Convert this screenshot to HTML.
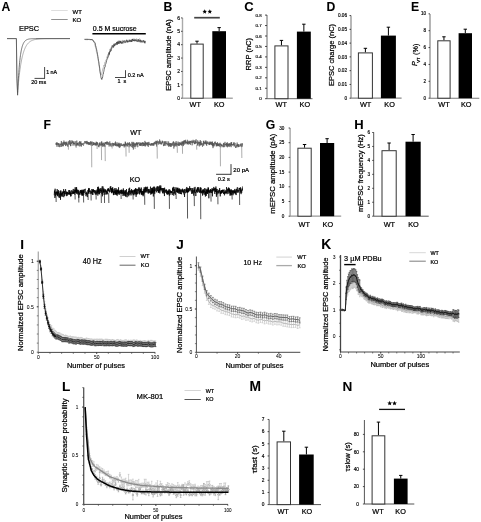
<!DOCTYPE html>
<html><head><meta charset="utf-8"><style>
html,body{margin:0;padding:0;background:#fff;}
svg{display:block;filter:blur(0.35px);}
text{font-family:"Liberation Sans", sans-serif;stroke:#000;stroke-width:0.22px;}
text[font-weight=bold]{stroke-width:0.05px;}
</style></head><body>
<svg width="481" height="522" viewBox="0 0 481 522" font-family='"Liberation Sans", sans-serif'>
<rect width="481" height="522" fill="#fff"/>
<text x="1.5" y="11.3" font-size="12.2" font-weight="bold">A</text>
<line x1="51.2" y1="10.5" x2="67.7" y2="10.5" stroke="#dedede" stroke-width="1"/>
<line x1="51.2" y1="19.5" x2="67.7" y2="19.5" stroke="#909090" stroke-width="1"/>
<text x="72.5" y="13.5" font-size="6">WT</text>
<text x="72.5" y="21.5" font-size="6">KO</text>
<text x="19" y="31.1" font-size="7.4">EPSC</text>
<polyline points="7,38.6 16.4,38.6 16.9,76.4 17.6,92.6 17.8,90.15 18,87.8 18.2,85.57 18.4,83.43 18.6,81.4 18.8,79.45 19,77.59 19.2,75.82 19.4,74.13 19.6,72.52 19.8,70.97 20,69.5 20.2,68.1 20.4,66.76 20.6,65.48 20.8,64.26 21,63.09 21.2,61.98 21.4,60.92 21.6,59.9 21.8,58.93 22,58.01 22.2,57.13 22.4,56.28 22.6,55.48 22.8,54.71 23,53.98 23.2,53.28 23.4,52.62 23.6,51.98 23.8,51.37 24,50.79 24.2,50.24 24.4,49.71 24.6,49.2 24.8,48.72 25,48.26 25.2,47.82 25.4,47.4 25.6,47 25.8,46.62 26,46.26 26.2,45.91 26.4,45.58 26.6,45.26 26.8,44.96 27,44.67 27.2,44.39 27.4,44.13 27.6,43.88 27.8,43.64 28,43.41 28.2,43.19 28.4,42.98 28.6,42.78 28.8,42.59 29,42.41 29.2,42.24 29.4,42.07 29.6,41.91 29.8,41.76 30,41.62 30.2,41.48 30.4,41.35 30.6,41.23 30.8,41.11 31,40.99 31.2,40.88 31.4,40.78 31.6,40.68 31.8,40.59 32,40.5 32.2,40.41 32.4,40.33 32.6,40.25 32.8,40.17 33,40.1 33.2,40.03 33.4,39.97 33.6,39.91 33.8,39.85 34,39.79 34.2,39.74 34.4,39.69 34.6,39.64 34.8,39.59 35,39.54 35.2,39.5 35.4,39.46 35.6,39.42 35.8,39.38 36,39.35 38,39.07 40,38.9 42,38.79 44,38.72 46,38.67 48,38.65 50,38.63 52,38.62 54,38.61 56,38.61 58,38.6 60,38.6 62,38.6 64,38.6 66,38.6 68,38.6 70,38.6" fill="none" stroke="#8a8a8a" stroke-width="0.7" stroke-linejoin="round"/>
<polyline points="7,38.6 16.4,38.6 16.9,78.22 17.6,95.2 17.8,90.58 18,86.34 18.2,82.45 18.4,78.87 18.6,75.58 18.8,72.57 19,69.8 19.2,67.25 19.4,64.91 19.6,62.77 19.8,60.79 20,58.98 20.2,57.32 20.4,55.79 20.6,54.39 20.8,53.1 21,51.92 21.2,50.83 21.4,49.83 21.6,48.92 21.8,48.08 22,47.3 22.2,46.59 22.4,45.94 22.6,45.34 22.8,44.79 23,44.29 23.2,43.82 23.4,43.4 23.6,43.01 23.8,42.65 24,42.32 24.2,42.01 24.4,41.73 24.6,41.48 24.8,41.24 25,41.03 25.2,40.83 25.4,40.65 25.6,40.48 25.8,40.33 26,40.19 26.2,40.06 26.4,39.94 26.6,39.83 26.8,39.73 27,39.64 27.2,39.55 27.4,39.47 27.6,39.4 27.8,39.34 28,39.28 28.2,39.22 28.4,39.17 28.6,39.12 28.8,39.08 29,39.04 29.2,39.01 29.4,38.97 29.6,38.94 29.8,38.91 30,38.89 30.2,38.87 30.4,38.84 30.6,38.82 30.8,38.81 31,38.79 31.2,38.77 31.4,38.76 31.6,38.75 31.8,38.73 32,38.72 32.2,38.71 32.4,38.7 32.6,38.7 32.8,38.69 33,38.68 33.2,38.67 33.4,38.67 33.6,38.66 33.8,38.66 34,38.65 34.2,38.65 34.4,38.64 34.6,38.64 34.8,38.64 35,38.63 35.2,38.63 35.4,38.63 35.6,38.63 35.8,38.62 36,38.62 38,38.61 40,38.6 42,38.6 44,38.6 46,38.6 48,38.6 50,38.6 52,38.6 54,38.6 56,38.6 58,38.6 60,38.6 62,38.6 64,38.6 66,38.6 68,38.6 70,38.6" fill="none" stroke="#4a4a4a" stroke-width="0.75" stroke-linejoin="round"/>
<line x1="44.6" y1="67" x2="44.6" y2="78.5" stroke="#333" stroke-width="0.9"/>
<line x1="34.5" y1="78.4" x2="45" y2="78.4" stroke="#333" stroke-width="0.9"/>
<text x="46.2" y="74.1" font-size="5.3">1 nA</text>
<text x="31.2" y="84.3" font-size="5.5">20 ms</text>
<text x="92.8" y="30.5" font-size="7">0.5 M sucrose</text>
<line x1="92.4" y1="33.8" x2="145.8" y2="33.8" stroke="#000" stroke-width="1.4"/>
<polyline points="84.4,38.94 84.7,39.26 85,39.1 85.3,39.35 85.6,39.39 85.9,38.85 86.2,38.81 86.5,39.65 86.8,39.09 87.1,39.08 87.4,39.86 87.7,39.35 88,39.74 88.3,39.41 88.6,39.6 88.9,39.15 89.2,39.67 89.5,39.93 89.8,39.62 90.1,39.87 90.4,39.83 90.7,39.26 91,39.98 91.3,39.85 91.6,39.59 91.9,39.35 92.2,40.22 92.5,39.86 92.8,40.42 93.1,41.03 93.4,41.31 93.7,41.97 94,41.89 94.3,42.75 94.6,43.29 94.9,44.89 95.2,46.32 95.5,45.87 95.8,47.06 96.1,48.7 96.4,51.67 96.7,52.09 97,53.95 97.3,54.78 97.6,56.78 97.9,58.12 98.2,59.64 98.5,61.69 98.8,63.39 99.1,65.96 99.4,67.45 99.7,69.88 100,71.67 100.3,73.35 100.6,73.85 100.9,73.52 101.2,74.69 101.5,74.67 101.8,73.72 102.1,71.9 102.4,71.05 102.7,68.9 103,69 103.3,67.66 103.6,66.26 103.9,64.99 104.2,65.74 104.5,65.19 104.8,62.56 105.1,63.16 105.4,61.55 105.7,60.21 106,59.67 106.3,59.85 106.6,59.3 106.9,56.88 107.2,57.25 107.5,55.35 107.8,55.93 108.1,54.05 108.4,55.48 108.7,55.12 109,52.52 109.3,53.94 109.6,50.64 109.9,49.16 110.2,50.69 110.5,47.87 110.8,47.98 111.1,48.27 111.4,48.53 111.7,46.16 112,45.31 112.3,48.3 112.6,45.77 112.9,48.04 113.2,47.48 113.5,45.09 113.8,45.11 114.1,45.03 114.4,45.21 114.7,44.76 115,44.47 115.3,44.57 115.6,45.71 115.9,43.83 116.2,43.38 116.5,44.4 116.8,42.32 117.1,42.43 117.4,44.99 117.7,43.02 118,42.99 118.3,40.69 118.6,42.23 118.9,42.84 119.2,40.55 119.5,42.89 119.8,42.9 120.1,40.57 120.4,42.79 120.7,42.1 121,42.9 121.3,41.54 121.6,42.91 121.9,42.99 122.2,40.08 122.5,40.18 122.8,42.6 123.1,43.7 123.4,40.8 123.7,41.57 124,42.07 124.3,40.94 124.6,41.07 124.9,40.82 125.2,41 125.5,41.86 125.8,40.63 126.1,40.89 126.4,42.43 126.7,39.4 127,41.53 127.3,42.15 127.6,40.4 127.9,40.01 128.2,42.29 128.5,39.98 128.8,39.73 129.1,40.68 129.4,41.68 129.7,39.25 130,40.09 130.3,40.08 130.6,42.03 130.9,40.4 131.2,42.02 131.5,39.22 131.8,39.84 132.1,41.04 132.4,41.93 132.7,40.15 133,39.19 133.3,38.72 133.6,40.31 133.9,38.9 134.2,41.31 134.5,41.39 134.8,38.72 135.1,39.05 135.4,41.14 135.7,40.53 136,41.23 136.3,39.43 136.6,38.61 136.9,39.31 137.2,41.36 137.5,39.31 137.8,39.66 138.1,39.98 138.4,40.04 138.7,40.04 139,42.13 139.3,39.12 139.6,38.56 139.9,42.36 140.2,42.18 140.5,42.7 140.8,40.58 141.1,42.73 141.4,42.73 141.7,40 142,42.18 142.3,42.64 142.6,42.03 142.9,41.55 143.2,40.74 143.5,41.08 143.8,40.76 144.1,40.26 144.4,42.47 144.7,41.4 145,43.62 145.3,40.69" fill="none" stroke="#a8a8a8" stroke-width="0.7" stroke-linejoin="round"/>
<polyline points="84.4,39.29 84.7,39.4 85,39.45 85.3,39.58 85.6,39.45 85.9,39.6 86.2,38.95 86.5,39.29 86.8,39.67 87.1,39.46 87.4,39.67 87.7,39.09 88,39.38 88.3,39.24 88.6,39.5 88.9,39.55 89.2,39.17 89.5,39.35 89.8,39.43 90.1,39.94 90.4,39.86 90.7,39.44 91,39.95 91.3,39.49 91.6,39.88 91.9,39.54 92.2,39.48 92.5,40.17 92.8,39.91 93.1,40.25 93.4,41.16 93.7,41.42 94,41.32 94.3,42.16 94.6,42.18 94.9,42.62 95.2,42.99 95.5,45.33 95.8,46.2 96.1,47.86 96.4,48.99 96.7,49.82 97,51.63 97.3,53.06 97.6,54.75 97.9,56.35 98.2,58.54 98.5,60.84 98.8,61.78 99.1,64.64 99.4,66.11 99.7,68.31 100,71.33 100.3,73.07 100.6,75.07 100.9,76.96 101.2,78.62 101.5,78.45 101.8,79.56 102.1,77.87 102.4,77.99 102.7,76.8 103,74.23 103.3,74.06 103.6,72.1 103.9,71.22 104.2,69.16 104.5,68.02 104.8,67.02 105.1,66.98 105.4,64.64 105.7,64.28 106,63.34 106.3,62.47 106.6,60.69 106.9,59.81 107.2,59.18 107.5,58.67 107.8,56.77 108.1,57.22 108.4,56.47 108.7,55.77 109,52.5 109.3,54.58 109.6,51.38 109.9,51.48 110.2,51.65 110.5,51.93 110.8,49.56 111.1,50.67 111.4,48.89 111.7,47.55 112,47.11 112.3,46.33 112.6,45.66 112.9,45.51 113.2,46.77 113.5,47.33 113.8,44.46 114.1,43.75 114.4,46.2 114.7,44.55 115,44.02 115.3,43.36 115.6,44.28 115.9,44.83 116.2,43.57 116.5,43.32 116.8,42.07 117.1,44.5 117.4,41.7 117.7,42.93 118,43.82 118.3,41.54 118.6,43.26 118.9,43.87 119.2,42.86 119.5,43.29 119.8,41.19 120.1,42.13 120.4,41.23 120.7,43.26 121,41.57 121.3,41.99 121.6,43.58 121.9,43.09 122.2,43.42 122.5,41.8 122.8,41.86 123.1,42.53 123.4,41.73 123.7,41.12 124,41.41 124.3,40.59 124.6,41.24 124.9,43.03 125.2,42.9 125.5,41.86 125.8,41.43 126.1,40.9 126.4,40.11 126.7,40.61 127,42.1 127.3,42.31 127.6,40.74 127.9,41.97 128.2,41.89 128.5,41.61 128.8,41.47 129.1,41.71 129.4,40.48 129.7,41.46 130,40.14 130.3,40.71 130.6,41.51 130.9,41.22 131.2,39.98 131.5,41.88 131.8,40.94 132.1,40.69 132.4,38.93 132.7,40.48 133,39.54 133.3,40.75 133.6,40.08 133.9,41.09 134.2,40.53 134.5,40.93 134.8,39.53 135.1,40.37 135.4,40.63 135.7,40.94 136,39.55 136.3,41.08 136.6,41.2 136.9,40.7 137.2,41.61 137.5,41.6 137.8,40.33 138.1,40.41 138.4,39.36 138.7,41.42 139,41.76 139.3,40.43 139.6,41.11 139.9,41.24 140.2,41.35 140.5,39.77 140.8,41.68 141.1,41.17 141.4,41.52 141.7,40.87 142,41.57 142.3,42.11 142.6,41.79 142.9,42.13 143.2,40.17 143.5,40.7 143.8,41.68 144.1,42.43 144.4,41.27 144.7,42.81 145,42.77 145.3,41.14" fill="none" stroke="#3a3a3a" stroke-width="0.7" stroke-linejoin="round"/>
<line x1="125.5" y1="70.2" x2="125.5" y2="77.9" stroke="#333" stroke-width="0.9"/>
<line x1="115" y1="77.5" x2="125.9" y2="77.5" stroke="#333" stroke-width="0.9"/>
<text x="127.7" y="76.8" font-size="5.5">0.2 nA</text>
<text x="117.5" y="83" font-size="5.5">1&#160;&#160;s</text>
<text x="163.5" y="11.4" font-size="12.2" font-weight="bold">B</text>
<line x1="182.5" y1="17.9" x2="182.5" y2="98.2" stroke="#aaa" stroke-width="1.4"/>
<line x1="182.5" y1="98.2" x2="232.8" y2="98.2" stroke="#aaa" stroke-width="1.4"/>
<line x1="181" y1="98.2" x2="182.5" y2="98.2" stroke="#222" stroke-width="0.8"/>
<text x="180" y="100" font-size="5" text-anchor="end" style="stroke:#000;stroke-width:0.16px">0</text>
<line x1="181" y1="84.82" x2="182.5" y2="84.82" stroke="#222" stroke-width="0.8"/>
<text x="180" y="86.62" font-size="5" text-anchor="end" style="stroke:#000;stroke-width:0.16px">1</text>
<line x1="181" y1="71.44" x2="182.5" y2="71.44" stroke="#222" stroke-width="0.8"/>
<text x="180" y="73.24" font-size="5" text-anchor="end" style="stroke:#000;stroke-width:0.16px">2</text>
<line x1="181" y1="58.06" x2="182.5" y2="58.06" stroke="#222" stroke-width="0.8"/>
<text x="180" y="59.86" font-size="5" text-anchor="end" style="stroke:#000;stroke-width:0.16px">3</text>
<line x1="181" y1="44.68" x2="182.5" y2="44.68" stroke="#222" stroke-width="0.8"/>
<text x="180" y="46.48" font-size="5" text-anchor="end" style="stroke:#000;stroke-width:0.16px">4</text>
<line x1="181" y1="31.3" x2="182.5" y2="31.3" stroke="#222" stroke-width="0.8"/>
<text x="180" y="33.1" font-size="5" text-anchor="end" style="stroke:#000;stroke-width:0.16px">5</text>
<line x1="181" y1="17.92" x2="182.5" y2="17.92" stroke="#222" stroke-width="0.8"/>
<text x="180" y="19.72" font-size="5" text-anchor="end" style="stroke:#000;stroke-width:0.16px">6</text>
<line x1="197" y1="43.6" x2="197" y2="41.2" stroke="#000" stroke-width="1"/>
<line x1="195.3" y1="41.2" x2="198.7" y2="41.2" stroke="#000" stroke-width="1"/>
<rect x="190.8" y="44.1" width="12.4" height="54.1" fill="#fff" stroke="#333" stroke-width="1"/>
<line x1="219.15" y1="31.2" x2="219.15" y2="27.6" stroke="#000" stroke-width="1"/>
<line x1="217.45" y1="27.6" x2="220.85" y2="27.6" stroke="#000" stroke-width="1"/>
<rect x="212.3" y="31.2" width="13.7" height="67" fill="#000"/>
<text x="195.3" y="106.9" font-size="7.3" text-anchor="middle">WT</text>
<text x="219.2" y="106.9" font-size="7.3" text-anchor="middle">KO</text>
<text x="170.8" y="55" font-size="7.5" text-anchor="middle" transform="rotate(-90 170.8 55)">EPSC amplitude (nA)</text>
<line x1="194.2" y1="17.7" x2="219.8" y2="17.7" stroke="#444" stroke-width="1.7"/>
<polygon points="204.7,9.34 205.33,10.87 206.98,11 205.73,12.07 206.11,13.68 204.7,12.82 203.29,13.68 203.67,12.07 202.42,11 204.07,10.87" fill="#000"/>
<polygon points="209.8,9.34 210.43,10.87 212.08,11 210.83,12.07 211.21,13.68 209.8,12.82 208.39,13.68 208.77,12.07 207.52,11 209.17,10.87" fill="#000"/>
<text x="244.2" y="11.4" font-size="13" font-weight="bold">C</text>
<line x1="267" y1="15" x2="267" y2="98.7" stroke="#666" stroke-width="1"/>
<line x1="267" y1="98.7" x2="312.5" y2="98.7" stroke="#666" stroke-width="1"/>
<line x1="265" y1="98.7" x2="267" y2="98.7" stroke="#222" stroke-width="0.8"/>
<text x="261.7" y="100.28" font-size="4.4" text-anchor="end" style="stroke:#000;stroke-width:0.16px">0</text>
<line x1="265" y1="88.25" x2="267" y2="88.25" stroke="#222" stroke-width="0.8"/>
<text x="261.7" y="89.83" font-size="4.4" text-anchor="end" style="stroke:#000;stroke-width:0.16px">0.1</text>
<line x1="265" y1="77.8" x2="267" y2="77.8" stroke="#222" stroke-width="0.8"/>
<text x="261.7" y="79.38" font-size="4.4" text-anchor="end" style="stroke:#000;stroke-width:0.16px">0.2</text>
<line x1="265" y1="67.35" x2="267" y2="67.35" stroke="#222" stroke-width="0.8"/>
<text x="261.7" y="68.93" font-size="4.4" text-anchor="end" style="stroke:#000;stroke-width:0.16px">0.3</text>
<line x1="265" y1="56.9" x2="267" y2="56.9" stroke="#222" stroke-width="0.8"/>
<text x="261.7" y="58.48" font-size="4.4" text-anchor="end" style="stroke:#000;stroke-width:0.16px">0.4</text>
<line x1="265" y1="46.45" x2="267" y2="46.45" stroke="#222" stroke-width="0.8"/>
<text x="261.7" y="48.03" font-size="4.4" text-anchor="end" style="stroke:#000;stroke-width:0.16px">0.5</text>
<line x1="265" y1="36" x2="267" y2="36" stroke="#222" stroke-width="0.8"/>
<text x="261.7" y="37.58" font-size="4.4" text-anchor="end" style="stroke:#000;stroke-width:0.16px">0.6</text>
<line x1="265" y1="25.55" x2="267" y2="25.55" stroke="#222" stroke-width="0.8"/>
<text x="261.7" y="27.13" font-size="4.4" text-anchor="end" style="stroke:#000;stroke-width:0.16px">0.7</text>
<line x1="265" y1="15.1" x2="267" y2="15.1" stroke="#222" stroke-width="0.8"/>
<text x="261.7" y="16.68" font-size="4.4" text-anchor="end" style="stroke:#000;stroke-width:0.16px">0.8</text>
<line x1="281.45" y1="45.4" x2="281.45" y2="40.4" stroke="#000" stroke-width="1"/>
<line x1="279.75" y1="40.4" x2="283.15" y2="40.4" stroke="#000" stroke-width="1"/>
<rect x="274.9" y="45.9" width="13.1" height="52.8" fill="#fff" stroke="#333" stroke-width="1"/>
<line x1="303.85" y1="31.6" x2="303.85" y2="24.2" stroke="#000" stroke-width="1"/>
<line x1="302.15" y1="24.2" x2="305.55" y2="24.2" stroke="#000" stroke-width="1"/>
<rect x="296.9" y="31.6" width="13.9" height="67.1" fill="#000"/>
<text x="281.3" y="106.7" font-size="7.3" text-anchor="middle">WT</text>
<text x="304.8" y="106.7" font-size="7.3" text-anchor="middle">KO</text>
<text x="251.3" y="54.2" font-size="7.5" text-anchor="middle" transform="rotate(-90 251.3 54.2)">RRP (nC)</text>
<text x="326.5" y="11.4" font-size="12.2" font-weight="bold">D</text>
<line x1="351" y1="15.6" x2="351" y2="98.2" stroke="#888" stroke-width="1.2"/>
<line x1="351" y1="98.2" x2="401.6" y2="98.2" stroke="#888" stroke-width="1.2"/>
<line x1="349.5" y1="98.2" x2="351" y2="98.2" stroke="#222" stroke-width="0.8"/>
<text x="347" y="99.89" font-size="4.7" text-anchor="end" style="stroke:#000;stroke-width:0.16px">0</text>
<line x1="349.5" y1="84.43" x2="351" y2="84.43" stroke="#222" stroke-width="0.8"/>
<text x="347" y="86.12" font-size="4.7" text-anchor="end" style="stroke:#000;stroke-width:0.16px">0.01</text>
<line x1="349.5" y1="70.66" x2="351" y2="70.66" stroke="#222" stroke-width="0.8"/>
<text x="347" y="72.35" font-size="4.7" text-anchor="end" style="stroke:#000;stroke-width:0.16px">0.02</text>
<line x1="349.5" y1="56.89" x2="351" y2="56.89" stroke="#222" stroke-width="0.8"/>
<text x="347" y="58.58" font-size="4.7" text-anchor="end" style="stroke:#000;stroke-width:0.16px">0.03</text>
<line x1="349.5" y1="43.12" x2="351" y2="43.12" stroke="#222" stroke-width="0.8"/>
<text x="347" y="44.81" font-size="4.7" text-anchor="end" style="stroke:#000;stroke-width:0.16px">0.04</text>
<line x1="349.5" y1="29.35" x2="351" y2="29.35" stroke="#222" stroke-width="0.8"/>
<text x="347" y="31.04" font-size="4.7" text-anchor="end" style="stroke:#000;stroke-width:0.16px">0.05</text>
<line x1="349.5" y1="15.58" x2="351" y2="15.58" stroke="#222" stroke-width="0.8"/>
<text x="347" y="17.27" font-size="4.7" text-anchor="end" style="stroke:#000;stroke-width:0.16px">0.06</text>
<line x1="365.4" y1="52.4" x2="365.4" y2="48.3" stroke="#000" stroke-width="1"/>
<line x1="363.7" y1="48.3" x2="367.1" y2="48.3" stroke="#000" stroke-width="1"/>
<rect x="358.4" y="52.9" width="14" height="45.3" fill="#fff" stroke="#333" stroke-width="1"/>
<line x1="388.4" y1="35.6" x2="388.4" y2="27.2" stroke="#000" stroke-width="1"/>
<line x1="386.7" y1="27.2" x2="390.1" y2="27.2" stroke="#000" stroke-width="1"/>
<rect x="380.9" y="35.6" width="15" height="62.6" fill="#000"/>
<text x="365.6" y="106.9" font-size="7.3" text-anchor="middle">WT</text>
<text x="389.6" y="106.9" font-size="7.3" text-anchor="middle">KO</text>
<text x="334.2" y="55" font-size="7.5" text-anchor="middle" transform="rotate(-90 334.2 55)">EPSC charge (nC)</text>
<text x="411" y="11.4" font-size="12.2" font-weight="bold">E</text>
<line x1="430" y1="14" x2="430" y2="98.2" stroke="#777" stroke-width="1.1"/>
<line x1="430" y1="98.2" x2="479.3" y2="98.2" stroke="#777" stroke-width="1.1"/>
<line x1="428.5" y1="98.2" x2="430" y2="98.2" stroke="#222" stroke-width="0.8"/>
<text x="426" y="99.86" font-size="4.6" text-anchor="end" style="stroke:#000;stroke-width:0.16px">0</text>
<line x1="428.5" y1="81.32" x2="430" y2="81.32" stroke="#222" stroke-width="0.8"/>
<text x="426" y="82.98" font-size="4.6" text-anchor="end" style="stroke:#000;stroke-width:0.16px">2</text>
<line x1="428.5" y1="64.44" x2="430" y2="64.44" stroke="#222" stroke-width="0.8"/>
<text x="426" y="66.1" font-size="4.6" text-anchor="end" style="stroke:#000;stroke-width:0.16px">4</text>
<line x1="428.5" y1="47.56" x2="430" y2="47.56" stroke="#222" stroke-width="0.8"/>
<text x="426" y="49.22" font-size="4.6" text-anchor="end" style="stroke:#000;stroke-width:0.16px">6</text>
<line x1="428.5" y1="30.68" x2="430" y2="30.68" stroke="#222" stroke-width="0.8"/>
<text x="426" y="32.34" font-size="4.6" text-anchor="end" style="stroke:#000;stroke-width:0.16px">8</text>
<line x1="428.5" y1="13.8" x2="430" y2="13.8" stroke="#222" stroke-width="0.8"/>
<text x="426" y="15.46" font-size="4.6" text-anchor="end" style="stroke:#000;stroke-width:0.16px">10</text>
<line x1="443.95" y1="40.3" x2="443.95" y2="36.8" stroke="#000" stroke-width="1"/>
<line x1="442.25" y1="36.8" x2="445.65" y2="36.8" stroke="#000" stroke-width="1"/>
<rect x="437.8" y="40.8" width="12.3" height="57.4" fill="#fff" stroke="#333" stroke-width="1"/>
<line x1="465.3" y1="33.2" x2="465.3" y2="29.2" stroke="#000" stroke-width="1"/>
<line x1="463.6" y1="29.2" x2="467" y2="29.2" stroke="#000" stroke-width="1"/>
<rect x="458.6" y="33.2" width="13.4" height="65" fill="#000"/>
<text x="444" y="106.9" font-size="7.3" text-anchor="middle">WT</text>
<text x="466.2" y="106.9" font-size="7.3" text-anchor="middle">KO</text>
<text x="417.5" y="65.9" font-size="7.3" transform="rotate(-90 417.5 65.9)" style="font-style:italic">P</text>
<text x="419.9" y="62.7" font-size="4.1" transform="rotate(-90 419.9 62.7)">VT</text>
<text x="417.8" y="54.9" font-size="7.2" transform="rotate(-90 417.8 54.9)">(%)</text>
<text x="43.6" y="129.2" font-size="12.2" font-weight="bold">F</text>
<text x="130.3" y="134.6" font-size="7.2">WT</text>
<text x="129.7" y="181.5" font-size="7.2">KO</text>
<polyline points="55.8,143.89 55.95,143.54 56.1,144.73 56.25,142.78 56.4,144.91 56.55,145.09 56.7,142.5 56.85,144.34 57,146.82 57.15,144.81 57.3,142.57 57.45,143.89 57.6,143.9 57.75,144.77 57.9,145.13 58.05,143.22 58.2,144.23 58.35,143.64 58.5,144.65 58.65,143.35 58.8,146.97 58.95,144.87 59.1,145.35 59.25,143.78 59.4,143.58 59.55,145.3 59.7,147.18 59.85,146.73 60,145.47 60.15,146.64 60.3,146.54 60.45,144.76 60.6,143.66 60.75,145.03 60.9,143.93 61.05,144.49 61.2,142.97 61.35,140.98 61.5,143.37 61.65,146.85 61.8,146.15 61.95,142.66 62.1,146.2 62.25,146.02 62.4,143.55 62.55,144.47 62.7,144.33 62.85,145.26 63,145.85 63.15,141.96 63.3,146.29 63.45,142.62 63.6,143.49 63.75,143.34 63.9,140.55 64.05,141.05 64.2,144.7 64.35,142.29 64.5,142.16 64.65,144.45 64.8,144.43 64.95,142.32 65.1,142.04 65.25,143.33 65.4,144.37 65.55,146.07 65.7,141.84 65.85,144 66,144.72 66.15,142.67 66.3,145.44 66.45,144.44 66.6,142.72 66.75,144.22 66.9,141.61 67.05,143.59 67.2,144.1 67.35,144.51 67.5,145.73 67.65,145.86 67.8,144.22 67.95,146.94 68.1,143.65 68.25,144.3 68.4,142.44 68.55,141.35 68.7,142.49 68.85,143.49 69,142.52 69.15,144.84 69.3,141.54 69.45,140.38 69.6,142.55 69.75,143.71 69.9,144.23 70.05,140.35 70.2,142.45 70.35,141.6 70.5,146.13 70.65,143.43 70.8,146.08 70.95,143.91 71.1,142.51 71.25,143.97 71.4,142.84 71.55,142.95 71.7,143.16 71.85,140.37 72,143.16 72.15,143.03 72.3,141.89 72.45,142.57 72.6,140.93 72.75,140.79 72.9,143.07 73.05,145.65 73.2,142.95 73.35,142.34 73.5,143.82 73.65,142.8 73.8,143.63 73.95,141.13 74.1,144.43 74.25,143.45 74.4,144.01 74.55,142.78 74.7,143.37 74.85,145.04 75,145.54 75.15,144.85 75.3,144.72 75.45,142.62 75.6,141.93 75.75,141.22 75.9,144.58 76.05,146.55 76.2,144.51 76.35,144.39 76.5,144.62 76.65,145.77 76.8,140.59 76.95,144.41 77.1,143.11 77.25,145.34 77.4,142.89 77.55,143.94 77.7,143.4 77.85,145.22 78,142.88 78.15,143.71 78.3,144.31 78.45,145.52 78.6,144.61 78.75,144.08 78.9,142.27 79.05,143.11 79.2,143.47 79.35,146.42 79.5,141.3 79.65,142.34 79.8,141.8 79.95,143.51 80.1,144.02 80.25,142.44 80.4,143.44 80.55,142.55 80.7,146.25 80.85,141.23 81,143.86 81.15,144.93 81.3,144.89 81.45,146.54 81.6,143.09 81.75,143.49 81.9,144.6 82.05,145.04 82.2,144.24 82.35,143.77 82.5,144.63 82.65,144.58 82.8,143.27 82.95,143.89 83.1,144 83.25,145.29 83.4,145.26 83.55,145.67 83.7,144.42 83.85,143.08 84,143.77 84.15,142.64 84.3,143.19 84.45,142.78 84.6,141.6 84.75,142.06 84.9,141.29 85.05,141.26 85.2,141.1 85.35,143.29 85.5,141.63 85.65,141.54 85.8,142.47 85.95,143.06 86.1,143.59 86.25,142.61 86.4,141.22 86.55,143.66 86.7,144.27 86.85,142.92 87,140.89 87.15,142.85 87.3,143.66 87.45,143.69 87.6,141.8 87.75,144.34 87.9,143.9 88.05,142.04 88.2,143.61 88.35,143.91 88.5,142.35 88.65,144.82 88.8,144.81 88.95,142.33 89.1,144.44 89.25,144.7 89.4,143.03 89.55,144.47 89.7,144.03 89.85,142.02 90,143.18 90.15,144.68 90.3,142.96 90.45,141.35 90.6,142.33 90.75,144.33 90.9,144.48 91.05,141.68 91.2,145.82 91.35,142.38 91.5,143.58 91.65,143.21 91.8,143.2 91.95,141.51 92.1,141.57 92.25,142.58 92.4,142.59 92.55,145.77 92.7,144.56 92.85,144.37 93,144.45 93.15,142.06 93.3,144.61 93.45,143.92 93.6,145.01 93.75,142.42 93.9,145.16 94.05,143.09 94.2,142.94 94.35,142.73 94.5,143.21 94.65,144.59 94.8,143.03 94.95,144 95.1,144.95 95.25,145.5 95.4,143.29 95.55,144.62 95.7,143.3 95.85,145.09 96,143.45 96.15,141.74 96.3,145.76 96.45,143.72 96.6,141.93 96.75,142.02 96.9,144.96 97.05,143.03 97.2,142.58 97.35,144.23 97.5,142.51 97.65,144.67 97.8,143.71 97.95,144.49 98.1,146.08 98.25,145.23 98.4,146.75 98.55,145.97 98.7,145.83 98.85,145.58 99,147.24 99.15,143.31 99.3,144.93 99.45,142.58 99.6,145.56 99.75,144.75 99.9,145.32 100.05,143.89 100.2,142.58 100.35,145 100.5,144.55 100.65,144.47 100.8,144.54 100.95,146.12 101.1,145.46 101.25,142.9 101.4,141.74 101.55,145.62 101.7,141.41 101.85,141.79 102,143.82 102.15,145.04 102.3,143.4 102.45,145.48 102.6,144.34 102.75,143.79 102.9,147.04 103.05,142.7 103.2,143.42 103.35,146.08 103.5,145.98 103.65,144.74 103.8,144.11 103.95,142.79 104.1,144.4 104.25,144.43 104.4,143.84 104.55,145.84 104.7,143.86 104.85,147.02 105,144.49 105.15,142.1 105.3,143.93 105.45,142.64 105.6,142.22 105.75,142.97 105.9,143.59 106.05,142.23 106.2,142.39 106.35,143.89 106.5,143.42 106.65,141.9 106.8,144.58 106.95,144.94 107.1,141.33 107.25,142.78 107.4,142.16 107.55,142.72 107.7,143.38 107.85,144.47 108,142.2 108.15,144.89 108.3,144.47 108.45,143.56 108.6,143.58 108.75,142.5 108.9,142.86 109.05,146.44 109.2,145.92 109.35,143.92 109.5,143.07 109.65,142.88 109.8,141.38 109.95,144.79 110.1,143.48 110.25,146.25 110.4,145.53 110.55,143.54 110.7,143.43 110.85,143.8 111,144.62 111.15,144.77 111.3,146.62 111.45,146.33 111.6,145.77 111.75,143.96 111.9,143.3 112.05,144.46 112.2,143.38 112.35,142.85 112.5,142.91 112.65,144.39 112.8,146.28 112.95,145.26 113.1,143.55 113.25,146.19 113.4,145.12 113.55,143.22 113.7,144.6 113.85,144.78 114,143.76 114.15,143.35 114.3,144.77 114.45,144.5 114.6,143.9 114.75,145.62 114.9,145.1 115.05,142.49 115.2,144.99 115.35,144.31 115.5,141.55 115.65,146.07 115.8,143.74 115.95,145.44 116.1,145.65 116.25,143.76 116.4,144.24 116.55,144.19 116.7,146.32 116.85,144.5 117,142.28 117.15,143.91 117.3,143.87 117.45,146.12 117.6,144.58 117.75,146.26 117.9,145.62 118.05,143.69 118.2,145.48 118.35,144.82 118.5,145.84 118.65,143.5 118.8,147.24 118.95,142.67 119.1,145.03 119.25,146.52 119.4,143.62 119.55,145.63 119.7,148.04 119.85,145.67 120,143.89 120.15,144.15 120.3,146.73 120.45,146.12 120.6,145.52 120.75,144.47 120.9,143.13 121.05,145.85 121.2,146.01 121.35,143.68 121.5,143.93 121.65,144.58 121.8,145.53 121.95,145.39 122.1,146.07 122.25,145.19 122.4,146.05 122.55,145.3 122.7,144.67 122.85,145.02 123,144.56 123.15,144.67 123.3,143.95 123.45,145.77 123.6,144.23 123.75,144.05 123.9,143.77 124.05,147.02 124.2,147.43 124.35,144.09 124.5,144.13 124.65,146.21 124.8,144.49 124.95,146 125.1,143.68 125.25,141.59 125.4,146.45 125.55,142.2 125.7,143.93 125.85,143.27 126,144.98 126.15,143.86 126.3,144.74 126.45,144.39 126.6,145.49 126.75,144.64 126.9,146.38 127.05,144.61 127.2,143.08 127.35,146.37 127.5,146.04 127.65,142.77 127.8,142.42 127.95,143.56 128.1,143.3 128.25,144.51 128.4,144.31 128.55,145.09 128.7,143.1 128.85,144.01 129,146.61 129.15,147.26 129.3,144.59 129.45,142.19 129.6,145.47 129.75,144.34 129.9,143.51 130.05,144.75 130.2,145.69 130.35,144.39 130.5,145.74 130.65,145.8 130.8,144.73 130.95,143.72 131.1,145.85 131.25,147.07 131.4,145.48 131.55,145.06 131.7,143.62 131.85,141.86 132,143.03 132.15,145.05 132.3,145.59 132.45,147.69 132.6,144.86 132.75,142.85 132.9,146.09 133.05,141.87 133.2,144.47 133.35,149.56 133.5,146.12 133.65,142.65 133.8,143.57 133.95,143.96 134.1,146.27 134.25,142.77 134.4,144.97 134.55,147.16 134.7,144.8 134.85,143.99 135,146.07 135.15,144.18 135.3,145.62 135.45,145.29 135.6,144.12 135.75,146.99 135.9,143.05 136.05,145.8 136.2,142.76 136.35,143.84 136.5,142.7 136.65,144.48 136.8,142.67 136.95,144.29 137.1,142.74 137.25,145.02 137.4,142.69 137.55,143.91 137.7,147.19 137.85,146.86 138,143.75 138.15,143.78 138.3,142.77 138.45,142.98 138.6,143.73 138.75,143.91 138.9,142.87 139.05,142 139.2,143.18 139.35,145.14 139.5,144.55 139.65,143.74 139.8,145.65 139.95,143.78 140.1,145.89 140.25,143.24 140.4,144.15 140.55,145.62 140.7,142.5 140.85,145.34 141,144.43 141.15,143.04 141.3,144.02 141.45,144.84 141.6,145.58 141.75,142.98 141.9,143.62 142.05,142.79 142.2,146.2 142.35,142.24 142.5,143.43 142.65,142.94 142.8,144.16 142.95,143.49 143.1,142.86 143.25,146.02 143.4,144.39 143.55,142.56 143.7,145.88 143.85,145.08 144,142.99 144.15,143.97 144.3,144.11 144.45,145.53 144.6,143.58 144.75,145.45 144.9,140.89 145.05,143.88 145.2,146.54 145.35,144.14 145.5,143.07 145.65,142 145.8,145.83 145.95,142.83 146.1,144.09 146.25,143.68 146.4,143.27 146.55,142.6 146.7,145.02 146.85,144.83 147,143.05 147.15,144.43 147.3,143.41 147.45,145.73 147.6,144.09 147.75,142.4 147.9,144.15 148.05,142.23 148.2,146.76 148.35,146.95 148.5,143.78 148.65,144.69 148.8,143.77 148.95,141.87 149.1,143.26 149.25,144.44 149.4,144.99 149.55,143.75 149.7,143.64 149.85,144.32 150,144.16 150.15,144.32 150.3,145.69 150.45,143.8 150.6,144.04 150.75,145.1 150.9,145.39 151.05,145.01 151.2,143.18 151.35,144.64 151.5,144.45 151.65,145.14 151.8,143.33 151.95,145.63 152.1,143.06 152.25,144.19 152.4,145.46 152.55,144.26 152.7,144.58 152.85,143.42 153,144.18 153.15,143.66 153.3,145.01 153.45,145 153.6,143.09 153.75,145.99 153.9,142.83 154.05,142.36 154.2,143.68 154.35,144.25 154.5,142.72 154.65,142.08 154.8,144.32 154.95,143.42 155.1,141.77 155.25,141.21 155.4,141.45 155.55,143.88 155.7,144.22 155.85,142.63 156,143.43 156.15,140.75 156.3,141.31 156.45,144.32 156.6,146.49 156.75,141.23 156.9,144.82 157.05,141.73 157.2,143.19 157.35,141.89 157.5,140.63 157.65,140.84 157.8,140.94 157.95,141.02 158.1,142.5 158.25,143.24 158.4,142.28 158.55,143.71 158.7,144.59 158.85,141.24 159,141.64 159.15,141.12 159.3,141.83 159.45,143.78 159.6,139.48 159.75,141.74 159.9,142.15 160.05,141.92 160.2,143.56 160.35,142.66 160.5,143.73 160.65,143.56 160.8,140.77 160.95,142.99 161.1,144.61 161.25,143.05 161.4,143.62 161.55,142.8 161.7,142.34 161.85,144.22 162,142.47 162.15,142.6 162.3,141.94 162.45,140.73 162.6,143.04 162.75,141.27 162.9,141.03 163.05,141.47 163.2,142.62 163.35,142.6 163.5,146.1 163.65,144.63 163.8,144.46 163.95,145.52 164.1,143.75 164.25,141.85 164.4,142.09 164.55,145.59 164.7,144.06 164.85,141.01 165,142.75 165.15,143.82 165.3,143.01 165.45,141.47 165.6,145.5 165.75,145.55 165.9,145.24 166.05,145.32 166.2,143.49 166.35,143.94 166.5,142.92 166.65,143.44 166.8,143.56 166.95,141.25 167.1,143.41 167.25,144.66 167.4,144.4 167.55,144.51 167.7,145.41 167.85,143.09 168,143.88 168.15,144.69 168.3,143.64 168.45,145.68 168.6,141.45 168.75,142.49 168.9,147.01 169.05,144.76 169.2,144.75 169.35,144.89 169.5,143.04 169.65,145.99 169.8,144.72 169.95,145.37 170.1,145.31 170.25,143.35 170.4,144.13 170.55,146.73 170.7,143.42 170.85,143.97 171,143.09 171.15,146.89 171.3,145.59 171.45,143.68 171.6,145.67 171.75,145.68 171.9,144.03 172.05,143.84 172.2,144.97 172.35,142.72 172.5,142.71 172.65,143.43 172.8,143.16 172.95,145.99 173.1,144.22 173.25,141.64 173.4,142.92 173.55,141.51 173.7,146.08 173.85,148.58 174,145.68 174.15,142.51 174.3,145.1 174.45,144.38 174.6,146.59 174.75,144.79 174.9,144.46 175.05,142.64 175.2,143.16 175.35,144.33 175.5,144.46 175.65,146.23 175.8,142.79 175.95,145.05 176.1,141.17 176.25,143.1 176.4,144.05 176.55,143.42 176.7,146.42 176.85,143.79 177,144.97 177.15,145.25 177.3,144.63 177.45,143.87 177.6,144.85 177.75,144.22 177.9,142.21 178.05,141.57 178.2,145.56 178.35,143.67 178.5,144.16 178.65,145.9 178.8,145.72 178.95,142.27 179.1,144.73 179.25,143.56 179.4,145.79 179.55,144.92 179.7,142.59 179.85,142.17 180,143.11 180.15,143.77 180.3,144.49 180.45,143.18 180.6,143.17 180.75,144.63 180.9,142.85 181.05,145.3 181.2,141.79 181.35,144.67 181.5,145.19 181.65,145.54 181.8,143.51 181.95,144.76 182.1,141.59 182.25,141.8 182.4,142.57 182.55,143.68 182.7,141.38 182.85,146.19 183,141.88 183.15,144.23 183.3,145.8 183.45,141.61 183.6,143.75 183.75,140.56 183.9,144.76 184.05,141.19 184.2,141.19 184.35,142.18 184.5,142.06 184.65,140.15 184.8,144.35 184.95,143.67 185.1,141.02 185.25,141.63 185.4,142.67 185.55,139.82 185.7,143.32 185.85,142.52 186,143.36 186.15,142.22 186.3,143.08 186.45,141.71 186.6,142.45 186.75,142.16 186.9,141.71 187.05,144.34 187.2,143.46 187.35,139.8 187.5,144.1 187.65,142.26 187.8,143.27 187.95,141.53 188.1,141.38 188.25,141.72 188.4,144.52 188.55,142.05 188.7,141.83 188.85,142.83 189,140.72 189.15,142.48 189.3,143.36 189.45,141.34 189.6,144.02 189.75,143.11 189.9,142.63 190.05,141.75 190.2,141.27 190.35,144.88 190.5,140.9 190.65,142.08 190.8,141.9 190.95,141.21 191.1,142.02 191.25,142.59 191.4,142.98 191.55,140.65 191.7,140.95 191.85,141.2 192,141.19 192.15,145.33 192.3,142.25 192.45,141.44 192.6,141.93 192.75,142.99 192.9,140.29 193.05,139.82 193.2,143.01 193.35,140.92 193.5,141.32 193.65,141.5 193.8,140.92 193.95,140.58 194.1,141.52 194.25,144.16 194.4,143.59 194.55,143.9 194.7,142.13 194.85,144.07 195,140.19 195.15,142.29 195.3,141.07 195.45,143.5 195.6,143.21 195.75,141.76 195.9,143.32 196.05,139.29 196.2,141.16 196.35,142.09 196.5,143.02 196.65,143.17 196.8,143.16 196.95,142.24 197.1,142.39 197.25,143.29 197.4,145.32 197.55,143.01 197.7,140.34 197.85,143.67 198,145.58 198.15,143.31 198.3,141.65 198.45,143.36 198.6,143.86 198.75,142.61 198.9,142.8 199.05,142.26 199.2,142.95 199.35,146.41 199.5,142.18 199.65,142.73 199.8,141.76 199.95,142.84 200.1,145.08 200.25,140.09 200.4,144.23 200.55,145.44 200.7,142.3 200.85,142.9 201,141.28 201.15,141.14 201.3,144.65 201.45,143.27 201.6,144.83 201.75,145.11 201.9,143.85 202.05,143.11 202.2,145.55 202.35,145.48 202.5,146.76 202.65,144.99 202.8,144.12 202.95,143.53 203.1,144.62 203.25,144.13 203.4,140.93 203.55,144.82 203.7,145.77 203.85,140.78 204,143.9 204.15,142.07 204.3,142.96 204.45,143.7 204.6,144.19 204.75,143.82 204.9,142.97 205.05,142.05 205.2,143.11 205.35,140.62 205.5,141.72 205.65,143.87 205.8,142.68 205.95,143.96 206.1,140.64 206.25,144.86 206.4,142.32 206.55,143.52 206.7,145.83 206.85,143.26 207,143.64 207.15,141.51 207.3,144.02 207.45,143.07 207.6,142.9 207.75,141.72 207.9,142.27 208.05,142.81 208.2,143.67 208.35,143.35 208.5,143.3 208.65,143.22 208.8,142.93 208.95,144.65 209.1,141.81 209.25,145.07 209.4,142.87 209.55,144.67 209.7,142.78 209.85,144.22 210,142.36 210.15,141.48 210.3,143.94 210.45,142.32 210.6,144.51 210.75,143.56 210.9,142.1 211.05,142.06 211.2,143.77 211.35,144.85 211.5,142.85 211.65,142.1 211.8,143.06 211.95,145.26 212.1,141.46 212.25,144.65 212.4,141.87 212.55,146.16 212.7,143.25 212.85,145.18 213,148.13 213.15,143.07 213.3,144.58 213.45,144.07 213.6,145.05 213.75,146.57 213.9,142.92 214.05,146.06 214.2,144.1 214.35,144.62 214.5,142.58 214.65,142.04 214.8,142.07 214.95,143.56 215.1,141.83 215.25,141.51 215.4,144.24 215.55,143.8 215.7,144.23 215.85,142.77 216,143.88 216.15,145.75 216.3,146.45 216.45,142.99 216.6,145.61 216.75,143.64 216.9,145.79 217.05,144.88 217.2,145.25 217.35,144.71 217.5,142.21 217.65,145.59 217.8,143.69 217.95,146.32 218.1,143.59 218.25,145.6 218.4,145.94 218.55,143.73 218.7,145.18 218.85,145.09 219,145.84 219.15,144.81 219.3,145.22 219.45,143.57 219.6,144.82 219.75,146.78 219.9,145.23 220.05,142.72 220.2,145.03 220.35,143.73 220.5,144.06 220.65,144.7 220.8,147.33 220.95,146.34 221.1,144.15 221.25,143.92 221.4,146.09 221.55,144.63 221.7,145.77 221.85,146.05 222,145.84 222.15,146.19 222.3,145.66 222.45,145.32 222.6,145.73 222.75,145.6 222.9,146.06 223.05,147.2 223.2,143.91 223.35,147.13 223.5,143.02 223.65,143.41 223.8,144.73 223.95,142.89 224.1,143.41 224.25,145.02 224.4,147.15 224.55,144.54 224.7,144.66 224.85,144.44 225,141.85 225.15,145.03 225.3,144.04 225.45,144.4 225.6,144.94 225.75,144.25 225.9,146.4 226.05,145.55 226.2,144.88 226.35,143.37 226.5,145.55 226.65,143.04 226.8,145.68 226.95,146.71 227.1,145.05 227.25,142.19 227.4,147.3 227.55,143.77 227.7,143.67 227.85,144.64 228,144.31 228.15,145.8 228.3,144.37 228.45,143.5 228.6,146.65 228.75,145.37 228.9,144.16 229.05,145.74 229.2,143.92 229.35,145.2 229.5,143.19 229.65,146.9 229.8,146.84 229.95,146.35 230.1,146.17 230.25,144.89 230.4,143.56 230.55,145.73 230.7,144.39 230.85,143.97 231,142.29 231.15,147.17 231.3,143.11 231.45,145.17 231.6,142.03 231.75,143.1 231.9,145.16 232.05,144.76 232.2,144.8 232.35,144.29 232.5,145.17 232.65,145.57 232.8,144.48 232.95,144.84 233.1,144.08 233.25,144.45 233.4,145.25 233.55,142.85 233.7,143.13 233.85,144.93 234,142.13 234.15,146.52 234.3,144.6 234.45,144.81 234.6,145.16 234.75,145.73 234.9,143.99 235.05,142.93 235.2,144.81 235.35,146.38 235.5,147.65 235.65,146.37 235.8,147.07 235.95,147.91 236.1,146.4 236.25,145.36 236.4,144.75 236.55,145.03 236.7,146.68 236.85,147.23 237,145.47 237.15,142.54 237.3,145.78 237.45,144.1 237.6,146.14 237.75,145.49 237.9,145.68 238.05,147.19 238.2,145.17 238.35,144.72 238.5,147.02 238.65,144.06 238.8,144.82 238.95,145.24 239.1,145.13 239.25,146.44 239.4,146.46 239.55,146.33 239.7,146.68 239.85,146.28 240,144.61 240.15,145.36 240.3,144.71 240.45,144.26 240.6,145.1 240.75,146.28 240.9,145.49 241.05,143.32 241.2,145.51 241.35,146.56 241.5,147.12 241.65,145.92 241.8,146.39 241.95,143.8 242.1,146.56 242.25,145.67 242.4,143.34 242.55,144.47" fill="none" stroke="#505050" stroke-width="0.6" stroke-linejoin="round"/>
<line x1="68.3" y1="144.96" x2="68.45" y2="149.7" stroke="#8a8a8a" stroke-width="0.7"/>
<line x1="76" y1="145.13" x2="76.15" y2="148" stroke="#8a8a8a" stroke-width="0.7"/>
<line x1="91.6" y1="145.34" x2="91.75" y2="167.3" stroke="#8a8a8a" stroke-width="0.7"/>
<line x1="97" y1="145.36" x2="97.15" y2="149" stroke="#8a8a8a" stroke-width="0.7"/>
<line x1="101.4" y1="145.36" x2="101.55" y2="160.1" stroke="#8a8a8a" stroke-width="0.7"/>
<line x1="105.1" y1="145.34" x2="105.25" y2="161.1" stroke="#8a8a8a" stroke-width="0.7"/>
<line x1="112" y1="145.28" x2="112.15" y2="148.5" stroke="#8a8a8a" stroke-width="0.7"/>
<line x1="125.9" y1="145.06" x2="126.05" y2="156.5" stroke="#8a8a8a" stroke-width="0.7"/>
<line x1="129" y1="145" x2="129.15" y2="152.8" stroke="#8a8a8a" stroke-width="0.7"/>
<line x1="135" y1="144.88" x2="135.15" y2="149" stroke="#8a8a8a" stroke-width="0.7"/>
<line x1="157.1" y1="144.52" x2="157.25" y2="158.6" stroke="#8a8a8a" stroke-width="0.7"/>
<line x1="177.2" y1="144.5" x2="177.35" y2="152.8" stroke="#8a8a8a" stroke-width="0.7"/>
<line x1="182.4" y1="144.55" x2="182.55" y2="153.8" stroke="#8a8a8a" stroke-width="0.7"/>
<line x1="196.6" y1="144.82" x2="196.75" y2="149.7" stroke="#8a8a8a" stroke-width="0.7"/>
<line x1="220.3" y1="145.45" x2="220.45" y2="166.3" stroke="#8a8a8a" stroke-width="0.7"/>
<line x1="241.7" y1="145.9" x2="241.85" y2="158" stroke="#8a8a8a" stroke-width="0.7"/>
<polyline points="54.2,195.24 54.35,192.78 54.5,190.55 54.65,192.83 54.8,192.24 54.95,197.99 55.1,188.73 55.25,193.11 55.4,196.18 55.55,196.14 55.7,192.48 55.85,195.08 56,194.46 56.15,192.29 56.3,191.81 56.45,191.99 56.6,193.64 56.75,191.59 56.9,194.83 57.05,194.64 57.2,189.1 57.35,193.16 57.5,195.62 57.65,192.12 57.8,196.25 57.95,191.64 58.1,194.26 58.25,194.7 58.4,190.17 58.55,193.13 58.7,192.11 58.85,197.44 59,195.27 59.15,195.59 59.3,195.28 59.45,194.21 59.6,193.42 59.75,197.88 59.9,193.2 60.05,190.91 60.2,192.4 60.35,192.32 60.5,199.82 60.65,193.44 60.8,190.39 60.95,195.21 61.1,192.75 61.25,193.57 61.4,196.48 61.55,195.34 61.7,193.54 61.85,195.22 62,193.26 62.15,191.29 62.3,193.89 62.45,192.58 62.6,196.64 62.75,194.33 62.9,192.99 63.05,192.04 63.2,191.9 63.35,193.03 63.5,192.72 63.65,189.1 63.8,197.2 63.95,193.4 64.1,190.98 64.25,193.63 64.4,192.87 64.55,193.66 64.7,196.01 64.85,190.93 65,194.27 65.15,192.69 65.3,192.73 65.45,189.99 65.6,189.16 65.75,191.07 65.9,193.9 66.05,193.36 66.2,194.38 66.35,192.3 66.5,191.73 66.65,196.14 66.8,194.83 66.95,191.75 67.1,194.31 67.25,195.5 67.4,192.11 67.55,192.38 67.7,191.99 67.85,193.9 68,192.8 68.15,194.48 68.3,194.01 68.45,193.57 68.6,194.35 68.75,192.41 68.9,190.17 69.05,194.03 69.2,193.06 69.35,190.08 69.5,194.15 69.65,192.21 69.8,194.65 69.95,192.14 70.1,192.15 70.25,194.92 70.4,193.19 70.55,193.13 70.7,196.45 70.85,190.65 71,196.13 71.15,194.78 71.3,192.97 71.45,193.61 71.6,192.26 71.75,190.59 71.9,190.13 72.05,191.63 72.2,191.65 72.35,192.8 72.5,194.16 72.65,191.49 72.8,192.2 72.95,191.82 73.1,192.89 73.25,188.95 73.4,193.98 73.55,191.8 73.7,193.01 73.85,192.42 74,193.51 74.15,191.66 74.3,193.32 74.45,189.61 74.6,190.88 74.75,193.43 74.9,194.69 75.05,189.69 75.2,187.23 75.35,191.52 75.5,190.01 75.65,192.59 75.8,191.5 75.95,189.54 76.1,193.06 76.25,187.68 76.4,192.19 76.55,187.13 76.7,188.29 76.85,194 77,190.27 77.15,192.83 77.3,191.33 77.45,189.66 77.6,192.11 77.75,192.52 77.9,194.5 78.05,192.46 78.2,192.63 78.35,193.61 78.5,192.89 78.65,189.89 78.8,197.78 78.95,191.81 79.1,190.98 79.25,194.5 79.4,194.25 79.55,193.86 79.7,192.63 79.85,193.15 80,194.77 80.15,192.79 80.3,192.9 80.45,190.16 80.6,192.49 80.75,191.61 80.9,193.21 81.05,190.26 81.2,192.44 81.35,189.82 81.5,194.36 81.65,191.18 81.8,193.38 81.95,195.7 82.1,194.08 82.25,190.89 82.4,195.07 82.55,189.78 82.7,191.47 82.85,192 83,195.97 83.15,192.57 83.3,190.95 83.45,194.98 83.6,189.89 83.75,194.67 83.9,190.06 84.05,190.03 84.2,189.26 84.35,191.69 84.5,192.67 84.65,192.62 84.8,191.59 84.95,190.2 85.1,189.05 85.25,188.8 85.4,190.71 85.55,191.08 85.7,193.66 85.85,192.82 86,196.19 86.15,193.99 86.3,193.24 86.45,193.93 86.6,194.24 86.75,191.79 86.9,194.6 87.05,193.3 87.2,193.98 87.35,197.07 87.5,193.38 87.65,192.73 87.8,190.9 87.95,189.94 88.1,191.26 88.25,193.41 88.4,193.85 88.55,188.73 88.7,193.2 88.85,187.98 89,191.61 89.15,189.3 89.3,188.45 89.45,191.66 89.6,192.04 89.75,191.31 89.9,191.13 90.05,193.87 90.2,193.98 90.35,192.86 90.5,190.63 90.65,190.6 90.8,190.48 90.95,191.33 91.1,193.23 91.25,191.56 91.4,192.09 91.55,193.59 91.7,189.62 91.85,189.17 92,189.71 92.15,189.12 92.3,194.61 92.45,190.68 92.6,189.92 92.75,192.3 92.9,195.02 93.05,190.49 93.2,191.06 93.35,189.11 93.5,190.96 93.65,192.26 93.8,190.05 93.95,191.49 94.1,192.16 94.25,191.5 94.4,190.12 94.55,191.48 94.7,193.01 94.85,193.04 95,193.25 95.15,190.77 95.3,194.43 95.45,191.42 95.6,190.46 95.75,191.45 95.9,191.8 96.05,194.62 96.2,192.73 96.35,194.32 96.5,191.73 96.65,192.59 96.8,189.69 96.95,191.7 97.1,193.18 97.25,191 97.4,191.1 97.55,192.55 97.7,187.01 97.85,195.58 98,189.3 98.15,194.08 98.3,186.66 98.45,191.94 98.6,190.18 98.75,187.87 98.9,192.17 99.05,193.33 99.2,190.09 99.35,190.68 99.5,194.29 99.65,189.34 99.8,188.8 99.95,190.13 100.1,189.3 100.25,192.98 100.4,189.97 100.55,191.19 100.7,189.35 100.85,187.99 101,189.29 101.15,189.15 101.3,188.83 101.45,192.44 101.6,191.71 101.75,189.86 101.9,194.19 102.05,189.61 102.2,186.39 102.35,196.32 102.5,193.21 102.65,191.45 102.8,188.93 102.95,186.45 103.1,187.44 103.25,192.24 103.4,192.7 103.55,189.48 103.7,191.76 103.85,188.38 104,192.71 104.15,194.89 104.3,191.28 104.45,189.56 104.6,189.69 104.75,189.45 104.9,192.19 105.05,190.63 105.2,194.57 105.35,189.87 105.5,190.36 105.65,189.38 105.8,189.86 105.95,191.58 106.1,190.42 106.25,191.94 106.4,190.84 106.55,194.41 106.7,192.11 106.85,191.46 107,192.99 107.15,192.11 107.3,194.08 107.45,194.25 107.6,189.45 107.75,190.63 107.9,188.83 108.05,191.5 108.2,188.06 108.35,188.64 108.5,190.57 108.65,188.88 108.8,188.7 108.95,191.09 109.1,190.77 109.25,189.65 109.4,191.5 109.55,190.68 109.7,192.43 109.85,191.01 110,190.86 110.15,186.82 110.3,187.05 110.45,189.37 110.6,188.92 110.75,186.09 110.9,190.99 111.05,191.96 111.2,189.23 111.35,188.33 111.5,193.18 111.65,190.39 111.8,188.63 111.95,190.09 112.1,192.23 112.25,187.89 112.4,189.71 112.55,191.87 112.7,187.25 112.85,190.43 113,193.19 113.15,189.2 113.3,192.09 113.45,195.11 113.6,191.52 113.75,194.53 113.9,192.64 114.05,192.6 114.2,192.51 114.35,191.3 114.5,192.83 114.65,188.74 114.8,188.19 114.95,194.85 115.1,192.12 115.25,189.93 115.4,191.88 115.55,194.32 115.7,191.47 115.85,193.29 116,188.15 116.15,194.32 116.3,191.59 116.45,189.77 116.6,194.8 116.75,193.76 116.9,191.31 117.05,195.69 117.2,195.8 117.35,189.57 117.5,191.96 117.65,190.46 117.8,192.44 117.95,194.09 118.1,189.85 118.25,193.27 118.4,192.01 118.55,187.34 118.7,193.19 118.85,191.46 119,190.78 119.15,194.92 119.3,190.5 119.45,193.48 119.6,192.51 119.75,192.21 119.9,192.11 120.05,191.9 120.2,192.4 120.35,191.62 120.5,193.42 120.65,189.94 120.8,191.05 120.95,193.34 121.1,193.35 121.25,189.9 121.4,194.06 121.55,190.83 121.7,192.31 121.85,189.58 122,190.64 122.15,192.79 122.3,192.02 122.45,193.88 122.6,193.67 122.75,190.22 122.9,192.07 123.05,196.06 123.2,192.27 123.35,188.43 123.5,190.68 123.65,194.55 123.8,190.2 123.95,190.62 124.1,193.24 124.25,193.94 124.4,195.75 124.55,191.44 124.7,193.24 124.85,192.69 125,193.5 125.15,192.77 125.3,190.04 125.45,193.66 125.6,196.28 125.75,191.16 125.9,196.67 126.05,193.4 126.2,193.78 126.35,191.35 126.5,189.06 126.65,193.74 126.8,193.41 126.95,193.58 127.1,197.26 127.25,194.42 127.4,194.93 127.55,192.47 127.7,193.14 127.85,193.36 128,194.05 128.15,192.05 128.3,192.1 128.45,191 128.6,191.78 128.75,196.25 128.9,188.57 129.05,195 129.2,191.07 129.35,191.52 129.5,190.2 129.65,187.76 129.8,192.51 129.95,191.84 130.1,191.22 130.25,194.27 130.4,191.28 130.55,190.42 130.7,191.27 130.85,192.75 131,195.45 131.15,195.04 131.3,192.14 131.45,190.19 131.6,189.01 131.75,192.61 131.9,190.5 132.05,193.54 132.2,190.21 132.35,192.32 132.5,190.93 132.65,193.05 132.8,192.27 132.95,194.42 133.1,193.76 133.25,192.95 133.4,195.13 133.55,194.98 133.7,190.28 133.85,193.81 134,195.26 134.15,189.77 134.3,192.03 134.45,190.03 134.6,193.85 134.75,189.36 134.9,191.49 135.05,190.65 135.2,189.86 135.35,189.74 135.5,188.33 135.65,194.31 135.8,188.55 135.95,191.31 136.1,196.8 136.25,188.83 136.4,194.62 136.55,192.72 136.7,192.08 136.85,193.43 137,193.02 137.15,188.95 137.3,192.55 137.45,194.26 137.6,193.14 137.75,192.19 137.9,188.93 138.05,189.05 138.2,190.71 138.35,191.17 138.5,189.94 138.65,187.44 138.8,193.58 138.95,193.53 139.1,191.82 139.25,191.36 139.4,192.87 139.55,194.39 139.7,187.55 139.85,191.36 140,192.3 140.15,188.88 140.3,192.47 140.45,191.49 140.6,189.37 140.75,190.69 140.9,192.1 141.05,191.04 141.2,194.32 141.35,187.59 141.5,193.73 141.65,192.76 141.8,195.06 141.95,191.23 142.1,193.79 142.25,191.62 142.4,191.86 142.55,191.03 142.7,193.44 142.85,195.15 143,191.96 143.15,196.22 143.3,189.28 143.45,193.06 143.6,194.56 143.75,191.28 143.9,192.5 144.05,188.91 144.2,187.25 144.35,193.43 144.5,191.45 144.65,191.6 144.8,189.08 144.95,192.28 145.1,188.23 145.25,190.11 145.4,187.24 145.55,190.35 145.7,192.28 145.85,186.68 146,189.67 146.15,192.5 146.3,190.8 146.45,187.28 146.6,191.14 146.75,190.62 146.9,191.06 147.05,191 147.2,190.73 147.35,188.87 147.5,186.76 147.65,187.67 147.8,192.55 147.95,190.64 148.1,189.04 148.25,193.66 148.4,191.19 148.55,189.88 148.7,189.1 148.85,189.26 149,192.8 149.15,192.68 149.3,189.36 149.45,190.09 149.6,190.69 149.75,192.33 149.9,191.33 150.05,190.99 150.2,193.36 150.35,188.46 150.5,186.67 150.65,191.65 150.8,194.66 150.95,193.71 151.1,190.48 151.25,190.7 151.4,191.6 151.55,193.41 151.7,188.14 151.85,194.02 152,187.91 152.15,191.64 152.3,193.04 152.45,192.12 152.6,187.65 152.75,192.22 152.9,190.48 153.05,193.41 153.2,189.39 153.35,196.44 153.5,186.74 153.65,189.22 153.8,190.15 153.95,190.23 154.1,190.9 154.25,190.37 154.4,192.84 154.55,186.68 154.7,194.11 154.85,189.13 155,188.58 155.15,191.07 155.3,190.58 155.45,190.19 155.6,189.77 155.75,189.38 155.9,187.82 156.05,187.66 156.2,188.53 156.35,192.33 156.5,188.3 156.65,188.39 156.8,188.14 156.95,186.56 157.1,188.37 157.25,189.49 157.4,190.36 157.55,186.35 157.7,191.06 157.85,190.07 158,190.89 158.15,191.8 158.3,192.7 158.45,190.58 158.6,192.08 158.75,187.07 158.9,192.68 159.05,186.04 159.2,190.8 159.35,191.01 159.5,190.49 159.65,189.17 159.8,193.42 159.95,185.32 160.1,189.51 160.25,187.81 160.4,187.2 160.55,190.07 160.7,187.3 160.85,185.62 161,191.42 161.15,188.53 161.3,187.94 161.45,188.32 161.6,188.23 161.75,190.12 161.9,189.05 162.05,188.09 162.2,188.92 162.35,190.71 162.5,192.84 162.65,191.13 162.8,188 162.95,192.74 163.1,193.61 163.25,190.51 163.4,188.31 163.55,192.46 163.7,191.44 163.85,188.51 164,189.28 164.15,191.13 164.3,192.03 164.45,196.06 164.6,187.73 164.75,191.28 164.9,192.12 165.05,192.62 165.2,190.52 165.35,190.62 165.5,191.16 165.65,191.49 165.8,189.75 165.95,190.94 166.1,192.86 166.25,189.39 166.4,190.81 166.55,190.1 166.7,193.61 166.85,191.85 167,193.86 167.15,194.57 167.3,190.79 167.45,193.9 167.6,194.42 167.75,193.14 167.9,191.14 168.05,192.71 168.2,190.46 168.35,193.62 168.5,191.39 168.65,194.35 168.8,190.05 168.95,189.39 169.1,193.04 169.25,193.43 169.4,195.68 169.55,190.44 169.7,189.51 169.85,191.9 170,194.6 170.15,194.61 170.3,190.56 170.45,192.78 170.6,190.82 170.75,191.49 170.9,192.07 171.05,191.99 171.2,192.12 171.35,192.07 171.5,193.15 171.65,191.02 171.8,193.15 171.95,191.27 172.1,191.45 172.25,195.05 172.4,193.82 172.55,187.71 172.7,190.93 172.85,188.93 173,188.76 173.15,189.41 173.3,190.81 173.45,186.85 173.6,194.23 173.75,195.63 173.9,191.92 174.05,192.22 174.2,193.72 174.35,192.92 174.5,189.97 174.65,189.09 174.8,192.68 174.95,187.2 175.1,191.1 175.25,194 175.4,194.83 175.55,192.91 175.7,191.22 175.85,191.29 176,190.27 176.15,190.51 176.3,187.52 176.45,191.98 176.6,192.04 176.75,191.13 176.9,189.44 177.05,192.11 177.2,191.55 177.35,192.37 177.5,187.86 177.65,192.08 177.8,192.49 177.95,187.73 178.1,192.91 178.25,191.94 178.4,192.17 178.55,188.74 178.7,189.08 178.85,189.71 179,193.83 179.15,191.9 179.3,189.63 179.45,191.5 179.6,188.42 179.75,191.8 179.9,192.73 180.05,191.02 180.2,193.98 180.35,192.72 180.5,189.43 180.65,191.11 180.8,190.62 180.95,194.06 181.1,193.46 181.25,192.97 181.4,194.11 181.55,194.26 181.7,189.51 181.85,192.36 182,191 182.15,189.6 182.3,189.43 182.45,188.69 182.6,191.63 182.75,189.41 182.9,189.54 183.05,192.4 183.2,192.01 183.35,190.61 183.5,193.39 183.65,192.5 183.8,192.46 183.95,189.52 184.1,191.25 184.25,194.9 184.4,193.89 184.55,197 184.7,188.99 184.85,190.34 185,192.47 185.15,192.33 185.3,193.21 185.45,193.14 185.6,192.22 185.75,190.44 185.9,190.85 186.05,188.65 186.2,191.37 186.35,191.31 186.5,189.46 186.65,192.38 186.8,186.98 186.95,191.91 187.1,192.53 187.25,188.29 187.4,190.71 187.55,192.71 187.7,190.53 187.85,192.66 188,191.79 188.15,188.04 188.3,188.93 188.45,191.9 188.6,188.66 188.75,188.89 188.9,190.49 189.05,191.38 189.2,190.39 189.35,190.93 189.5,189.4 189.65,186.28 189.8,189.91 189.95,188.4 190.1,187.96 190.25,189.25 190.4,189.58 190.55,188.64 190.7,189.71 190.85,189.77 191,191.38 191.15,188 191.3,189.43 191.45,191.08 191.6,191.62 191.75,193.86 191.9,191.22 192.05,190.93 192.2,190.39 192.35,193.56 192.5,188.2 192.65,189.09 192.8,192.53 192.95,191.6 193.1,191.41 193.25,190.28 193.4,190.53 193.55,191.64 193.7,195.58 193.85,188.54 194,188.65 194.15,187.58 194.3,193.21 194.45,189.43 194.6,191.83 194.75,191.37 194.9,189.88 195.05,186.88 195.2,190.73 195.35,191.31 195.5,193.03 195.65,192.4 195.8,196.06 195.95,194.19 196.1,190.61 196.25,189.8 196.4,191.88 196.55,191.33 196.7,190.04 196.85,191.33 197,188.65 197.15,192.77 197.3,190.51 197.45,187.55 197.6,189.97 197.75,188.14 197.9,187.2 198.05,192.28 198.2,190.42 198.35,190.32 198.5,187.63 198.65,187.29 198.8,190.86 198.95,191.33 199.1,189.43 199.25,191.77 199.4,191.46 199.55,191.17 199.7,192.83 199.85,190.43 200,189.39 200.15,187.47 200.3,191.8 200.45,192.97 200.6,187.55 200.75,192.19 200.9,190.07 201.05,187.83 201.2,193.21 201.35,193.27 201.5,192.28 201.65,192.37 201.8,190.75 201.95,192.57 202.1,193.06 202.25,191.5 202.4,190.6 202.55,195.55 202.7,192.93 202.85,189.75 203,191.93 203.15,189.1 203.3,189.07 203.45,192.14 203.6,193.17 203.75,190.85 203.9,190.04 204.05,194.58 204.2,191.88 204.35,191.41 204.5,192.32 204.65,188.16 204.8,190.28 204.95,191.16 205.1,194.76 205.25,192.85 205.4,196.53 205.55,191.68 205.7,193.9 205.85,188.65 206,193.91 206.15,191.96 206.3,195.83 206.45,193.47 206.6,191.73 206.75,189.5 206.9,192.76 207.05,190.03 207.2,192.41 207.35,189.36 207.5,194.01 207.65,189.92 207.8,192.45 207.95,191.19 208.1,187.4 208.25,192.14 208.4,187.75 208.55,191.37 208.7,188.94 208.85,198.29 209,190.09 209.15,192.94 209.3,193.06 209.45,192.61 209.6,190.86 209.75,191.11 209.9,191.61 210.05,190.09 210.2,193.01 210.35,190.61 210.5,189.2 210.65,192.11 210.8,190.92 210.95,189.46 211.1,189.98 211.25,190.67 211.4,190.08 211.55,192.69 211.7,191.86 211.85,193.15 212,188.24 212.15,189.7 212.3,193.43 212.45,196.31 212.6,188.77 212.75,190.89 212.9,191.56 213.05,189.83 213.2,190.11 213.35,190.26 213.5,188.77 213.65,190.3 213.8,186.93 213.95,190.25 214.1,189.84 214.25,189.06 214.4,190.37 214.55,188.26 214.7,193.52 214.85,194 215,190.54 215.15,190.21 215.3,191.92 215.45,188.04 215.6,191.81 215.75,190.6 215.9,186.53 216.05,189.48 216.2,189.59 216.35,196.53 216.5,196.75 216.65,188.84 216.8,194.77 216.95,193.98 217.1,189.11 217.25,192.54 217.4,192.31 217.55,191.47 217.7,192.14 217.85,193.61 218,191.9 218.15,191.09 218.3,191.74 218.45,192.66 218.6,192.77 218.75,192.28 218.9,189.84 219.05,193.44 219.2,190.29 219.35,191.39 219.5,190.11 219.65,188.09 219.8,191.16 219.95,190.27 220.1,191.56 220.25,196.35 220.4,191.08 220.55,193.89 220.7,192.32 220.85,193.54 221,193.29 221.15,191.92 221.3,193.24 221.45,190.15 221.6,193.28 221.75,193.18 221.9,190.45 222.05,192.79 222.2,190.27 222.35,192.43 222.5,189.71 222.65,191.33 222.8,191.17 222.95,191.03 223.1,190.65 223.25,190.05 223.4,193.26 223.55,193.93 223.7,191.64 223.85,190.02 224,189.43 224.15,194.07 224.3,192.04 224.45,195.32 224.6,194.76 224.75,191.18 224.9,190.7 225.05,191.07 225.2,192.73 225.35,193.53 225.5,191.99 225.65,192.73 225.8,190.6 225.95,190.25 226.1,193.47 226.25,189.68 226.4,189.71 226.55,187.09 226.7,191.16 226.85,192.92 227,191.58 227.15,194.17 227.3,190.82 227.45,191.19 227.6,188.69 227.75,189.34 227.9,191.75 228.05,189.33 228.2,189.99 228.35,189.78 228.5,190.16 228.65,187.48 228.8,193.65 228.95,188.19 229.1,190.43 229.25,191.38 229.4,188.58 229.55,192.61 229.7,191.77 229.85,189.89 230,195.61 230.15,194.06 230.3,191.61 230.45,194.4 230.6,189.52 230.75,192.2 230.9,190.72 231.05,195.53 231.2,193.2 231.35,194.48 231.5,189.5 231.65,190.06 231.8,194.94 231.95,192.8 232.1,190.41 232.25,193.3 232.4,191.33 232.55,192.84 232.7,191.51 232.85,190.31 233,195.25 233.15,191.21 233.3,192.31 233.45,192.39 233.6,190.57 233.75,192.5 233.9,193.79 234.05,190.18 234.2,190.06 234.35,192.89 234.5,191.24 234.65,192.63 234.8,188.95 234.95,192.26 235.1,191.48 235.25,191.86 235.4,194.24 235.55,193.49 235.7,190.25 235.85,192.83 236,191.74 236.15,195.07 236.3,188.87 236.45,191.69 236.6,190.6 236.75,189.58 236.9,189.82 237.05,189.65 237.2,188.91 237.35,187.24 237.5,192.62 237.65,192.15 237.8,190.15 237.95,191.23 238.1,190.57 238.25,189.63 238.4,192.47 238.55,191.45 238.7,191.15 238.85,189.77 239,189.28 239.15,187.81 239.3,189.04 239.45,188.38 239.6,189.02 239.75,188.19 239.9,191.69 240.05,188.9 240.2,192.71 240.35,191.57 240.5,187.38 240.65,190.68 240.8,191 240.95,193.38 241.1,194.13 241.25,189.95 241.4,191.09 241.55,191.23 241.7,192.76 241.85,189.7 242,190.1 242.15,188.39 242.3,190.53 242.45,186.43" fill="none" stroke="#000" stroke-width="0.7" stroke-linejoin="round"/>
<line x1="56" y1="193.56" x2="56.15" y2="202" stroke="#222" stroke-width="0.75"/>
<line x1="75" y1="193.23" x2="75.15" y2="199.5" stroke="#222" stroke-width="0.75"/>
<line x1="78.7" y1="193.16" x2="78.85" y2="202.5" stroke="#222" stroke-width="0.75"/>
<line x1="83.5" y1="193.08" x2="83.65" y2="202.5" stroke="#222" stroke-width="0.75"/>
<line x1="88" y1="193.01" x2="88.15" y2="200" stroke="#222" stroke-width="0.75"/>
<line x1="91" y1="192.96" x2="91.15" y2="200.5" stroke="#222" stroke-width="0.75"/>
<line x1="96" y1="192.88" x2="96.15" y2="199.5" stroke="#222" stroke-width="0.75"/>
<line x1="101.2" y1="192.8" x2="101.35" y2="203" stroke="#222" stroke-width="0.75"/>
<line x1="104.4" y1="192.75" x2="104.55" y2="203" stroke="#222" stroke-width="0.75"/>
<line x1="108.7" y1="192.69" x2="108.85" y2="203" stroke="#222" stroke-width="0.75"/>
<line x1="121" y1="192.52" x2="121.15" y2="199" stroke="#222" stroke-width="0.75"/>
<line x1="133" y1="192.39" x2="133.15" y2="199.5" stroke="#222" stroke-width="0.75"/>
<line x1="144.6" y1="192.28" x2="144.75" y2="204.8" stroke="#222" stroke-width="0.75"/>
<line x1="154.2" y1="192.2" x2="154.35" y2="208.9" stroke="#222" stroke-width="0.75"/>
<line x1="169.3" y1="192.11" x2="169.45" y2="208.9" stroke="#222" stroke-width="0.75"/>
<line x1="176" y1="192.09" x2="176.15" y2="199" stroke="#222" stroke-width="0.75"/>
<line x1="187.4" y1="192.06" x2="187.55" y2="218.5" stroke="#222" stroke-width="0.75"/>
<line x1="194.2" y1="192.05" x2="194.35" y2="206.1" stroke="#222" stroke-width="0.75"/>
<line x1="200.6" y1="192.04" x2="200.75" y2="219.2" stroke="#222" stroke-width="0.75"/>
<line x1="210.9" y1="192.04" x2="211.05" y2="201.6" stroke="#222" stroke-width="0.75"/>
<line x1="217.8" y1="192.05" x2="217.95" y2="204.3" stroke="#222" stroke-width="0.75"/>
<line x1="232" y1="192.07" x2="232.15" y2="199.5" stroke="#222" stroke-width="0.75"/>
<line x1="239.5" y1="192.09" x2="239.65" y2="205" stroke="#222" stroke-width="0.75"/>
<line x1="231" y1="164.1" x2="231" y2="174.4" stroke="#222" stroke-width="0.9"/>
<line x1="216.1" y1="174.3" x2="231.4" y2="174.3" stroke="#222" stroke-width="0.9"/>
<text x="233.3" y="172.3" font-size="6">20 pA</text>
<text x="217.7" y="180.8" font-size="5.6">0.2 s</text>
<text x="265.8" y="129.2" font-size="12.2" font-weight="bold">G</text>
<line x1="290.1" y1="128.1" x2="290.1" y2="216.2" stroke="#999" stroke-width="1.2"/>
<line x1="290.1" y1="216.2" x2="341.2" y2="216.2" stroke="#999" stroke-width="1.2"/>
<line x1="288.6" y1="216.2" x2="290.1" y2="216.2" stroke="#222" stroke-width="0.8"/>
<text x="284.4" y="217.86" font-size="4.6" text-anchor="end" style="stroke:#000;stroke-width:0.16px">0</text>
<line x1="288.6" y1="201.5" x2="290.1" y2="201.5" stroke="#222" stroke-width="0.8"/>
<text x="284.4" y="203.16" font-size="4.6" text-anchor="end" style="stroke:#000;stroke-width:0.16px">5</text>
<line x1="288.6" y1="186.8" x2="290.1" y2="186.8" stroke="#222" stroke-width="0.8"/>
<text x="284.4" y="188.46" font-size="4.6" text-anchor="end" style="stroke:#000;stroke-width:0.16px">10</text>
<line x1="288.6" y1="172.1" x2="290.1" y2="172.1" stroke="#222" stroke-width="0.8"/>
<text x="284.4" y="173.76" font-size="4.6" text-anchor="end" style="stroke:#000;stroke-width:0.16px">15</text>
<line x1="288.6" y1="157.4" x2="290.1" y2="157.4" stroke="#222" stroke-width="0.8"/>
<text x="284.4" y="159.06" font-size="4.6" text-anchor="end" style="stroke:#000;stroke-width:0.16px">20</text>
<line x1="288.6" y1="142.7" x2="290.1" y2="142.7" stroke="#222" stroke-width="0.8"/>
<text x="284.4" y="144.36" font-size="4.6" text-anchor="end" style="stroke:#000;stroke-width:0.16px">25</text>
<line x1="288.6" y1="128" x2="290.1" y2="128" stroke="#222" stroke-width="0.8"/>
<text x="284.4" y="129.66" font-size="4.6" text-anchor="end" style="stroke:#000;stroke-width:0.16px">30</text>
<line x1="304.55" y1="147.7" x2="304.55" y2="144.5" stroke="#000" stroke-width="1"/>
<line x1="302.85" y1="144.5" x2="306.25" y2="144.5" stroke="#000" stroke-width="1"/>
<rect x="297.9" y="148.2" width="13.3" height="68" fill="#fff" stroke="#333" stroke-width="1"/>
<line x1="327.1" y1="143" x2="327.1" y2="138.7" stroke="#000" stroke-width="1"/>
<line x1="325.4" y1="138.7" x2="328.8" y2="138.7" stroke="#000" stroke-width="1"/>
<rect x="320" y="143" width="14.2" height="73.2" fill="#000"/>
<text x="304.2" y="226.9" font-size="7.3" text-anchor="middle">WT</text>
<text x="327.8" y="226.9" font-size="7.3" text-anchor="middle">KO</text>
<text x="275.3" y="173.7" font-size="7.75" text-anchor="middle" transform="rotate(-90 275.3 173.7)">mEPSC amplitude (pA)</text>
<text x="354.3" y="129.2" font-size="13" font-weight="bold">H</text>
<line x1="373.7" y1="132.3" x2="373.7" y2="216.2" stroke="#555" stroke-width="1"/>
<line x1="373.7" y1="216.2" x2="428.7" y2="216.2" stroke="#555" stroke-width="1"/>
<line x1="372.2" y1="216.2" x2="373.7" y2="216.2" stroke="#222" stroke-width="0.8"/>
<text x="370.1" y="217.86" font-size="4.6" text-anchor="end" style="stroke:#000;stroke-width:0.16px">0</text>
<line x1="372.2" y1="202.25" x2="373.7" y2="202.25" stroke="#222" stroke-width="0.8"/>
<text x="370.1" y="203.91" font-size="4.6" text-anchor="end" style="stroke:#000;stroke-width:0.16px">1</text>
<line x1="372.2" y1="188.3" x2="373.7" y2="188.3" stroke="#222" stroke-width="0.8"/>
<text x="370.1" y="189.96" font-size="4.6" text-anchor="end" style="stroke:#000;stroke-width:0.16px">2</text>
<line x1="372.2" y1="174.35" x2="373.7" y2="174.35" stroke="#222" stroke-width="0.8"/>
<text x="370.1" y="176.01" font-size="4.6" text-anchor="end" style="stroke:#000;stroke-width:0.16px">3</text>
<line x1="372.2" y1="160.4" x2="373.7" y2="160.4" stroke="#222" stroke-width="0.8"/>
<text x="370.1" y="162.06" font-size="4.6" text-anchor="end" style="stroke:#000;stroke-width:0.16px">4</text>
<line x1="372.2" y1="146.45" x2="373.7" y2="146.45" stroke="#222" stroke-width="0.8"/>
<text x="370.1" y="148.11" font-size="4.6" text-anchor="end" style="stroke:#000;stroke-width:0.16px">5</text>
<line x1="372.2" y1="132.5" x2="373.7" y2="132.5" stroke="#222" stroke-width="0.8"/>
<text x="370.1" y="134.16" font-size="4.6" text-anchor="end" style="stroke:#000;stroke-width:0.16px">6</text>
<line x1="389.1" y1="150.2" x2="389.1" y2="143" stroke="#000" stroke-width="1"/>
<line x1="387.4" y1="143" x2="390.8" y2="143" stroke="#000" stroke-width="1"/>
<rect x="382" y="150.7" width="14.2" height="65.5" fill="#fff" stroke="#333" stroke-width="1"/>
<line x1="413.1" y1="141.7" x2="413.1" y2="134.5" stroke="#000" stroke-width="1"/>
<line x1="411.4" y1="134.5" x2="414.8" y2="134.5" stroke="#000" stroke-width="1"/>
<rect x="405.5" y="141.7" width="15.2" height="74.5" fill="#000"/>
<text x="389.4" y="226.9" font-size="7.3" text-anchor="middle">WT</text>
<text x="413.4" y="226.9" font-size="7.3" text-anchor="middle">KO</text>
<text x="362.9" y="173.1" font-size="7.5" text-anchor="middle" transform="rotate(-90 362.9 173.1)">mEPSC frequency (Hz)</text>
<text x="20.3" y="249.2" font-size="13.6" font-weight="bold">I</text>
<line x1="38.3" y1="251.6" x2="38.3" y2="352.4" stroke="#aaa" stroke-width="1.3"/>
<line x1="38.3" y1="352.4" x2="155.2" y2="352.4" stroke="#333" stroke-width="0.9"/>
<line x1="36.8" y1="343.11" x2="38.3" y2="343.11" stroke="#333" stroke-width="0.6"/>
<line x1="36.8" y1="334.02" x2="38.3" y2="334.02" stroke="#333" stroke-width="0.6"/>
<line x1="36.8" y1="324.93" x2="38.3" y2="324.93" stroke="#333" stroke-width="0.6"/>
<line x1="36.8" y1="315.84" x2="38.3" y2="315.84" stroke="#333" stroke-width="0.6"/>
<line x1="36.8" y1="306.75" x2="38.3" y2="306.75" stroke="#333" stroke-width="0.6"/>
<line x1="36.8" y1="297.66" x2="38.3" y2="297.66" stroke="#333" stroke-width="0.6"/>
<line x1="36.8" y1="288.57" x2="38.3" y2="288.57" stroke="#333" stroke-width="0.6"/>
<line x1="36.8" y1="279.48" x2="38.3" y2="279.48" stroke="#333" stroke-width="0.6"/>
<line x1="36.8" y1="270.39" x2="38.3" y2="270.39" stroke="#333" stroke-width="0.6"/>
<line x1="36.8" y1="261.3" x2="38.3" y2="261.3" stroke="#333" stroke-width="0.6"/>
<line x1="36.8" y1="352.2" x2="38.3" y2="352.2" stroke="#333" stroke-width="0.7"/>
<text x="33.7" y="354" font-size="5" text-anchor="end" style="stroke-width:0.05px">0</text>
<line x1="36.8" y1="306.8" x2="38.3" y2="306.8" stroke="#333" stroke-width="0.7"/>
<text x="33.7" y="308.6" font-size="5" text-anchor="end" style="stroke-width:0.05px">0.5</text>
<line x1="36.8" y1="261.2" x2="38.3" y2="261.2" stroke="#333" stroke-width="0.7"/>
<text x="33.7" y="263" font-size="5" text-anchor="end" style="stroke-width:0.05px">1</text>
<line x1="49.97" y1="352.4" x2="49.97" y2="353.9" stroke="#333" stroke-width="0.6"/>
<line x1="61.64" y1="352.4" x2="61.64" y2="353.9" stroke="#333" stroke-width="0.6"/>
<line x1="73.31" y1="352.4" x2="73.31" y2="353.9" stroke="#333" stroke-width="0.6"/>
<line x1="84.98" y1="352.4" x2="84.98" y2="353.9" stroke="#333" stroke-width="0.6"/>
<line x1="96.65" y1="352.4" x2="96.65" y2="353.9" stroke="#333" stroke-width="0.6"/>
<line x1="108.32" y1="352.4" x2="108.32" y2="353.9" stroke="#333" stroke-width="0.6"/>
<line x1="119.99" y1="352.4" x2="119.99" y2="353.9" stroke="#333" stroke-width="0.6"/>
<line x1="131.66" y1="352.4" x2="131.66" y2="353.9" stroke="#333" stroke-width="0.6"/>
<line x1="143.33" y1="352.4" x2="143.33" y2="353.9" stroke="#333" stroke-width="0.6"/>
<line x1="38.3" y1="352.4" x2="38.3" y2="353.9" stroke="#333" stroke-width="0.7"/>
<text x="38.3" y="358.6" font-size="5" text-anchor="middle" style="stroke-width:0.05px">0</text>
<line x1="96.7" y1="352.4" x2="96.7" y2="353.9" stroke="#333" stroke-width="0.7"/>
<text x="96.7" y="358.6" font-size="5" text-anchor="middle" style="stroke-width:0.05px">50</text>
<line x1="155" y1="352.4" x2="155" y2="353.9" stroke="#333" stroke-width="0.7"/>
<text x="155" y="358.6" font-size="5" text-anchor="middle" style="stroke-width:0.05px">100</text>
<text x="23.4" y="302.6" font-size="7.65" text-anchor="middle" transform="rotate(-90 23.4 302.6)">Normalized EPSC amplitude</text>
<text x="96" y="368.3" font-size="7.4" text-anchor="middle">Number of pulses</text>
<text x="82.7" y="264" font-size="8.3" textLength="19" lengthAdjust="spacingAndGlyphs">40 Hz</text>
<line x1="119.6" y1="256.5" x2="135.5" y2="256.5" stroke="#d0d0d0" stroke-width="1"/>
<line x1="119.6" y1="265.2" x2="135.5" y2="265.2" stroke="#666" stroke-width="1"/>
<text x="140.6" y="258.4" font-size="5.8">WT</text>
<text x="140.8" y="266.7" font-size="5.8">KO</text>
<line x1="39.87" y1="259.77" x2="39.87" y2="263.4" stroke="#b8b8b8" stroke-width="0.6"/>
<line x1="39.07" y1="259.77" x2="40.67" y2="259.77" stroke="#b8b8b8" stroke-width="0.6"/>
<line x1="39.07" y1="263.4" x2="40.67" y2="263.4" stroke="#b8b8b8" stroke-width="0.6"/>
<line x1="41.03" y1="265.8" x2="41.03" y2="269.43" stroke="#b8b8b8" stroke-width="0.6"/>
<line x1="40.23" y1="265.8" x2="41.83" y2="265.8" stroke="#b8b8b8" stroke-width="0.6"/>
<line x1="40.23" y1="269.43" x2="41.83" y2="269.43" stroke="#b8b8b8" stroke-width="0.6"/>
<line x1="42.2" y1="279.62" x2="42.2" y2="283.26" stroke="#b8b8b8" stroke-width="0.6"/>
<line x1="41.4" y1="279.62" x2="43" y2="279.62" stroke="#b8b8b8" stroke-width="0.6"/>
<line x1="41.4" y1="283.26" x2="43" y2="283.26" stroke="#b8b8b8" stroke-width="0.6"/>
<line x1="43.37" y1="291.64" x2="43.37" y2="297.09" stroke="#b8b8b8" stroke-width="0.6"/>
<line x1="42.57" y1="291.64" x2="44.17" y2="291.64" stroke="#b8b8b8" stroke-width="0.6"/>
<line x1="42.57" y1="297.09" x2="44.17" y2="297.09" stroke="#b8b8b8" stroke-width="0.6"/>
<line x1="44.53" y1="301.61" x2="44.53" y2="307.07" stroke="#b8b8b8" stroke-width="0.6"/>
<line x1="43.73" y1="301.61" x2="45.33" y2="301.61" stroke="#b8b8b8" stroke-width="0.6"/>
<line x1="43.73" y1="307.07" x2="45.33" y2="307.07" stroke="#b8b8b8" stroke-width="0.6"/>
<line x1="45.7" y1="309.04" x2="45.7" y2="314.5" stroke="#b8b8b8" stroke-width="0.6"/>
<line x1="44.9" y1="309.04" x2="46.5" y2="309.04" stroke="#b8b8b8" stroke-width="0.6"/>
<line x1="44.9" y1="314.5" x2="46.5" y2="314.5" stroke="#b8b8b8" stroke-width="0.6"/>
<line x1="46.87" y1="314.55" x2="46.87" y2="320.01" stroke="#b8b8b8" stroke-width="0.6"/>
<line x1="46.07" y1="314.55" x2="47.67" y2="314.55" stroke="#b8b8b8" stroke-width="0.6"/>
<line x1="46.07" y1="320.01" x2="47.67" y2="320.01" stroke="#b8b8b8" stroke-width="0.6"/>
<line x1="48.04" y1="317.74" x2="48.04" y2="323.2" stroke="#b8b8b8" stroke-width="0.6"/>
<line x1="47.24" y1="317.74" x2="48.84" y2="317.74" stroke="#b8b8b8" stroke-width="0.6"/>
<line x1="47.24" y1="323.2" x2="48.84" y2="323.2" stroke="#b8b8b8" stroke-width="0.6"/>
<line x1="49.2" y1="322.01" x2="49.2" y2="327.46" stroke="#b8b8b8" stroke-width="0.6"/>
<line x1="48.4" y1="322.01" x2="50" y2="322.01" stroke="#b8b8b8" stroke-width="0.6"/>
<line x1="48.4" y1="327.46" x2="50" y2="327.46" stroke="#b8b8b8" stroke-width="0.6"/>
<line x1="50.37" y1="324.77" x2="50.37" y2="330.22" stroke="#b8b8b8" stroke-width="0.6"/>
<line x1="49.57" y1="324.77" x2="51.17" y2="324.77" stroke="#b8b8b8" stroke-width="0.6"/>
<line x1="49.57" y1="330.22" x2="51.17" y2="330.22" stroke="#b8b8b8" stroke-width="0.6"/>
<line x1="51.54" y1="325.75" x2="51.54" y2="331.21" stroke="#b8b8b8" stroke-width="0.6"/>
<line x1="50.74" y1="325.75" x2="52.34" y2="325.75" stroke="#b8b8b8" stroke-width="0.6"/>
<line x1="50.74" y1="331.21" x2="52.34" y2="331.21" stroke="#b8b8b8" stroke-width="0.6"/>
<line x1="52.7" y1="328.14" x2="52.7" y2="333.6" stroke="#b8b8b8" stroke-width="0.6"/>
<line x1="51.9" y1="328.14" x2="53.5" y2="328.14" stroke="#b8b8b8" stroke-width="0.6"/>
<line x1="51.9" y1="333.6" x2="53.5" y2="333.6" stroke="#b8b8b8" stroke-width="0.6"/>
<line x1="53.87" y1="328.87" x2="53.87" y2="334.32" stroke="#b8b8b8" stroke-width="0.6"/>
<line x1="53.07" y1="328.87" x2="54.67" y2="328.87" stroke="#b8b8b8" stroke-width="0.6"/>
<line x1="53.07" y1="334.32" x2="54.67" y2="334.32" stroke="#b8b8b8" stroke-width="0.6"/>
<line x1="55.04" y1="330.38" x2="55.04" y2="335.83" stroke="#b8b8b8" stroke-width="0.6"/>
<line x1="54.24" y1="330.38" x2="55.84" y2="330.38" stroke="#b8b8b8" stroke-width="0.6"/>
<line x1="54.24" y1="335.83" x2="55.84" y2="335.83" stroke="#b8b8b8" stroke-width="0.6"/>
<line x1="56.2" y1="331.32" x2="56.2" y2="336.78" stroke="#b8b8b8" stroke-width="0.6"/>
<line x1="55.41" y1="331.32" x2="57" y2="331.32" stroke="#b8b8b8" stroke-width="0.6"/>
<line x1="55.41" y1="336.78" x2="57" y2="336.78" stroke="#b8b8b8" stroke-width="0.6"/>
<line x1="57.37" y1="332.46" x2="57.37" y2="337.91" stroke="#b8b8b8" stroke-width="0.6"/>
<line x1="56.57" y1="332.46" x2="58.17" y2="332.46" stroke="#b8b8b8" stroke-width="0.6"/>
<line x1="56.57" y1="337.91" x2="58.17" y2="337.91" stroke="#b8b8b8" stroke-width="0.6"/>
<line x1="58.54" y1="332.53" x2="58.54" y2="337.98" stroke="#b8b8b8" stroke-width="0.6"/>
<line x1="57.74" y1="332.53" x2="59.34" y2="332.53" stroke="#b8b8b8" stroke-width="0.6"/>
<line x1="57.74" y1="337.98" x2="59.34" y2="337.98" stroke="#b8b8b8" stroke-width="0.6"/>
<line x1="59.71" y1="332.87" x2="59.71" y2="338.33" stroke="#b8b8b8" stroke-width="0.6"/>
<line x1="58.91" y1="332.87" x2="60.51" y2="332.87" stroke="#b8b8b8" stroke-width="0.6"/>
<line x1="58.91" y1="338.33" x2="60.51" y2="338.33" stroke="#b8b8b8" stroke-width="0.6"/>
<line x1="60.87" y1="333.85" x2="60.87" y2="339.3" stroke="#b8b8b8" stroke-width="0.6"/>
<line x1="60.07" y1="333.85" x2="61.67" y2="333.85" stroke="#b8b8b8" stroke-width="0.6"/>
<line x1="60.07" y1="339.3" x2="61.67" y2="339.3" stroke="#b8b8b8" stroke-width="0.6"/>
<line x1="62.04" y1="334.21" x2="62.04" y2="339.67" stroke="#b8b8b8" stroke-width="0.6"/>
<line x1="61.24" y1="334.21" x2="62.84" y2="334.21" stroke="#b8b8b8" stroke-width="0.6"/>
<line x1="61.24" y1="339.67" x2="62.84" y2="339.67" stroke="#b8b8b8" stroke-width="0.6"/>
<line x1="63.21" y1="334.56" x2="63.21" y2="340.01" stroke="#b8b8b8" stroke-width="0.6"/>
<line x1="62.41" y1="334.56" x2="64.01" y2="334.56" stroke="#b8b8b8" stroke-width="0.6"/>
<line x1="62.41" y1="340.01" x2="64.01" y2="340.01" stroke="#b8b8b8" stroke-width="0.6"/>
<line x1="64.37" y1="335.5" x2="64.37" y2="340.95" stroke="#b8b8b8" stroke-width="0.6"/>
<line x1="63.57" y1="335.5" x2="65.17" y2="335.5" stroke="#b8b8b8" stroke-width="0.6"/>
<line x1="63.57" y1="340.95" x2="65.17" y2="340.95" stroke="#b8b8b8" stroke-width="0.6"/>
<line x1="65.54" y1="335.01" x2="65.54" y2="340.46" stroke="#b8b8b8" stroke-width="0.6"/>
<line x1="64.74" y1="335.01" x2="66.34" y2="335.01" stroke="#b8b8b8" stroke-width="0.6"/>
<line x1="64.74" y1="340.46" x2="66.34" y2="340.46" stroke="#b8b8b8" stroke-width="0.6"/>
<line x1="66.71" y1="335.47" x2="66.71" y2="340.92" stroke="#b8b8b8" stroke-width="0.6"/>
<line x1="65.91" y1="335.47" x2="67.51" y2="335.47" stroke="#b8b8b8" stroke-width="0.6"/>
<line x1="65.91" y1="340.92" x2="67.51" y2="340.92" stroke="#b8b8b8" stroke-width="0.6"/>
<line x1="67.88" y1="336.05" x2="67.88" y2="341.51" stroke="#b8b8b8" stroke-width="0.6"/>
<line x1="67.08" y1="336.05" x2="68.67" y2="336.05" stroke="#b8b8b8" stroke-width="0.6"/>
<line x1="67.08" y1="341.51" x2="68.67" y2="341.51" stroke="#b8b8b8" stroke-width="0.6"/>
<line x1="69.04" y1="336.62" x2="69.04" y2="342.08" stroke="#b8b8b8" stroke-width="0.6"/>
<line x1="68.24" y1="336.62" x2="69.84" y2="336.62" stroke="#b8b8b8" stroke-width="0.6"/>
<line x1="68.24" y1="342.08" x2="69.84" y2="342.08" stroke="#b8b8b8" stroke-width="0.6"/>
<line x1="70.21" y1="335.98" x2="70.21" y2="341.44" stroke="#b8b8b8" stroke-width="0.6"/>
<line x1="69.41" y1="335.98" x2="71.01" y2="335.98" stroke="#b8b8b8" stroke-width="0.6"/>
<line x1="69.41" y1="341.44" x2="71.01" y2="341.44" stroke="#b8b8b8" stroke-width="0.6"/>
<line x1="71.38" y1="336.69" x2="71.38" y2="342.14" stroke="#b8b8b8" stroke-width="0.6"/>
<line x1="70.58" y1="336.69" x2="72.18" y2="336.69" stroke="#b8b8b8" stroke-width="0.6"/>
<line x1="70.58" y1="342.14" x2="72.18" y2="342.14" stroke="#b8b8b8" stroke-width="0.6"/>
<line x1="72.54" y1="336.69" x2="72.54" y2="342.14" stroke="#b8b8b8" stroke-width="0.6"/>
<line x1="71.74" y1="336.69" x2="73.34" y2="336.69" stroke="#b8b8b8" stroke-width="0.6"/>
<line x1="71.74" y1="342.14" x2="73.34" y2="342.14" stroke="#b8b8b8" stroke-width="0.6"/>
<line x1="73.71" y1="336.79" x2="73.71" y2="342.24" stroke="#b8b8b8" stroke-width="0.6"/>
<line x1="72.91" y1="336.79" x2="74.51" y2="336.79" stroke="#b8b8b8" stroke-width="0.6"/>
<line x1="72.91" y1="342.24" x2="74.51" y2="342.24" stroke="#b8b8b8" stroke-width="0.6"/>
<line x1="74.88" y1="337.08" x2="74.88" y2="342.54" stroke="#b8b8b8" stroke-width="0.6"/>
<line x1="74.08" y1="337.08" x2="75.68" y2="337.08" stroke="#b8b8b8" stroke-width="0.6"/>
<line x1="74.08" y1="342.54" x2="75.68" y2="342.54" stroke="#b8b8b8" stroke-width="0.6"/>
<line x1="76.04" y1="336.97" x2="76.04" y2="342.42" stroke="#b8b8b8" stroke-width="0.6"/>
<line x1="75.24" y1="336.97" x2="76.84" y2="336.97" stroke="#b8b8b8" stroke-width="0.6"/>
<line x1="75.24" y1="342.42" x2="76.84" y2="342.42" stroke="#b8b8b8" stroke-width="0.6"/>
<line x1="77.21" y1="337.66" x2="77.21" y2="343.11" stroke="#b8b8b8" stroke-width="0.6"/>
<line x1="76.41" y1="337.66" x2="78.01" y2="337.66" stroke="#b8b8b8" stroke-width="0.6"/>
<line x1="76.41" y1="343.11" x2="78.01" y2="343.11" stroke="#b8b8b8" stroke-width="0.6"/>
<line x1="78.38" y1="337.33" x2="78.38" y2="342.78" stroke="#b8b8b8" stroke-width="0.6"/>
<line x1="77.58" y1="337.33" x2="79.18" y2="337.33" stroke="#b8b8b8" stroke-width="0.6"/>
<line x1="77.58" y1="342.78" x2="79.18" y2="342.78" stroke="#b8b8b8" stroke-width="0.6"/>
<line x1="79.54" y1="337.83" x2="79.54" y2="343.28" stroke="#b8b8b8" stroke-width="0.6"/>
<line x1="78.74" y1="337.83" x2="80.34" y2="337.83" stroke="#b8b8b8" stroke-width="0.6"/>
<line x1="78.74" y1="343.28" x2="80.34" y2="343.28" stroke="#b8b8b8" stroke-width="0.6"/>
<line x1="80.71" y1="337.41" x2="80.71" y2="342.86" stroke="#b8b8b8" stroke-width="0.6"/>
<line x1="79.91" y1="337.41" x2="81.51" y2="337.41" stroke="#b8b8b8" stroke-width="0.6"/>
<line x1="79.91" y1="342.86" x2="81.51" y2="342.86" stroke="#b8b8b8" stroke-width="0.6"/>
<line x1="81.88" y1="337.58" x2="81.88" y2="343.04" stroke="#b8b8b8" stroke-width="0.6"/>
<line x1="81.08" y1="337.58" x2="82.68" y2="337.58" stroke="#b8b8b8" stroke-width="0.6"/>
<line x1="81.08" y1="343.04" x2="82.68" y2="343.04" stroke="#b8b8b8" stroke-width="0.6"/>
<line x1="83.05" y1="338.55" x2="83.05" y2="344" stroke="#b8b8b8" stroke-width="0.6"/>
<line x1="82.25" y1="338.55" x2="83.85" y2="338.55" stroke="#b8b8b8" stroke-width="0.6"/>
<line x1="82.25" y1="344" x2="83.85" y2="344" stroke="#b8b8b8" stroke-width="0.6"/>
<line x1="84.21" y1="338.62" x2="84.21" y2="344.08" stroke="#b8b8b8" stroke-width="0.6"/>
<line x1="83.41" y1="338.62" x2="85.01" y2="338.62" stroke="#b8b8b8" stroke-width="0.6"/>
<line x1="83.41" y1="344.08" x2="85.01" y2="344.08" stroke="#b8b8b8" stroke-width="0.6"/>
<line x1="85.38" y1="338.65" x2="85.38" y2="344.1" stroke="#b8b8b8" stroke-width="0.6"/>
<line x1="84.58" y1="338.65" x2="86.18" y2="338.65" stroke="#b8b8b8" stroke-width="0.6"/>
<line x1="84.58" y1="344.1" x2="86.18" y2="344.1" stroke="#b8b8b8" stroke-width="0.6"/>
<line x1="86.55" y1="337.94" x2="86.55" y2="343.4" stroke="#b8b8b8" stroke-width="0.6"/>
<line x1="85.75" y1="337.94" x2="87.35" y2="337.94" stroke="#b8b8b8" stroke-width="0.6"/>
<line x1="85.75" y1="343.4" x2="87.35" y2="343.4" stroke="#b8b8b8" stroke-width="0.6"/>
<line x1="87.71" y1="338.63" x2="87.71" y2="344.09" stroke="#b8b8b8" stroke-width="0.6"/>
<line x1="86.91" y1="338.63" x2="88.51" y2="338.63" stroke="#b8b8b8" stroke-width="0.6"/>
<line x1="86.91" y1="344.09" x2="88.51" y2="344.09" stroke="#b8b8b8" stroke-width="0.6"/>
<line x1="88.88" y1="338.54" x2="88.88" y2="343.99" stroke="#b8b8b8" stroke-width="0.6"/>
<line x1="88.08" y1="338.54" x2="89.68" y2="338.54" stroke="#b8b8b8" stroke-width="0.6"/>
<line x1="88.08" y1="343.99" x2="89.68" y2="343.99" stroke="#b8b8b8" stroke-width="0.6"/>
<line x1="90.05" y1="339.01" x2="90.05" y2="344.46" stroke="#b8b8b8" stroke-width="0.6"/>
<line x1="89.25" y1="339.01" x2="90.85" y2="339.01" stroke="#b8b8b8" stroke-width="0.6"/>
<line x1="89.25" y1="344.46" x2="90.85" y2="344.46" stroke="#b8b8b8" stroke-width="0.6"/>
<line x1="91.22" y1="338.9" x2="91.22" y2="344.35" stroke="#b8b8b8" stroke-width="0.6"/>
<line x1="90.42" y1="338.9" x2="92.02" y2="338.9" stroke="#b8b8b8" stroke-width="0.6"/>
<line x1="90.42" y1="344.35" x2="92.02" y2="344.35" stroke="#b8b8b8" stroke-width="0.6"/>
<line x1="92.38" y1="339.14" x2="92.38" y2="344.6" stroke="#b8b8b8" stroke-width="0.6"/>
<line x1="91.58" y1="339.14" x2="93.18" y2="339.14" stroke="#b8b8b8" stroke-width="0.6"/>
<line x1="91.58" y1="344.6" x2="93.18" y2="344.6" stroke="#b8b8b8" stroke-width="0.6"/>
<line x1="93.55" y1="339.3" x2="93.55" y2="344.75" stroke="#b8b8b8" stroke-width="0.6"/>
<line x1="92.75" y1="339.3" x2="94.35" y2="339.3" stroke="#b8b8b8" stroke-width="0.6"/>
<line x1="92.75" y1="344.75" x2="94.35" y2="344.75" stroke="#b8b8b8" stroke-width="0.6"/>
<line x1="94.72" y1="339.15" x2="94.72" y2="344.61" stroke="#b8b8b8" stroke-width="0.6"/>
<line x1="93.92" y1="339.15" x2="95.52" y2="339.15" stroke="#b8b8b8" stroke-width="0.6"/>
<line x1="93.92" y1="344.61" x2="95.52" y2="344.61" stroke="#b8b8b8" stroke-width="0.6"/>
<line x1="95.88" y1="339.27" x2="95.88" y2="344.72" stroke="#b8b8b8" stroke-width="0.6"/>
<line x1="95.08" y1="339.27" x2="96.68" y2="339.27" stroke="#b8b8b8" stroke-width="0.6"/>
<line x1="95.08" y1="344.72" x2="96.68" y2="344.72" stroke="#b8b8b8" stroke-width="0.6"/>
<line x1="97.05" y1="339.03" x2="97.05" y2="344.49" stroke="#b8b8b8" stroke-width="0.6"/>
<line x1="96.25" y1="339.03" x2="97.85" y2="339.03" stroke="#b8b8b8" stroke-width="0.6"/>
<line x1="96.25" y1="344.49" x2="97.85" y2="344.49" stroke="#b8b8b8" stroke-width="0.6"/>
<line x1="98.22" y1="339.3" x2="98.22" y2="344.76" stroke="#b8b8b8" stroke-width="0.6"/>
<line x1="97.42" y1="339.3" x2="99.02" y2="339.3" stroke="#b8b8b8" stroke-width="0.6"/>
<line x1="97.42" y1="344.76" x2="99.02" y2="344.76" stroke="#b8b8b8" stroke-width="0.6"/>
<line x1="99.38" y1="339.06" x2="99.38" y2="344.52" stroke="#b8b8b8" stroke-width="0.6"/>
<line x1="98.58" y1="339.06" x2="100.18" y2="339.06" stroke="#b8b8b8" stroke-width="0.6"/>
<line x1="98.58" y1="344.52" x2="100.18" y2="344.52" stroke="#b8b8b8" stroke-width="0.6"/>
<line x1="100.55" y1="339.17" x2="100.55" y2="344.63" stroke="#b8b8b8" stroke-width="0.6"/>
<line x1="99.75" y1="339.17" x2="101.35" y2="339.17" stroke="#b8b8b8" stroke-width="0.6"/>
<line x1="99.75" y1="344.63" x2="101.35" y2="344.63" stroke="#b8b8b8" stroke-width="0.6"/>
<line x1="101.72" y1="339.05" x2="101.72" y2="344.51" stroke="#b8b8b8" stroke-width="0.6"/>
<line x1="100.92" y1="339.05" x2="102.52" y2="339.05" stroke="#b8b8b8" stroke-width="0.6"/>
<line x1="100.92" y1="344.51" x2="102.52" y2="344.51" stroke="#b8b8b8" stroke-width="0.6"/>
<line x1="102.88" y1="339.43" x2="102.88" y2="344.89" stroke="#b8b8b8" stroke-width="0.6"/>
<line x1="102.08" y1="339.43" x2="103.68" y2="339.43" stroke="#b8b8b8" stroke-width="0.6"/>
<line x1="102.08" y1="344.89" x2="103.68" y2="344.89" stroke="#b8b8b8" stroke-width="0.6"/>
<line x1="104.05" y1="340.02" x2="104.05" y2="345.47" stroke="#b8b8b8" stroke-width="0.6"/>
<line x1="103.25" y1="340.02" x2="104.85" y2="340.02" stroke="#b8b8b8" stroke-width="0.6"/>
<line x1="103.25" y1="345.47" x2="104.85" y2="345.47" stroke="#b8b8b8" stroke-width="0.6"/>
<line x1="105.22" y1="339.28" x2="105.22" y2="344.74" stroke="#b8b8b8" stroke-width="0.6"/>
<line x1="104.42" y1="339.28" x2="106.02" y2="339.28" stroke="#b8b8b8" stroke-width="0.6"/>
<line x1="104.42" y1="344.74" x2="106.02" y2="344.74" stroke="#b8b8b8" stroke-width="0.6"/>
<line x1="106.39" y1="339.2" x2="106.39" y2="344.65" stroke="#b8b8b8" stroke-width="0.6"/>
<line x1="105.59" y1="339.2" x2="107.19" y2="339.2" stroke="#b8b8b8" stroke-width="0.6"/>
<line x1="105.59" y1="344.65" x2="107.19" y2="344.65" stroke="#b8b8b8" stroke-width="0.6"/>
<line x1="107.55" y1="339.29" x2="107.55" y2="344.75" stroke="#b8b8b8" stroke-width="0.6"/>
<line x1="106.75" y1="339.29" x2="108.35" y2="339.29" stroke="#b8b8b8" stroke-width="0.6"/>
<line x1="106.75" y1="344.75" x2="108.35" y2="344.75" stroke="#b8b8b8" stroke-width="0.6"/>
<line x1="108.72" y1="339.69" x2="108.72" y2="345.14" stroke="#b8b8b8" stroke-width="0.6"/>
<line x1="107.92" y1="339.69" x2="109.52" y2="339.69" stroke="#b8b8b8" stroke-width="0.6"/>
<line x1="107.92" y1="345.14" x2="109.52" y2="345.14" stroke="#b8b8b8" stroke-width="0.6"/>
<line x1="109.89" y1="339.56" x2="109.89" y2="345.01" stroke="#b8b8b8" stroke-width="0.6"/>
<line x1="109.09" y1="339.56" x2="110.69" y2="339.56" stroke="#b8b8b8" stroke-width="0.6"/>
<line x1="109.09" y1="345.01" x2="110.69" y2="345.01" stroke="#b8b8b8" stroke-width="0.6"/>
<line x1="111.05" y1="340.14" x2="111.05" y2="345.59" stroke="#b8b8b8" stroke-width="0.6"/>
<line x1="110.25" y1="340.14" x2="111.85" y2="340.14" stroke="#b8b8b8" stroke-width="0.6"/>
<line x1="110.25" y1="345.59" x2="111.85" y2="345.59" stroke="#b8b8b8" stroke-width="0.6"/>
<line x1="112.22" y1="339.49" x2="112.22" y2="344.94" stroke="#b8b8b8" stroke-width="0.6"/>
<line x1="111.42" y1="339.49" x2="113.02" y2="339.49" stroke="#b8b8b8" stroke-width="0.6"/>
<line x1="111.42" y1="344.94" x2="113.02" y2="344.94" stroke="#b8b8b8" stroke-width="0.6"/>
<line x1="113.39" y1="339.8" x2="113.39" y2="345.26" stroke="#b8b8b8" stroke-width="0.6"/>
<line x1="112.59" y1="339.8" x2="114.19" y2="339.8" stroke="#b8b8b8" stroke-width="0.6"/>
<line x1="112.59" y1="345.26" x2="114.19" y2="345.26" stroke="#b8b8b8" stroke-width="0.6"/>
<line x1="114.56" y1="340.14" x2="114.56" y2="345.6" stroke="#b8b8b8" stroke-width="0.6"/>
<line x1="113.76" y1="340.14" x2="115.36" y2="340.14" stroke="#b8b8b8" stroke-width="0.6"/>
<line x1="113.76" y1="345.6" x2="115.36" y2="345.6" stroke="#b8b8b8" stroke-width="0.6"/>
<line x1="115.72" y1="340.42" x2="115.72" y2="345.87" stroke="#b8b8b8" stroke-width="0.6"/>
<line x1="114.92" y1="340.42" x2="116.52" y2="340.42" stroke="#b8b8b8" stroke-width="0.6"/>
<line x1="114.92" y1="345.87" x2="116.52" y2="345.87" stroke="#b8b8b8" stroke-width="0.6"/>
<line x1="116.89" y1="339.58" x2="116.89" y2="345.04" stroke="#b8b8b8" stroke-width="0.6"/>
<line x1="116.09" y1="339.58" x2="117.69" y2="339.58" stroke="#b8b8b8" stroke-width="0.6"/>
<line x1="116.09" y1="345.04" x2="117.69" y2="345.04" stroke="#b8b8b8" stroke-width="0.6"/>
<line x1="118.06" y1="339.46" x2="118.06" y2="344.92" stroke="#b8b8b8" stroke-width="0.6"/>
<line x1="117.26" y1="339.46" x2="118.86" y2="339.46" stroke="#b8b8b8" stroke-width="0.6"/>
<line x1="117.26" y1="344.92" x2="118.86" y2="344.92" stroke="#b8b8b8" stroke-width="0.6"/>
<line x1="119.22" y1="340.48" x2="119.22" y2="345.93" stroke="#b8b8b8" stroke-width="0.6"/>
<line x1="118.42" y1="340.48" x2="120.02" y2="340.48" stroke="#b8b8b8" stroke-width="0.6"/>
<line x1="118.42" y1="345.93" x2="120.02" y2="345.93" stroke="#b8b8b8" stroke-width="0.6"/>
<line x1="120.39" y1="339.73" x2="120.39" y2="345.18" stroke="#b8b8b8" stroke-width="0.6"/>
<line x1="119.59" y1="339.73" x2="121.19" y2="339.73" stroke="#b8b8b8" stroke-width="0.6"/>
<line x1="119.59" y1="345.18" x2="121.19" y2="345.18" stroke="#b8b8b8" stroke-width="0.6"/>
<line x1="121.56" y1="340.18" x2="121.56" y2="345.64" stroke="#b8b8b8" stroke-width="0.6"/>
<line x1="120.76" y1="340.18" x2="122.36" y2="340.18" stroke="#b8b8b8" stroke-width="0.6"/>
<line x1="120.76" y1="345.64" x2="122.36" y2="345.64" stroke="#b8b8b8" stroke-width="0.6"/>
<line x1="122.72" y1="340.49" x2="122.72" y2="345.95" stroke="#b8b8b8" stroke-width="0.6"/>
<line x1="121.92" y1="340.49" x2="123.52" y2="340.49" stroke="#b8b8b8" stroke-width="0.6"/>
<line x1="121.92" y1="345.95" x2="123.52" y2="345.95" stroke="#b8b8b8" stroke-width="0.6"/>
<line x1="123.89" y1="340.37" x2="123.89" y2="345.82" stroke="#b8b8b8" stroke-width="0.6"/>
<line x1="123.09" y1="340.37" x2="124.69" y2="340.37" stroke="#b8b8b8" stroke-width="0.6"/>
<line x1="123.09" y1="345.82" x2="124.69" y2="345.82" stroke="#b8b8b8" stroke-width="0.6"/>
<line x1="125.06" y1="339.88" x2="125.06" y2="345.33" stroke="#b8b8b8" stroke-width="0.6"/>
<line x1="124.26" y1="339.88" x2="125.86" y2="339.88" stroke="#b8b8b8" stroke-width="0.6"/>
<line x1="124.26" y1="345.33" x2="125.86" y2="345.33" stroke="#b8b8b8" stroke-width="0.6"/>
<line x1="126.22" y1="339.79" x2="126.22" y2="345.25" stroke="#b8b8b8" stroke-width="0.6"/>
<line x1="125.42" y1="339.79" x2="127.02" y2="339.79" stroke="#b8b8b8" stroke-width="0.6"/>
<line x1="125.42" y1="345.25" x2="127.02" y2="345.25" stroke="#b8b8b8" stroke-width="0.6"/>
<line x1="127.39" y1="340.73" x2="127.39" y2="346.18" stroke="#b8b8b8" stroke-width="0.6"/>
<line x1="126.59" y1="340.73" x2="128.19" y2="340.73" stroke="#b8b8b8" stroke-width="0.6"/>
<line x1="126.59" y1="346.18" x2="128.19" y2="346.18" stroke="#b8b8b8" stroke-width="0.6"/>
<line x1="128.56" y1="340.13" x2="128.56" y2="345.59" stroke="#b8b8b8" stroke-width="0.6"/>
<line x1="127.76" y1="340.13" x2="129.36" y2="340.13" stroke="#b8b8b8" stroke-width="0.6"/>
<line x1="127.76" y1="345.59" x2="129.36" y2="345.59" stroke="#b8b8b8" stroke-width="0.6"/>
<line x1="129.73" y1="340.78" x2="129.73" y2="346.24" stroke="#b8b8b8" stroke-width="0.6"/>
<line x1="128.93" y1="340.78" x2="130.53" y2="340.78" stroke="#b8b8b8" stroke-width="0.6"/>
<line x1="128.93" y1="346.24" x2="130.53" y2="346.24" stroke="#b8b8b8" stroke-width="0.6"/>
<line x1="130.89" y1="340.08" x2="130.89" y2="345.53" stroke="#b8b8b8" stroke-width="0.6"/>
<line x1="130.09" y1="340.08" x2="131.69" y2="340.08" stroke="#b8b8b8" stroke-width="0.6"/>
<line x1="130.09" y1="345.53" x2="131.69" y2="345.53" stroke="#b8b8b8" stroke-width="0.6"/>
<line x1="132.06" y1="340.53" x2="132.06" y2="345.99" stroke="#b8b8b8" stroke-width="0.6"/>
<line x1="131.26" y1="340.53" x2="132.86" y2="340.53" stroke="#b8b8b8" stroke-width="0.6"/>
<line x1="131.26" y1="345.99" x2="132.86" y2="345.99" stroke="#b8b8b8" stroke-width="0.6"/>
<line x1="133.23" y1="339.96" x2="133.23" y2="345.41" stroke="#b8b8b8" stroke-width="0.6"/>
<line x1="132.43" y1="339.96" x2="134.03" y2="339.96" stroke="#b8b8b8" stroke-width="0.6"/>
<line x1="132.43" y1="345.41" x2="134.03" y2="345.41" stroke="#b8b8b8" stroke-width="0.6"/>
<line x1="134.39" y1="339.88" x2="134.39" y2="345.33" stroke="#b8b8b8" stroke-width="0.6"/>
<line x1="133.59" y1="339.88" x2="135.19" y2="339.88" stroke="#b8b8b8" stroke-width="0.6"/>
<line x1="133.59" y1="345.33" x2="135.19" y2="345.33" stroke="#b8b8b8" stroke-width="0.6"/>
<line x1="135.56" y1="340.43" x2="135.56" y2="345.88" stroke="#b8b8b8" stroke-width="0.6"/>
<line x1="134.76" y1="340.43" x2="136.36" y2="340.43" stroke="#b8b8b8" stroke-width="0.6"/>
<line x1="134.76" y1="345.88" x2="136.36" y2="345.88" stroke="#b8b8b8" stroke-width="0.6"/>
<line x1="136.73" y1="339.92" x2="136.73" y2="345.37" stroke="#b8b8b8" stroke-width="0.6"/>
<line x1="135.93" y1="339.92" x2="137.53" y2="339.92" stroke="#b8b8b8" stroke-width="0.6"/>
<line x1="135.93" y1="345.37" x2="137.53" y2="345.37" stroke="#b8b8b8" stroke-width="0.6"/>
<line x1="137.9" y1="340.7" x2="137.9" y2="346.15" stroke="#b8b8b8" stroke-width="0.6"/>
<line x1="137.09" y1="340.7" x2="138.7" y2="340.7" stroke="#b8b8b8" stroke-width="0.6"/>
<line x1="137.09" y1="346.15" x2="138.7" y2="346.15" stroke="#b8b8b8" stroke-width="0.6"/>
<line x1="139.06" y1="340.98" x2="139.06" y2="346.44" stroke="#b8b8b8" stroke-width="0.6"/>
<line x1="138.26" y1="340.98" x2="139.86" y2="340.98" stroke="#b8b8b8" stroke-width="0.6"/>
<line x1="138.26" y1="346.44" x2="139.86" y2="346.44" stroke="#b8b8b8" stroke-width="0.6"/>
<line x1="140.23" y1="340.44" x2="140.23" y2="345.9" stroke="#b8b8b8" stroke-width="0.6"/>
<line x1="139.43" y1="340.44" x2="141.03" y2="340.44" stroke="#b8b8b8" stroke-width="0.6"/>
<line x1="139.43" y1="345.9" x2="141.03" y2="345.9" stroke="#b8b8b8" stroke-width="0.6"/>
<line x1="141.4" y1="341.09" x2="141.4" y2="346.54" stroke="#b8b8b8" stroke-width="0.6"/>
<line x1="140.6" y1="341.09" x2="142.2" y2="341.09" stroke="#b8b8b8" stroke-width="0.6"/>
<line x1="140.6" y1="346.54" x2="142.2" y2="346.54" stroke="#b8b8b8" stroke-width="0.6"/>
<line x1="142.56" y1="340.94" x2="142.56" y2="346.39" stroke="#b8b8b8" stroke-width="0.6"/>
<line x1="141.76" y1="340.94" x2="143.36" y2="340.94" stroke="#b8b8b8" stroke-width="0.6"/>
<line x1="141.76" y1="346.39" x2="143.36" y2="346.39" stroke="#b8b8b8" stroke-width="0.6"/>
<line x1="143.73" y1="340.74" x2="143.73" y2="346.19" stroke="#b8b8b8" stroke-width="0.6"/>
<line x1="142.93" y1="340.74" x2="144.53" y2="340.74" stroke="#b8b8b8" stroke-width="0.6"/>
<line x1="142.93" y1="346.19" x2="144.53" y2="346.19" stroke="#b8b8b8" stroke-width="0.6"/>
<line x1="144.9" y1="340.55" x2="144.9" y2="346" stroke="#b8b8b8" stroke-width="0.6"/>
<line x1="144.1" y1="340.55" x2="145.7" y2="340.55" stroke="#b8b8b8" stroke-width="0.6"/>
<line x1="144.1" y1="346" x2="145.7" y2="346" stroke="#b8b8b8" stroke-width="0.6"/>
<line x1="146.06" y1="341.07" x2="146.06" y2="346.52" stroke="#b8b8b8" stroke-width="0.6"/>
<line x1="145.26" y1="341.07" x2="146.86" y2="341.07" stroke="#b8b8b8" stroke-width="0.6"/>
<line x1="145.26" y1="346.52" x2="146.86" y2="346.52" stroke="#b8b8b8" stroke-width="0.6"/>
<line x1="147.23" y1="341.22" x2="147.23" y2="346.68" stroke="#b8b8b8" stroke-width="0.6"/>
<line x1="146.43" y1="341.22" x2="148.03" y2="341.22" stroke="#b8b8b8" stroke-width="0.6"/>
<line x1="146.43" y1="346.68" x2="148.03" y2="346.68" stroke="#b8b8b8" stroke-width="0.6"/>
<line x1="148.4" y1="340.35" x2="148.4" y2="345.81" stroke="#b8b8b8" stroke-width="0.6"/>
<line x1="147.6" y1="340.35" x2="149.2" y2="340.35" stroke="#b8b8b8" stroke-width="0.6"/>
<line x1="147.6" y1="345.81" x2="149.2" y2="345.81" stroke="#b8b8b8" stroke-width="0.6"/>
<line x1="149.56" y1="340.99" x2="149.56" y2="346.44" stroke="#b8b8b8" stroke-width="0.6"/>
<line x1="148.76" y1="340.99" x2="150.37" y2="340.99" stroke="#b8b8b8" stroke-width="0.6"/>
<line x1="148.76" y1="346.44" x2="150.37" y2="346.44" stroke="#b8b8b8" stroke-width="0.6"/>
<line x1="150.73" y1="340.31" x2="150.73" y2="345.77" stroke="#b8b8b8" stroke-width="0.6"/>
<line x1="149.93" y1="340.31" x2="151.53" y2="340.31" stroke="#b8b8b8" stroke-width="0.6"/>
<line x1="149.93" y1="345.77" x2="151.53" y2="345.77" stroke="#b8b8b8" stroke-width="0.6"/>
<line x1="151.9" y1="340.41" x2="151.9" y2="345.86" stroke="#b8b8b8" stroke-width="0.6"/>
<line x1="151.1" y1="340.41" x2="152.7" y2="340.41" stroke="#b8b8b8" stroke-width="0.6"/>
<line x1="151.1" y1="345.86" x2="152.7" y2="345.86" stroke="#b8b8b8" stroke-width="0.6"/>
<line x1="153.07" y1="341" x2="153.07" y2="346.46" stroke="#b8b8b8" stroke-width="0.6"/>
<line x1="152.27" y1="341" x2="153.87" y2="341" stroke="#b8b8b8" stroke-width="0.6"/>
<line x1="152.27" y1="346.46" x2="153.87" y2="346.46" stroke="#b8b8b8" stroke-width="0.6"/>
<line x1="154.23" y1="340.94" x2="154.23" y2="346.4" stroke="#b8b8b8" stroke-width="0.6"/>
<line x1="153.43" y1="340.94" x2="155.03" y2="340.94" stroke="#b8b8b8" stroke-width="0.6"/>
<line x1="153.43" y1="346.4" x2="155.03" y2="346.4" stroke="#b8b8b8" stroke-width="0.6"/>
<line x1="155.4" y1="340.91" x2="155.4" y2="346.36" stroke="#b8b8b8" stroke-width="0.6"/>
<line x1="154.6" y1="340.91" x2="156.2" y2="340.91" stroke="#b8b8b8" stroke-width="0.6"/>
<line x1="154.6" y1="346.36" x2="156.2" y2="346.36" stroke="#b8b8b8" stroke-width="0.6"/>
<polyline points="39.87,261.59 41.03,267.61 42.2,281.44 43.37,294.37 44.53,304.34 45.7,311.77 46.87,317.28 48.04,320.47 49.2,324.74 50.37,327.49 51.54,328.48 52.7,330.87 53.87,331.59 55.04,333.11 56.2,334.05 57.37,335.18 58.54,335.25 59.71,335.6 60.87,336.58 62.04,336.94 63.21,337.29 64.37,338.22 65.54,337.74 66.71,338.19 67.88,338.78 69.04,339.35 70.21,338.71 71.38,339.41 72.54,339.42 73.71,339.52 74.88,339.81 76.04,339.7 77.21,340.38 78.38,340.05 79.54,340.56 80.71,340.14 81.88,340.31 83.05,341.28 84.21,341.35 85.38,341.37 86.55,340.67 87.71,341.36 88.88,341.27 90.05,341.74 91.22,341.62 92.38,341.87 93.55,342.02 94.72,341.88 95.88,342 97.05,341.76 98.22,342.03 99.38,341.79 100.55,341.9 101.72,341.78 102.88,342.16 104.05,342.74 105.22,342.01 106.39,341.93 107.55,342.02 108.72,342.42 109.89,342.29 111.05,342.87 112.22,342.22 113.39,342.53 114.56,342.87 115.72,343.14 116.89,342.31 118.06,342.19 119.22,343.2 120.39,342.45 121.56,342.91 122.72,343.22 123.89,343.09 125.06,342.61 126.22,342.52 127.39,343.45 128.56,342.86 129.73,343.51 130.89,342.81 132.06,343.26 133.23,342.69 134.39,342.61 135.56,343.15 136.73,342.65 137.9,343.43 139.06,343.71 140.23,343.17 141.4,343.82 142.56,343.67 143.73,343.46 144.9,343.27 146.06,343.8 147.23,343.95 148.4,343.08 149.56,343.71 150.73,343.04 151.9,343.14 153.07,343.73 154.23,343.67 155.4,343.63" fill="none" stroke="#a8a8a8" stroke-width="0.8" stroke-linejoin="round"/>
<line x1="39.87" y1="260.5" x2="39.87" y2="262.68" stroke="#222" stroke-width="0.6"/>
<line x1="38.87" y1="260.5" x2="40.87" y2="260.5" stroke="#222" stroke-width="0.6"/>
<line x1="38.87" y1="262.68" x2="40.87" y2="262.68" stroke="#222" stroke-width="0.6"/>
<line x1="38.77" y1="261.59" x2="40.97" y2="261.59" stroke="#000" stroke-width="0.8"/>
<line x1="39.87" y1="260.49" x2="39.87" y2="262.69" stroke="#000" stroke-width="0.8"/>
<line x1="41.03" y1="267.91" x2="41.03" y2="270.1" stroke="#222" stroke-width="0.6"/>
<line x1="40.03" y1="267.91" x2="42.03" y2="267.91" stroke="#222" stroke-width="0.6"/>
<line x1="40.03" y1="270.1" x2="42.03" y2="270.1" stroke="#222" stroke-width="0.6"/>
<line x1="39.93" y1="269" x2="42.13" y2="269" stroke="#000" stroke-width="0.8"/>
<line x1="41.03" y1="267.9" x2="41.03" y2="270.1" stroke="#000" stroke-width="0.8"/>
<line x1="42.2" y1="281.23" x2="42.2" y2="283.41" stroke="#222" stroke-width="0.6"/>
<line x1="41.2" y1="281.23" x2="43.2" y2="281.23" stroke="#222" stroke-width="0.6"/>
<line x1="41.2" y1="283.41" x2="43.2" y2="283.41" stroke="#222" stroke-width="0.6"/>
<line x1="41.1" y1="282.32" x2="43.3" y2="282.32" stroke="#000" stroke-width="0.8"/>
<line x1="42.2" y1="281.22" x2="42.2" y2="283.42" stroke="#000" stroke-width="0.8"/>
<line x1="43.37" y1="294.22" x2="43.37" y2="298.22" stroke="#222" stroke-width="0.6"/>
<line x1="42.37" y1="294.22" x2="44.37" y2="294.22" stroke="#222" stroke-width="0.6"/>
<line x1="42.37" y1="298.22" x2="44.37" y2="298.22" stroke="#222" stroke-width="0.6"/>
<line x1="42.27" y1="296.22" x2="44.47" y2="296.22" stroke="#000" stroke-width="0.8"/>
<line x1="43.37" y1="295.12" x2="43.37" y2="297.32" stroke="#000" stroke-width="0.8"/>
<line x1="44.53" y1="304.31" x2="44.53" y2="308.31" stroke="#222" stroke-width="0.6"/>
<line x1="43.53" y1="304.31" x2="45.53" y2="304.31" stroke="#222" stroke-width="0.6"/>
<line x1="43.53" y1="308.31" x2="45.53" y2="308.31" stroke="#222" stroke-width="0.6"/>
<line x1="43.43" y1="306.31" x2="45.63" y2="306.31" stroke="#000" stroke-width="0.8"/>
<line x1="44.53" y1="305.21" x2="44.53" y2="307.41" stroke="#000" stroke-width="0.8"/>
<line x1="45.7" y1="311.22" x2="45.7" y2="315.22" stroke="#222" stroke-width="0.6"/>
<line x1="44.7" y1="311.22" x2="46.7" y2="311.22" stroke="#222" stroke-width="0.6"/>
<line x1="44.7" y1="315.22" x2="46.7" y2="315.22" stroke="#222" stroke-width="0.6"/>
<line x1="44.6" y1="313.22" x2="46.8" y2="313.22" stroke="#000" stroke-width="0.8"/>
<line x1="45.7" y1="312.12" x2="45.7" y2="314.32" stroke="#000" stroke-width="0.8"/>
<line x1="46.87" y1="316.11" x2="46.87" y2="320.11" stroke="#222" stroke-width="0.6"/>
<line x1="45.87" y1="316.11" x2="47.87" y2="316.11" stroke="#222" stroke-width="0.6"/>
<line x1="45.87" y1="320.11" x2="47.87" y2="320.11" stroke="#222" stroke-width="0.6"/>
<line x1="45.77" y1="318.11" x2="47.97" y2="318.11" stroke="#000" stroke-width="0.8"/>
<line x1="46.87" y1="317.01" x2="46.87" y2="319.21" stroke="#000" stroke-width="0.8"/>
<line x1="48.04" y1="320.78" x2="48.04" y2="324.78" stroke="#222" stroke-width="0.6"/>
<line x1="47.04" y1="320.78" x2="49.04" y2="320.78" stroke="#222" stroke-width="0.6"/>
<line x1="47.04" y1="324.78" x2="49.04" y2="324.78" stroke="#222" stroke-width="0.6"/>
<line x1="46.94" y1="322.78" x2="49.14" y2="322.78" stroke="#000" stroke-width="0.8"/>
<line x1="48.04" y1="321.68" x2="48.04" y2="323.88" stroke="#000" stroke-width="0.8"/>
<line x1="49.2" y1="324.46" x2="49.2" y2="328.46" stroke="#222" stroke-width="0.6"/>
<line x1="48.2" y1="324.46" x2="50.2" y2="324.46" stroke="#222" stroke-width="0.6"/>
<line x1="48.2" y1="328.46" x2="50.2" y2="328.46" stroke="#222" stroke-width="0.6"/>
<line x1="48.1" y1="326.46" x2="50.3" y2="326.46" stroke="#000" stroke-width="0.8"/>
<line x1="49.2" y1="325.36" x2="49.2" y2="327.56" stroke="#000" stroke-width="0.8"/>
<line x1="50.37" y1="327.78" x2="50.37" y2="331.78" stroke="#222" stroke-width="0.6"/>
<line x1="49.37" y1="327.78" x2="51.37" y2="327.78" stroke="#222" stroke-width="0.6"/>
<line x1="49.37" y1="331.78" x2="51.37" y2="331.78" stroke="#222" stroke-width="0.6"/>
<line x1="49.27" y1="329.78" x2="51.47" y2="329.78" stroke="#000" stroke-width="0.8"/>
<line x1="50.37" y1="328.68" x2="50.37" y2="330.88" stroke="#000" stroke-width="0.8"/>
<line x1="51.54" y1="329.48" x2="51.54" y2="333.48" stroke="#222" stroke-width="0.6"/>
<line x1="50.54" y1="329.48" x2="52.54" y2="329.48" stroke="#222" stroke-width="0.6"/>
<line x1="50.54" y1="333.48" x2="52.54" y2="333.48" stroke="#222" stroke-width="0.6"/>
<line x1="50.44" y1="331.48" x2="52.64" y2="331.48" stroke="#000" stroke-width="0.8"/>
<line x1="51.54" y1="330.38" x2="51.54" y2="332.58" stroke="#000" stroke-width="0.8"/>
<line x1="52.7" y1="331.81" x2="52.7" y2="335.81" stroke="#222" stroke-width="0.6"/>
<line x1="51.7" y1="331.81" x2="53.7" y2="331.81" stroke="#222" stroke-width="0.6"/>
<line x1="51.7" y1="335.81" x2="53.7" y2="335.81" stroke="#222" stroke-width="0.6"/>
<line x1="51.6" y1="333.81" x2="53.8" y2="333.81" stroke="#000" stroke-width="0.8"/>
<line x1="52.7" y1="332.71" x2="52.7" y2="334.91" stroke="#000" stroke-width="0.8"/>
<line x1="53.87" y1="332.98" x2="53.87" y2="336.98" stroke="#222" stroke-width="0.6"/>
<line x1="52.87" y1="332.98" x2="54.87" y2="332.98" stroke="#222" stroke-width="0.6"/>
<line x1="52.87" y1="336.98" x2="54.87" y2="336.98" stroke="#222" stroke-width="0.6"/>
<line x1="52.77" y1="334.98" x2="54.97" y2="334.98" stroke="#000" stroke-width="0.8"/>
<line x1="53.87" y1="333.88" x2="53.87" y2="336.08" stroke="#000" stroke-width="0.8"/>
<line x1="55.04" y1="334.12" x2="55.04" y2="338.12" stroke="#222" stroke-width="0.6"/>
<line x1="54.04" y1="334.12" x2="56.04" y2="334.12" stroke="#222" stroke-width="0.6"/>
<line x1="54.04" y1="338.12" x2="56.04" y2="338.12" stroke="#222" stroke-width="0.6"/>
<line x1="53.94" y1="336.12" x2="56.14" y2="336.12" stroke="#000" stroke-width="0.8"/>
<line x1="55.04" y1="335.02" x2="55.04" y2="337.22" stroke="#000" stroke-width="0.8"/>
<line x1="56.2" y1="335.06" x2="56.2" y2="339.06" stroke="#222" stroke-width="0.6"/>
<line x1="55.2" y1="335.06" x2="57.2" y2="335.06" stroke="#222" stroke-width="0.6"/>
<line x1="55.2" y1="339.06" x2="57.2" y2="339.06" stroke="#222" stroke-width="0.6"/>
<line x1="57.37" y1="334.79" x2="57.37" y2="338.79" stroke="#222" stroke-width="0.6"/>
<line x1="56.37" y1="334.79" x2="58.37" y2="334.79" stroke="#222" stroke-width="0.6"/>
<line x1="56.37" y1="338.79" x2="58.37" y2="338.79" stroke="#222" stroke-width="0.6"/>
<line x1="58.54" y1="335.41" x2="58.54" y2="339.41" stroke="#222" stroke-width="0.6"/>
<line x1="57.54" y1="335.41" x2="59.54" y2="335.41" stroke="#222" stroke-width="0.6"/>
<line x1="57.54" y1="339.41" x2="59.54" y2="339.41" stroke="#222" stroke-width="0.6"/>
<line x1="59.71" y1="335.94" x2="59.71" y2="339.94" stroke="#222" stroke-width="0.6"/>
<line x1="58.71" y1="335.94" x2="60.71" y2="335.94" stroke="#222" stroke-width="0.6"/>
<line x1="58.71" y1="339.94" x2="60.71" y2="339.94" stroke="#222" stroke-width="0.6"/>
<line x1="60.87" y1="336.46" x2="60.87" y2="340.46" stroke="#222" stroke-width="0.6"/>
<line x1="59.87" y1="336.46" x2="61.87" y2="336.46" stroke="#222" stroke-width="0.6"/>
<line x1="59.87" y1="340.46" x2="61.87" y2="340.46" stroke="#222" stroke-width="0.6"/>
<line x1="62.04" y1="337.63" x2="62.04" y2="341.63" stroke="#222" stroke-width="0.6"/>
<line x1="61.04" y1="337.63" x2="63.04" y2="337.63" stroke="#222" stroke-width="0.6"/>
<line x1="61.04" y1="341.63" x2="63.04" y2="341.63" stroke="#222" stroke-width="0.6"/>
<line x1="63.21" y1="337.73" x2="63.21" y2="341.73" stroke="#222" stroke-width="0.6"/>
<line x1="62.21" y1="337.73" x2="64.21" y2="337.73" stroke="#222" stroke-width="0.6"/>
<line x1="62.21" y1="341.73" x2="64.21" y2="341.73" stroke="#222" stroke-width="0.6"/>
<line x1="64.37" y1="337.61" x2="64.37" y2="341.61" stroke="#222" stroke-width="0.6"/>
<line x1="63.37" y1="337.61" x2="65.37" y2="337.61" stroke="#222" stroke-width="0.6"/>
<line x1="63.37" y1="341.61" x2="65.37" y2="341.61" stroke="#222" stroke-width="0.6"/>
<line x1="65.54" y1="337.72" x2="65.54" y2="341.72" stroke="#222" stroke-width="0.6"/>
<line x1="64.54" y1="337.72" x2="66.54" y2="337.72" stroke="#222" stroke-width="0.6"/>
<line x1="64.54" y1="341.72" x2="66.54" y2="341.72" stroke="#222" stroke-width="0.6"/>
<line x1="66.71" y1="337.81" x2="66.71" y2="341.81" stroke="#222" stroke-width="0.6"/>
<line x1="65.71" y1="337.81" x2="67.71" y2="337.81" stroke="#222" stroke-width="0.6"/>
<line x1="65.71" y1="341.81" x2="67.71" y2="341.81" stroke="#222" stroke-width="0.6"/>
<line x1="67.88" y1="338.01" x2="67.88" y2="342.01" stroke="#222" stroke-width="0.6"/>
<line x1="66.88" y1="338.01" x2="68.88" y2="338.01" stroke="#222" stroke-width="0.6"/>
<line x1="66.88" y1="342.01" x2="68.88" y2="342.01" stroke="#222" stroke-width="0.6"/>
<line x1="69.04" y1="339.11" x2="69.04" y2="343.11" stroke="#222" stroke-width="0.6"/>
<line x1="68.04" y1="339.11" x2="70.04" y2="339.11" stroke="#222" stroke-width="0.6"/>
<line x1="68.04" y1="343.11" x2="70.04" y2="343.11" stroke="#222" stroke-width="0.6"/>
<line x1="70.21" y1="338.77" x2="70.21" y2="342.77" stroke="#222" stroke-width="0.6"/>
<line x1="69.21" y1="338.77" x2="71.21" y2="338.77" stroke="#222" stroke-width="0.6"/>
<line x1="69.21" y1="342.77" x2="71.21" y2="342.77" stroke="#222" stroke-width="0.6"/>
<line x1="71.38" y1="338.92" x2="71.38" y2="342.92" stroke="#222" stroke-width="0.6"/>
<line x1="70.38" y1="338.92" x2="72.38" y2="338.92" stroke="#222" stroke-width="0.6"/>
<line x1="70.38" y1="342.92" x2="72.38" y2="342.92" stroke="#222" stroke-width="0.6"/>
<line x1="72.54" y1="339.33" x2="72.54" y2="343.33" stroke="#222" stroke-width="0.6"/>
<line x1="71.54" y1="339.33" x2="73.54" y2="339.33" stroke="#222" stroke-width="0.6"/>
<line x1="71.54" y1="343.33" x2="73.54" y2="343.33" stroke="#222" stroke-width="0.6"/>
<line x1="73.71" y1="339.92" x2="73.71" y2="343.92" stroke="#222" stroke-width="0.6"/>
<line x1="72.71" y1="339.92" x2="74.71" y2="339.92" stroke="#222" stroke-width="0.6"/>
<line x1="72.71" y1="343.92" x2="74.71" y2="343.92" stroke="#222" stroke-width="0.6"/>
<line x1="74.88" y1="339.68" x2="74.88" y2="343.68" stroke="#222" stroke-width="0.6"/>
<line x1="73.88" y1="339.68" x2="75.88" y2="339.68" stroke="#222" stroke-width="0.6"/>
<line x1="73.88" y1="343.68" x2="75.88" y2="343.68" stroke="#222" stroke-width="0.6"/>
<line x1="76.04" y1="340.19" x2="76.04" y2="344.19" stroke="#222" stroke-width="0.6"/>
<line x1="75.04" y1="340.19" x2="77.04" y2="340.19" stroke="#222" stroke-width="0.6"/>
<line x1="75.04" y1="344.19" x2="77.04" y2="344.19" stroke="#222" stroke-width="0.6"/>
<line x1="77.21" y1="339.36" x2="77.21" y2="343.36" stroke="#222" stroke-width="0.6"/>
<line x1="76.21" y1="339.36" x2="78.21" y2="339.36" stroke="#222" stroke-width="0.6"/>
<line x1="76.21" y1="343.36" x2="78.21" y2="343.36" stroke="#222" stroke-width="0.6"/>
<line x1="78.38" y1="339.53" x2="78.38" y2="343.53" stroke="#222" stroke-width="0.6"/>
<line x1="77.38" y1="339.53" x2="79.38" y2="339.53" stroke="#222" stroke-width="0.6"/>
<line x1="77.38" y1="343.53" x2="79.38" y2="343.53" stroke="#222" stroke-width="0.6"/>
<line x1="79.54" y1="339.97" x2="79.54" y2="343.97" stroke="#222" stroke-width="0.6"/>
<line x1="78.54" y1="339.97" x2="80.54" y2="339.97" stroke="#222" stroke-width="0.6"/>
<line x1="78.54" y1="343.97" x2="80.54" y2="343.97" stroke="#222" stroke-width="0.6"/>
<line x1="80.71" y1="340.33" x2="80.71" y2="344.33" stroke="#222" stroke-width="0.6"/>
<line x1="79.71" y1="340.33" x2="81.71" y2="340.33" stroke="#222" stroke-width="0.6"/>
<line x1="79.71" y1="344.33" x2="81.71" y2="344.33" stroke="#222" stroke-width="0.6"/>
<line x1="81.88" y1="339.76" x2="81.88" y2="343.75" stroke="#222" stroke-width="0.6"/>
<line x1="80.88" y1="339.76" x2="82.88" y2="339.76" stroke="#222" stroke-width="0.6"/>
<line x1="80.88" y1="343.75" x2="82.88" y2="343.75" stroke="#222" stroke-width="0.6"/>
<line x1="83.05" y1="340.21" x2="83.05" y2="344.21" stroke="#222" stroke-width="0.6"/>
<line x1="82.05" y1="340.21" x2="84.05" y2="340.21" stroke="#222" stroke-width="0.6"/>
<line x1="82.05" y1="344.21" x2="84.05" y2="344.21" stroke="#222" stroke-width="0.6"/>
<line x1="84.21" y1="339.97" x2="84.21" y2="343.97" stroke="#222" stroke-width="0.6"/>
<line x1="83.21" y1="339.97" x2="85.21" y2="339.97" stroke="#222" stroke-width="0.6"/>
<line x1="83.21" y1="343.97" x2="85.21" y2="343.97" stroke="#222" stroke-width="0.6"/>
<line x1="85.38" y1="340.09" x2="85.38" y2="344.09" stroke="#222" stroke-width="0.6"/>
<line x1="84.38" y1="340.09" x2="86.38" y2="340.09" stroke="#222" stroke-width="0.6"/>
<line x1="84.38" y1="344.09" x2="86.38" y2="344.09" stroke="#222" stroke-width="0.6"/>
<line x1="86.55" y1="340.56" x2="86.55" y2="344.56" stroke="#222" stroke-width="0.6"/>
<line x1="85.55" y1="340.56" x2="87.55" y2="340.56" stroke="#222" stroke-width="0.6"/>
<line x1="85.55" y1="344.56" x2="87.55" y2="344.56" stroke="#222" stroke-width="0.6"/>
<line x1="87.71" y1="340.75" x2="87.71" y2="344.75" stroke="#222" stroke-width="0.6"/>
<line x1="86.71" y1="340.75" x2="88.71" y2="340.75" stroke="#222" stroke-width="0.6"/>
<line x1="86.71" y1="344.75" x2="88.71" y2="344.75" stroke="#222" stroke-width="0.6"/>
<line x1="88.88" y1="340.64" x2="88.88" y2="344.64" stroke="#222" stroke-width="0.6"/>
<line x1="87.88" y1="340.64" x2="89.88" y2="340.64" stroke="#222" stroke-width="0.6"/>
<line x1="87.88" y1="344.64" x2="89.88" y2="344.64" stroke="#222" stroke-width="0.6"/>
<line x1="90.05" y1="340.91" x2="90.05" y2="344.91" stroke="#222" stroke-width="0.6"/>
<line x1="89.05" y1="340.91" x2="91.05" y2="340.91" stroke="#222" stroke-width="0.6"/>
<line x1="89.05" y1="344.91" x2="91.05" y2="344.91" stroke="#222" stroke-width="0.6"/>
<line x1="91.22" y1="341.3" x2="91.22" y2="345.3" stroke="#222" stroke-width="0.6"/>
<line x1="90.22" y1="341.3" x2="92.22" y2="341.3" stroke="#222" stroke-width="0.6"/>
<line x1="90.22" y1="345.3" x2="92.22" y2="345.3" stroke="#222" stroke-width="0.6"/>
<line x1="92.38" y1="341.23" x2="92.38" y2="345.23" stroke="#222" stroke-width="0.6"/>
<line x1="91.38" y1="341.23" x2="93.38" y2="341.23" stroke="#222" stroke-width="0.6"/>
<line x1="91.38" y1="345.23" x2="93.38" y2="345.23" stroke="#222" stroke-width="0.6"/>
<line x1="93.55" y1="340.77" x2="93.55" y2="344.77" stroke="#222" stroke-width="0.6"/>
<line x1="92.55" y1="340.77" x2="94.55" y2="340.77" stroke="#222" stroke-width="0.6"/>
<line x1="92.55" y1="344.77" x2="94.55" y2="344.77" stroke="#222" stroke-width="0.6"/>
<line x1="94.72" y1="341.7" x2="94.72" y2="345.7" stroke="#222" stroke-width="0.6"/>
<line x1="93.72" y1="341.7" x2="95.72" y2="341.7" stroke="#222" stroke-width="0.6"/>
<line x1="93.72" y1="345.7" x2="95.72" y2="345.7" stroke="#222" stroke-width="0.6"/>
<line x1="95.88" y1="341.79" x2="95.88" y2="345.79" stroke="#222" stroke-width="0.6"/>
<line x1="94.88" y1="341.79" x2="96.88" y2="341.79" stroke="#222" stroke-width="0.6"/>
<line x1="94.88" y1="345.79" x2="96.88" y2="345.79" stroke="#222" stroke-width="0.6"/>
<line x1="97.05" y1="341.25" x2="97.05" y2="345.24" stroke="#222" stroke-width="0.6"/>
<line x1="96.05" y1="341.25" x2="98.05" y2="341.25" stroke="#222" stroke-width="0.6"/>
<line x1="96.05" y1="345.24" x2="98.05" y2="345.24" stroke="#222" stroke-width="0.6"/>
<line x1="98.22" y1="341.64" x2="98.22" y2="345.64" stroke="#222" stroke-width="0.6"/>
<line x1="97.22" y1="341.64" x2="99.22" y2="341.64" stroke="#222" stroke-width="0.6"/>
<line x1="97.22" y1="345.64" x2="99.22" y2="345.64" stroke="#222" stroke-width="0.6"/>
<line x1="99.38" y1="341.39" x2="99.38" y2="345.39" stroke="#222" stroke-width="0.6"/>
<line x1="98.38" y1="341.39" x2="100.38" y2="341.39" stroke="#222" stroke-width="0.6"/>
<line x1="98.38" y1="345.39" x2="100.38" y2="345.39" stroke="#222" stroke-width="0.6"/>
<line x1="100.55" y1="341.48" x2="100.55" y2="345.48" stroke="#222" stroke-width="0.6"/>
<line x1="99.55" y1="341.48" x2="101.55" y2="341.48" stroke="#222" stroke-width="0.6"/>
<line x1="99.55" y1="345.48" x2="101.55" y2="345.48" stroke="#222" stroke-width="0.6"/>
<line x1="101.72" y1="341.64" x2="101.72" y2="345.64" stroke="#222" stroke-width="0.6"/>
<line x1="100.72" y1="341.64" x2="102.72" y2="341.64" stroke="#222" stroke-width="0.6"/>
<line x1="100.72" y1="345.64" x2="102.72" y2="345.64" stroke="#222" stroke-width="0.6"/>
<line x1="102.88" y1="340.95" x2="102.88" y2="344.95" stroke="#222" stroke-width="0.6"/>
<line x1="101.88" y1="340.95" x2="103.88" y2="340.95" stroke="#222" stroke-width="0.6"/>
<line x1="101.88" y1="344.95" x2="103.88" y2="344.95" stroke="#222" stroke-width="0.6"/>
<line x1="104.05" y1="341.85" x2="104.05" y2="345.85" stroke="#222" stroke-width="0.6"/>
<line x1="103.05" y1="341.85" x2="105.05" y2="341.85" stroke="#222" stroke-width="0.6"/>
<line x1="103.05" y1="345.85" x2="105.05" y2="345.85" stroke="#222" stroke-width="0.6"/>
<line x1="105.22" y1="341.63" x2="105.22" y2="345.63" stroke="#222" stroke-width="0.6"/>
<line x1="104.22" y1="341.63" x2="106.22" y2="341.63" stroke="#222" stroke-width="0.6"/>
<line x1="104.22" y1="345.63" x2="106.22" y2="345.63" stroke="#222" stroke-width="0.6"/>
<line x1="106.39" y1="341.88" x2="106.39" y2="345.88" stroke="#222" stroke-width="0.6"/>
<line x1="105.39" y1="341.88" x2="107.39" y2="341.88" stroke="#222" stroke-width="0.6"/>
<line x1="105.39" y1="345.88" x2="107.39" y2="345.88" stroke="#222" stroke-width="0.6"/>
<line x1="107.55" y1="341.43" x2="107.55" y2="345.43" stroke="#222" stroke-width="0.6"/>
<line x1="106.55" y1="341.43" x2="108.55" y2="341.43" stroke="#222" stroke-width="0.6"/>
<line x1="106.55" y1="345.43" x2="108.55" y2="345.43" stroke="#222" stroke-width="0.6"/>
<line x1="108.72" y1="341.85" x2="108.72" y2="345.84" stroke="#222" stroke-width="0.6"/>
<line x1="107.72" y1="341.85" x2="109.72" y2="341.85" stroke="#222" stroke-width="0.6"/>
<line x1="107.72" y1="345.84" x2="109.72" y2="345.84" stroke="#222" stroke-width="0.6"/>
<line x1="109.89" y1="341.78" x2="109.89" y2="345.78" stroke="#222" stroke-width="0.6"/>
<line x1="108.89" y1="341.78" x2="110.89" y2="341.78" stroke="#222" stroke-width="0.6"/>
<line x1="108.89" y1="345.78" x2="110.89" y2="345.78" stroke="#222" stroke-width="0.6"/>
<line x1="111.05" y1="341.38" x2="111.05" y2="345.37" stroke="#222" stroke-width="0.6"/>
<line x1="110.05" y1="341.38" x2="112.05" y2="341.38" stroke="#222" stroke-width="0.6"/>
<line x1="110.05" y1="345.37" x2="112.05" y2="345.37" stroke="#222" stroke-width="0.6"/>
<line x1="112.22" y1="341.86" x2="112.22" y2="345.86" stroke="#222" stroke-width="0.6"/>
<line x1="111.22" y1="341.86" x2="113.22" y2="341.86" stroke="#222" stroke-width="0.6"/>
<line x1="111.22" y1="345.86" x2="113.22" y2="345.86" stroke="#222" stroke-width="0.6"/>
<line x1="113.39" y1="341.62" x2="113.39" y2="345.62" stroke="#222" stroke-width="0.6"/>
<line x1="112.39" y1="341.62" x2="114.39" y2="341.62" stroke="#222" stroke-width="0.6"/>
<line x1="112.39" y1="345.62" x2="114.39" y2="345.62" stroke="#222" stroke-width="0.6"/>
<line x1="114.56" y1="341.27" x2="114.56" y2="345.27" stroke="#222" stroke-width="0.6"/>
<line x1="113.56" y1="341.27" x2="115.56" y2="341.27" stroke="#222" stroke-width="0.6"/>
<line x1="113.56" y1="345.27" x2="115.56" y2="345.27" stroke="#222" stroke-width="0.6"/>
<line x1="115.72" y1="342.17" x2="115.72" y2="346.17" stroke="#222" stroke-width="0.6"/>
<line x1="114.72" y1="342.17" x2="116.72" y2="342.17" stroke="#222" stroke-width="0.6"/>
<line x1="114.72" y1="346.17" x2="116.72" y2="346.17" stroke="#222" stroke-width="0.6"/>
<line x1="116.89" y1="342.23" x2="116.89" y2="346.23" stroke="#222" stroke-width="0.6"/>
<line x1="115.89" y1="342.23" x2="117.89" y2="342.23" stroke="#222" stroke-width="0.6"/>
<line x1="115.89" y1="346.23" x2="117.89" y2="346.23" stroke="#222" stroke-width="0.6"/>
<line x1="118.06" y1="342.07" x2="118.06" y2="346.07" stroke="#222" stroke-width="0.6"/>
<line x1="117.06" y1="342.07" x2="119.06" y2="342.07" stroke="#222" stroke-width="0.6"/>
<line x1="117.06" y1="346.07" x2="119.06" y2="346.07" stroke="#222" stroke-width="0.6"/>
<line x1="119.22" y1="341.51" x2="119.22" y2="345.51" stroke="#222" stroke-width="0.6"/>
<line x1="118.22" y1="341.51" x2="120.22" y2="341.51" stroke="#222" stroke-width="0.6"/>
<line x1="118.22" y1="345.51" x2="120.22" y2="345.51" stroke="#222" stroke-width="0.6"/>
<line x1="120.39" y1="341.69" x2="120.39" y2="345.69" stroke="#222" stroke-width="0.6"/>
<line x1="119.39" y1="341.69" x2="121.39" y2="341.69" stroke="#222" stroke-width="0.6"/>
<line x1="119.39" y1="345.69" x2="121.39" y2="345.69" stroke="#222" stroke-width="0.6"/>
<line x1="121.56" y1="342.13" x2="121.56" y2="346.13" stroke="#222" stroke-width="0.6"/>
<line x1="120.56" y1="342.13" x2="122.56" y2="342.13" stroke="#222" stroke-width="0.6"/>
<line x1="120.56" y1="346.13" x2="122.56" y2="346.13" stroke="#222" stroke-width="0.6"/>
<line x1="122.72" y1="342.05" x2="122.72" y2="346.05" stroke="#222" stroke-width="0.6"/>
<line x1="121.72" y1="342.05" x2="123.72" y2="342.05" stroke="#222" stroke-width="0.6"/>
<line x1="121.72" y1="346.05" x2="123.72" y2="346.05" stroke="#222" stroke-width="0.6"/>
<line x1="123.89" y1="342.24" x2="123.89" y2="346.24" stroke="#222" stroke-width="0.6"/>
<line x1="122.89" y1="342.24" x2="124.89" y2="342.24" stroke="#222" stroke-width="0.6"/>
<line x1="122.89" y1="346.24" x2="124.89" y2="346.24" stroke="#222" stroke-width="0.6"/>
<line x1="125.06" y1="341.95" x2="125.06" y2="345.95" stroke="#222" stroke-width="0.6"/>
<line x1="124.06" y1="341.95" x2="126.06" y2="341.95" stroke="#222" stroke-width="0.6"/>
<line x1="124.06" y1="345.95" x2="126.06" y2="345.95" stroke="#222" stroke-width="0.6"/>
<line x1="126.22" y1="342.43" x2="126.22" y2="346.43" stroke="#222" stroke-width="0.6"/>
<line x1="125.22" y1="342.43" x2="127.22" y2="342.43" stroke="#222" stroke-width="0.6"/>
<line x1="125.22" y1="346.43" x2="127.22" y2="346.43" stroke="#222" stroke-width="0.6"/>
<line x1="127.39" y1="341.73" x2="127.39" y2="345.73" stroke="#222" stroke-width="0.6"/>
<line x1="126.39" y1="341.73" x2="128.39" y2="341.73" stroke="#222" stroke-width="0.6"/>
<line x1="126.39" y1="345.73" x2="128.39" y2="345.73" stroke="#222" stroke-width="0.6"/>
<line x1="128.56" y1="341.54" x2="128.56" y2="345.54" stroke="#222" stroke-width="0.6"/>
<line x1="127.56" y1="341.54" x2="129.56" y2="341.54" stroke="#222" stroke-width="0.6"/>
<line x1="127.56" y1="345.54" x2="129.56" y2="345.54" stroke="#222" stroke-width="0.6"/>
<line x1="129.73" y1="341.5" x2="129.73" y2="345.5" stroke="#222" stroke-width="0.6"/>
<line x1="128.73" y1="341.5" x2="130.73" y2="341.5" stroke="#222" stroke-width="0.6"/>
<line x1="128.73" y1="345.5" x2="130.73" y2="345.5" stroke="#222" stroke-width="0.6"/>
<line x1="130.89" y1="341.76" x2="130.89" y2="345.76" stroke="#222" stroke-width="0.6"/>
<line x1="129.89" y1="341.76" x2="131.89" y2="341.76" stroke="#222" stroke-width="0.6"/>
<line x1="129.89" y1="345.76" x2="131.89" y2="345.76" stroke="#222" stroke-width="0.6"/>
<line x1="132.06" y1="341.54" x2="132.06" y2="345.54" stroke="#222" stroke-width="0.6"/>
<line x1="131.06" y1="341.54" x2="133.06" y2="341.54" stroke="#222" stroke-width="0.6"/>
<line x1="131.06" y1="345.54" x2="133.06" y2="345.54" stroke="#222" stroke-width="0.6"/>
<line x1="133.23" y1="342.58" x2="133.23" y2="346.58" stroke="#222" stroke-width="0.6"/>
<line x1="132.23" y1="342.58" x2="134.23" y2="342.58" stroke="#222" stroke-width="0.6"/>
<line x1="132.23" y1="346.58" x2="134.23" y2="346.58" stroke="#222" stroke-width="0.6"/>
<line x1="134.39" y1="342.31" x2="134.39" y2="346.31" stroke="#222" stroke-width="0.6"/>
<line x1="133.39" y1="342.31" x2="135.39" y2="342.31" stroke="#222" stroke-width="0.6"/>
<line x1="133.39" y1="346.31" x2="135.39" y2="346.31" stroke="#222" stroke-width="0.6"/>
<line x1="135.56" y1="341.59" x2="135.56" y2="345.59" stroke="#222" stroke-width="0.6"/>
<line x1="134.56" y1="341.59" x2="136.56" y2="341.59" stroke="#222" stroke-width="0.6"/>
<line x1="134.56" y1="345.59" x2="136.56" y2="345.59" stroke="#222" stroke-width="0.6"/>
<line x1="136.73" y1="341.82" x2="136.73" y2="345.82" stroke="#222" stroke-width="0.6"/>
<line x1="135.73" y1="341.82" x2="137.73" y2="341.82" stroke="#222" stroke-width="0.6"/>
<line x1="135.73" y1="345.82" x2="137.73" y2="345.82" stroke="#222" stroke-width="0.6"/>
<line x1="137.9" y1="342.24" x2="137.9" y2="346.24" stroke="#222" stroke-width="0.6"/>
<line x1="136.9" y1="342.24" x2="138.9" y2="342.24" stroke="#222" stroke-width="0.6"/>
<line x1="136.9" y1="346.24" x2="138.9" y2="346.24" stroke="#222" stroke-width="0.6"/>
<line x1="139.06" y1="341.68" x2="139.06" y2="345.68" stroke="#222" stroke-width="0.6"/>
<line x1="138.06" y1="341.68" x2="140.06" y2="341.68" stroke="#222" stroke-width="0.6"/>
<line x1="138.06" y1="345.68" x2="140.06" y2="345.68" stroke="#222" stroke-width="0.6"/>
<line x1="140.23" y1="342.06" x2="140.23" y2="346.06" stroke="#222" stroke-width="0.6"/>
<line x1="139.23" y1="342.06" x2="141.23" y2="342.06" stroke="#222" stroke-width="0.6"/>
<line x1="139.23" y1="346.06" x2="141.23" y2="346.06" stroke="#222" stroke-width="0.6"/>
<line x1="141.4" y1="341.87" x2="141.4" y2="345.86" stroke="#222" stroke-width="0.6"/>
<line x1="140.4" y1="341.87" x2="142.4" y2="341.87" stroke="#222" stroke-width="0.6"/>
<line x1="140.4" y1="345.86" x2="142.4" y2="345.86" stroke="#222" stroke-width="0.6"/>
<line x1="142.56" y1="342.46" x2="142.56" y2="346.46" stroke="#222" stroke-width="0.6"/>
<line x1="141.56" y1="342.46" x2="143.56" y2="342.46" stroke="#222" stroke-width="0.6"/>
<line x1="141.56" y1="346.46" x2="143.56" y2="346.46" stroke="#222" stroke-width="0.6"/>
<line x1="143.73" y1="342.59" x2="143.73" y2="346.59" stroke="#222" stroke-width="0.6"/>
<line x1="142.73" y1="342.59" x2="144.73" y2="342.59" stroke="#222" stroke-width="0.6"/>
<line x1="142.73" y1="346.59" x2="144.73" y2="346.59" stroke="#222" stroke-width="0.6"/>
<line x1="144.9" y1="342.34" x2="144.9" y2="346.34" stroke="#222" stroke-width="0.6"/>
<line x1="143.9" y1="342.34" x2="145.9" y2="342.34" stroke="#222" stroke-width="0.6"/>
<line x1="143.9" y1="346.34" x2="145.9" y2="346.34" stroke="#222" stroke-width="0.6"/>
<line x1="146.06" y1="342.7" x2="146.06" y2="346.7" stroke="#222" stroke-width="0.6"/>
<line x1="145.06" y1="342.7" x2="147.06" y2="342.7" stroke="#222" stroke-width="0.6"/>
<line x1="145.06" y1="346.7" x2="147.06" y2="346.7" stroke="#222" stroke-width="0.6"/>
<line x1="147.23" y1="342.45" x2="147.23" y2="346.45" stroke="#222" stroke-width="0.6"/>
<line x1="146.23" y1="342.45" x2="148.23" y2="342.45" stroke="#222" stroke-width="0.6"/>
<line x1="146.23" y1="346.45" x2="148.23" y2="346.45" stroke="#222" stroke-width="0.6"/>
<line x1="148.4" y1="341.84" x2="148.4" y2="345.84" stroke="#222" stroke-width="0.6"/>
<line x1="147.4" y1="341.84" x2="149.4" y2="341.84" stroke="#222" stroke-width="0.6"/>
<line x1="147.4" y1="345.84" x2="149.4" y2="345.84" stroke="#222" stroke-width="0.6"/>
<line x1="149.56" y1="342.55" x2="149.56" y2="346.55" stroke="#222" stroke-width="0.6"/>
<line x1="148.56" y1="342.55" x2="150.56" y2="342.55" stroke="#222" stroke-width="0.6"/>
<line x1="148.56" y1="346.55" x2="150.56" y2="346.55" stroke="#222" stroke-width="0.6"/>
<line x1="150.73" y1="342.92" x2="150.73" y2="346.92" stroke="#222" stroke-width="0.6"/>
<line x1="149.73" y1="342.92" x2="151.73" y2="342.92" stroke="#222" stroke-width="0.6"/>
<line x1="149.73" y1="346.92" x2="151.73" y2="346.92" stroke="#222" stroke-width="0.6"/>
<line x1="151.9" y1="342.9" x2="151.9" y2="346.9" stroke="#222" stroke-width="0.6"/>
<line x1="150.9" y1="342.9" x2="152.9" y2="342.9" stroke="#222" stroke-width="0.6"/>
<line x1="150.9" y1="346.9" x2="152.9" y2="346.9" stroke="#222" stroke-width="0.6"/>
<line x1="153.07" y1="342.79" x2="153.07" y2="346.79" stroke="#222" stroke-width="0.6"/>
<line x1="152.07" y1="342.79" x2="154.07" y2="342.79" stroke="#222" stroke-width="0.6"/>
<line x1="152.07" y1="346.79" x2="154.07" y2="346.79" stroke="#222" stroke-width="0.6"/>
<line x1="154.23" y1="342.14" x2="154.23" y2="346.14" stroke="#222" stroke-width="0.6"/>
<line x1="153.23" y1="342.14" x2="155.23" y2="342.14" stroke="#222" stroke-width="0.6"/>
<line x1="153.23" y1="346.14" x2="155.23" y2="346.14" stroke="#222" stroke-width="0.6"/>
<line x1="155.4" y1="342.62" x2="155.4" y2="346.62" stroke="#222" stroke-width="0.6"/>
<line x1="154.4" y1="342.62" x2="156.4" y2="342.62" stroke="#222" stroke-width="0.6"/>
<line x1="154.4" y1="346.62" x2="156.4" y2="346.62" stroke="#222" stroke-width="0.6"/>
<polyline points="39.87,261.59 41.03,269 42.2,282.32 43.37,296.22 44.53,306.31 45.7,313.22 46.87,318.11 48.04,322.78 49.2,326.46 50.37,329.78 51.54,331.48 52.7,333.81 53.87,334.98 55.04,336.12 56.2,337.06 57.37,336.79 58.54,337.41 59.71,337.94 60.87,338.46 62.04,339.63 63.21,339.73 64.37,339.61 65.54,339.72 66.71,339.81 67.88,340.01 69.04,341.11 70.21,340.77 71.38,340.92 72.54,341.33 73.71,341.92 74.88,341.68 76.04,342.19 77.21,341.36 78.38,341.53 79.54,341.97 80.71,342.33 81.88,341.76 83.05,342.21 84.21,341.97 85.38,342.09 86.55,342.56 87.71,342.75 88.88,342.64 90.05,342.91 91.22,343.3 92.38,343.23 93.55,342.77 94.72,343.7 95.88,343.79 97.05,343.24 98.22,343.64 99.38,343.39 100.55,343.48 101.72,343.64 102.88,342.95 104.05,343.85 105.22,343.63 106.39,343.88 107.55,343.43 108.72,343.84 109.89,343.78 111.05,343.38 112.22,343.86 113.39,343.62 114.56,343.27 115.72,344.17 116.89,344.23 118.06,344.07 119.22,343.51 120.39,343.69 121.56,344.13 122.72,344.05 123.89,344.24 125.06,343.95 126.22,344.43 127.39,343.73 128.56,343.54 129.73,343.5 130.89,343.76 132.06,343.54 133.23,344.58 134.39,344.31 135.56,343.59 136.73,343.82 137.9,344.24 139.06,343.68 140.23,344.06 141.4,343.86 142.56,344.46 143.73,344.59 144.9,344.34 146.06,344.7 147.23,344.45 148.4,343.84 149.56,344.55 150.73,344.92 151.9,344.9 153.07,344.79 154.23,344.14 155.4,344.62" fill="none" stroke="#111" stroke-width="0.8" stroke-linejoin="round"/>
<text x="176.2" y="249.2" font-size="13.6" font-weight="bold">J</text>
<line x1="196.4" y1="256.5" x2="196.4" y2="352.3" stroke="#555" stroke-width="1"/>
<line x1="196.4" y1="352.3" x2="300.3" y2="352.3" stroke="#333" stroke-width="0.9"/>
<line x1="194.9" y1="343.64" x2="196.4" y2="343.64" stroke="#333" stroke-width="0.6"/>
<line x1="194.9" y1="334.98" x2="196.4" y2="334.98" stroke="#333" stroke-width="0.6"/>
<line x1="194.9" y1="326.32" x2="196.4" y2="326.32" stroke="#333" stroke-width="0.6"/>
<line x1="194.9" y1="317.66" x2="196.4" y2="317.66" stroke="#333" stroke-width="0.6"/>
<line x1="194.9" y1="309" x2="196.4" y2="309" stroke="#333" stroke-width="0.6"/>
<line x1="194.9" y1="300.34" x2="196.4" y2="300.34" stroke="#333" stroke-width="0.6"/>
<line x1="194.9" y1="291.68" x2="196.4" y2="291.68" stroke="#333" stroke-width="0.6"/>
<line x1="194.9" y1="283.02" x2="196.4" y2="283.02" stroke="#333" stroke-width="0.6"/>
<line x1="194.9" y1="274.36" x2="196.4" y2="274.36" stroke="#333" stroke-width="0.6"/>
<line x1="194.9" y1="265.7" x2="196.4" y2="265.7" stroke="#333" stroke-width="0.6"/>
<line x1="194.9" y1="352.3" x2="196.4" y2="352.3" stroke="#333" stroke-width="0.7"/>
<text x="192.2" y="354.1" font-size="5" text-anchor="end" style="stroke-width:0.05px">0</text>
<line x1="194.9" y1="309" x2="196.4" y2="309" stroke="#333" stroke-width="0.7"/>
<text x="192.2" y="310.8" font-size="5" text-anchor="end" style="stroke-width:0.05px">0.5</text>
<line x1="194.9" y1="265.7" x2="196.4" y2="265.7" stroke="#333" stroke-width="0.7"/>
<text x="192.2" y="267.5" font-size="5" text-anchor="end" style="stroke-width:0.05px">1</text>
<line x1="217.06" y1="352.3" x2="217.06" y2="353.8" stroke="#333" stroke-width="0.6"/>
<line x1="237.72" y1="352.3" x2="237.72" y2="353.8" stroke="#333" stroke-width="0.6"/>
<line x1="258.38" y1="352.3" x2="258.38" y2="353.8" stroke="#333" stroke-width="0.6"/>
<line x1="279.04" y1="352.3" x2="279.04" y2="353.8" stroke="#333" stroke-width="0.6"/>
<line x1="196.4" y1="352.3" x2="196.4" y2="353.8" stroke="#333" stroke-width="0.7"/>
<text x="196.4" y="358.3" font-size="5" text-anchor="middle" style="stroke-width:0.05px">0</text>
<line x1="237.5" y1="352.3" x2="237.5" y2="353.8" stroke="#333" stroke-width="0.7"/>
<text x="237.5" y="358.3" font-size="5" text-anchor="middle" style="stroke-width:0.05px">20</text>
<line x1="278.7" y1="352.3" x2="278.7" y2="353.8" stroke="#333" stroke-width="0.7"/>
<text x="278.7" y="358.3" font-size="5" text-anchor="middle" style="stroke-width:0.05px">40</text>
<text x="182.4" y="305" font-size="7.6" text-anchor="middle" transform="rotate(-90 182.4 305)">Normalized EPSC amplitude</text>
<text x="254.5" y="367.8" font-size="7.4" text-anchor="middle">Number of pulses</text>
<text x="243.4" y="265.3" font-size="7.9" textLength="18.6" lengthAdjust="spacingAndGlyphs">10 Hz</text>
<line x1="276.3" y1="257.1" x2="291.9" y2="257.1" stroke="#dcdcdc" stroke-width="1.3"/>
<line x1="276.3" y1="265.6" x2="291.9" y2="265.6" stroke="#aaa" stroke-width="1.3"/>
<text x="297.2" y="259.4" font-size="5.8">WT</text>
<text x="297.5" y="267.5" font-size="5.8">KO</text>
<line x1="198.47" y1="264.23" x2="198.47" y2="270.29" stroke="#c0c0c0" stroke-width="0.6"/>
<line x1="197.57" y1="264.23" x2="199.37" y2="264.23" stroke="#c0c0c0" stroke-width="0.6"/>
<line x1="197.57" y1="270.29" x2="199.37" y2="270.29" stroke="#c0c0c0" stroke-width="0.6"/>
<line x1="200.53" y1="270.13" x2="200.53" y2="276.19" stroke="#c0c0c0" stroke-width="0.6"/>
<line x1="199.63" y1="270.13" x2="201.43" y2="270.13" stroke="#c0c0c0" stroke-width="0.6"/>
<line x1="199.63" y1="276.19" x2="201.43" y2="276.19" stroke="#c0c0c0" stroke-width="0.6"/>
<line x1="202.6" y1="279.58" x2="202.6" y2="285.64" stroke="#c0c0c0" stroke-width="0.6"/>
<line x1="201.7" y1="279.58" x2="203.5" y2="279.58" stroke="#c0c0c0" stroke-width="0.6"/>
<line x1="201.7" y1="285.64" x2="203.5" y2="285.64" stroke="#c0c0c0" stroke-width="0.6"/>
<line x1="204.66" y1="287.17" x2="204.66" y2="293.23" stroke="#c0c0c0" stroke-width="0.6"/>
<line x1="203.76" y1="287.17" x2="205.56" y2="287.17" stroke="#c0c0c0" stroke-width="0.6"/>
<line x1="203.76" y1="293.23" x2="205.56" y2="293.23" stroke="#c0c0c0" stroke-width="0.6"/>
<line x1="206.73" y1="294.38" x2="206.73" y2="300.44" stroke="#c0c0c0" stroke-width="0.6"/>
<line x1="205.83" y1="294.38" x2="207.63" y2="294.38" stroke="#c0c0c0" stroke-width="0.6"/>
<line x1="205.83" y1="300.44" x2="207.63" y2="300.44" stroke="#c0c0c0" stroke-width="0.6"/>
<line x1="208.8" y1="298.46" x2="208.8" y2="304.52" stroke="#c0c0c0" stroke-width="0.6"/>
<line x1="207.9" y1="298.46" x2="209.7" y2="298.46" stroke="#c0c0c0" stroke-width="0.6"/>
<line x1="207.9" y1="304.52" x2="209.7" y2="304.52" stroke="#c0c0c0" stroke-width="0.6"/>
<line x1="210.86" y1="301.43" x2="210.86" y2="307.49" stroke="#c0c0c0" stroke-width="0.6"/>
<line x1="209.96" y1="301.43" x2="211.76" y2="301.43" stroke="#c0c0c0" stroke-width="0.6"/>
<line x1="209.96" y1="307.49" x2="211.76" y2="307.49" stroke="#c0c0c0" stroke-width="0.6"/>
<line x1="212.93" y1="302.55" x2="212.93" y2="308.61" stroke="#c0c0c0" stroke-width="0.6"/>
<line x1="212.03" y1="302.55" x2="213.83" y2="302.55" stroke="#c0c0c0" stroke-width="0.6"/>
<line x1="212.03" y1="308.61" x2="213.83" y2="308.61" stroke="#c0c0c0" stroke-width="0.6"/>
<line x1="214.99" y1="303.19" x2="214.99" y2="309.25" stroke="#c0c0c0" stroke-width="0.6"/>
<line x1="214.09" y1="303.19" x2="215.89" y2="303.19" stroke="#c0c0c0" stroke-width="0.6"/>
<line x1="214.09" y1="309.25" x2="215.89" y2="309.25" stroke="#c0c0c0" stroke-width="0.6"/>
<line x1="217.06" y1="304.9" x2="217.06" y2="310.96" stroke="#c0c0c0" stroke-width="0.6"/>
<line x1="216.16" y1="304.9" x2="217.96" y2="304.9" stroke="#c0c0c0" stroke-width="0.6"/>
<line x1="216.16" y1="310.96" x2="217.96" y2="310.96" stroke="#c0c0c0" stroke-width="0.6"/>
<line x1="219.13" y1="305.33" x2="219.13" y2="311.39" stroke="#c0c0c0" stroke-width="0.6"/>
<line x1="218.23" y1="305.33" x2="220.03" y2="305.33" stroke="#c0c0c0" stroke-width="0.6"/>
<line x1="218.23" y1="311.39" x2="220.03" y2="311.39" stroke="#c0c0c0" stroke-width="0.6"/>
<line x1="221.19" y1="307.2" x2="221.19" y2="313.26" stroke="#c0c0c0" stroke-width="0.6"/>
<line x1="220.29" y1="307.2" x2="222.09" y2="307.2" stroke="#c0c0c0" stroke-width="0.6"/>
<line x1="220.29" y1="313.26" x2="222.09" y2="313.26" stroke="#c0c0c0" stroke-width="0.6"/>
<line x1="223.26" y1="307.48" x2="223.26" y2="313.55" stroke="#c0c0c0" stroke-width="0.6"/>
<line x1="222.36" y1="307.48" x2="224.16" y2="307.48" stroke="#c0c0c0" stroke-width="0.6"/>
<line x1="222.36" y1="313.55" x2="224.16" y2="313.55" stroke="#c0c0c0" stroke-width="0.6"/>
<line x1="225.32" y1="308.57" x2="225.32" y2="314.63" stroke="#c0c0c0" stroke-width="0.6"/>
<line x1="224.42" y1="308.57" x2="226.22" y2="308.57" stroke="#c0c0c0" stroke-width="0.6"/>
<line x1="224.42" y1="314.63" x2="226.22" y2="314.63" stroke="#c0c0c0" stroke-width="0.6"/>
<line x1="227.39" y1="308.94" x2="227.39" y2="315" stroke="#c0c0c0" stroke-width="0.6"/>
<line x1="226.49" y1="308.94" x2="228.29" y2="308.94" stroke="#c0c0c0" stroke-width="0.6"/>
<line x1="226.49" y1="315" x2="228.29" y2="315" stroke="#c0c0c0" stroke-width="0.6"/>
<line x1="229.46" y1="309.5" x2="229.46" y2="315.57" stroke="#c0c0c0" stroke-width="0.6"/>
<line x1="228.56" y1="309.5" x2="230.36" y2="309.5" stroke="#c0c0c0" stroke-width="0.6"/>
<line x1="228.56" y1="315.57" x2="230.36" y2="315.57" stroke="#c0c0c0" stroke-width="0.6"/>
<line x1="231.52" y1="310.89" x2="231.52" y2="316.95" stroke="#c0c0c0" stroke-width="0.6"/>
<line x1="230.62" y1="310.89" x2="232.42" y2="310.89" stroke="#c0c0c0" stroke-width="0.6"/>
<line x1="230.62" y1="316.95" x2="232.42" y2="316.95" stroke="#c0c0c0" stroke-width="0.6"/>
<line x1="233.59" y1="311.21" x2="233.59" y2="317.27" stroke="#c0c0c0" stroke-width="0.6"/>
<line x1="232.69" y1="311.21" x2="234.49" y2="311.21" stroke="#c0c0c0" stroke-width="0.6"/>
<line x1="232.69" y1="317.27" x2="234.49" y2="317.27" stroke="#c0c0c0" stroke-width="0.6"/>
<line x1="235.65" y1="311.73" x2="235.65" y2="317.79" stroke="#c0c0c0" stroke-width="0.6"/>
<line x1="234.75" y1="311.73" x2="236.55" y2="311.73" stroke="#c0c0c0" stroke-width="0.6"/>
<line x1="234.75" y1="317.79" x2="236.55" y2="317.79" stroke="#c0c0c0" stroke-width="0.6"/>
<line x1="237.72" y1="311.45" x2="237.72" y2="317.52" stroke="#c0c0c0" stroke-width="0.6"/>
<line x1="236.82" y1="311.45" x2="238.62" y2="311.45" stroke="#c0c0c0" stroke-width="0.6"/>
<line x1="236.82" y1="317.52" x2="238.62" y2="317.52" stroke="#c0c0c0" stroke-width="0.6"/>
<line x1="239.79" y1="312.1" x2="239.79" y2="318.16" stroke="#c0c0c0" stroke-width="0.6"/>
<line x1="238.89" y1="312.1" x2="240.69" y2="312.1" stroke="#c0c0c0" stroke-width="0.6"/>
<line x1="238.89" y1="318.16" x2="240.69" y2="318.16" stroke="#c0c0c0" stroke-width="0.6"/>
<line x1="241.85" y1="313.37" x2="241.85" y2="319.43" stroke="#c0c0c0" stroke-width="0.6"/>
<line x1="240.95" y1="313.37" x2="242.75" y2="313.37" stroke="#c0c0c0" stroke-width="0.6"/>
<line x1="240.95" y1="319.43" x2="242.75" y2="319.43" stroke="#c0c0c0" stroke-width="0.6"/>
<line x1="243.92" y1="312.92" x2="243.92" y2="318.98" stroke="#c0c0c0" stroke-width="0.6"/>
<line x1="243.02" y1="312.92" x2="244.82" y2="312.92" stroke="#c0c0c0" stroke-width="0.6"/>
<line x1="243.02" y1="318.98" x2="244.82" y2="318.98" stroke="#c0c0c0" stroke-width="0.6"/>
<line x1="245.98" y1="314.26" x2="245.98" y2="320.33" stroke="#c0c0c0" stroke-width="0.6"/>
<line x1="245.08" y1="314.26" x2="246.88" y2="314.26" stroke="#c0c0c0" stroke-width="0.6"/>
<line x1="245.08" y1="320.33" x2="246.88" y2="320.33" stroke="#c0c0c0" stroke-width="0.6"/>
<line x1="248.05" y1="314.03" x2="248.05" y2="320.1" stroke="#c0c0c0" stroke-width="0.6"/>
<line x1="247.15" y1="314.03" x2="248.95" y2="314.03" stroke="#c0c0c0" stroke-width="0.6"/>
<line x1="247.15" y1="320.1" x2="248.95" y2="320.1" stroke="#c0c0c0" stroke-width="0.6"/>
<line x1="250.12" y1="315.23" x2="250.12" y2="321.29" stroke="#c0c0c0" stroke-width="0.6"/>
<line x1="249.22" y1="315.23" x2="251.02" y2="315.23" stroke="#c0c0c0" stroke-width="0.6"/>
<line x1="249.22" y1="321.29" x2="251.02" y2="321.29" stroke="#c0c0c0" stroke-width="0.6"/>
<line x1="252.18" y1="315.93" x2="252.18" y2="321.99" stroke="#c0c0c0" stroke-width="0.6"/>
<line x1="251.28" y1="315.93" x2="253.08" y2="315.93" stroke="#c0c0c0" stroke-width="0.6"/>
<line x1="251.28" y1="321.99" x2="253.08" y2="321.99" stroke="#c0c0c0" stroke-width="0.6"/>
<line x1="254.25" y1="315.24" x2="254.25" y2="321.3" stroke="#c0c0c0" stroke-width="0.6"/>
<line x1="253.35" y1="315.24" x2="255.15" y2="315.24" stroke="#c0c0c0" stroke-width="0.6"/>
<line x1="253.35" y1="321.3" x2="255.15" y2="321.3" stroke="#c0c0c0" stroke-width="0.6"/>
<line x1="256.31" y1="316.68" x2="256.31" y2="322.74" stroke="#c0c0c0" stroke-width="0.6"/>
<line x1="255.41" y1="316.68" x2="257.21" y2="316.68" stroke="#c0c0c0" stroke-width="0.6"/>
<line x1="255.41" y1="322.74" x2="257.21" y2="322.74" stroke="#c0c0c0" stroke-width="0.6"/>
<line x1="258.38" y1="317.19" x2="258.38" y2="323.25" stroke="#c0c0c0" stroke-width="0.6"/>
<line x1="257.48" y1="317.19" x2="259.28" y2="317.19" stroke="#c0c0c0" stroke-width="0.6"/>
<line x1="257.48" y1="323.25" x2="259.28" y2="323.25" stroke="#c0c0c0" stroke-width="0.6"/>
<line x1="260.45" y1="316.39" x2="260.45" y2="322.45" stroke="#c0c0c0" stroke-width="0.6"/>
<line x1="259.55" y1="316.39" x2="261.35" y2="316.39" stroke="#c0c0c0" stroke-width="0.6"/>
<line x1="259.55" y1="322.45" x2="261.35" y2="322.45" stroke="#c0c0c0" stroke-width="0.6"/>
<line x1="262.51" y1="316.8" x2="262.51" y2="322.86" stroke="#c0c0c0" stroke-width="0.6"/>
<line x1="261.61" y1="316.8" x2="263.41" y2="316.8" stroke="#c0c0c0" stroke-width="0.6"/>
<line x1="261.61" y1="322.86" x2="263.41" y2="322.86" stroke="#c0c0c0" stroke-width="0.6"/>
<line x1="264.58" y1="317.87" x2="264.58" y2="323.93" stroke="#c0c0c0" stroke-width="0.6"/>
<line x1="263.68" y1="317.87" x2="265.48" y2="317.87" stroke="#c0c0c0" stroke-width="0.6"/>
<line x1="263.68" y1="323.93" x2="265.48" y2="323.93" stroke="#c0c0c0" stroke-width="0.6"/>
<line x1="266.64" y1="317.19" x2="266.64" y2="323.26" stroke="#c0c0c0" stroke-width="0.6"/>
<line x1="265.74" y1="317.19" x2="267.54" y2="317.19" stroke="#c0c0c0" stroke-width="0.6"/>
<line x1="265.74" y1="323.26" x2="267.54" y2="323.26" stroke="#c0c0c0" stroke-width="0.6"/>
<line x1="268.71" y1="318.04" x2="268.71" y2="324.1" stroke="#c0c0c0" stroke-width="0.6"/>
<line x1="267.81" y1="318.04" x2="269.61" y2="318.04" stroke="#c0c0c0" stroke-width="0.6"/>
<line x1="267.81" y1="324.1" x2="269.61" y2="324.1" stroke="#c0c0c0" stroke-width="0.6"/>
<line x1="270.78" y1="318.11" x2="270.78" y2="324.17" stroke="#c0c0c0" stroke-width="0.6"/>
<line x1="269.88" y1="318.11" x2="271.68" y2="318.11" stroke="#c0c0c0" stroke-width="0.6"/>
<line x1="269.88" y1="324.17" x2="271.68" y2="324.17" stroke="#c0c0c0" stroke-width="0.6"/>
<line x1="272.84" y1="319.02" x2="272.84" y2="325.08" stroke="#c0c0c0" stroke-width="0.6"/>
<line x1="271.94" y1="319.02" x2="273.74" y2="319.02" stroke="#c0c0c0" stroke-width="0.6"/>
<line x1="271.94" y1="325.08" x2="273.74" y2="325.08" stroke="#c0c0c0" stroke-width="0.6"/>
<line x1="274.91" y1="318.26" x2="274.91" y2="324.32" stroke="#c0c0c0" stroke-width="0.6"/>
<line x1="274.01" y1="318.26" x2="275.81" y2="318.26" stroke="#c0c0c0" stroke-width="0.6"/>
<line x1="274.01" y1="324.32" x2="275.81" y2="324.32" stroke="#c0c0c0" stroke-width="0.6"/>
<line x1="276.97" y1="318.87" x2="276.97" y2="324.93" stroke="#c0c0c0" stroke-width="0.6"/>
<line x1="276.07" y1="318.87" x2="277.87" y2="318.87" stroke="#c0c0c0" stroke-width="0.6"/>
<line x1="276.07" y1="324.93" x2="277.87" y2="324.93" stroke="#c0c0c0" stroke-width="0.6"/>
<line x1="279.04" y1="318.75" x2="279.04" y2="324.81" stroke="#c0c0c0" stroke-width="0.6"/>
<line x1="278.14" y1="318.75" x2="279.94" y2="318.75" stroke="#c0c0c0" stroke-width="0.6"/>
<line x1="278.14" y1="324.81" x2="279.94" y2="324.81" stroke="#c0c0c0" stroke-width="0.6"/>
<line x1="281.11" y1="319.11" x2="281.11" y2="325.17" stroke="#c0c0c0" stroke-width="0.6"/>
<line x1="280.21" y1="319.11" x2="282.01" y2="319.11" stroke="#c0c0c0" stroke-width="0.6"/>
<line x1="280.21" y1="325.17" x2="282.01" y2="325.17" stroke="#c0c0c0" stroke-width="0.6"/>
<line x1="283.17" y1="320.19" x2="283.17" y2="326.25" stroke="#c0c0c0" stroke-width="0.6"/>
<line x1="282.27" y1="320.19" x2="284.07" y2="320.19" stroke="#c0c0c0" stroke-width="0.6"/>
<line x1="282.27" y1="326.25" x2="284.07" y2="326.25" stroke="#c0c0c0" stroke-width="0.6"/>
<line x1="285.24" y1="320.36" x2="285.24" y2="326.43" stroke="#c0c0c0" stroke-width="0.6"/>
<line x1="284.34" y1="320.36" x2="286.14" y2="320.36" stroke="#c0c0c0" stroke-width="0.6"/>
<line x1="284.34" y1="326.43" x2="286.14" y2="326.43" stroke="#c0c0c0" stroke-width="0.6"/>
<line x1="287.3" y1="320.89" x2="287.3" y2="326.96" stroke="#c0c0c0" stroke-width="0.6"/>
<line x1="286.4" y1="320.89" x2="288.2" y2="320.89" stroke="#c0c0c0" stroke-width="0.6"/>
<line x1="286.4" y1="326.96" x2="288.2" y2="326.96" stroke="#c0c0c0" stroke-width="0.6"/>
<line x1="289.37" y1="321.18" x2="289.37" y2="327.24" stroke="#c0c0c0" stroke-width="0.6"/>
<line x1="288.47" y1="321.18" x2="290.27" y2="321.18" stroke="#c0c0c0" stroke-width="0.6"/>
<line x1="288.47" y1="327.24" x2="290.27" y2="327.24" stroke="#c0c0c0" stroke-width="0.6"/>
<line x1="291.44" y1="321.55" x2="291.44" y2="327.62" stroke="#c0c0c0" stroke-width="0.6"/>
<line x1="290.54" y1="321.55" x2="292.34" y2="321.55" stroke="#c0c0c0" stroke-width="0.6"/>
<line x1="290.54" y1="327.62" x2="292.34" y2="327.62" stroke="#c0c0c0" stroke-width="0.6"/>
<line x1="293.5" y1="321.49" x2="293.5" y2="327.55" stroke="#c0c0c0" stroke-width="0.6"/>
<line x1="292.6" y1="321.49" x2="294.4" y2="321.49" stroke="#c0c0c0" stroke-width="0.6"/>
<line x1="292.6" y1="327.55" x2="294.4" y2="327.55" stroke="#c0c0c0" stroke-width="0.6"/>
<line x1="295.57" y1="321.33" x2="295.57" y2="327.39" stroke="#c0c0c0" stroke-width="0.6"/>
<line x1="294.67" y1="321.33" x2="296.47" y2="321.33" stroke="#c0c0c0" stroke-width="0.6"/>
<line x1="294.67" y1="327.39" x2="296.47" y2="327.39" stroke="#c0c0c0" stroke-width="0.6"/>
<line x1="297.63" y1="322.42" x2="297.63" y2="328.48" stroke="#c0c0c0" stroke-width="0.6"/>
<line x1="296.73" y1="322.42" x2="298.53" y2="322.42" stroke="#c0c0c0" stroke-width="0.6"/>
<line x1="296.73" y1="328.48" x2="298.53" y2="328.48" stroke="#c0c0c0" stroke-width="0.6"/>
<line x1="299.7" y1="321.74" x2="299.7" y2="327.81" stroke="#c0c0c0" stroke-width="0.6"/>
<line x1="298.8" y1="321.74" x2="300.6" y2="321.74" stroke="#c0c0c0" stroke-width="0.6"/>
<line x1="298.8" y1="327.81" x2="300.6" y2="327.81" stroke="#c0c0c0" stroke-width="0.6"/>
<polyline points="198.47,267.26 200.53,273.16 202.6,282.61 204.66,290.2 206.73,297.41 208.8,301.49 210.86,304.46 212.93,305.58 214.99,306.22 217.06,307.93 219.13,308.36 221.19,310.23 223.26,310.52 225.32,311.6 227.39,311.97 229.46,312.53 231.52,313.92 233.59,314.24 235.65,314.76 237.72,314.49 239.79,315.13 241.85,316.4 243.92,315.95 245.98,317.29 248.05,317.06 250.12,318.26 252.18,318.96 254.25,318.27 256.31,319.71 258.38,320.22 260.45,319.42 262.51,319.83 264.58,320.9 266.64,320.22 268.71,321.07 270.78,321.14 272.84,322.05 274.91,321.29 276.97,321.9 279.04,321.78 281.11,322.14 283.17,323.22 285.24,323.39 287.3,323.93 289.37,324.21 291.44,324.58 293.5,324.52 295.57,324.36 297.63,325.45 299.7,324.77" fill="none" stroke="#b0b0b0" stroke-width="0.9" stroke-linejoin="round"/>
<line x1="198.47" y1="262.7" x2="198.47" y2="267.89" stroke="#555" stroke-width="0.6"/>
<line x1="197.57" y1="262.7" x2="199.37" y2="262.7" stroke="#555" stroke-width="0.6"/>
<line x1="197.57" y1="267.89" x2="199.37" y2="267.89" stroke="#555" stroke-width="0.6"/>
<line x1="200.53" y1="266.99" x2="200.53" y2="272.18" stroke="#555" stroke-width="0.6"/>
<line x1="199.63" y1="266.99" x2="201.43" y2="266.99" stroke="#555" stroke-width="0.6"/>
<line x1="199.63" y1="272.18" x2="201.43" y2="272.18" stroke="#555" stroke-width="0.6"/>
<line x1="202.6" y1="276.11" x2="202.6" y2="281.31" stroke="#555" stroke-width="0.6"/>
<line x1="201.7" y1="276.11" x2="203.5" y2="276.11" stroke="#555" stroke-width="0.6"/>
<line x1="201.7" y1="281.31" x2="203.5" y2="281.31" stroke="#555" stroke-width="0.6"/>
<line x1="204.66" y1="284.22" x2="204.66" y2="289.41" stroke="#555" stroke-width="0.6"/>
<line x1="203.76" y1="284.22" x2="205.56" y2="284.22" stroke="#555" stroke-width="0.6"/>
<line x1="203.76" y1="289.41" x2="205.56" y2="289.41" stroke="#555" stroke-width="0.6"/>
<line x1="206.73" y1="290.64" x2="206.73" y2="295.84" stroke="#555" stroke-width="0.6"/>
<line x1="205.83" y1="290.64" x2="207.63" y2="290.64" stroke="#555" stroke-width="0.6"/>
<line x1="205.83" y1="295.84" x2="207.63" y2="295.84" stroke="#555" stroke-width="0.6"/>
<line x1="208.8" y1="293.19" x2="208.8" y2="298.38" stroke="#555" stroke-width="0.6"/>
<line x1="207.9" y1="293.19" x2="209.7" y2="293.19" stroke="#555" stroke-width="0.6"/>
<line x1="207.9" y1="298.38" x2="209.7" y2="298.38" stroke="#555" stroke-width="0.6"/>
<line x1="210.86" y1="295.62" x2="210.86" y2="300.81" stroke="#555" stroke-width="0.6"/>
<line x1="209.96" y1="295.62" x2="211.76" y2="295.62" stroke="#555" stroke-width="0.6"/>
<line x1="209.96" y1="300.81" x2="211.76" y2="300.81" stroke="#555" stroke-width="0.6"/>
<line x1="212.93" y1="297.38" x2="212.93" y2="302.58" stroke="#555" stroke-width="0.6"/>
<line x1="212.03" y1="297.38" x2="213.83" y2="297.38" stroke="#555" stroke-width="0.6"/>
<line x1="212.03" y1="302.58" x2="213.83" y2="302.58" stroke="#555" stroke-width="0.6"/>
<line x1="214.99" y1="299.22" x2="214.99" y2="304.41" stroke="#555" stroke-width="0.6"/>
<line x1="214.09" y1="299.22" x2="215.89" y2="299.22" stroke="#555" stroke-width="0.6"/>
<line x1="214.09" y1="304.41" x2="215.89" y2="304.41" stroke="#555" stroke-width="0.6"/>
<line x1="217.06" y1="299.97" x2="217.06" y2="305.16" stroke="#555" stroke-width="0.6"/>
<line x1="216.16" y1="299.97" x2="217.96" y2="299.97" stroke="#555" stroke-width="0.6"/>
<line x1="216.16" y1="305.16" x2="217.96" y2="305.16" stroke="#555" stroke-width="0.6"/>
<line x1="219.13" y1="301.52" x2="219.13" y2="306.72" stroke="#555" stroke-width="0.6"/>
<line x1="218.23" y1="301.52" x2="220.03" y2="301.52" stroke="#555" stroke-width="0.6"/>
<line x1="218.23" y1="306.72" x2="220.03" y2="306.72" stroke="#555" stroke-width="0.6"/>
<line x1="221.19" y1="301.65" x2="221.19" y2="306.85" stroke="#555" stroke-width="0.6"/>
<line x1="220.29" y1="301.65" x2="222.09" y2="301.65" stroke="#555" stroke-width="0.6"/>
<line x1="220.29" y1="306.85" x2="222.09" y2="306.85" stroke="#555" stroke-width="0.6"/>
<line x1="223.26" y1="302.62" x2="223.26" y2="307.82" stroke="#555" stroke-width="0.6"/>
<line x1="222.36" y1="302.62" x2="224.16" y2="302.62" stroke="#555" stroke-width="0.6"/>
<line x1="222.36" y1="307.82" x2="224.16" y2="307.82" stroke="#555" stroke-width="0.6"/>
<line x1="225.32" y1="303.92" x2="225.32" y2="309.12" stroke="#555" stroke-width="0.6"/>
<line x1="224.42" y1="303.92" x2="226.22" y2="303.92" stroke="#555" stroke-width="0.6"/>
<line x1="224.42" y1="309.12" x2="226.22" y2="309.12" stroke="#555" stroke-width="0.6"/>
<line x1="227.39" y1="304.62" x2="227.39" y2="309.81" stroke="#555" stroke-width="0.6"/>
<line x1="226.49" y1="304.62" x2="228.29" y2="304.62" stroke="#555" stroke-width="0.6"/>
<line x1="226.49" y1="309.81" x2="228.29" y2="309.81" stroke="#555" stroke-width="0.6"/>
<line x1="229.46" y1="304.94" x2="229.46" y2="310.13" stroke="#555" stroke-width="0.6"/>
<line x1="228.56" y1="304.94" x2="230.36" y2="304.94" stroke="#555" stroke-width="0.6"/>
<line x1="228.56" y1="310.13" x2="230.36" y2="310.13" stroke="#555" stroke-width="0.6"/>
<line x1="231.52" y1="306.13" x2="231.52" y2="311.33" stroke="#555" stroke-width="0.6"/>
<line x1="230.62" y1="306.13" x2="232.42" y2="306.13" stroke="#555" stroke-width="0.6"/>
<line x1="230.62" y1="311.33" x2="232.42" y2="311.33" stroke="#555" stroke-width="0.6"/>
<line x1="233.59" y1="306.15" x2="233.59" y2="311.35" stroke="#555" stroke-width="0.6"/>
<line x1="232.69" y1="306.15" x2="234.49" y2="306.15" stroke="#555" stroke-width="0.6"/>
<line x1="232.69" y1="311.35" x2="234.49" y2="311.35" stroke="#555" stroke-width="0.6"/>
<line x1="235.65" y1="306.33" x2="235.65" y2="311.52" stroke="#555" stroke-width="0.6"/>
<line x1="234.75" y1="306.33" x2="236.55" y2="306.33" stroke="#555" stroke-width="0.6"/>
<line x1="234.75" y1="311.52" x2="236.55" y2="311.52" stroke="#555" stroke-width="0.6"/>
<line x1="237.72" y1="307.59" x2="237.72" y2="312.79" stroke="#555" stroke-width="0.6"/>
<line x1="236.82" y1="307.59" x2="238.62" y2="307.59" stroke="#555" stroke-width="0.6"/>
<line x1="236.82" y1="312.79" x2="238.62" y2="312.79" stroke="#555" stroke-width="0.6"/>
<line x1="239.79" y1="307.37" x2="239.79" y2="312.56" stroke="#555" stroke-width="0.6"/>
<line x1="238.89" y1="307.37" x2="240.69" y2="307.37" stroke="#555" stroke-width="0.6"/>
<line x1="238.89" y1="312.56" x2="240.69" y2="312.56" stroke="#555" stroke-width="0.6"/>
<line x1="241.85" y1="308.05" x2="241.85" y2="313.25" stroke="#555" stroke-width="0.6"/>
<line x1="240.95" y1="308.05" x2="242.75" y2="308.05" stroke="#555" stroke-width="0.6"/>
<line x1="240.95" y1="313.25" x2="242.75" y2="313.25" stroke="#555" stroke-width="0.6"/>
<line x1="243.92" y1="308.35" x2="243.92" y2="313.55" stroke="#555" stroke-width="0.6"/>
<line x1="243.02" y1="308.35" x2="244.82" y2="308.35" stroke="#555" stroke-width="0.6"/>
<line x1="243.02" y1="313.55" x2="244.82" y2="313.55" stroke="#555" stroke-width="0.6"/>
<line x1="245.98" y1="309.57" x2="245.98" y2="314.77" stroke="#555" stroke-width="0.6"/>
<line x1="245.08" y1="309.57" x2="246.88" y2="309.57" stroke="#555" stroke-width="0.6"/>
<line x1="245.08" y1="314.77" x2="246.88" y2="314.77" stroke="#555" stroke-width="0.6"/>
<line x1="248.05" y1="310.43" x2="248.05" y2="315.63" stroke="#555" stroke-width="0.6"/>
<line x1="247.15" y1="310.43" x2="248.95" y2="310.43" stroke="#555" stroke-width="0.6"/>
<line x1="247.15" y1="315.63" x2="248.95" y2="315.63" stroke="#555" stroke-width="0.6"/>
<line x1="250.12" y1="309.88" x2="250.12" y2="315.08" stroke="#555" stroke-width="0.6"/>
<line x1="249.22" y1="309.88" x2="251.02" y2="309.88" stroke="#555" stroke-width="0.6"/>
<line x1="249.22" y1="315.08" x2="251.02" y2="315.08" stroke="#555" stroke-width="0.6"/>
<line x1="252.18" y1="310.31" x2="252.18" y2="315.51" stroke="#555" stroke-width="0.6"/>
<line x1="251.28" y1="310.31" x2="253.08" y2="310.31" stroke="#555" stroke-width="0.6"/>
<line x1="251.28" y1="315.51" x2="253.08" y2="315.51" stroke="#555" stroke-width="0.6"/>
<line x1="254.25" y1="311.24" x2="254.25" y2="316.44" stroke="#555" stroke-width="0.6"/>
<line x1="253.35" y1="311.24" x2="255.15" y2="311.24" stroke="#555" stroke-width="0.6"/>
<line x1="253.35" y1="316.44" x2="255.15" y2="316.44" stroke="#555" stroke-width="0.6"/>
<line x1="256.31" y1="312.16" x2="256.31" y2="317.36" stroke="#555" stroke-width="0.6"/>
<line x1="255.41" y1="312.16" x2="257.21" y2="312.16" stroke="#555" stroke-width="0.6"/>
<line x1="255.41" y1="317.36" x2="257.21" y2="317.36" stroke="#555" stroke-width="0.6"/>
<line x1="258.38" y1="312.45" x2="258.38" y2="317.65" stroke="#555" stroke-width="0.6"/>
<line x1="257.48" y1="312.45" x2="259.28" y2="312.45" stroke="#555" stroke-width="0.6"/>
<line x1="257.48" y1="317.65" x2="259.28" y2="317.65" stroke="#555" stroke-width="0.6"/>
<line x1="260.45" y1="312.1" x2="260.45" y2="317.3" stroke="#555" stroke-width="0.6"/>
<line x1="259.55" y1="312.1" x2="261.35" y2="312.1" stroke="#555" stroke-width="0.6"/>
<line x1="259.55" y1="317.3" x2="261.35" y2="317.3" stroke="#555" stroke-width="0.6"/>
<line x1="262.51" y1="312.84" x2="262.51" y2="318.04" stroke="#555" stroke-width="0.6"/>
<line x1="261.61" y1="312.84" x2="263.41" y2="312.84" stroke="#555" stroke-width="0.6"/>
<line x1="261.61" y1="318.04" x2="263.41" y2="318.04" stroke="#555" stroke-width="0.6"/>
<line x1="264.58" y1="312.18" x2="264.58" y2="317.38" stroke="#555" stroke-width="0.6"/>
<line x1="263.68" y1="312.18" x2="265.48" y2="312.18" stroke="#555" stroke-width="0.6"/>
<line x1="263.68" y1="317.38" x2="265.48" y2="317.38" stroke="#555" stroke-width="0.6"/>
<line x1="266.64" y1="312.95" x2="266.64" y2="318.14" stroke="#555" stroke-width="0.6"/>
<line x1="265.74" y1="312.95" x2="267.54" y2="312.95" stroke="#555" stroke-width="0.6"/>
<line x1="265.74" y1="318.14" x2="267.54" y2="318.14" stroke="#555" stroke-width="0.6"/>
<line x1="268.71" y1="313.74" x2="268.71" y2="318.94" stroke="#555" stroke-width="0.6"/>
<line x1="267.81" y1="313.74" x2="269.61" y2="313.74" stroke="#555" stroke-width="0.6"/>
<line x1="267.81" y1="318.94" x2="269.61" y2="318.94" stroke="#555" stroke-width="0.6"/>
<line x1="270.78" y1="313.37" x2="270.78" y2="318.57" stroke="#555" stroke-width="0.6"/>
<line x1="269.88" y1="313.37" x2="271.68" y2="313.37" stroke="#555" stroke-width="0.6"/>
<line x1="269.88" y1="318.57" x2="271.68" y2="318.57" stroke="#555" stroke-width="0.6"/>
<line x1="272.84" y1="314.04" x2="272.84" y2="319.24" stroke="#555" stroke-width="0.6"/>
<line x1="271.94" y1="314.04" x2="273.74" y2="314.04" stroke="#555" stroke-width="0.6"/>
<line x1="271.94" y1="319.24" x2="273.74" y2="319.24" stroke="#555" stroke-width="0.6"/>
<line x1="274.91" y1="313.51" x2="274.91" y2="318.71" stroke="#555" stroke-width="0.6"/>
<line x1="274.01" y1="313.51" x2="275.81" y2="313.51" stroke="#555" stroke-width="0.6"/>
<line x1="274.01" y1="318.71" x2="275.81" y2="318.71" stroke="#555" stroke-width="0.6"/>
<line x1="276.97" y1="313.8" x2="276.97" y2="319" stroke="#555" stroke-width="0.6"/>
<line x1="276.07" y1="313.8" x2="277.87" y2="313.8" stroke="#555" stroke-width="0.6"/>
<line x1="276.07" y1="319" x2="277.87" y2="319" stroke="#555" stroke-width="0.6"/>
<line x1="279.04" y1="314.61" x2="279.04" y2="319.8" stroke="#555" stroke-width="0.6"/>
<line x1="278.14" y1="314.61" x2="279.94" y2="314.61" stroke="#555" stroke-width="0.6"/>
<line x1="278.14" y1="319.8" x2="279.94" y2="319.8" stroke="#555" stroke-width="0.6"/>
<line x1="281.11" y1="314.69" x2="281.11" y2="319.88" stroke="#555" stroke-width="0.6"/>
<line x1="280.21" y1="314.69" x2="282.01" y2="314.69" stroke="#555" stroke-width="0.6"/>
<line x1="280.21" y1="319.88" x2="282.01" y2="319.88" stroke="#555" stroke-width="0.6"/>
<line x1="283.17" y1="314.87" x2="283.17" y2="320.07" stroke="#555" stroke-width="0.6"/>
<line x1="282.27" y1="314.87" x2="284.07" y2="314.87" stroke="#555" stroke-width="0.6"/>
<line x1="282.27" y1="320.07" x2="284.07" y2="320.07" stroke="#555" stroke-width="0.6"/>
<line x1="285.24" y1="314.99" x2="285.24" y2="320.18" stroke="#555" stroke-width="0.6"/>
<line x1="284.34" y1="314.99" x2="286.14" y2="314.99" stroke="#555" stroke-width="0.6"/>
<line x1="284.34" y1="320.18" x2="286.14" y2="320.18" stroke="#555" stroke-width="0.6"/>
<line x1="287.3" y1="315.01" x2="287.3" y2="320.2" stroke="#555" stroke-width="0.6"/>
<line x1="286.4" y1="315.01" x2="288.2" y2="315.01" stroke="#555" stroke-width="0.6"/>
<line x1="286.4" y1="320.2" x2="288.2" y2="320.2" stroke="#555" stroke-width="0.6"/>
<line x1="289.37" y1="316.58" x2="289.37" y2="321.78" stroke="#555" stroke-width="0.6"/>
<line x1="288.47" y1="316.58" x2="290.27" y2="316.58" stroke="#555" stroke-width="0.6"/>
<line x1="288.47" y1="321.78" x2="290.27" y2="321.78" stroke="#555" stroke-width="0.6"/>
<line x1="291.44" y1="316.38" x2="291.44" y2="321.58" stroke="#555" stroke-width="0.6"/>
<line x1="290.54" y1="316.38" x2="292.34" y2="316.38" stroke="#555" stroke-width="0.6"/>
<line x1="290.54" y1="321.58" x2="292.34" y2="321.58" stroke="#555" stroke-width="0.6"/>
<line x1="293.5" y1="316.31" x2="293.5" y2="321.5" stroke="#555" stroke-width="0.6"/>
<line x1="292.6" y1="316.31" x2="294.4" y2="316.31" stroke="#555" stroke-width="0.6"/>
<line x1="292.6" y1="321.5" x2="294.4" y2="321.5" stroke="#555" stroke-width="0.6"/>
<line x1="295.57" y1="316.98" x2="295.57" y2="322.17" stroke="#555" stroke-width="0.6"/>
<line x1="294.67" y1="316.98" x2="296.47" y2="316.98" stroke="#555" stroke-width="0.6"/>
<line x1="294.67" y1="322.17" x2="296.47" y2="322.17" stroke="#555" stroke-width="0.6"/>
<line x1="297.63" y1="316.84" x2="297.63" y2="322.04" stroke="#555" stroke-width="0.6"/>
<line x1="296.73" y1="316.84" x2="298.53" y2="316.84" stroke="#555" stroke-width="0.6"/>
<line x1="296.73" y1="322.04" x2="298.53" y2="322.04" stroke="#555" stroke-width="0.6"/>
<line x1="299.7" y1="317.8" x2="299.7" y2="322.99" stroke="#555" stroke-width="0.6"/>
<line x1="298.8" y1="317.8" x2="300.6" y2="317.8" stroke="#555" stroke-width="0.6"/>
<line x1="298.8" y1="322.99" x2="300.6" y2="322.99" stroke="#555" stroke-width="0.6"/>
<polyline points="198.47,265.29 200.53,269.58 202.6,278.71 204.66,286.81 206.73,293.24 208.8,295.78 210.86,298.22 212.93,299.98 214.99,301.81 217.06,302.56 219.13,304.12 221.19,304.25 223.26,305.22 225.32,306.52 227.39,307.21 229.46,307.54 231.52,308.73 233.59,308.75 235.65,308.92 237.72,310.19 239.79,309.97 241.85,310.65 243.92,310.95 245.98,312.17 248.05,313.03 250.12,312.48 252.18,312.91 254.25,313.84 256.31,314.76 258.38,315.05 260.45,314.7 262.51,315.44 264.58,314.78 266.64,315.55 268.71,316.34 270.78,315.97 272.84,316.64 274.91,316.11 276.97,316.4 279.04,317.21 281.11,317.29 283.17,317.47 285.24,317.58 287.3,317.61 289.37,319.18 291.44,318.98 293.5,318.9 295.57,319.58 297.63,319.44 299.7,320.39" fill="none" stroke="#555" stroke-width="0.9" stroke-linejoin="round"/>
<text x="321.2" y="249.2" font-size="13.8" font-weight="bold">K</text>
<line x1="340.5" y1="255" x2="340.5" y2="352" stroke="#444" stroke-width="1.3"/>
<line x1="340.5" y1="352" x2="459.8" y2="352" stroke="#333" stroke-width="0.9"/>
<line x1="339" y1="349.75" x2="340.5" y2="349.75" stroke="#333" stroke-width="0.6"/>
<line x1="339" y1="323.25" x2="340.5" y2="323.25" stroke="#333" stroke-width="0.6"/>
<line x1="339" y1="296.75" x2="340.5" y2="296.75" stroke="#333" stroke-width="0.6"/>
<line x1="339" y1="270.25" x2="340.5" y2="270.25" stroke="#333" stroke-width="0.6"/>
<line x1="339" y1="336.5" x2="340.5" y2="336.5" stroke="#333" stroke-width="0.7"/>
<text x="335.5" y="338.3" font-size="5" text-anchor="end" style="stroke-width:0.05px">0</text>
<line x1="339" y1="310" x2="340.5" y2="310" stroke="#333" stroke-width="0.7"/>
<text x="335.5" y="311.8" font-size="5" text-anchor="end" style="stroke-width:0.05px">1</text>
<line x1="339" y1="283.5" x2="340.5" y2="283.5" stroke="#333" stroke-width="0.7"/>
<text x="335.5" y="285.3" font-size="5" text-anchor="end" style="stroke-width:0.05px">2</text>
<line x1="339" y1="257" x2="340.5" y2="257" stroke="#333" stroke-width="0.7"/>
<text x="335.5" y="258.8" font-size="5" text-anchor="end" style="stroke-width:0.05px">3</text>
<line x1="348.54" y1="352" x2="348.54" y2="353.5" stroke="#333" stroke-width="0.6"/>
<line x1="356.58" y1="352" x2="356.58" y2="353.5" stroke="#333" stroke-width="0.6"/>
<line x1="364.62" y1="352" x2="364.62" y2="353.5" stroke="#333" stroke-width="0.6"/>
<line x1="372.66" y1="352" x2="372.66" y2="353.5" stroke="#333" stroke-width="0.6"/>
<line x1="380.7" y1="352" x2="380.7" y2="353.5" stroke="#333" stroke-width="0.6"/>
<line x1="388.74" y1="352" x2="388.74" y2="353.5" stroke="#333" stroke-width="0.6"/>
<line x1="396.78" y1="352" x2="396.78" y2="353.5" stroke="#333" stroke-width="0.6"/>
<line x1="404.82" y1="352" x2="404.82" y2="353.5" stroke="#333" stroke-width="0.6"/>
<line x1="412.86" y1="352" x2="412.86" y2="353.5" stroke="#333" stroke-width="0.6"/>
<line x1="420.9" y1="352" x2="420.9" y2="353.5" stroke="#333" stroke-width="0.6"/>
<line x1="428.94" y1="352" x2="428.94" y2="353.5" stroke="#333" stroke-width="0.6"/>
<line x1="436.98" y1="352" x2="436.98" y2="353.5" stroke="#333" stroke-width="0.6"/>
<line x1="445.02" y1="352" x2="445.02" y2="353.5" stroke="#333" stroke-width="0.6"/>
<line x1="453.06" y1="352" x2="453.06" y2="353.5" stroke="#333" stroke-width="0.6"/>
<line x1="340.5" y1="352" x2="340.5" y2="353.5" stroke="#333" stroke-width="0.7"/>
<text x="340.5" y="358.2" font-size="5" text-anchor="middle" style="stroke-width:0.05px">0</text>
<line x1="380.7" y1="352" x2="380.7" y2="353.5" stroke="#333" stroke-width="0.7"/>
<text x="380.7" y="358.2" font-size="5" text-anchor="middle" style="stroke-width:0.05px">50</text>
<line x1="420.9" y1="352" x2="420.9" y2="353.5" stroke="#333" stroke-width="0.7"/>
<text x="420.9" y="358.2" font-size="5" text-anchor="middle" style="stroke-width:0.05px">100</text>
<text x="328.3" y="304.4" font-size="7.4" text-anchor="middle" transform="rotate(-90 328.3 304.4)">Normalized EPSC amplitude</text>
<text x="399.8" y="366.7" font-size="7.5" text-anchor="middle">Number of pulses</text>
<text x="344.1" y="261.4" font-size="7.3">3 µM PDBu</text>
<line x1="344.2" y1="264.6" x2="355.6" y2="264.6" stroke="#000" stroke-width="1.4"/>
<line x1="409.3" y1="252.7" x2="425.8" y2="252.7" stroke="#d8d8d8" stroke-width="1"/>
<line x1="409.3" y1="261.2" x2="425.8" y2="261.2" stroke="#888" stroke-width="1.1"/>
<text x="430.4" y="255" font-size="5.4">WT</text>
<text x="430.4" y="264" font-size="5.4">KO</text>
<line x1="346.13" y1="293.48" x2="346.13" y2="304.08" stroke="#b0b0b0" stroke-width="0.6"/>
<line x1="345.53" y1="293.48" x2="346.73" y2="293.48" stroke="#b0b0b0" stroke-width="0.6"/>
<line x1="345.53" y1="304.08" x2="346.73" y2="304.08" stroke="#b0b0b0" stroke-width="0.6"/>
<line x1="346.93" y1="286.14" x2="346.93" y2="296.74" stroke="#b0b0b0" stroke-width="0.6"/>
<line x1="346.33" y1="286.14" x2="347.53" y2="286.14" stroke="#b0b0b0" stroke-width="0.6"/>
<line x1="346.33" y1="296.74" x2="347.53" y2="296.74" stroke="#b0b0b0" stroke-width="0.6"/>
<line x1="347.74" y1="284.5" x2="347.74" y2="295.1" stroke="#b0b0b0" stroke-width="0.6"/>
<line x1="347.14" y1="284.5" x2="348.34" y2="284.5" stroke="#b0b0b0" stroke-width="0.6"/>
<line x1="347.14" y1="295.1" x2="348.34" y2="295.1" stroke="#b0b0b0" stroke-width="0.6"/>
<line x1="348.54" y1="281.49" x2="348.54" y2="292.09" stroke="#b0b0b0" stroke-width="0.6"/>
<line x1="347.94" y1="281.49" x2="349.14" y2="281.49" stroke="#b0b0b0" stroke-width="0.6"/>
<line x1="347.94" y1="292.09" x2="349.14" y2="292.09" stroke="#b0b0b0" stroke-width="0.6"/>
<line x1="349.34" y1="280.74" x2="349.34" y2="291.34" stroke="#b0b0b0" stroke-width="0.6"/>
<line x1="348.74" y1="280.74" x2="349.94" y2="280.74" stroke="#b0b0b0" stroke-width="0.6"/>
<line x1="348.74" y1="291.34" x2="349.94" y2="291.34" stroke="#b0b0b0" stroke-width="0.6"/>
<line x1="350.15" y1="279.38" x2="350.15" y2="289.98" stroke="#b0b0b0" stroke-width="0.6"/>
<line x1="349.55" y1="279.38" x2="350.75" y2="279.38" stroke="#b0b0b0" stroke-width="0.6"/>
<line x1="349.55" y1="289.98" x2="350.75" y2="289.98" stroke="#b0b0b0" stroke-width="0.6"/>
<line x1="350.95" y1="278.41" x2="350.95" y2="289.01" stroke="#b0b0b0" stroke-width="0.6"/>
<line x1="350.35" y1="278.41" x2="351.55" y2="278.41" stroke="#b0b0b0" stroke-width="0.6"/>
<line x1="350.35" y1="289.01" x2="351.55" y2="289.01" stroke="#b0b0b0" stroke-width="0.6"/>
<line x1="351.76" y1="277.33" x2="351.76" y2="287.93" stroke="#b0b0b0" stroke-width="0.6"/>
<line x1="351.16" y1="277.33" x2="352.36" y2="277.33" stroke="#b0b0b0" stroke-width="0.6"/>
<line x1="351.16" y1="287.93" x2="352.36" y2="287.93" stroke="#b0b0b0" stroke-width="0.6"/>
<line x1="352.56" y1="278" x2="352.56" y2="288.6" stroke="#b0b0b0" stroke-width="0.6"/>
<line x1="351.96" y1="278" x2="353.16" y2="278" stroke="#b0b0b0" stroke-width="0.6"/>
<line x1="351.96" y1="288.6" x2="353.16" y2="288.6" stroke="#b0b0b0" stroke-width="0.6"/>
<line x1="353.36" y1="277.58" x2="353.36" y2="288.18" stroke="#b0b0b0" stroke-width="0.6"/>
<line x1="352.76" y1="277.58" x2="353.96" y2="277.58" stroke="#b0b0b0" stroke-width="0.6"/>
<line x1="352.76" y1="288.18" x2="353.96" y2="288.18" stroke="#b0b0b0" stroke-width="0.6"/>
<line x1="354.17" y1="276.67" x2="354.17" y2="287.27" stroke="#b0b0b0" stroke-width="0.6"/>
<line x1="353.57" y1="276.67" x2="354.77" y2="276.67" stroke="#b0b0b0" stroke-width="0.6"/>
<line x1="353.57" y1="287.27" x2="354.77" y2="287.27" stroke="#b0b0b0" stroke-width="0.6"/>
<line x1="354.97" y1="276.83" x2="354.97" y2="287.43" stroke="#b0b0b0" stroke-width="0.6"/>
<line x1="354.37" y1="276.83" x2="355.57" y2="276.83" stroke="#b0b0b0" stroke-width="0.6"/>
<line x1="354.37" y1="287.43" x2="355.57" y2="287.43" stroke="#b0b0b0" stroke-width="0.6"/>
<line x1="355.78" y1="278.08" x2="355.78" y2="288.68" stroke="#b0b0b0" stroke-width="0.6"/>
<line x1="355.18" y1="278.08" x2="356.38" y2="278.08" stroke="#b0b0b0" stroke-width="0.6"/>
<line x1="355.18" y1="288.68" x2="356.38" y2="288.68" stroke="#b0b0b0" stroke-width="0.6"/>
<line x1="356.58" y1="279.95" x2="356.58" y2="290.55" stroke="#b0b0b0" stroke-width="0.6"/>
<line x1="355.98" y1="279.95" x2="357.18" y2="279.95" stroke="#b0b0b0" stroke-width="0.6"/>
<line x1="355.98" y1="290.55" x2="357.18" y2="290.55" stroke="#b0b0b0" stroke-width="0.6"/>
<line x1="357.38" y1="280.62" x2="357.38" y2="291.22" stroke="#b0b0b0" stroke-width="0.6"/>
<line x1="356.78" y1="280.62" x2="357.98" y2="280.62" stroke="#b0b0b0" stroke-width="0.6"/>
<line x1="356.78" y1="291.22" x2="357.98" y2="291.22" stroke="#b0b0b0" stroke-width="0.6"/>
<line x1="358.19" y1="283.69" x2="358.19" y2="294.29" stroke="#b0b0b0" stroke-width="0.6"/>
<line x1="357.59" y1="283.69" x2="358.79" y2="283.69" stroke="#b0b0b0" stroke-width="0.6"/>
<line x1="357.59" y1="294.29" x2="358.79" y2="294.29" stroke="#b0b0b0" stroke-width="0.6"/>
<line x1="358.99" y1="283.99" x2="358.99" y2="294.59" stroke="#b0b0b0" stroke-width="0.6"/>
<line x1="358.39" y1="283.99" x2="359.59" y2="283.99" stroke="#b0b0b0" stroke-width="0.6"/>
<line x1="358.39" y1="294.59" x2="359.59" y2="294.59" stroke="#b0b0b0" stroke-width="0.6"/>
<line x1="359.8" y1="286.22" x2="359.8" y2="296.82" stroke="#b0b0b0" stroke-width="0.6"/>
<line x1="359.2" y1="286.22" x2="360.4" y2="286.22" stroke="#b0b0b0" stroke-width="0.6"/>
<line x1="359.2" y1="296.82" x2="360.4" y2="296.82" stroke="#b0b0b0" stroke-width="0.6"/>
<line x1="360.6" y1="290.96" x2="360.6" y2="295.2" stroke="#b0b0b0" stroke-width="0.6"/>
<line x1="360" y1="290.96" x2="361.2" y2="290.96" stroke="#b0b0b0" stroke-width="0.6"/>
<line x1="360" y1="295.2" x2="361.2" y2="295.2" stroke="#b0b0b0" stroke-width="0.6"/>
<line x1="361.4" y1="291.95" x2="361.4" y2="296.19" stroke="#b0b0b0" stroke-width="0.6"/>
<line x1="360.8" y1="291.95" x2="362" y2="291.95" stroke="#b0b0b0" stroke-width="0.6"/>
<line x1="360.8" y1="296.19" x2="362" y2="296.19" stroke="#b0b0b0" stroke-width="0.6"/>
<line x1="362.21" y1="292.6" x2="362.21" y2="296.84" stroke="#b0b0b0" stroke-width="0.6"/>
<line x1="361.61" y1="292.6" x2="362.81" y2="292.6" stroke="#b0b0b0" stroke-width="0.6"/>
<line x1="361.61" y1="296.84" x2="362.81" y2="296.84" stroke="#b0b0b0" stroke-width="0.6"/>
<line x1="363.01" y1="292.75" x2="363.01" y2="296.99" stroke="#b0b0b0" stroke-width="0.6"/>
<line x1="362.41" y1="292.75" x2="363.61" y2="292.75" stroke="#b0b0b0" stroke-width="0.6"/>
<line x1="362.41" y1="296.99" x2="363.61" y2="296.99" stroke="#b0b0b0" stroke-width="0.6"/>
<line x1="363.82" y1="294.71" x2="363.82" y2="298.95" stroke="#b0b0b0" stroke-width="0.6"/>
<line x1="363.22" y1="294.71" x2="364.42" y2="294.71" stroke="#b0b0b0" stroke-width="0.6"/>
<line x1="363.22" y1="298.95" x2="364.42" y2="298.95" stroke="#b0b0b0" stroke-width="0.6"/>
<line x1="364.62" y1="295.03" x2="364.62" y2="299.27" stroke="#b0b0b0" stroke-width="0.6"/>
<line x1="364.02" y1="295.03" x2="365.22" y2="295.03" stroke="#b0b0b0" stroke-width="0.6"/>
<line x1="364.02" y1="299.27" x2="365.22" y2="299.27" stroke="#b0b0b0" stroke-width="0.6"/>
<line x1="365.42" y1="295.52" x2="365.42" y2="299.76" stroke="#b0b0b0" stroke-width="0.6"/>
<line x1="364.82" y1="295.52" x2="366.02" y2="295.52" stroke="#b0b0b0" stroke-width="0.6"/>
<line x1="364.82" y1="299.76" x2="366.02" y2="299.76" stroke="#b0b0b0" stroke-width="0.6"/>
<line x1="366.23" y1="296.53" x2="366.23" y2="300.77" stroke="#b0b0b0" stroke-width="0.6"/>
<line x1="365.63" y1="296.53" x2="366.83" y2="296.53" stroke="#b0b0b0" stroke-width="0.6"/>
<line x1="365.63" y1="300.77" x2="366.83" y2="300.77" stroke="#b0b0b0" stroke-width="0.6"/>
<line x1="367.03" y1="296.83" x2="367.03" y2="301.07" stroke="#b0b0b0" stroke-width="0.6"/>
<line x1="366.43" y1="296.83" x2="367.63" y2="296.83" stroke="#b0b0b0" stroke-width="0.6"/>
<line x1="366.43" y1="301.07" x2="367.63" y2="301.07" stroke="#b0b0b0" stroke-width="0.6"/>
<line x1="367.84" y1="298.19" x2="367.84" y2="302.43" stroke="#b0b0b0" stroke-width="0.6"/>
<line x1="367.24" y1="298.19" x2="368.44" y2="298.19" stroke="#b0b0b0" stroke-width="0.6"/>
<line x1="367.24" y1="302.43" x2="368.44" y2="302.43" stroke="#b0b0b0" stroke-width="0.6"/>
<line x1="368.64" y1="298.78" x2="368.64" y2="303.02" stroke="#b0b0b0" stroke-width="0.6"/>
<line x1="368.04" y1="298.78" x2="369.24" y2="298.78" stroke="#b0b0b0" stroke-width="0.6"/>
<line x1="368.04" y1="303.02" x2="369.24" y2="303.02" stroke="#b0b0b0" stroke-width="0.6"/>
<line x1="369.44" y1="298.91" x2="369.44" y2="303.15" stroke="#b0b0b0" stroke-width="0.6"/>
<line x1="368.84" y1="298.91" x2="370.04" y2="298.91" stroke="#b0b0b0" stroke-width="0.6"/>
<line x1="368.84" y1="303.15" x2="370.04" y2="303.15" stroke="#b0b0b0" stroke-width="0.6"/>
<line x1="370.25" y1="298.53" x2="370.25" y2="302.77" stroke="#b0b0b0" stroke-width="0.6"/>
<line x1="369.65" y1="298.53" x2="370.85" y2="298.53" stroke="#b0b0b0" stroke-width="0.6"/>
<line x1="369.65" y1="302.77" x2="370.85" y2="302.77" stroke="#b0b0b0" stroke-width="0.6"/>
<line x1="371.05" y1="299.3" x2="371.05" y2="303.54" stroke="#b0b0b0" stroke-width="0.6"/>
<line x1="370.45" y1="299.3" x2="371.65" y2="299.3" stroke="#b0b0b0" stroke-width="0.6"/>
<line x1="370.45" y1="303.54" x2="371.65" y2="303.54" stroke="#b0b0b0" stroke-width="0.6"/>
<line x1="371.86" y1="299.85" x2="371.86" y2="304.09" stroke="#b0b0b0" stroke-width="0.6"/>
<line x1="371.26" y1="299.85" x2="372.46" y2="299.85" stroke="#b0b0b0" stroke-width="0.6"/>
<line x1="371.26" y1="304.09" x2="372.46" y2="304.09" stroke="#b0b0b0" stroke-width="0.6"/>
<line x1="372.66" y1="299.79" x2="372.66" y2="304.03" stroke="#b0b0b0" stroke-width="0.6"/>
<line x1="372.06" y1="299.79" x2="373.26" y2="299.79" stroke="#b0b0b0" stroke-width="0.6"/>
<line x1="372.06" y1="304.03" x2="373.26" y2="304.03" stroke="#b0b0b0" stroke-width="0.6"/>
<line x1="373.46" y1="300.24" x2="373.46" y2="304.48" stroke="#b0b0b0" stroke-width="0.6"/>
<line x1="372.86" y1="300.24" x2="374.06" y2="300.24" stroke="#b0b0b0" stroke-width="0.6"/>
<line x1="372.86" y1="304.48" x2="374.06" y2="304.48" stroke="#b0b0b0" stroke-width="0.6"/>
<line x1="374.27" y1="300.73" x2="374.27" y2="304.97" stroke="#b0b0b0" stroke-width="0.6"/>
<line x1="373.67" y1="300.73" x2="374.87" y2="300.73" stroke="#b0b0b0" stroke-width="0.6"/>
<line x1="373.67" y1="304.97" x2="374.87" y2="304.97" stroke="#b0b0b0" stroke-width="0.6"/>
<line x1="375.07" y1="300.18" x2="375.07" y2="304.42" stroke="#b0b0b0" stroke-width="0.6"/>
<line x1="374.47" y1="300.18" x2="375.67" y2="300.18" stroke="#b0b0b0" stroke-width="0.6"/>
<line x1="374.47" y1="304.42" x2="375.67" y2="304.42" stroke="#b0b0b0" stroke-width="0.6"/>
<line x1="375.88" y1="300.57" x2="375.88" y2="304.81" stroke="#b0b0b0" stroke-width="0.6"/>
<line x1="375.28" y1="300.57" x2="376.48" y2="300.57" stroke="#b0b0b0" stroke-width="0.6"/>
<line x1="375.28" y1="304.81" x2="376.48" y2="304.81" stroke="#b0b0b0" stroke-width="0.6"/>
<line x1="376.68" y1="301.53" x2="376.68" y2="305.77" stroke="#b0b0b0" stroke-width="0.6"/>
<line x1="376.08" y1="301.53" x2="377.28" y2="301.53" stroke="#b0b0b0" stroke-width="0.6"/>
<line x1="376.08" y1="305.77" x2="377.28" y2="305.77" stroke="#b0b0b0" stroke-width="0.6"/>
<line x1="377.48" y1="301.24" x2="377.48" y2="305.48" stroke="#b0b0b0" stroke-width="0.6"/>
<line x1="376.88" y1="301.24" x2="378.08" y2="301.24" stroke="#b0b0b0" stroke-width="0.6"/>
<line x1="376.88" y1="305.48" x2="378.08" y2="305.48" stroke="#b0b0b0" stroke-width="0.6"/>
<line x1="378.29" y1="301.56" x2="378.29" y2="305.8" stroke="#b0b0b0" stroke-width="0.6"/>
<line x1="377.69" y1="301.56" x2="378.89" y2="301.56" stroke="#b0b0b0" stroke-width="0.6"/>
<line x1="377.69" y1="305.8" x2="378.89" y2="305.8" stroke="#b0b0b0" stroke-width="0.6"/>
<line x1="379.09" y1="301.24" x2="379.09" y2="305.48" stroke="#b0b0b0" stroke-width="0.6"/>
<line x1="378.49" y1="301.24" x2="379.69" y2="301.24" stroke="#b0b0b0" stroke-width="0.6"/>
<line x1="378.49" y1="305.48" x2="379.69" y2="305.48" stroke="#b0b0b0" stroke-width="0.6"/>
<line x1="379.9" y1="301.71" x2="379.9" y2="305.95" stroke="#b0b0b0" stroke-width="0.6"/>
<line x1="379.3" y1="301.71" x2="380.5" y2="301.71" stroke="#b0b0b0" stroke-width="0.6"/>
<line x1="379.3" y1="305.95" x2="380.5" y2="305.95" stroke="#b0b0b0" stroke-width="0.6"/>
<line x1="380.7" y1="302.65" x2="380.7" y2="306.89" stroke="#b0b0b0" stroke-width="0.6"/>
<line x1="380.1" y1="302.65" x2="381.3" y2="302.65" stroke="#b0b0b0" stroke-width="0.6"/>
<line x1="380.1" y1="306.89" x2="381.3" y2="306.89" stroke="#b0b0b0" stroke-width="0.6"/>
<line x1="381.5" y1="301.74" x2="381.5" y2="305.98" stroke="#b0b0b0" stroke-width="0.6"/>
<line x1="380.9" y1="301.74" x2="382.1" y2="301.74" stroke="#b0b0b0" stroke-width="0.6"/>
<line x1="380.9" y1="305.98" x2="382.1" y2="305.98" stroke="#b0b0b0" stroke-width="0.6"/>
<line x1="382.31" y1="303.29" x2="382.31" y2="307.53" stroke="#b0b0b0" stroke-width="0.6"/>
<line x1="381.71" y1="303.29" x2="382.91" y2="303.29" stroke="#b0b0b0" stroke-width="0.6"/>
<line x1="381.71" y1="307.53" x2="382.91" y2="307.53" stroke="#b0b0b0" stroke-width="0.6"/>
<line x1="383.11" y1="303" x2="383.11" y2="307.24" stroke="#b0b0b0" stroke-width="0.6"/>
<line x1="382.51" y1="303" x2="383.71" y2="303" stroke="#b0b0b0" stroke-width="0.6"/>
<line x1="382.51" y1="307.24" x2="383.71" y2="307.24" stroke="#b0b0b0" stroke-width="0.6"/>
<line x1="383.92" y1="302.65" x2="383.92" y2="306.89" stroke="#b0b0b0" stroke-width="0.6"/>
<line x1="383.32" y1="302.65" x2="384.52" y2="302.65" stroke="#b0b0b0" stroke-width="0.6"/>
<line x1="383.32" y1="306.89" x2="384.52" y2="306.89" stroke="#b0b0b0" stroke-width="0.6"/>
<line x1="384.72" y1="303.8" x2="384.72" y2="308.04" stroke="#b0b0b0" stroke-width="0.6"/>
<line x1="384.12" y1="303.8" x2="385.32" y2="303.8" stroke="#b0b0b0" stroke-width="0.6"/>
<line x1="384.12" y1="308.04" x2="385.32" y2="308.04" stroke="#b0b0b0" stroke-width="0.6"/>
<line x1="385.52" y1="303.45" x2="385.52" y2="307.69" stroke="#b0b0b0" stroke-width="0.6"/>
<line x1="384.92" y1="303.45" x2="386.12" y2="303.45" stroke="#b0b0b0" stroke-width="0.6"/>
<line x1="384.92" y1="307.69" x2="386.12" y2="307.69" stroke="#b0b0b0" stroke-width="0.6"/>
<line x1="386.33" y1="304.35" x2="386.33" y2="308.59" stroke="#b0b0b0" stroke-width="0.6"/>
<line x1="385.73" y1="304.35" x2="386.93" y2="304.35" stroke="#b0b0b0" stroke-width="0.6"/>
<line x1="385.73" y1="308.59" x2="386.93" y2="308.59" stroke="#b0b0b0" stroke-width="0.6"/>
<line x1="387.13" y1="303.53" x2="387.13" y2="307.77" stroke="#b0b0b0" stroke-width="0.6"/>
<line x1="386.53" y1="303.53" x2="387.73" y2="303.53" stroke="#b0b0b0" stroke-width="0.6"/>
<line x1="386.53" y1="307.77" x2="387.73" y2="307.77" stroke="#b0b0b0" stroke-width="0.6"/>
<line x1="387.94" y1="303.56" x2="387.94" y2="307.8" stroke="#b0b0b0" stroke-width="0.6"/>
<line x1="387.34" y1="303.56" x2="388.54" y2="303.56" stroke="#b0b0b0" stroke-width="0.6"/>
<line x1="387.34" y1="307.8" x2="388.54" y2="307.8" stroke="#b0b0b0" stroke-width="0.6"/>
<line x1="388.74" y1="304.05" x2="388.74" y2="308.29" stroke="#b0b0b0" stroke-width="0.6"/>
<line x1="388.14" y1="304.05" x2="389.34" y2="304.05" stroke="#b0b0b0" stroke-width="0.6"/>
<line x1="388.14" y1="308.29" x2="389.34" y2="308.29" stroke="#b0b0b0" stroke-width="0.6"/>
<line x1="389.54" y1="303.73" x2="389.54" y2="307.97" stroke="#b0b0b0" stroke-width="0.6"/>
<line x1="388.94" y1="303.73" x2="390.14" y2="303.73" stroke="#b0b0b0" stroke-width="0.6"/>
<line x1="388.94" y1="307.97" x2="390.14" y2="307.97" stroke="#b0b0b0" stroke-width="0.6"/>
<line x1="390.35" y1="304.78" x2="390.35" y2="309.02" stroke="#b0b0b0" stroke-width="0.6"/>
<line x1="389.75" y1="304.78" x2="390.95" y2="304.78" stroke="#b0b0b0" stroke-width="0.6"/>
<line x1="389.75" y1="309.02" x2="390.95" y2="309.02" stroke="#b0b0b0" stroke-width="0.6"/>
<line x1="391.15" y1="304.34" x2="391.15" y2="308.58" stroke="#b0b0b0" stroke-width="0.6"/>
<line x1="390.55" y1="304.34" x2="391.75" y2="304.34" stroke="#b0b0b0" stroke-width="0.6"/>
<line x1="390.55" y1="308.58" x2="391.75" y2="308.58" stroke="#b0b0b0" stroke-width="0.6"/>
<line x1="391.96" y1="304.66" x2="391.96" y2="308.9" stroke="#b0b0b0" stroke-width="0.6"/>
<line x1="391.36" y1="304.66" x2="392.56" y2="304.66" stroke="#b0b0b0" stroke-width="0.6"/>
<line x1="391.36" y1="308.9" x2="392.56" y2="308.9" stroke="#b0b0b0" stroke-width="0.6"/>
<line x1="392.76" y1="304.84" x2="392.76" y2="309.08" stroke="#b0b0b0" stroke-width="0.6"/>
<line x1="392.16" y1="304.84" x2="393.36" y2="304.84" stroke="#b0b0b0" stroke-width="0.6"/>
<line x1="392.16" y1="309.08" x2="393.36" y2="309.08" stroke="#b0b0b0" stroke-width="0.6"/>
<line x1="393.56" y1="305.19" x2="393.56" y2="309.43" stroke="#b0b0b0" stroke-width="0.6"/>
<line x1="392.96" y1="305.19" x2="394.16" y2="305.19" stroke="#b0b0b0" stroke-width="0.6"/>
<line x1="392.96" y1="309.43" x2="394.16" y2="309.43" stroke="#b0b0b0" stroke-width="0.6"/>
<line x1="394.37" y1="304.74" x2="394.37" y2="308.98" stroke="#b0b0b0" stroke-width="0.6"/>
<line x1="393.77" y1="304.74" x2="394.97" y2="304.74" stroke="#b0b0b0" stroke-width="0.6"/>
<line x1="393.77" y1="308.98" x2="394.97" y2="308.98" stroke="#b0b0b0" stroke-width="0.6"/>
<line x1="395.17" y1="304.73" x2="395.17" y2="308.97" stroke="#b0b0b0" stroke-width="0.6"/>
<line x1="394.57" y1="304.73" x2="395.77" y2="304.73" stroke="#b0b0b0" stroke-width="0.6"/>
<line x1="394.57" y1="308.97" x2="395.77" y2="308.97" stroke="#b0b0b0" stroke-width="0.6"/>
<line x1="395.98" y1="305.64" x2="395.98" y2="309.88" stroke="#b0b0b0" stroke-width="0.6"/>
<line x1="395.38" y1="305.64" x2="396.58" y2="305.64" stroke="#b0b0b0" stroke-width="0.6"/>
<line x1="395.38" y1="309.88" x2="396.58" y2="309.88" stroke="#b0b0b0" stroke-width="0.6"/>
<line x1="396.78" y1="305.5" x2="396.78" y2="309.74" stroke="#b0b0b0" stroke-width="0.6"/>
<line x1="396.18" y1="305.5" x2="397.38" y2="305.5" stroke="#b0b0b0" stroke-width="0.6"/>
<line x1="396.18" y1="309.74" x2="397.38" y2="309.74" stroke="#b0b0b0" stroke-width="0.6"/>
<line x1="397.58" y1="306.62" x2="397.58" y2="310.86" stroke="#b0b0b0" stroke-width="0.6"/>
<line x1="396.98" y1="306.62" x2="398.18" y2="306.62" stroke="#b0b0b0" stroke-width="0.6"/>
<line x1="396.98" y1="310.86" x2="398.18" y2="310.86" stroke="#b0b0b0" stroke-width="0.6"/>
<line x1="398.39" y1="305.76" x2="398.39" y2="310" stroke="#b0b0b0" stroke-width="0.6"/>
<line x1="397.79" y1="305.76" x2="398.99" y2="305.76" stroke="#b0b0b0" stroke-width="0.6"/>
<line x1="397.79" y1="310" x2="398.99" y2="310" stroke="#b0b0b0" stroke-width="0.6"/>
<line x1="399.19" y1="306" x2="399.19" y2="310.24" stroke="#b0b0b0" stroke-width="0.6"/>
<line x1="398.59" y1="306" x2="399.79" y2="306" stroke="#b0b0b0" stroke-width="0.6"/>
<line x1="398.59" y1="310.24" x2="399.79" y2="310.24" stroke="#b0b0b0" stroke-width="0.6"/>
<line x1="400" y1="305.61" x2="400" y2="309.85" stroke="#b0b0b0" stroke-width="0.6"/>
<line x1="399.4" y1="305.61" x2="400.6" y2="305.61" stroke="#b0b0b0" stroke-width="0.6"/>
<line x1="399.4" y1="309.85" x2="400.6" y2="309.85" stroke="#b0b0b0" stroke-width="0.6"/>
<line x1="400.8" y1="306.04" x2="400.8" y2="310.28" stroke="#b0b0b0" stroke-width="0.6"/>
<line x1="400.2" y1="306.04" x2="401.4" y2="306.04" stroke="#b0b0b0" stroke-width="0.6"/>
<line x1="400.2" y1="310.28" x2="401.4" y2="310.28" stroke="#b0b0b0" stroke-width="0.6"/>
<line x1="401.6" y1="307.06" x2="401.6" y2="311.3" stroke="#b0b0b0" stroke-width="0.6"/>
<line x1="401" y1="307.06" x2="402.2" y2="307.06" stroke="#b0b0b0" stroke-width="0.6"/>
<line x1="401" y1="311.3" x2="402.2" y2="311.3" stroke="#b0b0b0" stroke-width="0.6"/>
<line x1="402.41" y1="307.05" x2="402.41" y2="311.29" stroke="#b0b0b0" stroke-width="0.6"/>
<line x1="401.81" y1="307.05" x2="403.01" y2="307.05" stroke="#b0b0b0" stroke-width="0.6"/>
<line x1="401.81" y1="311.29" x2="403.01" y2="311.29" stroke="#b0b0b0" stroke-width="0.6"/>
<line x1="403.21" y1="306.76" x2="403.21" y2="311" stroke="#b0b0b0" stroke-width="0.6"/>
<line x1="402.61" y1="306.76" x2="403.81" y2="306.76" stroke="#b0b0b0" stroke-width="0.6"/>
<line x1="402.61" y1="311" x2="403.81" y2="311" stroke="#b0b0b0" stroke-width="0.6"/>
<line x1="404.02" y1="307.95" x2="404.02" y2="312.19" stroke="#b0b0b0" stroke-width="0.6"/>
<line x1="403.42" y1="307.95" x2="404.62" y2="307.95" stroke="#b0b0b0" stroke-width="0.6"/>
<line x1="403.42" y1="312.19" x2="404.62" y2="312.19" stroke="#b0b0b0" stroke-width="0.6"/>
<line x1="404.82" y1="307.41" x2="404.82" y2="311.65" stroke="#b0b0b0" stroke-width="0.6"/>
<line x1="404.22" y1="307.41" x2="405.42" y2="307.41" stroke="#b0b0b0" stroke-width="0.6"/>
<line x1="404.22" y1="311.65" x2="405.42" y2="311.65" stroke="#b0b0b0" stroke-width="0.6"/>
<line x1="405.62" y1="308.01" x2="405.62" y2="312.25" stroke="#b0b0b0" stroke-width="0.6"/>
<line x1="405.02" y1="308.01" x2="406.22" y2="308.01" stroke="#b0b0b0" stroke-width="0.6"/>
<line x1="405.02" y1="312.25" x2="406.22" y2="312.25" stroke="#b0b0b0" stroke-width="0.6"/>
<line x1="406.43" y1="308.22" x2="406.43" y2="312.46" stroke="#b0b0b0" stroke-width="0.6"/>
<line x1="405.83" y1="308.22" x2="407.03" y2="308.22" stroke="#b0b0b0" stroke-width="0.6"/>
<line x1="405.83" y1="312.46" x2="407.03" y2="312.46" stroke="#b0b0b0" stroke-width="0.6"/>
<line x1="407.23" y1="308.45" x2="407.23" y2="312.69" stroke="#b0b0b0" stroke-width="0.6"/>
<line x1="406.63" y1="308.45" x2="407.83" y2="308.45" stroke="#b0b0b0" stroke-width="0.6"/>
<line x1="406.63" y1="312.69" x2="407.83" y2="312.69" stroke="#b0b0b0" stroke-width="0.6"/>
<line x1="408.04" y1="307.45" x2="408.04" y2="311.69" stroke="#b0b0b0" stroke-width="0.6"/>
<line x1="407.44" y1="307.45" x2="408.64" y2="307.45" stroke="#b0b0b0" stroke-width="0.6"/>
<line x1="407.44" y1="311.69" x2="408.64" y2="311.69" stroke="#b0b0b0" stroke-width="0.6"/>
<line x1="408.84" y1="308.6" x2="408.84" y2="312.84" stroke="#b0b0b0" stroke-width="0.6"/>
<line x1="408.24" y1="308.6" x2="409.44" y2="308.6" stroke="#b0b0b0" stroke-width="0.6"/>
<line x1="408.24" y1="312.84" x2="409.44" y2="312.84" stroke="#b0b0b0" stroke-width="0.6"/>
<line x1="409.64" y1="308.55" x2="409.64" y2="312.79" stroke="#b0b0b0" stroke-width="0.6"/>
<line x1="409.04" y1="308.55" x2="410.24" y2="308.55" stroke="#b0b0b0" stroke-width="0.6"/>
<line x1="409.04" y1="312.79" x2="410.24" y2="312.79" stroke="#b0b0b0" stroke-width="0.6"/>
<line x1="410.45" y1="308.45" x2="410.45" y2="312.69" stroke="#b0b0b0" stroke-width="0.6"/>
<line x1="409.85" y1="308.45" x2="411.05" y2="308.45" stroke="#b0b0b0" stroke-width="0.6"/>
<line x1="409.85" y1="312.69" x2="411.05" y2="312.69" stroke="#b0b0b0" stroke-width="0.6"/>
<line x1="411.25" y1="307.82" x2="411.25" y2="312.06" stroke="#b0b0b0" stroke-width="0.6"/>
<line x1="410.65" y1="307.82" x2="411.85" y2="307.82" stroke="#b0b0b0" stroke-width="0.6"/>
<line x1="410.65" y1="312.06" x2="411.85" y2="312.06" stroke="#b0b0b0" stroke-width="0.6"/>
<line x1="412.06" y1="309.21" x2="412.06" y2="313.45" stroke="#b0b0b0" stroke-width="0.6"/>
<line x1="411.46" y1="309.21" x2="412.66" y2="309.21" stroke="#b0b0b0" stroke-width="0.6"/>
<line x1="411.46" y1="313.45" x2="412.66" y2="313.45" stroke="#b0b0b0" stroke-width="0.6"/>
<line x1="412.86" y1="308.76" x2="412.86" y2="313" stroke="#b0b0b0" stroke-width="0.6"/>
<line x1="412.26" y1="308.76" x2="413.46" y2="308.76" stroke="#b0b0b0" stroke-width="0.6"/>
<line x1="412.26" y1="313" x2="413.46" y2="313" stroke="#b0b0b0" stroke-width="0.6"/>
<line x1="413.66" y1="308.73" x2="413.66" y2="312.97" stroke="#b0b0b0" stroke-width="0.6"/>
<line x1="413.06" y1="308.73" x2="414.26" y2="308.73" stroke="#b0b0b0" stroke-width="0.6"/>
<line x1="413.06" y1="312.97" x2="414.26" y2="312.97" stroke="#b0b0b0" stroke-width="0.6"/>
<line x1="414.47" y1="308.33" x2="414.47" y2="312.57" stroke="#b0b0b0" stroke-width="0.6"/>
<line x1="413.87" y1="308.33" x2="415.07" y2="308.33" stroke="#b0b0b0" stroke-width="0.6"/>
<line x1="413.87" y1="312.57" x2="415.07" y2="312.57" stroke="#b0b0b0" stroke-width="0.6"/>
<line x1="415.27" y1="308.56" x2="415.27" y2="312.8" stroke="#b0b0b0" stroke-width="0.6"/>
<line x1="414.67" y1="308.56" x2="415.87" y2="308.56" stroke="#b0b0b0" stroke-width="0.6"/>
<line x1="414.67" y1="312.8" x2="415.87" y2="312.8" stroke="#b0b0b0" stroke-width="0.6"/>
<line x1="416.08" y1="308.63" x2="416.08" y2="312.87" stroke="#b0b0b0" stroke-width="0.6"/>
<line x1="415.48" y1="308.63" x2="416.68" y2="308.63" stroke="#b0b0b0" stroke-width="0.6"/>
<line x1="415.48" y1="312.87" x2="416.68" y2="312.87" stroke="#b0b0b0" stroke-width="0.6"/>
<line x1="416.88" y1="309.69" x2="416.88" y2="313.93" stroke="#b0b0b0" stroke-width="0.6"/>
<line x1="416.28" y1="309.69" x2="417.48" y2="309.69" stroke="#b0b0b0" stroke-width="0.6"/>
<line x1="416.28" y1="313.93" x2="417.48" y2="313.93" stroke="#b0b0b0" stroke-width="0.6"/>
<line x1="417.68" y1="309.6" x2="417.68" y2="313.84" stroke="#b0b0b0" stroke-width="0.6"/>
<line x1="417.08" y1="309.6" x2="418.28" y2="309.6" stroke="#b0b0b0" stroke-width="0.6"/>
<line x1="417.08" y1="313.84" x2="418.28" y2="313.84" stroke="#b0b0b0" stroke-width="0.6"/>
<line x1="418.49" y1="309.83" x2="418.49" y2="314.07" stroke="#b0b0b0" stroke-width="0.6"/>
<line x1="417.89" y1="309.83" x2="419.09" y2="309.83" stroke="#b0b0b0" stroke-width="0.6"/>
<line x1="417.89" y1="314.07" x2="419.09" y2="314.07" stroke="#b0b0b0" stroke-width="0.6"/>
<line x1="419.29" y1="309.12" x2="419.29" y2="313.36" stroke="#b0b0b0" stroke-width="0.6"/>
<line x1="418.69" y1="309.12" x2="419.89" y2="309.12" stroke="#b0b0b0" stroke-width="0.6"/>
<line x1="418.69" y1="313.36" x2="419.89" y2="313.36" stroke="#b0b0b0" stroke-width="0.6"/>
<line x1="420.1" y1="309.14" x2="420.1" y2="313.38" stroke="#b0b0b0" stroke-width="0.6"/>
<line x1="419.5" y1="309.14" x2="420.7" y2="309.14" stroke="#b0b0b0" stroke-width="0.6"/>
<line x1="419.5" y1="313.38" x2="420.7" y2="313.38" stroke="#b0b0b0" stroke-width="0.6"/>
<line x1="420.9" y1="310.56" x2="420.9" y2="314.8" stroke="#b0b0b0" stroke-width="0.6"/>
<line x1="420.3" y1="310.56" x2="421.5" y2="310.56" stroke="#b0b0b0" stroke-width="0.6"/>
<line x1="420.3" y1="314.8" x2="421.5" y2="314.8" stroke="#b0b0b0" stroke-width="0.6"/>
<line x1="421.7" y1="310.63" x2="421.7" y2="314.87" stroke="#b0b0b0" stroke-width="0.6"/>
<line x1="421.1" y1="310.63" x2="422.3" y2="310.63" stroke="#b0b0b0" stroke-width="0.6"/>
<line x1="421.1" y1="314.87" x2="422.3" y2="314.87" stroke="#b0b0b0" stroke-width="0.6"/>
<line x1="422.51" y1="310.66" x2="422.51" y2="314.9" stroke="#b0b0b0" stroke-width="0.6"/>
<line x1="421.91" y1="310.66" x2="423.11" y2="310.66" stroke="#b0b0b0" stroke-width="0.6"/>
<line x1="421.91" y1="314.9" x2="423.11" y2="314.9" stroke="#b0b0b0" stroke-width="0.6"/>
<line x1="423.31" y1="310.78" x2="423.31" y2="315.02" stroke="#b0b0b0" stroke-width="0.6"/>
<line x1="422.71" y1="310.78" x2="423.91" y2="310.78" stroke="#b0b0b0" stroke-width="0.6"/>
<line x1="422.71" y1="315.02" x2="423.91" y2="315.02" stroke="#b0b0b0" stroke-width="0.6"/>
<line x1="424.12" y1="310.5" x2="424.12" y2="314.74" stroke="#b0b0b0" stroke-width="0.6"/>
<line x1="423.52" y1="310.5" x2="424.72" y2="310.5" stroke="#b0b0b0" stroke-width="0.6"/>
<line x1="423.52" y1="314.74" x2="424.72" y2="314.74" stroke="#b0b0b0" stroke-width="0.6"/>
<line x1="424.92" y1="310.45" x2="424.92" y2="314.69" stroke="#b0b0b0" stroke-width="0.6"/>
<line x1="424.32" y1="310.45" x2="425.52" y2="310.45" stroke="#b0b0b0" stroke-width="0.6"/>
<line x1="424.32" y1="314.69" x2="425.52" y2="314.69" stroke="#b0b0b0" stroke-width="0.6"/>
<line x1="425.72" y1="311.09" x2="425.72" y2="315.33" stroke="#b0b0b0" stroke-width="0.6"/>
<line x1="425.12" y1="311.09" x2="426.32" y2="311.09" stroke="#b0b0b0" stroke-width="0.6"/>
<line x1="425.12" y1="315.33" x2="426.32" y2="315.33" stroke="#b0b0b0" stroke-width="0.6"/>
<line x1="426.53" y1="311.62" x2="426.53" y2="315.86" stroke="#b0b0b0" stroke-width="0.6"/>
<line x1="425.93" y1="311.62" x2="427.13" y2="311.62" stroke="#b0b0b0" stroke-width="0.6"/>
<line x1="425.93" y1="315.86" x2="427.13" y2="315.86" stroke="#b0b0b0" stroke-width="0.6"/>
<line x1="427.33" y1="311.08" x2="427.33" y2="315.32" stroke="#b0b0b0" stroke-width="0.6"/>
<line x1="426.73" y1="311.08" x2="427.93" y2="311.08" stroke="#b0b0b0" stroke-width="0.6"/>
<line x1="426.73" y1="315.32" x2="427.93" y2="315.32" stroke="#b0b0b0" stroke-width="0.6"/>
<line x1="428.14" y1="311.28" x2="428.14" y2="315.52" stroke="#b0b0b0" stroke-width="0.6"/>
<line x1="427.54" y1="311.28" x2="428.74" y2="311.28" stroke="#b0b0b0" stroke-width="0.6"/>
<line x1="427.54" y1="315.52" x2="428.74" y2="315.52" stroke="#b0b0b0" stroke-width="0.6"/>
<line x1="428.94" y1="311.09" x2="428.94" y2="315.33" stroke="#b0b0b0" stroke-width="0.6"/>
<line x1="428.34" y1="311.09" x2="429.54" y2="311.09" stroke="#b0b0b0" stroke-width="0.6"/>
<line x1="428.34" y1="315.33" x2="429.54" y2="315.33" stroke="#b0b0b0" stroke-width="0.6"/>
<line x1="429.74" y1="310.59" x2="429.74" y2="314.83" stroke="#b0b0b0" stroke-width="0.6"/>
<line x1="429.14" y1="310.59" x2="430.34" y2="310.59" stroke="#b0b0b0" stroke-width="0.6"/>
<line x1="429.14" y1="314.83" x2="430.34" y2="314.83" stroke="#b0b0b0" stroke-width="0.6"/>
<line x1="430.55" y1="311.13" x2="430.55" y2="315.37" stroke="#b0b0b0" stroke-width="0.6"/>
<line x1="429.95" y1="311.13" x2="431.15" y2="311.13" stroke="#b0b0b0" stroke-width="0.6"/>
<line x1="429.95" y1="315.37" x2="431.15" y2="315.37" stroke="#b0b0b0" stroke-width="0.6"/>
<line x1="431.35" y1="311.53" x2="431.35" y2="315.77" stroke="#b0b0b0" stroke-width="0.6"/>
<line x1="430.75" y1="311.53" x2="431.95" y2="311.53" stroke="#b0b0b0" stroke-width="0.6"/>
<line x1="430.75" y1="315.77" x2="431.95" y2="315.77" stroke="#b0b0b0" stroke-width="0.6"/>
<line x1="432.16" y1="311.48" x2="432.16" y2="315.72" stroke="#b0b0b0" stroke-width="0.6"/>
<line x1="431.56" y1="311.48" x2="432.76" y2="311.48" stroke="#b0b0b0" stroke-width="0.6"/>
<line x1="431.56" y1="315.72" x2="432.76" y2="315.72" stroke="#b0b0b0" stroke-width="0.6"/>
<line x1="432.96" y1="311.51" x2="432.96" y2="315.75" stroke="#b0b0b0" stroke-width="0.6"/>
<line x1="432.36" y1="311.51" x2="433.56" y2="311.51" stroke="#b0b0b0" stroke-width="0.6"/>
<line x1="432.36" y1="315.75" x2="433.56" y2="315.75" stroke="#b0b0b0" stroke-width="0.6"/>
<line x1="433.76" y1="312.62" x2="433.76" y2="316.86" stroke="#b0b0b0" stroke-width="0.6"/>
<line x1="433.16" y1="312.62" x2="434.36" y2="312.62" stroke="#b0b0b0" stroke-width="0.6"/>
<line x1="433.16" y1="316.86" x2="434.36" y2="316.86" stroke="#b0b0b0" stroke-width="0.6"/>
<line x1="434.57" y1="311.39" x2="434.57" y2="315.63" stroke="#b0b0b0" stroke-width="0.6"/>
<line x1="433.97" y1="311.39" x2="435.17" y2="311.39" stroke="#b0b0b0" stroke-width="0.6"/>
<line x1="433.97" y1="315.63" x2="435.17" y2="315.63" stroke="#b0b0b0" stroke-width="0.6"/>
<line x1="435.37" y1="311.7" x2="435.37" y2="315.94" stroke="#b0b0b0" stroke-width="0.6"/>
<line x1="434.77" y1="311.7" x2="435.97" y2="311.7" stroke="#b0b0b0" stroke-width="0.6"/>
<line x1="434.77" y1="315.94" x2="435.97" y2="315.94" stroke="#b0b0b0" stroke-width="0.6"/>
<line x1="436.18" y1="311.67" x2="436.18" y2="315.91" stroke="#b0b0b0" stroke-width="0.6"/>
<line x1="435.58" y1="311.67" x2="436.78" y2="311.67" stroke="#b0b0b0" stroke-width="0.6"/>
<line x1="435.58" y1="315.91" x2="436.78" y2="315.91" stroke="#b0b0b0" stroke-width="0.6"/>
<line x1="436.98" y1="311.91" x2="436.98" y2="316.15" stroke="#b0b0b0" stroke-width="0.6"/>
<line x1="436.38" y1="311.91" x2="437.58" y2="311.91" stroke="#b0b0b0" stroke-width="0.6"/>
<line x1="436.38" y1="316.15" x2="437.58" y2="316.15" stroke="#b0b0b0" stroke-width="0.6"/>
<line x1="437.78" y1="312.66" x2="437.78" y2="316.9" stroke="#b0b0b0" stroke-width="0.6"/>
<line x1="437.18" y1="312.66" x2="438.38" y2="312.66" stroke="#b0b0b0" stroke-width="0.6"/>
<line x1="437.18" y1="316.9" x2="438.38" y2="316.9" stroke="#b0b0b0" stroke-width="0.6"/>
<line x1="438.59" y1="312.76" x2="438.59" y2="317" stroke="#b0b0b0" stroke-width="0.6"/>
<line x1="437.99" y1="312.76" x2="439.19" y2="312.76" stroke="#b0b0b0" stroke-width="0.6"/>
<line x1="437.99" y1="317" x2="439.19" y2="317" stroke="#b0b0b0" stroke-width="0.6"/>
<line x1="439.39" y1="313.33" x2="439.39" y2="317.57" stroke="#b0b0b0" stroke-width="0.6"/>
<line x1="438.79" y1="313.33" x2="439.99" y2="313.33" stroke="#b0b0b0" stroke-width="0.6"/>
<line x1="438.79" y1="317.57" x2="439.99" y2="317.57" stroke="#b0b0b0" stroke-width="0.6"/>
<line x1="440.2" y1="312.6" x2="440.2" y2="316.84" stroke="#b0b0b0" stroke-width="0.6"/>
<line x1="439.6" y1="312.6" x2="440.8" y2="312.6" stroke="#b0b0b0" stroke-width="0.6"/>
<line x1="439.6" y1="316.84" x2="440.8" y2="316.84" stroke="#b0b0b0" stroke-width="0.6"/>
<line x1="441" y1="313.61" x2="441" y2="317.85" stroke="#b0b0b0" stroke-width="0.6"/>
<line x1="440.4" y1="313.61" x2="441.6" y2="313.61" stroke="#b0b0b0" stroke-width="0.6"/>
<line x1="440.4" y1="317.85" x2="441.6" y2="317.85" stroke="#b0b0b0" stroke-width="0.6"/>
<line x1="441.8" y1="313.71" x2="441.8" y2="317.95" stroke="#b0b0b0" stroke-width="0.6"/>
<line x1="441.2" y1="313.71" x2="442.4" y2="313.71" stroke="#b0b0b0" stroke-width="0.6"/>
<line x1="441.2" y1="317.95" x2="442.4" y2="317.95" stroke="#b0b0b0" stroke-width="0.6"/>
<line x1="442.61" y1="313.59" x2="442.61" y2="317.83" stroke="#b0b0b0" stroke-width="0.6"/>
<line x1="442.01" y1="313.59" x2="443.21" y2="313.59" stroke="#b0b0b0" stroke-width="0.6"/>
<line x1="442.01" y1="317.83" x2="443.21" y2="317.83" stroke="#b0b0b0" stroke-width="0.6"/>
<line x1="443.41" y1="313.77" x2="443.41" y2="318.01" stroke="#b0b0b0" stroke-width="0.6"/>
<line x1="442.81" y1="313.77" x2="444.01" y2="313.77" stroke="#b0b0b0" stroke-width="0.6"/>
<line x1="442.81" y1="318.01" x2="444.01" y2="318.01" stroke="#b0b0b0" stroke-width="0.6"/>
<line x1="444.22" y1="313.59" x2="444.22" y2="317.83" stroke="#b0b0b0" stroke-width="0.6"/>
<line x1="443.62" y1="313.59" x2="444.82" y2="313.59" stroke="#b0b0b0" stroke-width="0.6"/>
<line x1="443.62" y1="317.83" x2="444.82" y2="317.83" stroke="#b0b0b0" stroke-width="0.6"/>
<line x1="445.02" y1="314.16" x2="445.02" y2="318.4" stroke="#b0b0b0" stroke-width="0.6"/>
<line x1="444.42" y1="314.16" x2="445.62" y2="314.16" stroke="#b0b0b0" stroke-width="0.6"/>
<line x1="444.42" y1="318.4" x2="445.62" y2="318.4" stroke="#b0b0b0" stroke-width="0.6"/>
<line x1="445.82" y1="314.35" x2="445.82" y2="318.59" stroke="#b0b0b0" stroke-width="0.6"/>
<line x1="445.22" y1="314.35" x2="446.42" y2="314.35" stroke="#b0b0b0" stroke-width="0.6"/>
<line x1="445.22" y1="318.59" x2="446.42" y2="318.59" stroke="#b0b0b0" stroke-width="0.6"/>
<line x1="446.63" y1="314.21" x2="446.63" y2="318.45" stroke="#b0b0b0" stroke-width="0.6"/>
<line x1="446.03" y1="314.21" x2="447.23" y2="314.21" stroke="#b0b0b0" stroke-width="0.6"/>
<line x1="446.03" y1="318.45" x2="447.23" y2="318.45" stroke="#b0b0b0" stroke-width="0.6"/>
<line x1="447.43" y1="314.4" x2="447.43" y2="318.64" stroke="#b0b0b0" stroke-width="0.6"/>
<line x1="446.83" y1="314.4" x2="448.03" y2="314.4" stroke="#b0b0b0" stroke-width="0.6"/>
<line x1="446.83" y1="318.64" x2="448.03" y2="318.64" stroke="#b0b0b0" stroke-width="0.6"/>
<line x1="448.24" y1="314.09" x2="448.24" y2="318.33" stroke="#b0b0b0" stroke-width="0.6"/>
<line x1="447.64" y1="314.09" x2="448.84" y2="314.09" stroke="#b0b0b0" stroke-width="0.6"/>
<line x1="447.64" y1="318.33" x2="448.84" y2="318.33" stroke="#b0b0b0" stroke-width="0.6"/>
<line x1="449.04" y1="314.73" x2="449.04" y2="318.97" stroke="#b0b0b0" stroke-width="0.6"/>
<line x1="448.44" y1="314.73" x2="449.64" y2="314.73" stroke="#b0b0b0" stroke-width="0.6"/>
<line x1="448.44" y1="318.97" x2="449.64" y2="318.97" stroke="#b0b0b0" stroke-width="0.6"/>
<line x1="449.84" y1="313.49" x2="449.84" y2="317.73" stroke="#b0b0b0" stroke-width="0.6"/>
<line x1="449.24" y1="313.49" x2="450.44" y2="313.49" stroke="#b0b0b0" stroke-width="0.6"/>
<line x1="449.24" y1="317.73" x2="450.44" y2="317.73" stroke="#b0b0b0" stroke-width="0.6"/>
<line x1="450.65" y1="314.01" x2="450.65" y2="318.25" stroke="#b0b0b0" stroke-width="0.6"/>
<line x1="450.05" y1="314.01" x2="451.25" y2="314.01" stroke="#b0b0b0" stroke-width="0.6"/>
<line x1="450.05" y1="318.25" x2="451.25" y2="318.25" stroke="#b0b0b0" stroke-width="0.6"/>
<line x1="451.45" y1="314.85" x2="451.45" y2="319.09" stroke="#b0b0b0" stroke-width="0.6"/>
<line x1="450.85" y1="314.85" x2="452.05" y2="314.85" stroke="#b0b0b0" stroke-width="0.6"/>
<line x1="450.85" y1="319.09" x2="452.05" y2="319.09" stroke="#b0b0b0" stroke-width="0.6"/>
<line x1="452.26" y1="314.79" x2="452.26" y2="319.03" stroke="#b0b0b0" stroke-width="0.6"/>
<line x1="451.66" y1="314.79" x2="452.86" y2="314.79" stroke="#b0b0b0" stroke-width="0.6"/>
<line x1="451.66" y1="319.03" x2="452.86" y2="319.03" stroke="#b0b0b0" stroke-width="0.6"/>
<line x1="453.06" y1="312.63" x2="453.06" y2="321.11" stroke="#b0b0b0" stroke-width="0.6"/>
<line x1="452.46" y1="312.63" x2="453.66" y2="312.63" stroke="#b0b0b0" stroke-width="0.6"/>
<line x1="452.46" y1="321.11" x2="453.66" y2="321.11" stroke="#b0b0b0" stroke-width="0.6"/>
<line x1="453.86" y1="312.71" x2="453.86" y2="321.19" stroke="#b0b0b0" stroke-width="0.6"/>
<line x1="453.26" y1="312.71" x2="454.46" y2="312.71" stroke="#b0b0b0" stroke-width="0.6"/>
<line x1="453.26" y1="321.19" x2="454.46" y2="321.19" stroke="#b0b0b0" stroke-width="0.6"/>
<line x1="454.67" y1="313.21" x2="454.67" y2="321.69" stroke="#b0b0b0" stroke-width="0.6"/>
<line x1="454.07" y1="313.21" x2="455.27" y2="313.21" stroke="#b0b0b0" stroke-width="0.6"/>
<line x1="454.07" y1="321.69" x2="455.27" y2="321.69" stroke="#b0b0b0" stroke-width="0.6"/>
<line x1="455.47" y1="312.17" x2="455.47" y2="320.65" stroke="#b0b0b0" stroke-width="0.6"/>
<line x1="454.87" y1="312.17" x2="456.07" y2="312.17" stroke="#b0b0b0" stroke-width="0.6"/>
<line x1="454.87" y1="320.65" x2="456.07" y2="320.65" stroke="#b0b0b0" stroke-width="0.6"/>
<line x1="456.28" y1="312.06" x2="456.28" y2="320.54" stroke="#b0b0b0" stroke-width="0.6"/>
<line x1="455.68" y1="312.06" x2="456.88" y2="312.06" stroke="#b0b0b0" stroke-width="0.6"/>
<line x1="455.68" y1="320.54" x2="456.88" y2="320.54" stroke="#b0b0b0" stroke-width="0.6"/>
<line x1="457.08" y1="313.01" x2="457.08" y2="321.49" stroke="#b0b0b0" stroke-width="0.6"/>
<line x1="456.48" y1="313.01" x2="457.68" y2="313.01" stroke="#b0b0b0" stroke-width="0.6"/>
<line x1="456.48" y1="321.49" x2="457.68" y2="321.49" stroke="#b0b0b0" stroke-width="0.6"/>
<line x1="457.88" y1="313.09" x2="457.88" y2="321.57" stroke="#b0b0b0" stroke-width="0.6"/>
<line x1="457.28" y1="313.09" x2="458.48" y2="313.09" stroke="#b0b0b0" stroke-width="0.6"/>
<line x1="457.28" y1="321.57" x2="458.48" y2="321.57" stroke="#b0b0b0" stroke-width="0.6"/>
<line x1="458.69" y1="313.84" x2="458.69" y2="322.32" stroke="#b0b0b0" stroke-width="0.6"/>
<line x1="458.09" y1="313.84" x2="459.29" y2="313.84" stroke="#b0b0b0" stroke-width="0.6"/>
<line x1="458.09" y1="322.32" x2="459.29" y2="322.32" stroke="#b0b0b0" stroke-width="0.6"/>
<polyline points="341.3,310.28 342.11,310.56 342.91,309.76 343.72,310.68 344.52,309.94 345.32,310.21 346.13,298.78 346.93,291.44 347.74,289.8 348.54,286.79 349.34,286.04 350.15,284.68 350.95,283.71 351.76,282.63 352.56,283.3 353.36,282.88 354.17,281.97 354.97,282.13 355.78,283.38 356.58,285.25 357.38,285.92 358.19,288.99 358.99,289.29 359.8,291.52 360.6,293.08 361.4,294.07 362.21,294.72 363.01,294.87 363.82,296.83 364.62,297.15 365.42,297.64 366.23,298.65 367.03,298.95 367.84,300.31 368.64,300.9 369.44,301.03 370.25,300.65 371.05,301.42 371.86,301.97 372.66,301.91 373.46,302.36 374.27,302.85 375.07,302.3 375.88,302.69 376.68,303.65 377.48,303.36 378.29,303.68 379.09,303.36 379.9,303.83 380.7,304.77 381.5,303.86 382.31,305.41 383.11,305.12 383.92,304.77 384.72,305.92 385.52,305.57 386.33,306.47 387.13,305.65 387.94,305.68 388.74,306.17 389.54,305.85 390.35,306.9 391.15,306.46 391.96,306.78 392.76,306.96 393.56,307.31 394.37,306.86 395.17,306.85 395.98,307.76 396.78,307.62 397.58,308.74 398.39,307.88 399.19,308.12 400,307.73 400.8,308.16 401.6,309.18 402.41,309.17 403.21,308.88 404.02,310.07 404.82,309.53 405.62,310.13 406.43,310.34 407.23,310.57 408.04,309.57 408.84,310.72 409.64,310.67 410.45,310.57 411.25,309.94 412.06,311.33 412.86,310.88 413.66,310.85 414.47,310.45 415.27,310.68 416.08,310.75 416.88,311.81 417.68,311.72 418.49,311.95 419.29,311.24 420.1,311.26 420.9,312.68 421.7,312.75 422.51,312.78 423.31,312.9 424.12,312.62 424.92,312.57 425.72,313.21 426.53,313.74 427.33,313.2 428.14,313.4 428.94,313.21 429.74,312.71 430.55,313.25 431.35,313.65 432.16,313.6 432.96,313.63 433.76,314.74 434.57,313.51 435.37,313.82 436.18,313.79 436.98,314.03 437.78,314.78 438.59,314.88 439.39,315.45 440.2,314.72 441,315.73 441.8,315.83 442.61,315.71 443.41,315.89 444.22,315.71 445.02,316.28 445.82,316.47 446.63,316.33 447.43,316.52 448.24,316.21 449.04,316.85 449.84,315.61 450.65,316.13 451.45,316.97 452.26,316.91 453.06,316.87 453.86,316.95 454.67,317.45 455.47,316.41 456.28,316.3 457.08,317.25 457.88,317.33 458.69,318.08" fill="none" stroke="#999" stroke-width="0.9" stroke-linejoin="round"/>
<line x1="340.7" y1="310.43" x2="341.9" y2="310.43" stroke="#444" stroke-width="0.8"/>
<line x1="341.3" y1="309.83" x2="341.3" y2="311.03" stroke="#444" stroke-width="0.8"/>
<line x1="341.51" y1="309.26" x2="342.71" y2="309.26" stroke="#444" stroke-width="0.8"/>
<line x1="342.11" y1="308.66" x2="342.11" y2="309.86" stroke="#444" stroke-width="0.8"/>
<line x1="342.31" y1="310.59" x2="343.51" y2="310.59" stroke="#444" stroke-width="0.8"/>
<line x1="342.91" y1="309.99" x2="342.91" y2="311.19" stroke="#444" stroke-width="0.8"/>
<line x1="343.12" y1="309.67" x2="344.32" y2="309.67" stroke="#444" stroke-width="0.8"/>
<line x1="343.72" y1="309.07" x2="343.72" y2="310.27" stroke="#444" stroke-width="0.8"/>
<line x1="343.92" y1="310.66" x2="345.12" y2="310.66" stroke="#444" stroke-width="0.8"/>
<line x1="344.52" y1="310.06" x2="344.52" y2="311.26" stroke="#444" stroke-width="0.8"/>
<line x1="344.72" y1="310.4" x2="345.92" y2="310.4" stroke="#444" stroke-width="0.8"/>
<line x1="345.32" y1="309.8" x2="345.32" y2="311" stroke="#444" stroke-width="0.8"/>
<line x1="346.13" y1="286.95" x2="346.13" y2="299.67" stroke="#333" stroke-width="0.6"/>
<line x1="345.43" y1="286.95" x2="346.83" y2="286.95" stroke="#333" stroke-width="0.6"/>
<line x1="345.43" y1="299.67" x2="346.83" y2="299.67" stroke="#333" stroke-width="0.6"/>
<line x1="345.53" y1="293.31" x2="346.73" y2="293.31" stroke="#444" stroke-width="0.8"/>
<line x1="346.13" y1="292.71" x2="346.13" y2="293.91" stroke="#444" stroke-width="0.8"/>
<line x1="346.93" y1="280.25" x2="346.93" y2="292.97" stroke="#333" stroke-width="0.6"/>
<line x1="346.23" y1="280.25" x2="347.63" y2="280.25" stroke="#333" stroke-width="0.6"/>
<line x1="346.23" y1="292.97" x2="347.63" y2="292.97" stroke="#333" stroke-width="0.6"/>
<line x1="346.33" y1="286.61" x2="347.53" y2="286.61" stroke="#444" stroke-width="0.8"/>
<line x1="346.93" y1="286.01" x2="346.93" y2="287.21" stroke="#444" stroke-width="0.8"/>
<line x1="347.74" y1="276.65" x2="347.74" y2="289.37" stroke="#333" stroke-width="0.6"/>
<line x1="347.04" y1="276.65" x2="348.44" y2="276.65" stroke="#333" stroke-width="0.6"/>
<line x1="347.04" y1="289.37" x2="348.44" y2="289.37" stroke="#333" stroke-width="0.6"/>
<line x1="347.14" y1="283.01" x2="348.34" y2="283.01" stroke="#444" stroke-width="0.8"/>
<line x1="347.74" y1="282.41" x2="347.74" y2="283.61" stroke="#444" stroke-width="0.8"/>
<line x1="348.54" y1="274.02" x2="348.54" y2="286.74" stroke="#333" stroke-width="0.6"/>
<line x1="347.84" y1="274.02" x2="349.24" y2="274.02" stroke="#333" stroke-width="0.6"/>
<line x1="347.84" y1="286.74" x2="349.24" y2="286.74" stroke="#333" stroke-width="0.6"/>
<line x1="347.94" y1="280.38" x2="349.14" y2="280.38" stroke="#444" stroke-width="0.8"/>
<line x1="348.54" y1="279.78" x2="348.54" y2="280.98" stroke="#444" stroke-width="0.8"/>
<line x1="349.34" y1="272.44" x2="349.34" y2="285.16" stroke="#333" stroke-width="0.6"/>
<line x1="348.64" y1="272.44" x2="350.04" y2="272.44" stroke="#333" stroke-width="0.6"/>
<line x1="348.64" y1="285.16" x2="350.04" y2="285.16" stroke="#333" stroke-width="0.6"/>
<line x1="348.74" y1="278.8" x2="349.94" y2="278.8" stroke="#444" stroke-width="0.8"/>
<line x1="349.34" y1="278.2" x2="349.34" y2="279.4" stroke="#444" stroke-width="0.8"/>
<line x1="350.15" y1="270.79" x2="350.15" y2="283.51" stroke="#333" stroke-width="0.6"/>
<line x1="349.45" y1="270.79" x2="350.85" y2="270.79" stroke="#333" stroke-width="0.6"/>
<line x1="349.45" y1="283.51" x2="350.85" y2="283.51" stroke="#333" stroke-width="0.6"/>
<line x1="349.55" y1="277.15" x2="350.75" y2="277.15" stroke="#444" stroke-width="0.8"/>
<line x1="350.15" y1="276.55" x2="350.15" y2="277.75" stroke="#444" stroke-width="0.8"/>
<line x1="350.95" y1="270.56" x2="350.95" y2="283.28" stroke="#333" stroke-width="0.6"/>
<line x1="350.25" y1="270.56" x2="351.65" y2="270.56" stroke="#333" stroke-width="0.6"/>
<line x1="350.25" y1="283.28" x2="351.65" y2="283.28" stroke="#333" stroke-width="0.6"/>
<line x1="350.35" y1="276.92" x2="351.55" y2="276.92" stroke="#444" stroke-width="0.8"/>
<line x1="350.95" y1="276.32" x2="350.95" y2="277.52" stroke="#444" stroke-width="0.8"/>
<line x1="351.76" y1="268.84" x2="351.76" y2="281.56" stroke="#333" stroke-width="0.6"/>
<line x1="351.06" y1="268.84" x2="352.46" y2="268.84" stroke="#333" stroke-width="0.6"/>
<line x1="351.06" y1="281.56" x2="352.46" y2="281.56" stroke="#333" stroke-width="0.6"/>
<line x1="351.16" y1="275.2" x2="352.36" y2="275.2" stroke="#444" stroke-width="0.8"/>
<line x1="351.76" y1="274.6" x2="351.76" y2="275.8" stroke="#444" stroke-width="0.8"/>
<line x1="352.56" y1="269.31" x2="352.56" y2="282.03" stroke="#333" stroke-width="0.6"/>
<line x1="351.86" y1="269.31" x2="353.26" y2="269.31" stroke="#333" stroke-width="0.6"/>
<line x1="351.86" y1="282.03" x2="353.26" y2="282.03" stroke="#333" stroke-width="0.6"/>
<line x1="351.96" y1="275.67" x2="353.16" y2="275.67" stroke="#444" stroke-width="0.8"/>
<line x1="352.56" y1="275.07" x2="352.56" y2="276.27" stroke="#444" stroke-width="0.8"/>
<line x1="353.36" y1="268.69" x2="353.36" y2="281.41" stroke="#333" stroke-width="0.6"/>
<line x1="352.66" y1="268.69" x2="354.06" y2="268.69" stroke="#333" stroke-width="0.6"/>
<line x1="352.66" y1="281.41" x2="354.06" y2="281.41" stroke="#333" stroke-width="0.6"/>
<line x1="352.76" y1="275.05" x2="353.96" y2="275.05" stroke="#444" stroke-width="0.8"/>
<line x1="353.36" y1="274.45" x2="353.36" y2="275.65" stroke="#444" stroke-width="0.8"/>
<line x1="354.17" y1="268.63" x2="354.17" y2="281.35" stroke="#333" stroke-width="0.6"/>
<line x1="353.47" y1="268.63" x2="354.87" y2="268.63" stroke="#333" stroke-width="0.6"/>
<line x1="353.47" y1="281.35" x2="354.87" y2="281.35" stroke="#333" stroke-width="0.6"/>
<line x1="353.57" y1="274.99" x2="354.77" y2="274.99" stroke="#444" stroke-width="0.8"/>
<line x1="354.17" y1="274.39" x2="354.17" y2="275.59" stroke="#444" stroke-width="0.8"/>
<line x1="354.97" y1="269.16" x2="354.97" y2="281.88" stroke="#333" stroke-width="0.6"/>
<line x1="354.27" y1="269.16" x2="355.67" y2="269.16" stroke="#333" stroke-width="0.6"/>
<line x1="354.27" y1="281.88" x2="355.67" y2="281.88" stroke="#333" stroke-width="0.6"/>
<line x1="354.37" y1="275.52" x2="355.57" y2="275.52" stroke="#444" stroke-width="0.8"/>
<line x1="354.97" y1="274.92" x2="354.97" y2="276.12" stroke="#444" stroke-width="0.8"/>
<line x1="355.78" y1="269.87" x2="355.78" y2="282.59" stroke="#333" stroke-width="0.6"/>
<line x1="355.08" y1="269.87" x2="356.48" y2="269.87" stroke="#333" stroke-width="0.6"/>
<line x1="355.08" y1="282.59" x2="356.48" y2="282.59" stroke="#333" stroke-width="0.6"/>
<line x1="355.18" y1="276.23" x2="356.38" y2="276.23" stroke="#444" stroke-width="0.8"/>
<line x1="355.78" y1="275.63" x2="355.78" y2="276.83" stroke="#444" stroke-width="0.8"/>
<line x1="356.58" y1="271.47" x2="356.58" y2="284.19" stroke="#333" stroke-width="0.6"/>
<line x1="355.88" y1="271.47" x2="357.28" y2="271.47" stroke="#333" stroke-width="0.6"/>
<line x1="355.88" y1="284.19" x2="357.28" y2="284.19" stroke="#333" stroke-width="0.6"/>
<line x1="355.98" y1="277.83" x2="357.18" y2="277.83" stroke="#444" stroke-width="0.8"/>
<line x1="356.58" y1="277.23" x2="356.58" y2="278.43" stroke="#444" stroke-width="0.8"/>
<line x1="357.38" y1="274.68" x2="357.38" y2="287.4" stroke="#333" stroke-width="0.6"/>
<line x1="356.68" y1="274.68" x2="358.08" y2="274.68" stroke="#333" stroke-width="0.6"/>
<line x1="356.68" y1="287.4" x2="358.08" y2="287.4" stroke="#333" stroke-width="0.6"/>
<line x1="356.78" y1="281.04" x2="357.98" y2="281.04" stroke="#444" stroke-width="0.8"/>
<line x1="357.38" y1="280.44" x2="357.38" y2="281.64" stroke="#444" stroke-width="0.8"/>
<line x1="358.19" y1="277.36" x2="358.19" y2="290.08" stroke="#333" stroke-width="0.6"/>
<line x1="357.49" y1="277.36" x2="358.89" y2="277.36" stroke="#333" stroke-width="0.6"/>
<line x1="357.49" y1="290.08" x2="358.89" y2="290.08" stroke="#333" stroke-width="0.6"/>
<line x1="357.59" y1="283.72" x2="358.79" y2="283.72" stroke="#444" stroke-width="0.8"/>
<line x1="358.19" y1="283.12" x2="358.19" y2="284.32" stroke="#444" stroke-width="0.8"/>
<line x1="358.99" y1="279.38" x2="358.99" y2="292.1" stroke="#333" stroke-width="0.6"/>
<line x1="358.29" y1="279.38" x2="359.69" y2="279.38" stroke="#333" stroke-width="0.6"/>
<line x1="358.29" y1="292.1" x2="359.69" y2="292.1" stroke="#333" stroke-width="0.6"/>
<line x1="358.39" y1="285.74" x2="359.59" y2="285.74" stroke="#444" stroke-width="0.8"/>
<line x1="358.99" y1="285.14" x2="358.99" y2="286.34" stroke="#444" stroke-width="0.8"/>
<line x1="359.8" y1="279.94" x2="359.8" y2="292.66" stroke="#333" stroke-width="0.6"/>
<line x1="359.1" y1="279.94" x2="360.5" y2="279.94" stroke="#333" stroke-width="0.6"/>
<line x1="359.1" y1="292.66" x2="360.5" y2="292.66" stroke="#333" stroke-width="0.6"/>
<line x1="359.2" y1="286.3" x2="360.4" y2="286.3" stroke="#444" stroke-width="0.8"/>
<line x1="359.8" y1="285.7" x2="359.8" y2="286.9" stroke="#444" stroke-width="0.8"/>
<line x1="360.6" y1="287.64" x2="360.6" y2="291.35" stroke="#333" stroke-width="0.6"/>
<line x1="359.9" y1="287.64" x2="361.3" y2="287.64" stroke="#333" stroke-width="0.6"/>
<line x1="359.9" y1="291.35" x2="361.3" y2="291.35" stroke="#333" stroke-width="0.6"/>
<line x1="360" y1="289.49" x2="361.2" y2="289.49" stroke="#444" stroke-width="0.8"/>
<line x1="360.6" y1="288.89" x2="360.6" y2="290.09" stroke="#444" stroke-width="0.8"/>
<line x1="361.4" y1="287.81" x2="361.4" y2="291.52" stroke="#333" stroke-width="0.6"/>
<line x1="360.7" y1="287.81" x2="362.1" y2="287.81" stroke="#333" stroke-width="0.6"/>
<line x1="360.7" y1="291.52" x2="362.1" y2="291.52" stroke="#333" stroke-width="0.6"/>
<line x1="360.8" y1="289.67" x2="362" y2="289.67" stroke="#444" stroke-width="0.8"/>
<line x1="361.4" y1="289.07" x2="361.4" y2="290.27" stroke="#444" stroke-width="0.8"/>
<line x1="362.21" y1="289.26" x2="362.21" y2="292.97" stroke="#333" stroke-width="0.6"/>
<line x1="361.51" y1="289.26" x2="362.91" y2="289.26" stroke="#333" stroke-width="0.6"/>
<line x1="361.51" y1="292.97" x2="362.91" y2="292.97" stroke="#333" stroke-width="0.6"/>
<line x1="361.61" y1="291.12" x2="362.81" y2="291.12" stroke="#444" stroke-width="0.8"/>
<line x1="362.21" y1="290.52" x2="362.21" y2="291.72" stroke="#444" stroke-width="0.8"/>
<line x1="363.01" y1="289.87" x2="363.01" y2="293.58" stroke="#333" stroke-width="0.6"/>
<line x1="362.31" y1="289.87" x2="363.71" y2="289.87" stroke="#333" stroke-width="0.6"/>
<line x1="362.31" y1="293.58" x2="363.71" y2="293.58" stroke="#333" stroke-width="0.6"/>
<line x1="362.41" y1="291.72" x2="363.61" y2="291.72" stroke="#444" stroke-width="0.8"/>
<line x1="363.01" y1="291.12" x2="363.01" y2="292.32" stroke="#444" stroke-width="0.8"/>
<line x1="363.82" y1="291.44" x2="363.82" y2="295.15" stroke="#333" stroke-width="0.6"/>
<line x1="363.12" y1="291.44" x2="364.52" y2="291.44" stroke="#333" stroke-width="0.6"/>
<line x1="363.12" y1="295.15" x2="364.52" y2="295.15" stroke="#333" stroke-width="0.6"/>
<line x1="363.22" y1="293.3" x2="364.42" y2="293.3" stroke="#444" stroke-width="0.8"/>
<line x1="363.82" y1="292.7" x2="363.82" y2="293.9" stroke="#444" stroke-width="0.8"/>
<line x1="364.62" y1="291.94" x2="364.62" y2="295.65" stroke="#333" stroke-width="0.6"/>
<line x1="363.92" y1="291.94" x2="365.32" y2="291.94" stroke="#333" stroke-width="0.6"/>
<line x1="363.92" y1="295.65" x2="365.32" y2="295.65" stroke="#333" stroke-width="0.6"/>
<line x1="364.02" y1="293.8" x2="365.22" y2="293.8" stroke="#444" stroke-width="0.8"/>
<line x1="364.62" y1="293.2" x2="364.62" y2="294.4" stroke="#444" stroke-width="0.8"/>
<line x1="365.42" y1="292.83" x2="365.42" y2="296.54" stroke="#333" stroke-width="0.6"/>
<line x1="364.72" y1="292.83" x2="366.12" y2="292.83" stroke="#333" stroke-width="0.6"/>
<line x1="364.72" y1="296.54" x2="366.12" y2="296.54" stroke="#333" stroke-width="0.6"/>
<line x1="364.82" y1="294.69" x2="366.02" y2="294.69" stroke="#444" stroke-width="0.8"/>
<line x1="365.42" y1="294.09" x2="365.42" y2="295.29" stroke="#444" stroke-width="0.8"/>
<line x1="366.23" y1="293.17" x2="366.23" y2="296.88" stroke="#333" stroke-width="0.6"/>
<line x1="365.53" y1="293.17" x2="366.93" y2="293.17" stroke="#333" stroke-width="0.6"/>
<line x1="365.53" y1="296.88" x2="366.93" y2="296.88" stroke="#333" stroke-width="0.6"/>
<line x1="365.63" y1="295.03" x2="366.83" y2="295.03" stroke="#444" stroke-width="0.8"/>
<line x1="366.23" y1="294.43" x2="366.23" y2="295.63" stroke="#444" stroke-width="0.8"/>
<line x1="367.03" y1="293.36" x2="367.03" y2="297.07" stroke="#333" stroke-width="0.6"/>
<line x1="366.33" y1="293.36" x2="367.73" y2="293.36" stroke="#333" stroke-width="0.6"/>
<line x1="366.33" y1="297.07" x2="367.73" y2="297.07" stroke="#333" stroke-width="0.6"/>
<line x1="366.43" y1="295.21" x2="367.63" y2="295.21" stroke="#444" stroke-width="0.8"/>
<line x1="367.03" y1="294.61" x2="367.03" y2="295.81" stroke="#444" stroke-width="0.8"/>
<line x1="367.84" y1="294.45" x2="367.84" y2="298.16" stroke="#333" stroke-width="0.6"/>
<line x1="367.14" y1="294.45" x2="368.54" y2="294.45" stroke="#333" stroke-width="0.6"/>
<line x1="367.14" y1="298.16" x2="368.54" y2="298.16" stroke="#333" stroke-width="0.6"/>
<line x1="367.24" y1="296.3" x2="368.44" y2="296.3" stroke="#444" stroke-width="0.8"/>
<line x1="367.84" y1="295.7" x2="367.84" y2="296.9" stroke="#444" stroke-width="0.8"/>
<line x1="368.64" y1="295.73" x2="368.64" y2="299.44" stroke="#333" stroke-width="0.6"/>
<line x1="367.94" y1="295.73" x2="369.34" y2="295.73" stroke="#333" stroke-width="0.6"/>
<line x1="367.94" y1="299.44" x2="369.34" y2="299.44" stroke="#333" stroke-width="0.6"/>
<line x1="368.04" y1="297.58" x2="369.24" y2="297.58" stroke="#444" stroke-width="0.8"/>
<line x1="368.64" y1="296.98" x2="368.64" y2="298.18" stroke="#444" stroke-width="0.8"/>
<line x1="369.44" y1="296.22" x2="369.44" y2="299.93" stroke="#333" stroke-width="0.6"/>
<line x1="368.74" y1="296.22" x2="370.14" y2="296.22" stroke="#333" stroke-width="0.6"/>
<line x1="368.74" y1="299.93" x2="370.14" y2="299.93" stroke="#333" stroke-width="0.6"/>
<line x1="368.84" y1="298.08" x2="370.04" y2="298.08" stroke="#444" stroke-width="0.8"/>
<line x1="369.44" y1="297.48" x2="369.44" y2="298.68" stroke="#444" stroke-width="0.8"/>
<line x1="370.25" y1="295.19" x2="370.25" y2="298.9" stroke="#333" stroke-width="0.6"/>
<line x1="369.55" y1="295.19" x2="370.95" y2="295.19" stroke="#333" stroke-width="0.6"/>
<line x1="369.55" y1="298.9" x2="370.95" y2="298.9" stroke="#333" stroke-width="0.6"/>
<line x1="369.65" y1="297.05" x2="370.85" y2="297.05" stroke="#444" stroke-width="0.8"/>
<line x1="370.25" y1="296.45" x2="370.25" y2="297.65" stroke="#444" stroke-width="0.8"/>
<line x1="371.05" y1="296.29" x2="371.05" y2="300" stroke="#333" stroke-width="0.6"/>
<line x1="370.35" y1="296.29" x2="371.75" y2="296.29" stroke="#333" stroke-width="0.6"/>
<line x1="370.35" y1="300" x2="371.75" y2="300" stroke="#333" stroke-width="0.6"/>
<line x1="370.45" y1="298.15" x2="371.65" y2="298.15" stroke="#444" stroke-width="0.8"/>
<line x1="371.05" y1="297.55" x2="371.05" y2="298.75" stroke="#444" stroke-width="0.8"/>
<line x1="371.86" y1="297.13" x2="371.86" y2="300.84" stroke="#333" stroke-width="0.6"/>
<line x1="371.16" y1="297.13" x2="372.56" y2="297.13" stroke="#333" stroke-width="0.6"/>
<line x1="371.16" y1="300.84" x2="372.56" y2="300.84" stroke="#333" stroke-width="0.6"/>
<line x1="371.26" y1="298.99" x2="372.46" y2="298.99" stroke="#444" stroke-width="0.8"/>
<line x1="371.86" y1="298.39" x2="371.86" y2="299.59" stroke="#444" stroke-width="0.8"/>
<line x1="372.66" y1="296.31" x2="372.66" y2="300.02" stroke="#333" stroke-width="0.6"/>
<line x1="371.96" y1="296.31" x2="373.36" y2="296.31" stroke="#333" stroke-width="0.6"/>
<line x1="371.96" y1="300.02" x2="373.36" y2="300.02" stroke="#333" stroke-width="0.6"/>
<line x1="372.06" y1="298.16" x2="373.26" y2="298.16" stroke="#444" stroke-width="0.8"/>
<line x1="372.66" y1="297.56" x2="372.66" y2="298.76" stroke="#444" stroke-width="0.8"/>
<line x1="373.46" y1="297.13" x2="373.46" y2="300.84" stroke="#333" stroke-width="0.6"/>
<line x1="372.76" y1="297.13" x2="374.16" y2="297.13" stroke="#333" stroke-width="0.6"/>
<line x1="372.76" y1="300.84" x2="374.16" y2="300.84" stroke="#333" stroke-width="0.6"/>
<line x1="372.86" y1="298.98" x2="374.06" y2="298.98" stroke="#444" stroke-width="0.8"/>
<line x1="373.46" y1="298.38" x2="373.46" y2="299.58" stroke="#444" stroke-width="0.8"/>
<line x1="374.27" y1="297.13" x2="374.27" y2="300.84" stroke="#333" stroke-width="0.6"/>
<line x1="373.57" y1="297.13" x2="374.97" y2="297.13" stroke="#333" stroke-width="0.6"/>
<line x1="373.57" y1="300.84" x2="374.97" y2="300.84" stroke="#333" stroke-width="0.6"/>
<line x1="373.67" y1="298.98" x2="374.87" y2="298.98" stroke="#444" stroke-width="0.8"/>
<line x1="374.27" y1="298.38" x2="374.27" y2="299.58" stroke="#444" stroke-width="0.8"/>
<line x1="375.07" y1="297.12" x2="375.07" y2="300.83" stroke="#333" stroke-width="0.6"/>
<line x1="374.37" y1="297.12" x2="375.77" y2="297.12" stroke="#333" stroke-width="0.6"/>
<line x1="374.37" y1="300.83" x2="375.77" y2="300.83" stroke="#333" stroke-width="0.6"/>
<line x1="374.47" y1="298.98" x2="375.67" y2="298.98" stroke="#444" stroke-width="0.8"/>
<line x1="375.07" y1="298.38" x2="375.07" y2="299.58" stroke="#444" stroke-width="0.8"/>
<line x1="375.88" y1="298.31" x2="375.88" y2="302.02" stroke="#333" stroke-width="0.6"/>
<line x1="375.18" y1="298.31" x2="376.58" y2="298.31" stroke="#333" stroke-width="0.6"/>
<line x1="375.18" y1="302.02" x2="376.58" y2="302.02" stroke="#333" stroke-width="0.6"/>
<line x1="375.28" y1="300.16" x2="376.48" y2="300.16" stroke="#444" stroke-width="0.8"/>
<line x1="375.88" y1="299.56" x2="375.88" y2="300.76" stroke="#444" stroke-width="0.8"/>
<line x1="376.68" y1="298.44" x2="376.68" y2="302.15" stroke="#333" stroke-width="0.6"/>
<line x1="375.98" y1="298.44" x2="377.38" y2="298.44" stroke="#333" stroke-width="0.6"/>
<line x1="375.98" y1="302.15" x2="377.38" y2="302.15" stroke="#333" stroke-width="0.6"/>
<line x1="376.08" y1="300.29" x2="377.28" y2="300.29" stroke="#444" stroke-width="0.8"/>
<line x1="376.68" y1="299.69" x2="376.68" y2="300.89" stroke="#444" stroke-width="0.8"/>
<line x1="377.48" y1="297.84" x2="377.48" y2="301.55" stroke="#333" stroke-width="0.6"/>
<line x1="376.78" y1="297.84" x2="378.18" y2="297.84" stroke="#333" stroke-width="0.6"/>
<line x1="376.78" y1="301.55" x2="378.18" y2="301.55" stroke="#333" stroke-width="0.6"/>
<line x1="376.88" y1="299.7" x2="378.08" y2="299.7" stroke="#444" stroke-width="0.8"/>
<line x1="377.48" y1="299.1" x2="377.48" y2="300.3" stroke="#444" stroke-width="0.8"/>
<line x1="378.29" y1="299.26" x2="378.29" y2="302.97" stroke="#333" stroke-width="0.6"/>
<line x1="377.59" y1="299.26" x2="378.99" y2="299.26" stroke="#333" stroke-width="0.6"/>
<line x1="377.59" y1="302.97" x2="378.99" y2="302.97" stroke="#333" stroke-width="0.6"/>
<line x1="377.69" y1="301.12" x2="378.89" y2="301.12" stroke="#444" stroke-width="0.8"/>
<line x1="378.29" y1="300.52" x2="378.29" y2="301.72" stroke="#444" stroke-width="0.8"/>
<line x1="379.09" y1="298.5" x2="379.09" y2="302.21" stroke="#333" stroke-width="0.6"/>
<line x1="378.39" y1="298.5" x2="379.79" y2="298.5" stroke="#333" stroke-width="0.6"/>
<line x1="378.39" y1="302.21" x2="379.79" y2="302.21" stroke="#333" stroke-width="0.6"/>
<line x1="378.49" y1="300.36" x2="379.69" y2="300.36" stroke="#444" stroke-width="0.8"/>
<line x1="379.09" y1="299.76" x2="379.09" y2="300.96" stroke="#444" stroke-width="0.8"/>
<line x1="379.9" y1="299.8" x2="379.9" y2="303.51" stroke="#333" stroke-width="0.6"/>
<line x1="379.2" y1="299.8" x2="380.6" y2="299.8" stroke="#333" stroke-width="0.6"/>
<line x1="379.2" y1="303.51" x2="380.6" y2="303.51" stroke="#333" stroke-width="0.6"/>
<line x1="379.3" y1="301.66" x2="380.5" y2="301.66" stroke="#444" stroke-width="0.8"/>
<line x1="379.9" y1="301.06" x2="379.9" y2="302.26" stroke="#444" stroke-width="0.8"/>
<line x1="380.7" y1="299.1" x2="380.7" y2="302.81" stroke="#333" stroke-width="0.6"/>
<line x1="380" y1="299.1" x2="381.4" y2="299.1" stroke="#333" stroke-width="0.6"/>
<line x1="380" y1="302.81" x2="381.4" y2="302.81" stroke="#333" stroke-width="0.6"/>
<line x1="380.1" y1="300.95" x2="381.3" y2="300.95" stroke="#444" stroke-width="0.8"/>
<line x1="380.7" y1="300.35" x2="380.7" y2="301.55" stroke="#444" stroke-width="0.8"/>
<line x1="381.5" y1="299.29" x2="381.5" y2="303" stroke="#333" stroke-width="0.6"/>
<line x1="380.8" y1="299.29" x2="382.2" y2="299.29" stroke="#333" stroke-width="0.6"/>
<line x1="380.8" y1="303" x2="382.2" y2="303" stroke="#333" stroke-width="0.6"/>
<line x1="380.9" y1="301.15" x2="382.1" y2="301.15" stroke="#444" stroke-width="0.8"/>
<line x1="381.5" y1="300.55" x2="381.5" y2="301.75" stroke="#444" stroke-width="0.8"/>
<line x1="382.31" y1="299.11" x2="382.31" y2="302.82" stroke="#333" stroke-width="0.6"/>
<line x1="381.61" y1="299.11" x2="383.01" y2="299.11" stroke="#333" stroke-width="0.6"/>
<line x1="381.61" y1="302.82" x2="383.01" y2="302.82" stroke="#333" stroke-width="0.6"/>
<line x1="381.71" y1="300.96" x2="382.91" y2="300.96" stroke="#444" stroke-width="0.8"/>
<line x1="382.31" y1="300.36" x2="382.31" y2="301.56" stroke="#444" stroke-width="0.8"/>
<line x1="383.11" y1="299.49" x2="383.11" y2="303.2" stroke="#333" stroke-width="0.6"/>
<line x1="382.41" y1="299.49" x2="383.81" y2="299.49" stroke="#333" stroke-width="0.6"/>
<line x1="382.41" y1="303.2" x2="383.81" y2="303.2" stroke="#333" stroke-width="0.6"/>
<line x1="382.51" y1="301.34" x2="383.71" y2="301.34" stroke="#444" stroke-width="0.8"/>
<line x1="383.11" y1="300.74" x2="383.11" y2="301.94" stroke="#444" stroke-width="0.8"/>
<line x1="383.92" y1="300.24" x2="383.92" y2="303.95" stroke="#333" stroke-width="0.6"/>
<line x1="383.22" y1="300.24" x2="384.62" y2="300.24" stroke="#333" stroke-width="0.6"/>
<line x1="383.22" y1="303.95" x2="384.62" y2="303.95" stroke="#333" stroke-width="0.6"/>
<line x1="383.32" y1="302.1" x2="384.52" y2="302.1" stroke="#444" stroke-width="0.8"/>
<line x1="383.92" y1="301.5" x2="383.92" y2="302.7" stroke="#444" stroke-width="0.8"/>
<line x1="384.72" y1="300.94" x2="384.72" y2="304.65" stroke="#333" stroke-width="0.6"/>
<line x1="384.02" y1="300.94" x2="385.42" y2="300.94" stroke="#333" stroke-width="0.6"/>
<line x1="384.02" y1="304.65" x2="385.42" y2="304.65" stroke="#333" stroke-width="0.6"/>
<line x1="384.12" y1="302.8" x2="385.32" y2="302.8" stroke="#444" stroke-width="0.8"/>
<line x1="384.72" y1="302.2" x2="384.72" y2="303.4" stroke="#444" stroke-width="0.8"/>
<line x1="385.52" y1="301.23" x2="385.52" y2="304.94" stroke="#333" stroke-width="0.6"/>
<line x1="384.82" y1="301.23" x2="386.22" y2="301.23" stroke="#333" stroke-width="0.6"/>
<line x1="384.82" y1="304.94" x2="386.22" y2="304.94" stroke="#333" stroke-width="0.6"/>
<line x1="384.92" y1="303.08" x2="386.12" y2="303.08" stroke="#444" stroke-width="0.8"/>
<line x1="385.52" y1="302.48" x2="385.52" y2="303.68" stroke="#444" stroke-width="0.8"/>
<line x1="386.33" y1="300.84" x2="386.33" y2="304.55" stroke="#333" stroke-width="0.6"/>
<line x1="385.63" y1="300.84" x2="387.03" y2="300.84" stroke="#333" stroke-width="0.6"/>
<line x1="385.63" y1="304.55" x2="387.03" y2="304.55" stroke="#333" stroke-width="0.6"/>
<line x1="385.73" y1="302.69" x2="386.93" y2="302.69" stroke="#444" stroke-width="0.8"/>
<line x1="386.33" y1="302.09" x2="386.33" y2="303.29" stroke="#444" stroke-width="0.8"/>
<line x1="387.13" y1="301.08" x2="387.13" y2="304.79" stroke="#333" stroke-width="0.6"/>
<line x1="386.43" y1="301.08" x2="387.83" y2="301.08" stroke="#333" stroke-width="0.6"/>
<line x1="386.43" y1="304.79" x2="387.83" y2="304.79" stroke="#333" stroke-width="0.6"/>
<line x1="386.53" y1="302.94" x2="387.73" y2="302.94" stroke="#444" stroke-width="0.8"/>
<line x1="387.13" y1="302.34" x2="387.13" y2="303.54" stroke="#444" stroke-width="0.8"/>
<line x1="387.94" y1="301.99" x2="387.94" y2="305.7" stroke="#333" stroke-width="0.6"/>
<line x1="387.24" y1="301.99" x2="388.64" y2="301.99" stroke="#333" stroke-width="0.6"/>
<line x1="387.24" y1="305.7" x2="388.64" y2="305.7" stroke="#333" stroke-width="0.6"/>
<line x1="387.34" y1="303.84" x2="388.54" y2="303.84" stroke="#444" stroke-width="0.8"/>
<line x1="387.94" y1="303.24" x2="387.94" y2="304.44" stroke="#444" stroke-width="0.8"/>
<line x1="388.74" y1="300.88" x2="388.74" y2="304.59" stroke="#333" stroke-width="0.6"/>
<line x1="388.04" y1="300.88" x2="389.44" y2="300.88" stroke="#333" stroke-width="0.6"/>
<line x1="388.04" y1="304.59" x2="389.44" y2="304.59" stroke="#333" stroke-width="0.6"/>
<line x1="388.14" y1="302.73" x2="389.34" y2="302.73" stroke="#444" stroke-width="0.8"/>
<line x1="388.74" y1="302.13" x2="388.74" y2="303.33" stroke="#444" stroke-width="0.8"/>
<line x1="389.54" y1="301.64" x2="389.54" y2="305.35" stroke="#333" stroke-width="0.6"/>
<line x1="388.84" y1="301.64" x2="390.24" y2="301.64" stroke="#333" stroke-width="0.6"/>
<line x1="388.84" y1="305.35" x2="390.24" y2="305.35" stroke="#333" stroke-width="0.6"/>
<line x1="388.94" y1="303.5" x2="390.14" y2="303.5" stroke="#444" stroke-width="0.8"/>
<line x1="389.54" y1="302.9" x2="389.54" y2="304.1" stroke="#444" stroke-width="0.8"/>
<line x1="390.35" y1="301.46" x2="390.35" y2="305.17" stroke="#333" stroke-width="0.6"/>
<line x1="389.65" y1="301.46" x2="391.05" y2="301.46" stroke="#333" stroke-width="0.6"/>
<line x1="389.65" y1="305.17" x2="391.05" y2="305.17" stroke="#333" stroke-width="0.6"/>
<line x1="389.75" y1="303.32" x2="390.95" y2="303.32" stroke="#444" stroke-width="0.8"/>
<line x1="390.35" y1="302.72" x2="390.35" y2="303.92" stroke="#444" stroke-width="0.8"/>
<line x1="391.15" y1="302.36" x2="391.15" y2="306.07" stroke="#333" stroke-width="0.6"/>
<line x1="390.45" y1="302.36" x2="391.85" y2="302.36" stroke="#333" stroke-width="0.6"/>
<line x1="390.45" y1="306.07" x2="391.85" y2="306.07" stroke="#333" stroke-width="0.6"/>
<line x1="390.55" y1="304.22" x2="391.75" y2="304.22" stroke="#444" stroke-width="0.8"/>
<line x1="391.15" y1="303.62" x2="391.15" y2="304.82" stroke="#444" stroke-width="0.8"/>
<line x1="391.96" y1="302.46" x2="391.96" y2="306.17" stroke="#333" stroke-width="0.6"/>
<line x1="391.26" y1="302.46" x2="392.66" y2="302.46" stroke="#333" stroke-width="0.6"/>
<line x1="391.26" y1="306.17" x2="392.66" y2="306.17" stroke="#333" stroke-width="0.6"/>
<line x1="391.36" y1="304.31" x2="392.56" y2="304.31" stroke="#444" stroke-width="0.8"/>
<line x1="391.96" y1="303.71" x2="391.96" y2="304.91" stroke="#444" stroke-width="0.8"/>
<line x1="392.76" y1="302.96" x2="392.76" y2="306.67" stroke="#333" stroke-width="0.6"/>
<line x1="392.06" y1="302.96" x2="393.46" y2="302.96" stroke="#333" stroke-width="0.6"/>
<line x1="392.06" y1="306.67" x2="393.46" y2="306.67" stroke="#333" stroke-width="0.6"/>
<line x1="392.16" y1="304.81" x2="393.36" y2="304.81" stroke="#444" stroke-width="0.8"/>
<line x1="392.76" y1="304.21" x2="392.76" y2="305.41" stroke="#444" stroke-width="0.8"/>
<line x1="393.56" y1="302.56" x2="393.56" y2="306.27" stroke="#333" stroke-width="0.6"/>
<line x1="392.86" y1="302.56" x2="394.26" y2="302.56" stroke="#333" stroke-width="0.6"/>
<line x1="392.86" y1="306.27" x2="394.26" y2="306.27" stroke="#333" stroke-width="0.6"/>
<line x1="392.96" y1="304.42" x2="394.16" y2="304.42" stroke="#444" stroke-width="0.8"/>
<line x1="393.56" y1="303.82" x2="393.56" y2="305.02" stroke="#444" stroke-width="0.8"/>
<line x1="394.37" y1="302.82" x2="394.37" y2="306.53" stroke="#333" stroke-width="0.6"/>
<line x1="393.67" y1="302.82" x2="395.07" y2="302.82" stroke="#333" stroke-width="0.6"/>
<line x1="393.67" y1="306.53" x2="395.07" y2="306.53" stroke="#333" stroke-width="0.6"/>
<line x1="393.77" y1="304.67" x2="394.97" y2="304.67" stroke="#444" stroke-width="0.8"/>
<line x1="394.37" y1="304.07" x2="394.37" y2="305.27" stroke="#444" stroke-width="0.8"/>
<line x1="395.17" y1="302.7" x2="395.17" y2="306.41" stroke="#333" stroke-width="0.6"/>
<line x1="394.47" y1="302.7" x2="395.87" y2="302.7" stroke="#333" stroke-width="0.6"/>
<line x1="394.47" y1="306.41" x2="395.87" y2="306.41" stroke="#333" stroke-width="0.6"/>
<line x1="394.57" y1="304.56" x2="395.77" y2="304.56" stroke="#444" stroke-width="0.8"/>
<line x1="395.17" y1="303.96" x2="395.17" y2="305.16" stroke="#444" stroke-width="0.8"/>
<line x1="395.98" y1="302.91" x2="395.98" y2="306.62" stroke="#333" stroke-width="0.6"/>
<line x1="395.28" y1="302.91" x2="396.68" y2="302.91" stroke="#333" stroke-width="0.6"/>
<line x1="395.28" y1="306.62" x2="396.68" y2="306.62" stroke="#333" stroke-width="0.6"/>
<line x1="395.38" y1="304.76" x2="396.58" y2="304.76" stroke="#444" stroke-width="0.8"/>
<line x1="395.98" y1="304.16" x2="395.98" y2="305.36" stroke="#444" stroke-width="0.8"/>
<line x1="396.78" y1="302.31" x2="396.78" y2="306.02" stroke="#333" stroke-width="0.6"/>
<line x1="396.08" y1="302.31" x2="397.48" y2="302.31" stroke="#333" stroke-width="0.6"/>
<line x1="396.08" y1="306.02" x2="397.48" y2="306.02" stroke="#333" stroke-width="0.6"/>
<line x1="396.18" y1="304.17" x2="397.38" y2="304.17" stroke="#444" stroke-width="0.8"/>
<line x1="396.78" y1="303.57" x2="396.78" y2="304.77" stroke="#444" stroke-width="0.8"/>
<line x1="397.58" y1="302.38" x2="397.58" y2="306.09" stroke="#333" stroke-width="0.6"/>
<line x1="396.88" y1="302.38" x2="398.28" y2="302.38" stroke="#333" stroke-width="0.6"/>
<line x1="396.88" y1="306.09" x2="398.28" y2="306.09" stroke="#333" stroke-width="0.6"/>
<line x1="396.98" y1="304.24" x2="398.18" y2="304.24" stroke="#444" stroke-width="0.8"/>
<line x1="397.58" y1="303.64" x2="397.58" y2="304.84" stroke="#444" stroke-width="0.8"/>
<line x1="398.39" y1="303.68" x2="398.39" y2="307.39" stroke="#333" stroke-width="0.6"/>
<line x1="397.69" y1="303.68" x2="399.09" y2="303.68" stroke="#333" stroke-width="0.6"/>
<line x1="397.69" y1="307.39" x2="399.09" y2="307.39" stroke="#333" stroke-width="0.6"/>
<line x1="397.79" y1="305.53" x2="398.99" y2="305.53" stroke="#444" stroke-width="0.8"/>
<line x1="398.39" y1="304.93" x2="398.39" y2="306.13" stroke="#444" stroke-width="0.8"/>
<line x1="399.19" y1="303.49" x2="399.19" y2="307.2" stroke="#333" stroke-width="0.6"/>
<line x1="398.49" y1="303.49" x2="399.89" y2="303.49" stroke="#333" stroke-width="0.6"/>
<line x1="398.49" y1="307.2" x2="399.89" y2="307.2" stroke="#333" stroke-width="0.6"/>
<line x1="398.59" y1="305.34" x2="399.79" y2="305.34" stroke="#444" stroke-width="0.8"/>
<line x1="399.19" y1="304.74" x2="399.19" y2="305.94" stroke="#444" stroke-width="0.8"/>
<line x1="400" y1="304.01" x2="400" y2="307.72" stroke="#333" stroke-width="0.6"/>
<line x1="399.3" y1="304.01" x2="400.7" y2="304.01" stroke="#333" stroke-width="0.6"/>
<line x1="399.3" y1="307.72" x2="400.7" y2="307.72" stroke="#333" stroke-width="0.6"/>
<line x1="399.4" y1="305.87" x2="400.6" y2="305.87" stroke="#444" stroke-width="0.8"/>
<line x1="400" y1="305.27" x2="400" y2="306.47" stroke="#444" stroke-width="0.8"/>
<line x1="400.8" y1="303.38" x2="400.8" y2="307.09" stroke="#333" stroke-width="0.6"/>
<line x1="400.1" y1="303.38" x2="401.5" y2="303.38" stroke="#333" stroke-width="0.6"/>
<line x1="400.1" y1="307.09" x2="401.5" y2="307.09" stroke="#333" stroke-width="0.6"/>
<line x1="400.2" y1="305.24" x2="401.4" y2="305.24" stroke="#444" stroke-width="0.8"/>
<line x1="400.8" y1="304.64" x2="400.8" y2="305.84" stroke="#444" stroke-width="0.8"/>
<line x1="401.6" y1="303.04" x2="401.6" y2="306.75" stroke="#333" stroke-width="0.6"/>
<line x1="400.9" y1="303.04" x2="402.3" y2="303.04" stroke="#333" stroke-width="0.6"/>
<line x1="400.9" y1="306.75" x2="402.3" y2="306.75" stroke="#333" stroke-width="0.6"/>
<line x1="401" y1="304.9" x2="402.2" y2="304.9" stroke="#444" stroke-width="0.8"/>
<line x1="401.6" y1="304.3" x2="401.6" y2="305.5" stroke="#444" stroke-width="0.8"/>
<line x1="402.41" y1="304.43" x2="402.41" y2="308.14" stroke="#333" stroke-width="0.6"/>
<line x1="401.71" y1="304.43" x2="403.11" y2="304.43" stroke="#333" stroke-width="0.6"/>
<line x1="401.71" y1="308.14" x2="403.11" y2="308.14" stroke="#333" stroke-width="0.6"/>
<line x1="401.81" y1="306.29" x2="403.01" y2="306.29" stroke="#444" stroke-width="0.8"/>
<line x1="402.41" y1="305.69" x2="402.41" y2="306.89" stroke="#444" stroke-width="0.8"/>
<line x1="403.21" y1="303.69" x2="403.21" y2="307.4" stroke="#333" stroke-width="0.6"/>
<line x1="402.51" y1="303.69" x2="403.91" y2="303.69" stroke="#333" stroke-width="0.6"/>
<line x1="402.51" y1="307.4" x2="403.91" y2="307.4" stroke="#333" stroke-width="0.6"/>
<line x1="402.61" y1="305.55" x2="403.81" y2="305.55" stroke="#444" stroke-width="0.8"/>
<line x1="403.21" y1="304.95" x2="403.21" y2="306.15" stroke="#444" stroke-width="0.8"/>
<line x1="404.02" y1="304.59" x2="404.02" y2="308.3" stroke="#333" stroke-width="0.6"/>
<line x1="403.32" y1="304.59" x2="404.72" y2="304.59" stroke="#333" stroke-width="0.6"/>
<line x1="403.32" y1="308.3" x2="404.72" y2="308.3" stroke="#333" stroke-width="0.6"/>
<line x1="403.42" y1="306.45" x2="404.62" y2="306.45" stroke="#444" stroke-width="0.8"/>
<line x1="404.02" y1="305.85" x2="404.02" y2="307.05" stroke="#444" stroke-width="0.8"/>
<line x1="404.82" y1="305.21" x2="404.82" y2="308.92" stroke="#333" stroke-width="0.6"/>
<line x1="404.12" y1="305.21" x2="405.52" y2="305.21" stroke="#333" stroke-width="0.6"/>
<line x1="404.12" y1="308.92" x2="405.52" y2="308.92" stroke="#333" stroke-width="0.6"/>
<line x1="404.22" y1="307.06" x2="405.42" y2="307.06" stroke="#444" stroke-width="0.8"/>
<line x1="404.82" y1="306.46" x2="404.82" y2="307.66" stroke="#444" stroke-width="0.8"/>
<line x1="405.62" y1="304.17" x2="405.62" y2="307.88" stroke="#333" stroke-width="0.6"/>
<line x1="404.92" y1="304.17" x2="406.32" y2="304.17" stroke="#333" stroke-width="0.6"/>
<line x1="404.92" y1="307.88" x2="406.32" y2="307.88" stroke="#333" stroke-width="0.6"/>
<line x1="405.02" y1="306.03" x2="406.22" y2="306.03" stroke="#444" stroke-width="0.8"/>
<line x1="405.62" y1="305.43" x2="405.62" y2="306.63" stroke="#444" stroke-width="0.8"/>
<line x1="406.43" y1="305" x2="406.43" y2="308.71" stroke="#333" stroke-width="0.6"/>
<line x1="405.73" y1="305" x2="407.13" y2="305" stroke="#333" stroke-width="0.6"/>
<line x1="405.73" y1="308.71" x2="407.13" y2="308.71" stroke="#333" stroke-width="0.6"/>
<line x1="405.83" y1="306.86" x2="407.03" y2="306.86" stroke="#444" stroke-width="0.8"/>
<line x1="406.43" y1="306.26" x2="406.43" y2="307.46" stroke="#444" stroke-width="0.8"/>
<line x1="407.23" y1="305.44" x2="407.23" y2="309.15" stroke="#333" stroke-width="0.6"/>
<line x1="406.53" y1="305.44" x2="407.93" y2="305.44" stroke="#333" stroke-width="0.6"/>
<line x1="406.53" y1="309.15" x2="407.93" y2="309.15" stroke="#333" stroke-width="0.6"/>
<line x1="406.63" y1="307.29" x2="407.83" y2="307.29" stroke="#444" stroke-width="0.8"/>
<line x1="407.23" y1="306.69" x2="407.23" y2="307.89" stroke="#444" stroke-width="0.8"/>
<line x1="408.04" y1="305.17" x2="408.04" y2="308.88" stroke="#333" stroke-width="0.6"/>
<line x1="407.34" y1="305.17" x2="408.74" y2="305.17" stroke="#333" stroke-width="0.6"/>
<line x1="407.34" y1="308.88" x2="408.74" y2="308.88" stroke="#333" stroke-width="0.6"/>
<line x1="407.44" y1="307.03" x2="408.64" y2="307.03" stroke="#444" stroke-width="0.8"/>
<line x1="408.04" y1="306.43" x2="408.04" y2="307.63" stroke="#444" stroke-width="0.8"/>
<line x1="408.84" y1="305.66" x2="408.84" y2="309.37" stroke="#333" stroke-width="0.6"/>
<line x1="408.14" y1="305.66" x2="409.54" y2="305.66" stroke="#333" stroke-width="0.6"/>
<line x1="408.14" y1="309.37" x2="409.54" y2="309.37" stroke="#333" stroke-width="0.6"/>
<line x1="408.24" y1="307.51" x2="409.44" y2="307.51" stroke="#444" stroke-width="0.8"/>
<line x1="408.84" y1="306.91" x2="408.84" y2="308.11" stroke="#444" stroke-width="0.8"/>
<line x1="409.64" y1="305.53" x2="409.64" y2="309.24" stroke="#333" stroke-width="0.6"/>
<line x1="408.94" y1="305.53" x2="410.34" y2="305.53" stroke="#333" stroke-width="0.6"/>
<line x1="408.94" y1="309.24" x2="410.34" y2="309.24" stroke="#333" stroke-width="0.6"/>
<line x1="409.04" y1="307.39" x2="410.24" y2="307.39" stroke="#444" stroke-width="0.8"/>
<line x1="409.64" y1="306.79" x2="409.64" y2="307.99" stroke="#444" stroke-width="0.8"/>
<line x1="410.45" y1="305.63" x2="410.45" y2="309.34" stroke="#333" stroke-width="0.6"/>
<line x1="409.75" y1="305.63" x2="411.15" y2="305.63" stroke="#333" stroke-width="0.6"/>
<line x1="409.75" y1="309.34" x2="411.15" y2="309.34" stroke="#333" stroke-width="0.6"/>
<line x1="409.85" y1="307.49" x2="411.05" y2="307.49" stroke="#444" stroke-width="0.8"/>
<line x1="410.45" y1="306.89" x2="410.45" y2="308.09" stroke="#444" stroke-width="0.8"/>
<line x1="411.25" y1="305.84" x2="411.25" y2="309.55" stroke="#333" stroke-width="0.6"/>
<line x1="410.55" y1="305.84" x2="411.95" y2="305.84" stroke="#333" stroke-width="0.6"/>
<line x1="410.55" y1="309.55" x2="411.95" y2="309.55" stroke="#333" stroke-width="0.6"/>
<line x1="410.65" y1="307.69" x2="411.85" y2="307.69" stroke="#444" stroke-width="0.8"/>
<line x1="411.25" y1="307.09" x2="411.25" y2="308.29" stroke="#444" stroke-width="0.8"/>
<line x1="412.06" y1="305.73" x2="412.06" y2="309.44" stroke="#333" stroke-width="0.6"/>
<line x1="411.36" y1="305.73" x2="412.76" y2="305.73" stroke="#333" stroke-width="0.6"/>
<line x1="411.36" y1="309.44" x2="412.76" y2="309.44" stroke="#333" stroke-width="0.6"/>
<line x1="411.46" y1="307.58" x2="412.66" y2="307.58" stroke="#444" stroke-width="0.8"/>
<line x1="412.06" y1="306.98" x2="412.06" y2="308.18" stroke="#444" stroke-width="0.8"/>
<line x1="412.86" y1="306.36" x2="412.86" y2="310.07" stroke="#333" stroke-width="0.6"/>
<line x1="412.16" y1="306.36" x2="413.56" y2="306.36" stroke="#333" stroke-width="0.6"/>
<line x1="412.16" y1="310.07" x2="413.56" y2="310.07" stroke="#333" stroke-width="0.6"/>
<line x1="412.26" y1="308.22" x2="413.46" y2="308.22" stroke="#444" stroke-width="0.8"/>
<line x1="412.86" y1="307.62" x2="412.86" y2="308.82" stroke="#444" stroke-width="0.8"/>
<line x1="413.66" y1="306.8" x2="413.66" y2="310.51" stroke="#333" stroke-width="0.6"/>
<line x1="412.96" y1="306.8" x2="414.36" y2="306.8" stroke="#333" stroke-width="0.6"/>
<line x1="412.96" y1="310.51" x2="414.36" y2="310.51" stroke="#333" stroke-width="0.6"/>
<line x1="413.06" y1="308.66" x2="414.26" y2="308.66" stroke="#444" stroke-width="0.8"/>
<line x1="413.66" y1="308.06" x2="413.66" y2="309.26" stroke="#444" stroke-width="0.8"/>
<line x1="414.47" y1="306.95" x2="414.47" y2="310.66" stroke="#333" stroke-width="0.6"/>
<line x1="413.77" y1="306.95" x2="415.17" y2="306.95" stroke="#333" stroke-width="0.6"/>
<line x1="413.77" y1="310.66" x2="415.17" y2="310.66" stroke="#333" stroke-width="0.6"/>
<line x1="413.87" y1="308.8" x2="415.07" y2="308.8" stroke="#444" stroke-width="0.8"/>
<line x1="414.47" y1="308.2" x2="414.47" y2="309.4" stroke="#444" stroke-width="0.8"/>
<line x1="415.27" y1="307.05" x2="415.27" y2="310.76" stroke="#333" stroke-width="0.6"/>
<line x1="414.57" y1="307.05" x2="415.97" y2="307.05" stroke="#333" stroke-width="0.6"/>
<line x1="414.57" y1="310.76" x2="415.97" y2="310.76" stroke="#333" stroke-width="0.6"/>
<line x1="414.67" y1="308.9" x2="415.87" y2="308.9" stroke="#444" stroke-width="0.8"/>
<line x1="415.27" y1="308.3" x2="415.27" y2="309.5" stroke="#444" stroke-width="0.8"/>
<line x1="416.08" y1="306.52" x2="416.08" y2="310.23" stroke="#333" stroke-width="0.6"/>
<line x1="415.38" y1="306.52" x2="416.78" y2="306.52" stroke="#333" stroke-width="0.6"/>
<line x1="415.38" y1="310.23" x2="416.78" y2="310.23" stroke="#333" stroke-width="0.6"/>
<line x1="415.48" y1="308.38" x2="416.68" y2="308.38" stroke="#444" stroke-width="0.8"/>
<line x1="416.08" y1="307.78" x2="416.08" y2="308.98" stroke="#444" stroke-width="0.8"/>
<line x1="416.88" y1="306.91" x2="416.88" y2="310.62" stroke="#333" stroke-width="0.6"/>
<line x1="416.18" y1="306.91" x2="417.58" y2="306.91" stroke="#333" stroke-width="0.6"/>
<line x1="416.18" y1="310.62" x2="417.58" y2="310.62" stroke="#333" stroke-width="0.6"/>
<line x1="416.28" y1="308.76" x2="417.48" y2="308.76" stroke="#444" stroke-width="0.8"/>
<line x1="416.88" y1="308.16" x2="416.88" y2="309.36" stroke="#444" stroke-width="0.8"/>
<line x1="417.68" y1="306.33" x2="417.68" y2="310.04" stroke="#333" stroke-width="0.6"/>
<line x1="416.98" y1="306.33" x2="418.38" y2="306.33" stroke="#333" stroke-width="0.6"/>
<line x1="416.98" y1="310.04" x2="418.38" y2="310.04" stroke="#333" stroke-width="0.6"/>
<line x1="417.08" y1="308.19" x2="418.28" y2="308.19" stroke="#444" stroke-width="0.8"/>
<line x1="417.68" y1="307.59" x2="417.68" y2="308.79" stroke="#444" stroke-width="0.8"/>
<line x1="418.49" y1="306.94" x2="418.49" y2="310.65" stroke="#333" stroke-width="0.6"/>
<line x1="417.79" y1="306.94" x2="419.19" y2="306.94" stroke="#333" stroke-width="0.6"/>
<line x1="417.79" y1="310.65" x2="419.19" y2="310.65" stroke="#333" stroke-width="0.6"/>
<line x1="417.89" y1="308.8" x2="419.09" y2="308.8" stroke="#444" stroke-width="0.8"/>
<line x1="418.49" y1="308.2" x2="418.49" y2="309.4" stroke="#444" stroke-width="0.8"/>
<line x1="419.29" y1="306.75" x2="419.29" y2="310.46" stroke="#333" stroke-width="0.6"/>
<line x1="418.59" y1="306.75" x2="419.99" y2="306.75" stroke="#333" stroke-width="0.6"/>
<line x1="418.59" y1="310.46" x2="419.99" y2="310.46" stroke="#333" stroke-width="0.6"/>
<line x1="418.69" y1="308.61" x2="419.89" y2="308.61" stroke="#444" stroke-width="0.8"/>
<line x1="419.29" y1="308.01" x2="419.29" y2="309.21" stroke="#444" stroke-width="0.8"/>
<line x1="420.1" y1="306.45" x2="420.1" y2="310.16" stroke="#333" stroke-width="0.6"/>
<line x1="419.4" y1="306.45" x2="420.8" y2="306.45" stroke="#333" stroke-width="0.6"/>
<line x1="419.4" y1="310.16" x2="420.8" y2="310.16" stroke="#333" stroke-width="0.6"/>
<line x1="419.5" y1="308.31" x2="420.7" y2="308.31" stroke="#444" stroke-width="0.8"/>
<line x1="420.1" y1="307.71" x2="420.1" y2="308.91" stroke="#444" stroke-width="0.8"/>
<line x1="420.9" y1="308.04" x2="420.9" y2="311.75" stroke="#333" stroke-width="0.6"/>
<line x1="420.2" y1="308.04" x2="421.6" y2="308.04" stroke="#333" stroke-width="0.6"/>
<line x1="420.2" y1="311.75" x2="421.6" y2="311.75" stroke="#333" stroke-width="0.6"/>
<line x1="420.3" y1="309.9" x2="421.5" y2="309.9" stroke="#444" stroke-width="0.8"/>
<line x1="420.9" y1="309.3" x2="420.9" y2="310.5" stroke="#444" stroke-width="0.8"/>
<line x1="421.7" y1="308.24" x2="421.7" y2="311.95" stroke="#333" stroke-width="0.6"/>
<line x1="421" y1="308.24" x2="422.4" y2="308.24" stroke="#333" stroke-width="0.6"/>
<line x1="421" y1="311.95" x2="422.4" y2="311.95" stroke="#333" stroke-width="0.6"/>
<line x1="421.1" y1="310.09" x2="422.3" y2="310.09" stroke="#444" stroke-width="0.8"/>
<line x1="421.7" y1="309.49" x2="421.7" y2="310.69" stroke="#444" stroke-width="0.8"/>
<line x1="422.51" y1="308.16" x2="422.51" y2="311.87" stroke="#333" stroke-width="0.6"/>
<line x1="421.81" y1="308.16" x2="423.21" y2="308.16" stroke="#333" stroke-width="0.6"/>
<line x1="421.81" y1="311.87" x2="423.21" y2="311.87" stroke="#333" stroke-width="0.6"/>
<line x1="421.91" y1="310.02" x2="423.11" y2="310.02" stroke="#444" stroke-width="0.8"/>
<line x1="422.51" y1="309.42" x2="422.51" y2="310.62" stroke="#444" stroke-width="0.8"/>
<line x1="423.31" y1="307.89" x2="423.31" y2="311.6" stroke="#333" stroke-width="0.6"/>
<line x1="422.61" y1="307.89" x2="424.01" y2="307.89" stroke="#333" stroke-width="0.6"/>
<line x1="422.61" y1="311.6" x2="424.01" y2="311.6" stroke="#333" stroke-width="0.6"/>
<line x1="422.71" y1="309.74" x2="423.91" y2="309.74" stroke="#444" stroke-width="0.8"/>
<line x1="423.31" y1="309.14" x2="423.31" y2="310.34" stroke="#444" stroke-width="0.8"/>
<line x1="424.12" y1="307.71" x2="424.12" y2="311.42" stroke="#333" stroke-width="0.6"/>
<line x1="423.42" y1="307.71" x2="424.82" y2="307.71" stroke="#333" stroke-width="0.6"/>
<line x1="423.42" y1="311.42" x2="424.82" y2="311.42" stroke="#333" stroke-width="0.6"/>
<line x1="423.52" y1="309.56" x2="424.72" y2="309.56" stroke="#444" stroke-width="0.8"/>
<line x1="424.12" y1="308.96" x2="424.12" y2="310.16" stroke="#444" stroke-width="0.8"/>
<line x1="424.92" y1="307.56" x2="424.92" y2="311.27" stroke="#333" stroke-width="0.6"/>
<line x1="424.22" y1="307.56" x2="425.62" y2="307.56" stroke="#333" stroke-width="0.6"/>
<line x1="424.22" y1="311.27" x2="425.62" y2="311.27" stroke="#333" stroke-width="0.6"/>
<line x1="424.32" y1="309.41" x2="425.52" y2="309.41" stroke="#444" stroke-width="0.8"/>
<line x1="424.92" y1="308.81" x2="424.92" y2="310.01" stroke="#444" stroke-width="0.8"/>
<line x1="425.72" y1="308.3" x2="425.72" y2="312.01" stroke="#333" stroke-width="0.6"/>
<line x1="425.02" y1="308.3" x2="426.42" y2="308.3" stroke="#333" stroke-width="0.6"/>
<line x1="425.02" y1="312.01" x2="426.42" y2="312.01" stroke="#333" stroke-width="0.6"/>
<line x1="425.12" y1="310.16" x2="426.32" y2="310.16" stroke="#444" stroke-width="0.8"/>
<line x1="425.72" y1="309.56" x2="425.72" y2="310.76" stroke="#444" stroke-width="0.8"/>
<line x1="426.53" y1="307.45" x2="426.53" y2="311.16" stroke="#333" stroke-width="0.6"/>
<line x1="425.83" y1="307.45" x2="427.23" y2="307.45" stroke="#333" stroke-width="0.6"/>
<line x1="425.83" y1="311.16" x2="427.23" y2="311.16" stroke="#333" stroke-width="0.6"/>
<line x1="425.93" y1="309.3" x2="427.13" y2="309.3" stroke="#444" stroke-width="0.8"/>
<line x1="426.53" y1="308.7" x2="426.53" y2="309.9" stroke="#444" stroke-width="0.8"/>
<line x1="427.33" y1="309.09" x2="427.33" y2="312.8" stroke="#333" stroke-width="0.6"/>
<line x1="426.63" y1="309.09" x2="428.03" y2="309.09" stroke="#333" stroke-width="0.6"/>
<line x1="426.63" y1="312.8" x2="428.03" y2="312.8" stroke="#333" stroke-width="0.6"/>
<line x1="426.73" y1="310.95" x2="427.93" y2="310.95" stroke="#444" stroke-width="0.8"/>
<line x1="427.33" y1="310.35" x2="427.33" y2="311.55" stroke="#444" stroke-width="0.8"/>
<line x1="428.14" y1="307.89" x2="428.14" y2="311.6" stroke="#333" stroke-width="0.6"/>
<line x1="427.44" y1="307.89" x2="428.84" y2="307.89" stroke="#333" stroke-width="0.6"/>
<line x1="427.44" y1="311.6" x2="428.84" y2="311.6" stroke="#333" stroke-width="0.6"/>
<line x1="427.54" y1="309.74" x2="428.74" y2="309.74" stroke="#444" stroke-width="0.8"/>
<line x1="428.14" y1="309.14" x2="428.14" y2="310.34" stroke="#444" stroke-width="0.8"/>
<line x1="428.94" y1="309" x2="428.94" y2="312.71" stroke="#333" stroke-width="0.6"/>
<line x1="428.24" y1="309" x2="429.64" y2="309" stroke="#333" stroke-width="0.6"/>
<line x1="428.24" y1="312.71" x2="429.64" y2="312.71" stroke="#333" stroke-width="0.6"/>
<line x1="428.34" y1="310.86" x2="429.54" y2="310.86" stroke="#444" stroke-width="0.8"/>
<line x1="428.94" y1="310.26" x2="428.94" y2="311.46" stroke="#444" stroke-width="0.8"/>
<line x1="429.74" y1="308.07" x2="429.74" y2="311.78" stroke="#333" stroke-width="0.6"/>
<line x1="429.04" y1="308.07" x2="430.44" y2="308.07" stroke="#333" stroke-width="0.6"/>
<line x1="429.04" y1="311.78" x2="430.44" y2="311.78" stroke="#333" stroke-width="0.6"/>
<line x1="429.14" y1="309.92" x2="430.34" y2="309.92" stroke="#444" stroke-width="0.8"/>
<line x1="429.74" y1="309.32" x2="429.74" y2="310.52" stroke="#444" stroke-width="0.8"/>
<line x1="430.55" y1="309.52" x2="430.55" y2="313.23" stroke="#333" stroke-width="0.6"/>
<line x1="429.85" y1="309.52" x2="431.25" y2="309.52" stroke="#333" stroke-width="0.6"/>
<line x1="429.85" y1="313.23" x2="431.25" y2="313.23" stroke="#333" stroke-width="0.6"/>
<line x1="429.95" y1="311.38" x2="431.15" y2="311.38" stroke="#444" stroke-width="0.8"/>
<line x1="430.55" y1="310.78" x2="430.55" y2="311.98" stroke="#444" stroke-width="0.8"/>
<line x1="431.35" y1="308.16" x2="431.35" y2="311.87" stroke="#333" stroke-width="0.6"/>
<line x1="430.65" y1="308.16" x2="432.05" y2="308.16" stroke="#333" stroke-width="0.6"/>
<line x1="430.65" y1="311.87" x2="432.05" y2="311.87" stroke="#333" stroke-width="0.6"/>
<line x1="430.75" y1="310.02" x2="431.95" y2="310.02" stroke="#444" stroke-width="0.8"/>
<line x1="431.35" y1="309.42" x2="431.35" y2="310.62" stroke="#444" stroke-width="0.8"/>
<line x1="432.16" y1="308.61" x2="432.16" y2="312.32" stroke="#333" stroke-width="0.6"/>
<line x1="431.46" y1="308.61" x2="432.86" y2="308.61" stroke="#333" stroke-width="0.6"/>
<line x1="431.46" y1="312.32" x2="432.86" y2="312.32" stroke="#333" stroke-width="0.6"/>
<line x1="431.56" y1="310.46" x2="432.76" y2="310.46" stroke="#444" stroke-width="0.8"/>
<line x1="432.16" y1="309.86" x2="432.16" y2="311.06" stroke="#444" stroke-width="0.8"/>
<line x1="432.96" y1="308.36" x2="432.96" y2="312.07" stroke="#333" stroke-width="0.6"/>
<line x1="432.26" y1="308.36" x2="433.66" y2="308.36" stroke="#333" stroke-width="0.6"/>
<line x1="432.26" y1="312.07" x2="433.66" y2="312.07" stroke="#333" stroke-width="0.6"/>
<line x1="432.36" y1="310.21" x2="433.56" y2="310.21" stroke="#444" stroke-width="0.8"/>
<line x1="432.96" y1="309.61" x2="432.96" y2="310.81" stroke="#444" stroke-width="0.8"/>
<line x1="433.76" y1="309.13" x2="433.76" y2="312.84" stroke="#333" stroke-width="0.6"/>
<line x1="433.06" y1="309.13" x2="434.46" y2="309.13" stroke="#333" stroke-width="0.6"/>
<line x1="433.06" y1="312.84" x2="434.46" y2="312.84" stroke="#333" stroke-width="0.6"/>
<line x1="433.16" y1="310.99" x2="434.36" y2="310.99" stroke="#444" stroke-width="0.8"/>
<line x1="433.76" y1="310.39" x2="433.76" y2="311.59" stroke="#444" stroke-width="0.8"/>
<line x1="434.57" y1="309.89" x2="434.57" y2="313.6" stroke="#333" stroke-width="0.6"/>
<line x1="433.87" y1="309.89" x2="435.27" y2="309.89" stroke="#333" stroke-width="0.6"/>
<line x1="433.87" y1="313.6" x2="435.27" y2="313.6" stroke="#333" stroke-width="0.6"/>
<line x1="433.97" y1="311.74" x2="435.17" y2="311.74" stroke="#444" stroke-width="0.8"/>
<line x1="434.57" y1="311.14" x2="434.57" y2="312.34" stroke="#444" stroke-width="0.8"/>
<line x1="435.37" y1="308.75" x2="435.37" y2="312.46" stroke="#333" stroke-width="0.6"/>
<line x1="434.67" y1="308.75" x2="436.07" y2="308.75" stroke="#333" stroke-width="0.6"/>
<line x1="434.67" y1="312.46" x2="436.07" y2="312.46" stroke="#333" stroke-width="0.6"/>
<line x1="434.77" y1="310.6" x2="435.97" y2="310.6" stroke="#444" stroke-width="0.8"/>
<line x1="435.37" y1="310" x2="435.37" y2="311.2" stroke="#444" stroke-width="0.8"/>
<line x1="436.18" y1="309.71" x2="436.18" y2="313.42" stroke="#333" stroke-width="0.6"/>
<line x1="435.48" y1="309.71" x2="436.88" y2="309.71" stroke="#333" stroke-width="0.6"/>
<line x1="435.48" y1="313.42" x2="436.88" y2="313.42" stroke="#333" stroke-width="0.6"/>
<line x1="435.58" y1="311.56" x2="436.78" y2="311.56" stroke="#444" stroke-width="0.8"/>
<line x1="436.18" y1="310.96" x2="436.18" y2="312.16" stroke="#444" stroke-width="0.8"/>
<line x1="436.98" y1="310.4" x2="436.98" y2="314.11" stroke="#333" stroke-width="0.6"/>
<line x1="436.28" y1="310.4" x2="437.68" y2="310.4" stroke="#333" stroke-width="0.6"/>
<line x1="436.28" y1="314.11" x2="437.68" y2="314.11" stroke="#333" stroke-width="0.6"/>
<line x1="436.38" y1="312.25" x2="437.58" y2="312.25" stroke="#444" stroke-width="0.8"/>
<line x1="436.98" y1="311.65" x2="436.98" y2="312.85" stroke="#444" stroke-width="0.8"/>
<line x1="437.78" y1="309.67" x2="437.78" y2="313.38" stroke="#333" stroke-width="0.6"/>
<line x1="437.08" y1="309.67" x2="438.48" y2="309.67" stroke="#333" stroke-width="0.6"/>
<line x1="437.08" y1="313.38" x2="438.48" y2="313.38" stroke="#333" stroke-width="0.6"/>
<line x1="437.18" y1="311.53" x2="438.38" y2="311.53" stroke="#444" stroke-width="0.8"/>
<line x1="437.78" y1="310.93" x2="437.78" y2="312.13" stroke="#444" stroke-width="0.8"/>
<line x1="438.59" y1="309.95" x2="438.59" y2="313.66" stroke="#333" stroke-width="0.6"/>
<line x1="437.89" y1="309.95" x2="439.29" y2="309.95" stroke="#333" stroke-width="0.6"/>
<line x1="437.89" y1="313.66" x2="439.29" y2="313.66" stroke="#333" stroke-width="0.6"/>
<line x1="437.99" y1="311.81" x2="439.19" y2="311.81" stroke="#444" stroke-width="0.8"/>
<line x1="438.59" y1="311.21" x2="438.59" y2="312.41" stroke="#444" stroke-width="0.8"/>
<line x1="439.39" y1="310.1" x2="439.39" y2="313.81" stroke="#333" stroke-width="0.6"/>
<line x1="438.69" y1="310.1" x2="440.09" y2="310.1" stroke="#333" stroke-width="0.6"/>
<line x1="438.69" y1="313.81" x2="440.09" y2="313.81" stroke="#333" stroke-width="0.6"/>
<line x1="438.79" y1="311.95" x2="439.99" y2="311.95" stroke="#444" stroke-width="0.8"/>
<line x1="439.39" y1="311.35" x2="439.39" y2="312.55" stroke="#444" stroke-width="0.8"/>
<line x1="440.2" y1="310.71" x2="440.2" y2="314.42" stroke="#333" stroke-width="0.6"/>
<line x1="439.5" y1="310.71" x2="440.9" y2="310.71" stroke="#333" stroke-width="0.6"/>
<line x1="439.5" y1="314.42" x2="440.9" y2="314.42" stroke="#333" stroke-width="0.6"/>
<line x1="439.6" y1="312.56" x2="440.8" y2="312.56" stroke="#444" stroke-width="0.8"/>
<line x1="440.2" y1="311.96" x2="440.2" y2="313.16" stroke="#444" stroke-width="0.8"/>
<line x1="441" y1="310.87" x2="441" y2="314.58" stroke="#333" stroke-width="0.6"/>
<line x1="440.3" y1="310.87" x2="441.7" y2="310.87" stroke="#333" stroke-width="0.6"/>
<line x1="440.3" y1="314.58" x2="441.7" y2="314.58" stroke="#333" stroke-width="0.6"/>
<line x1="440.4" y1="312.72" x2="441.6" y2="312.72" stroke="#444" stroke-width="0.8"/>
<line x1="441" y1="312.12" x2="441" y2="313.32" stroke="#444" stroke-width="0.8"/>
<line x1="441.8" y1="310.24" x2="441.8" y2="313.95" stroke="#333" stroke-width="0.6"/>
<line x1="441.1" y1="310.24" x2="442.5" y2="310.24" stroke="#333" stroke-width="0.6"/>
<line x1="441.1" y1="313.95" x2="442.5" y2="313.95" stroke="#333" stroke-width="0.6"/>
<line x1="441.2" y1="312.1" x2="442.4" y2="312.1" stroke="#444" stroke-width="0.8"/>
<line x1="441.8" y1="311.5" x2="441.8" y2="312.7" stroke="#444" stroke-width="0.8"/>
<line x1="442.61" y1="310.55" x2="442.61" y2="314.26" stroke="#333" stroke-width="0.6"/>
<line x1="441.91" y1="310.55" x2="443.31" y2="310.55" stroke="#333" stroke-width="0.6"/>
<line x1="441.91" y1="314.26" x2="443.31" y2="314.26" stroke="#333" stroke-width="0.6"/>
<line x1="442.01" y1="312.41" x2="443.21" y2="312.41" stroke="#444" stroke-width="0.8"/>
<line x1="442.61" y1="311.81" x2="442.61" y2="313.01" stroke="#444" stroke-width="0.8"/>
<line x1="443.41" y1="311.18" x2="443.41" y2="314.89" stroke="#333" stroke-width="0.6"/>
<line x1="442.71" y1="311.18" x2="444.11" y2="311.18" stroke="#333" stroke-width="0.6"/>
<line x1="442.71" y1="314.89" x2="444.11" y2="314.89" stroke="#333" stroke-width="0.6"/>
<line x1="442.81" y1="313.03" x2="444.01" y2="313.03" stroke="#444" stroke-width="0.8"/>
<line x1="443.41" y1="312.43" x2="443.41" y2="313.63" stroke="#444" stroke-width="0.8"/>
<line x1="444.22" y1="310.79" x2="444.22" y2="314.5" stroke="#333" stroke-width="0.6"/>
<line x1="443.52" y1="310.79" x2="444.92" y2="310.79" stroke="#333" stroke-width="0.6"/>
<line x1="443.52" y1="314.5" x2="444.92" y2="314.5" stroke="#333" stroke-width="0.6"/>
<line x1="443.62" y1="312.64" x2="444.82" y2="312.64" stroke="#444" stroke-width="0.8"/>
<line x1="444.22" y1="312.04" x2="444.22" y2="313.24" stroke="#444" stroke-width="0.8"/>
<line x1="445.02" y1="310.44" x2="445.02" y2="314.15" stroke="#333" stroke-width="0.6"/>
<line x1="444.32" y1="310.44" x2="445.72" y2="310.44" stroke="#333" stroke-width="0.6"/>
<line x1="444.32" y1="314.15" x2="445.72" y2="314.15" stroke="#333" stroke-width="0.6"/>
<line x1="444.42" y1="312.29" x2="445.62" y2="312.29" stroke="#444" stroke-width="0.8"/>
<line x1="445.02" y1="311.69" x2="445.02" y2="312.89" stroke="#444" stroke-width="0.8"/>
<line x1="445.82" y1="310.56" x2="445.82" y2="314.27" stroke="#333" stroke-width="0.6"/>
<line x1="445.12" y1="310.56" x2="446.52" y2="310.56" stroke="#333" stroke-width="0.6"/>
<line x1="445.12" y1="314.27" x2="446.52" y2="314.27" stroke="#333" stroke-width="0.6"/>
<line x1="445.22" y1="312.41" x2="446.42" y2="312.41" stroke="#444" stroke-width="0.8"/>
<line x1="445.82" y1="311.81" x2="445.82" y2="313.01" stroke="#444" stroke-width="0.8"/>
<line x1="446.63" y1="311.05" x2="446.63" y2="314.76" stroke="#333" stroke-width="0.6"/>
<line x1="445.93" y1="311.05" x2="447.33" y2="311.05" stroke="#333" stroke-width="0.6"/>
<line x1="445.93" y1="314.76" x2="447.33" y2="314.76" stroke="#333" stroke-width="0.6"/>
<line x1="446.03" y1="312.91" x2="447.23" y2="312.91" stroke="#444" stroke-width="0.8"/>
<line x1="446.63" y1="312.31" x2="446.63" y2="313.51" stroke="#444" stroke-width="0.8"/>
<line x1="447.43" y1="311.28" x2="447.43" y2="314.99" stroke="#333" stroke-width="0.6"/>
<line x1="446.73" y1="311.28" x2="448.13" y2="311.28" stroke="#333" stroke-width="0.6"/>
<line x1="446.73" y1="314.99" x2="448.13" y2="314.99" stroke="#333" stroke-width="0.6"/>
<line x1="446.83" y1="313.14" x2="448.03" y2="313.14" stroke="#444" stroke-width="0.8"/>
<line x1="447.43" y1="312.54" x2="447.43" y2="313.74" stroke="#444" stroke-width="0.8"/>
<line x1="448.24" y1="311.44" x2="448.24" y2="315.15" stroke="#333" stroke-width="0.6"/>
<line x1="447.54" y1="311.44" x2="448.94" y2="311.44" stroke="#333" stroke-width="0.6"/>
<line x1="447.54" y1="315.15" x2="448.94" y2="315.15" stroke="#333" stroke-width="0.6"/>
<line x1="447.64" y1="313.3" x2="448.84" y2="313.3" stroke="#444" stroke-width="0.8"/>
<line x1="448.24" y1="312.7" x2="448.24" y2="313.9" stroke="#444" stroke-width="0.8"/>
<line x1="449.04" y1="311.76" x2="449.04" y2="315.47" stroke="#333" stroke-width="0.6"/>
<line x1="448.34" y1="311.76" x2="449.74" y2="311.76" stroke="#333" stroke-width="0.6"/>
<line x1="448.34" y1="315.47" x2="449.74" y2="315.47" stroke="#333" stroke-width="0.6"/>
<line x1="448.44" y1="313.62" x2="449.64" y2="313.62" stroke="#444" stroke-width="0.8"/>
<line x1="449.04" y1="313.02" x2="449.04" y2="314.22" stroke="#444" stroke-width="0.8"/>
<line x1="449.84" y1="311.91" x2="449.84" y2="315.62" stroke="#333" stroke-width="0.6"/>
<line x1="449.14" y1="311.91" x2="450.54" y2="311.91" stroke="#333" stroke-width="0.6"/>
<line x1="449.14" y1="315.62" x2="450.54" y2="315.62" stroke="#333" stroke-width="0.6"/>
<line x1="449.24" y1="313.77" x2="450.44" y2="313.77" stroke="#444" stroke-width="0.8"/>
<line x1="449.84" y1="313.17" x2="449.84" y2="314.37" stroke="#444" stroke-width="0.8"/>
<line x1="450.65" y1="311.62" x2="450.65" y2="315.33" stroke="#333" stroke-width="0.6"/>
<line x1="449.95" y1="311.62" x2="451.35" y2="311.62" stroke="#333" stroke-width="0.6"/>
<line x1="449.95" y1="315.33" x2="451.35" y2="315.33" stroke="#333" stroke-width="0.6"/>
<line x1="450.05" y1="313.48" x2="451.25" y2="313.48" stroke="#444" stroke-width="0.8"/>
<line x1="450.65" y1="312.88" x2="450.65" y2="314.08" stroke="#444" stroke-width="0.8"/>
<line x1="451.45" y1="312.27" x2="451.45" y2="315.98" stroke="#333" stroke-width="0.6"/>
<line x1="450.75" y1="312.27" x2="452.15" y2="312.27" stroke="#333" stroke-width="0.6"/>
<line x1="450.75" y1="315.98" x2="452.15" y2="315.98" stroke="#333" stroke-width="0.6"/>
<line x1="450.85" y1="314.12" x2="452.05" y2="314.12" stroke="#444" stroke-width="0.8"/>
<line x1="451.45" y1="313.52" x2="451.45" y2="314.72" stroke="#444" stroke-width="0.8"/>
<line x1="452.26" y1="311.39" x2="452.26" y2="315.1" stroke="#333" stroke-width="0.6"/>
<line x1="451.56" y1="311.39" x2="452.96" y2="311.39" stroke="#333" stroke-width="0.6"/>
<line x1="451.56" y1="315.1" x2="452.96" y2="315.1" stroke="#333" stroke-width="0.6"/>
<line x1="451.66" y1="313.25" x2="452.86" y2="313.25" stroke="#444" stroke-width="0.8"/>
<line x1="452.26" y1="312.65" x2="452.26" y2="313.85" stroke="#444" stroke-width="0.8"/>
<line x1="453.06" y1="309.67" x2="453.06" y2="317.09" stroke="#333" stroke-width="0.6"/>
<line x1="452.36" y1="309.67" x2="453.76" y2="309.67" stroke="#333" stroke-width="0.6"/>
<line x1="452.36" y1="317.09" x2="453.76" y2="317.09" stroke="#333" stroke-width="0.6"/>
<line x1="452.46" y1="313.38" x2="453.66" y2="313.38" stroke="#444" stroke-width="0.8"/>
<line x1="453.06" y1="312.78" x2="453.06" y2="313.98" stroke="#444" stroke-width="0.8"/>
<line x1="453.86" y1="309.9" x2="453.86" y2="317.32" stroke="#333" stroke-width="0.6"/>
<line x1="453.16" y1="309.9" x2="454.56" y2="309.9" stroke="#333" stroke-width="0.6"/>
<line x1="453.16" y1="317.32" x2="454.56" y2="317.32" stroke="#333" stroke-width="0.6"/>
<line x1="453.26" y1="313.61" x2="454.46" y2="313.61" stroke="#444" stroke-width="0.8"/>
<line x1="453.86" y1="313.01" x2="453.86" y2="314.21" stroke="#444" stroke-width="0.8"/>
<line x1="454.67" y1="310.91" x2="454.67" y2="318.33" stroke="#333" stroke-width="0.6"/>
<line x1="453.97" y1="310.91" x2="455.37" y2="310.91" stroke="#333" stroke-width="0.6"/>
<line x1="453.97" y1="318.33" x2="455.37" y2="318.33" stroke="#333" stroke-width="0.6"/>
<line x1="454.07" y1="314.62" x2="455.27" y2="314.62" stroke="#444" stroke-width="0.8"/>
<line x1="454.67" y1="314.02" x2="454.67" y2="315.22" stroke="#444" stroke-width="0.8"/>
<line x1="455.47" y1="310.44" x2="455.47" y2="317.86" stroke="#333" stroke-width="0.6"/>
<line x1="454.77" y1="310.44" x2="456.17" y2="310.44" stroke="#333" stroke-width="0.6"/>
<line x1="454.77" y1="317.86" x2="456.17" y2="317.86" stroke="#333" stroke-width="0.6"/>
<line x1="454.87" y1="314.15" x2="456.07" y2="314.15" stroke="#444" stroke-width="0.8"/>
<line x1="455.47" y1="313.55" x2="455.47" y2="314.75" stroke="#444" stroke-width="0.8"/>
<line x1="456.28" y1="310.41" x2="456.28" y2="317.83" stroke="#333" stroke-width="0.6"/>
<line x1="455.58" y1="310.41" x2="456.98" y2="310.41" stroke="#333" stroke-width="0.6"/>
<line x1="455.58" y1="317.83" x2="456.98" y2="317.83" stroke="#333" stroke-width="0.6"/>
<line x1="455.68" y1="314.12" x2="456.88" y2="314.12" stroke="#444" stroke-width="0.8"/>
<line x1="456.28" y1="313.52" x2="456.28" y2="314.72" stroke="#444" stroke-width="0.8"/>
<line x1="457.08" y1="311.03" x2="457.08" y2="318.45" stroke="#333" stroke-width="0.6"/>
<line x1="456.38" y1="311.03" x2="457.78" y2="311.03" stroke="#333" stroke-width="0.6"/>
<line x1="456.38" y1="318.45" x2="457.78" y2="318.45" stroke="#333" stroke-width="0.6"/>
<line x1="456.48" y1="314.74" x2="457.68" y2="314.74" stroke="#444" stroke-width="0.8"/>
<line x1="457.08" y1="314.14" x2="457.08" y2="315.34" stroke="#444" stroke-width="0.8"/>
<line x1="457.88" y1="309.71" x2="457.88" y2="317.13" stroke="#333" stroke-width="0.6"/>
<line x1="457.18" y1="309.71" x2="458.58" y2="309.71" stroke="#333" stroke-width="0.6"/>
<line x1="457.18" y1="317.13" x2="458.58" y2="317.13" stroke="#333" stroke-width="0.6"/>
<line x1="457.28" y1="313.42" x2="458.48" y2="313.42" stroke="#444" stroke-width="0.8"/>
<line x1="457.88" y1="312.82" x2="457.88" y2="314.02" stroke="#444" stroke-width="0.8"/>
<line x1="458.69" y1="310.12" x2="458.69" y2="317.54" stroke="#333" stroke-width="0.6"/>
<line x1="457.99" y1="310.12" x2="459.39" y2="310.12" stroke="#333" stroke-width="0.6"/>
<line x1="457.99" y1="317.54" x2="459.39" y2="317.54" stroke="#333" stroke-width="0.6"/>
<line x1="458.09" y1="313.83" x2="459.29" y2="313.83" stroke="#444" stroke-width="0.8"/>
<line x1="458.69" y1="313.23" x2="458.69" y2="314.43" stroke="#444" stroke-width="0.8"/>
<polyline points="341.3,310.43 342.11,309.26 342.91,310.59 343.72,309.67 344.52,310.66 345.32,310.4 346.13,293.31 346.93,286.61 347.74,283.01 348.54,280.38 349.34,278.8 350.15,277.15 350.95,276.92 351.76,275.2 352.56,275.67 353.36,275.05 354.17,274.99 354.97,275.52 355.78,276.23 356.58,277.83 357.38,281.04 358.19,283.72 358.99,285.74 359.8,286.3 360.6,289.49 361.4,289.67 362.21,291.12 363.01,291.72 363.82,293.3 364.62,293.8 365.42,294.69 366.23,295.03 367.03,295.21 367.84,296.3 368.64,297.58 369.44,298.08 370.25,297.05 371.05,298.15 371.86,298.99 372.66,298.16 373.46,298.98 374.27,298.98 375.07,298.98 375.88,300.16 376.68,300.29 377.48,299.7 378.29,301.12 379.09,300.36 379.9,301.66 380.7,300.95 381.5,301.15 382.31,300.96 383.11,301.34 383.92,302.1 384.72,302.8 385.52,303.08 386.33,302.69 387.13,302.94 387.94,303.84 388.74,302.73 389.54,303.5 390.35,303.32 391.15,304.22 391.96,304.31 392.76,304.81 393.56,304.42 394.37,304.67 395.17,304.56 395.98,304.76 396.78,304.17 397.58,304.24 398.39,305.53 399.19,305.34 400,305.87 400.8,305.24 401.6,304.9 402.41,306.29 403.21,305.55 404.02,306.45 404.82,307.06 405.62,306.03 406.43,306.86 407.23,307.29 408.04,307.03 408.84,307.51 409.64,307.39 410.45,307.49 411.25,307.69 412.06,307.58 412.86,308.22 413.66,308.66 414.47,308.8 415.27,308.9 416.08,308.38 416.88,308.76 417.68,308.19 418.49,308.8 419.29,308.61 420.1,308.31 420.9,309.9 421.7,310.09 422.51,310.02 423.31,309.74 424.12,309.56 424.92,309.41 425.72,310.16 426.53,309.3 427.33,310.95 428.14,309.74 428.94,310.86 429.74,309.92 430.55,311.38 431.35,310.02 432.16,310.46 432.96,310.21 433.76,310.99 434.57,311.74 435.37,310.6 436.18,311.56 436.98,312.25 437.78,311.53 438.59,311.81 439.39,311.95 440.2,312.56 441,312.72 441.8,312.1 442.61,312.41 443.41,313.03 444.22,312.64 445.02,312.29 445.82,312.41 446.63,312.91 447.43,313.14 448.24,313.3 449.04,313.62 449.84,313.77 450.65,313.48 451.45,314.12 452.26,313.25 453.06,313.38 453.86,313.61 454.67,314.62 455.47,314.15 456.28,314.12 457.08,314.74 457.88,313.42 458.69,313.83" fill="none" stroke="#111" stroke-width="0.9" stroke-linejoin="round"/>
<text x="62" y="391.2" font-size="13.6" font-weight="bold">L</text>
<line x1="83.7" y1="387.5" x2="83.7" y2="504.4" stroke="#555" stroke-width="1.3"/>
<line x1="83.7" y1="504.4" x2="228" y2="504.4" stroke="#333" stroke-width="0.9"/>
<line x1="82.2" y1="494.67" x2="83.7" y2="494.67" stroke="#333" stroke-width="0.6"/>
<line x1="82.2" y1="484.94" x2="83.7" y2="484.94" stroke="#333" stroke-width="0.6"/>
<line x1="82.2" y1="475.21" x2="83.7" y2="475.21" stroke="#333" stroke-width="0.6"/>
<line x1="82.2" y1="465.48" x2="83.7" y2="465.48" stroke="#333" stroke-width="0.6"/>
<line x1="82.2" y1="455.75" x2="83.7" y2="455.75" stroke="#333" stroke-width="0.6"/>
<line x1="82.2" y1="446.02" x2="83.7" y2="446.02" stroke="#333" stroke-width="0.6"/>
<line x1="82.2" y1="436.29" x2="83.7" y2="436.29" stroke="#333" stroke-width="0.6"/>
<line x1="82.2" y1="426.56" x2="83.7" y2="426.56" stroke="#333" stroke-width="0.6"/>
<line x1="82.2" y1="416.83" x2="83.7" y2="416.83" stroke="#333" stroke-width="0.6"/>
<line x1="82.2" y1="407.1" x2="83.7" y2="407.1" stroke="#333" stroke-width="0.6"/>
<line x1="82.2" y1="397.37" x2="83.7" y2="397.37" stroke="#333" stroke-width="0.6"/>
<line x1="82.2" y1="387.64" x2="83.7" y2="387.64" stroke="#333" stroke-width="0.6"/>
<line x1="82.2" y1="504.4" x2="83.7" y2="504.4" stroke="#333" stroke-width="0.7"/>
<text x="78.4" y="506.06" font-size="4.6" text-anchor="end" style="stroke-width:0.05px">0</text>
<line x1="82.2" y1="455.8" x2="83.7" y2="455.8" stroke="#333" stroke-width="0.7"/>
<text x="78.4" y="457.46" font-size="4.6" text-anchor="end" style="stroke-width:0.05px">0.5</text>
<line x1="82.2" y1="407.1" x2="83.7" y2="407.1" stroke="#333" stroke-width="0.7"/>
<text x="78.4" y="408.76" font-size="4.6" text-anchor="end" style="stroke-width:0.05px">1</text>
<line x1="98.38" y1="504.4" x2="98.38" y2="505.9" stroke="#333" stroke-width="0.6"/>
<line x1="112.76" y1="504.4" x2="112.76" y2="505.9" stroke="#333" stroke-width="0.6"/>
<line x1="127.14" y1="504.4" x2="127.14" y2="505.9" stroke="#333" stroke-width="0.6"/>
<line x1="141.52" y1="504.4" x2="141.52" y2="505.9" stroke="#333" stroke-width="0.6"/>
<line x1="155.9" y1="504.4" x2="155.9" y2="505.9" stroke="#333" stroke-width="0.6"/>
<line x1="170.28" y1="504.4" x2="170.28" y2="505.9" stroke="#333" stroke-width="0.6"/>
<line x1="184.66" y1="504.4" x2="184.66" y2="505.9" stroke="#333" stroke-width="0.6"/>
<line x1="199.04" y1="504.4" x2="199.04" y2="505.9" stroke="#333" stroke-width="0.6"/>
<line x1="213.42" y1="504.4" x2="213.42" y2="505.9" stroke="#333" stroke-width="0.6"/>
<line x1="83.9" y1="504.4" x2="83.9" y2="505.9" stroke="#333" stroke-width="0.7"/>
<text x="83.9" y="511.6" font-size="4.6" text-anchor="middle" style="stroke-width:0.05px">0</text>
<line x1="155.8" y1="504.4" x2="155.8" y2="505.9" stroke="#333" stroke-width="0.7"/>
<text x="155.8" y="511.6" font-size="4.6" text-anchor="middle" style="stroke-width:0.05px">50</text>
<line x1="227.8" y1="504.4" x2="227.8" y2="505.9" stroke="#333" stroke-width="0.7"/>
<text x="227.8" y="511.6" font-size="4.6" text-anchor="middle" style="stroke-width:0.05px">100</text>
<text x="67.4" y="445.5" font-size="7.7" text-anchor="middle" transform="rotate(-90 67.4 445.5)">Synaptic release probability</text>
<text x="153.5" y="518.8" font-size="7.4" text-anchor="middle">Number of pulses</text>
<text x="136.6" y="399.1" font-size="7.6">MK-801</text>
<line x1="184.5" y1="390.5" x2="200.8" y2="390.5" stroke="#d4d4d4" stroke-width="1"/>
<line x1="184.5" y1="399.5" x2="200.8" y2="399.5" stroke="#444" stroke-width="0.9"/>
<text x="205.7" y="392.8" font-size="5.4">WT</text>
<text x="205.7" y="401" font-size="5.4">KO</text>
<line x1="86.59" y1="427.57" x2="86.59" y2="431.65" stroke="#b0b0b0" stroke-width="0.5"/>
<line x1="85.79" y1="427.57" x2="87.39" y2="427.57" stroke="#b0b0b0" stroke-width="0.5"/>
<line x1="85.79" y1="431.65" x2="87.39" y2="431.65" stroke="#b0b0b0" stroke-width="0.5"/>
<circle cx="86.59" cy="429.97" r="0.75" fill="#fff" stroke="#9a9a9a" stroke-width="0.5"/>
<line x1="88.04" y1="440.05" x2="88.04" y2="443.86" stroke="#b0b0b0" stroke-width="0.5"/>
<line x1="87.24" y1="440.05" x2="88.84" y2="440.05" stroke="#b0b0b0" stroke-width="0.5"/>
<line x1="87.24" y1="443.86" x2="88.84" y2="443.86" stroke="#b0b0b0" stroke-width="0.5"/>
<circle cx="88.04" cy="442.29" r="0.75" fill="#fff" stroke="#9a9a9a" stroke-width="0.5"/>
<line x1="89.49" y1="453.37" x2="89.49" y2="457.49" stroke="#b0b0b0" stroke-width="0.5"/>
<line x1="88.69" y1="453.37" x2="90.29" y2="453.37" stroke="#b0b0b0" stroke-width="0.5"/>
<line x1="88.69" y1="457.49" x2="90.29" y2="457.49" stroke="#b0b0b0" stroke-width="0.5"/>
<circle cx="89.49" cy="455.79" r="0.75" fill="#fff" stroke="#9a9a9a" stroke-width="0.5"/>
<line x1="90.94" y1="458.43" x2="90.94" y2="462.45" stroke="#b0b0b0" stroke-width="0.5"/>
<line x1="90.14" y1="458.43" x2="91.73" y2="458.43" stroke="#b0b0b0" stroke-width="0.5"/>
<line x1="90.14" y1="462.45" x2="91.73" y2="462.45" stroke="#b0b0b0" stroke-width="0.5"/>
<circle cx="90.94" cy="460.8" r="0.75" fill="#fff" stroke="#9a9a9a" stroke-width="0.5"/>
<line x1="92.38" y1="460.66" x2="92.38" y2="466.38" stroke="#b0b0b0" stroke-width="0.5"/>
<line x1="91.58" y1="460.66" x2="93.18" y2="460.66" stroke="#b0b0b0" stroke-width="0.5"/>
<line x1="91.58" y1="466.38" x2="93.18" y2="466.38" stroke="#b0b0b0" stroke-width="0.5"/>
<circle cx="92.38" cy="464.03" r="0.75" fill="#fff" stroke="#9a9a9a" stroke-width="0.5"/>
<line x1="93.83" y1="461.75" x2="93.83" y2="466.61" stroke="#b0b0b0" stroke-width="0.5"/>
<line x1="93.03" y1="461.75" x2="94.63" y2="461.75" stroke="#b0b0b0" stroke-width="0.5"/>
<line x1="93.03" y1="466.61" x2="94.63" y2="466.61" stroke="#b0b0b0" stroke-width="0.5"/>
<circle cx="93.83" cy="464.6" r="0.75" fill="#fff" stroke="#9a9a9a" stroke-width="0.5"/>
<line x1="95.28" y1="468.22" x2="95.28" y2="472.04" stroke="#b0b0b0" stroke-width="0.5"/>
<line x1="94.48" y1="468.22" x2="96.08" y2="468.22" stroke="#b0b0b0" stroke-width="0.5"/>
<line x1="94.48" y1="472.04" x2="96.08" y2="472.04" stroke="#b0b0b0" stroke-width="0.5"/>
<circle cx="95.28" cy="470.47" r="0.75" fill="#fff" stroke="#9a9a9a" stroke-width="0.5"/>
<line x1="96.72" y1="464.38" x2="96.72" y2="469.95" stroke="#b0b0b0" stroke-width="0.5"/>
<line x1="95.92" y1="464.38" x2="97.52" y2="464.38" stroke="#b0b0b0" stroke-width="0.5"/>
<line x1="95.92" y1="469.95" x2="97.52" y2="469.95" stroke="#b0b0b0" stroke-width="0.5"/>
<circle cx="96.72" cy="467.66" r="0.75" fill="#fff" stroke="#9a9a9a" stroke-width="0.5"/>
<line x1="98.17" y1="465.08" x2="98.17" y2="469.7" stroke="#b0b0b0" stroke-width="0.5"/>
<line x1="97.37" y1="465.08" x2="98.97" y2="465.08" stroke="#b0b0b0" stroke-width="0.5"/>
<line x1="97.37" y1="469.7" x2="98.97" y2="469.7" stroke="#b0b0b0" stroke-width="0.5"/>
<circle cx="98.17" cy="467.8" r="0.75" fill="#fff" stroke="#9a9a9a" stroke-width="0.5"/>
<line x1="99.62" y1="466.69" x2="99.62" y2="472.38" stroke="#b0b0b0" stroke-width="0.5"/>
<line x1="98.82" y1="466.69" x2="100.42" y2="466.69" stroke="#b0b0b0" stroke-width="0.5"/>
<line x1="98.82" y1="472.38" x2="100.42" y2="472.38" stroke="#b0b0b0" stroke-width="0.5"/>
<circle cx="99.62" cy="470.04" r="0.75" fill="#fff" stroke="#9a9a9a" stroke-width="0.5"/>
<line x1="101.06" y1="467.91" x2="101.06" y2="472.91" stroke="#b0b0b0" stroke-width="0.5"/>
<line x1="100.26" y1="467.91" x2="101.86" y2="467.91" stroke="#b0b0b0" stroke-width="0.5"/>
<line x1="100.26" y1="472.91" x2="101.86" y2="472.91" stroke="#b0b0b0" stroke-width="0.5"/>
<circle cx="101.06" cy="470.85" r="0.75" fill="#fff" stroke="#9a9a9a" stroke-width="0.5"/>
<line x1="102.51" y1="468.48" x2="102.51" y2="473.35" stroke="#b0b0b0" stroke-width="0.5"/>
<line x1="101.71" y1="468.48" x2="103.31" y2="468.48" stroke="#b0b0b0" stroke-width="0.5"/>
<line x1="101.71" y1="473.35" x2="103.31" y2="473.35" stroke="#b0b0b0" stroke-width="0.5"/>
<circle cx="102.51" cy="471.34" r="0.75" fill="#fff" stroke="#9a9a9a" stroke-width="0.5"/>
<line x1="103.96" y1="469.92" x2="103.96" y2="474.02" stroke="#b0b0b0" stroke-width="0.5"/>
<line x1="103.16" y1="469.92" x2="104.76" y2="469.92" stroke="#b0b0b0" stroke-width="0.5"/>
<line x1="103.16" y1="474.02" x2="104.76" y2="474.02" stroke="#b0b0b0" stroke-width="0.5"/>
<circle cx="103.96" cy="472.33" r="0.75" fill="#fff" stroke="#9a9a9a" stroke-width="0.5"/>
<line x1="105.41" y1="471.89" x2="105.41" y2="475.55" stroke="#b0b0b0" stroke-width="0.5"/>
<line x1="104.61" y1="471.89" x2="106.2" y2="471.89" stroke="#b0b0b0" stroke-width="0.5"/>
<line x1="104.61" y1="475.55" x2="106.2" y2="475.55" stroke="#b0b0b0" stroke-width="0.5"/>
<circle cx="105.41" cy="474.04" r="0.75" fill="#fff" stroke="#9a9a9a" stroke-width="0.5"/>
<line x1="106.85" y1="471.6" x2="106.85" y2="475.78" stroke="#b0b0b0" stroke-width="0.5"/>
<line x1="106.05" y1="471.6" x2="107.65" y2="471.6" stroke="#b0b0b0" stroke-width="0.5"/>
<line x1="106.05" y1="475.78" x2="107.65" y2="475.78" stroke="#b0b0b0" stroke-width="0.5"/>
<circle cx="106.85" cy="474.06" r="0.75" fill="#fff" stroke="#9a9a9a" stroke-width="0.5"/>
<line x1="108.3" y1="471" x2="108.3" y2="476.44" stroke="#b0b0b0" stroke-width="0.5"/>
<line x1="107.5" y1="471" x2="109.1" y2="471" stroke="#b0b0b0" stroke-width="0.5"/>
<line x1="107.5" y1="476.44" x2="109.1" y2="476.44" stroke="#b0b0b0" stroke-width="0.5"/>
<circle cx="108.3" cy="474.2" r="0.75" fill="#fff" stroke="#9a9a9a" stroke-width="0.5"/>
<line x1="109.75" y1="474.33" x2="109.75" y2="478.21" stroke="#b0b0b0" stroke-width="0.5"/>
<line x1="108.95" y1="474.33" x2="110.55" y2="474.33" stroke="#b0b0b0" stroke-width="0.5"/>
<line x1="108.95" y1="478.21" x2="110.55" y2="478.21" stroke="#b0b0b0" stroke-width="0.5"/>
<circle cx="109.75" cy="476.61" r="0.75" fill="#fff" stroke="#9a9a9a" stroke-width="0.5"/>
<line x1="111.19" y1="475.28" x2="111.19" y2="479.01" stroke="#b0b0b0" stroke-width="0.5"/>
<line x1="110.39" y1="475.28" x2="111.99" y2="475.28" stroke="#b0b0b0" stroke-width="0.5"/>
<line x1="110.39" y1="479.01" x2="111.99" y2="479.01" stroke="#b0b0b0" stroke-width="0.5"/>
<circle cx="111.19" cy="477.48" r="0.75" fill="#fff" stroke="#9a9a9a" stroke-width="0.5"/>
<line x1="112.64" y1="479.03" x2="112.64" y2="482.76" stroke="#b0b0b0" stroke-width="0.5"/>
<line x1="111.84" y1="479.03" x2="113.44" y2="479.03" stroke="#b0b0b0" stroke-width="0.5"/>
<line x1="111.84" y1="482.76" x2="113.44" y2="482.76" stroke="#b0b0b0" stroke-width="0.5"/>
<circle cx="112.64" cy="481.23" r="0.75" fill="#fff" stroke="#9a9a9a" stroke-width="0.5"/>
<line x1="114.09" y1="476.89" x2="114.09" y2="482.22" stroke="#b0b0b0" stroke-width="0.5"/>
<line x1="113.29" y1="476.89" x2="114.89" y2="476.89" stroke="#b0b0b0" stroke-width="0.5"/>
<line x1="113.29" y1="482.22" x2="114.89" y2="482.22" stroke="#b0b0b0" stroke-width="0.5"/>
<circle cx="114.09" cy="480.03" r="0.75" fill="#fff" stroke="#9a9a9a" stroke-width="0.5"/>
<line x1="115.53" y1="477.13" x2="115.53" y2="481.35" stroke="#b0b0b0" stroke-width="0.5"/>
<line x1="114.73" y1="477.13" x2="116.33" y2="477.13" stroke="#b0b0b0" stroke-width="0.5"/>
<line x1="114.73" y1="481.35" x2="116.33" y2="481.35" stroke="#b0b0b0" stroke-width="0.5"/>
<circle cx="115.53" cy="479.61" r="0.75" fill="#fff" stroke="#9a9a9a" stroke-width="0.5"/>
<line x1="116.98" y1="476.56" x2="116.98" y2="480.37" stroke="#b0b0b0" stroke-width="0.5"/>
<line x1="116.18" y1="476.56" x2="117.78" y2="476.56" stroke="#b0b0b0" stroke-width="0.5"/>
<line x1="116.18" y1="480.37" x2="117.78" y2="480.37" stroke="#b0b0b0" stroke-width="0.5"/>
<circle cx="116.98" cy="478.8" r="0.75" fill="#fff" stroke="#9a9a9a" stroke-width="0.5"/>
<line x1="118.43" y1="477.97" x2="118.43" y2="482.31" stroke="#b0b0b0" stroke-width="0.5"/>
<line x1="117.63" y1="477.97" x2="119.23" y2="477.97" stroke="#b0b0b0" stroke-width="0.5"/>
<line x1="117.63" y1="482.31" x2="119.23" y2="482.31" stroke="#b0b0b0" stroke-width="0.5"/>
<circle cx="118.43" cy="480.52" r="0.75" fill="#fff" stroke="#9a9a9a" stroke-width="0.5"/>
<line x1="119.88" y1="472.6" x2="119.88" y2="476.46" stroke="#b0b0b0" stroke-width="0.5"/>
<line x1="119.08" y1="472.6" x2="120.67" y2="472.6" stroke="#b0b0b0" stroke-width="0.5"/>
<line x1="119.08" y1="476.46" x2="120.67" y2="476.46" stroke="#b0b0b0" stroke-width="0.5"/>
<circle cx="119.88" cy="474.87" r="0.75" fill="#fff" stroke="#9a9a9a" stroke-width="0.5"/>
<line x1="121.32" y1="476.99" x2="121.32" y2="485.31" stroke="#b0b0b0" stroke-width="0.5"/>
<line x1="120.52" y1="476.99" x2="122.12" y2="476.99" stroke="#b0b0b0" stroke-width="0.5"/>
<line x1="120.52" y1="485.31" x2="122.12" y2="485.31" stroke="#b0b0b0" stroke-width="0.5"/>
<circle cx="121.32" cy="481.88" r="0.75" fill="#fff" stroke="#9a9a9a" stroke-width="0.5"/>
<line x1="122.77" y1="479.26" x2="122.77" y2="483.28" stroke="#b0b0b0" stroke-width="0.5"/>
<line x1="121.97" y1="479.26" x2="123.57" y2="479.26" stroke="#b0b0b0" stroke-width="0.5"/>
<line x1="121.97" y1="483.28" x2="123.57" y2="483.28" stroke="#b0b0b0" stroke-width="0.5"/>
<circle cx="122.77" cy="481.62" r="0.75" fill="#fff" stroke="#9a9a9a" stroke-width="0.5"/>
<line x1="124.22" y1="479.14" x2="124.22" y2="485.13" stroke="#b0b0b0" stroke-width="0.5"/>
<line x1="123.42" y1="479.14" x2="125.02" y2="479.14" stroke="#b0b0b0" stroke-width="0.5"/>
<line x1="123.42" y1="485.13" x2="125.02" y2="485.13" stroke="#b0b0b0" stroke-width="0.5"/>
<circle cx="124.22" cy="482.67" r="0.75" fill="#fff" stroke="#9a9a9a" stroke-width="0.5"/>
<line x1="125.66" y1="478.22" x2="125.66" y2="482.81" stroke="#b0b0b0" stroke-width="0.5"/>
<line x1="124.86" y1="478.22" x2="126.46" y2="478.22" stroke="#b0b0b0" stroke-width="0.5"/>
<line x1="124.86" y1="482.81" x2="126.46" y2="482.81" stroke="#b0b0b0" stroke-width="0.5"/>
<circle cx="125.66" cy="480.92" r="0.75" fill="#fff" stroke="#9a9a9a" stroke-width="0.5"/>
<line x1="127.11" y1="481.28" x2="127.11" y2="486.02" stroke="#b0b0b0" stroke-width="0.5"/>
<line x1="126.31" y1="481.28" x2="127.91" y2="481.28" stroke="#b0b0b0" stroke-width="0.5"/>
<line x1="126.31" y1="486.02" x2="127.91" y2="486.02" stroke="#b0b0b0" stroke-width="0.5"/>
<circle cx="127.11" cy="484.07" r="0.75" fill="#fff" stroke="#9a9a9a" stroke-width="0.5"/>
<line x1="128.56" y1="474.36" x2="128.56" y2="485.67" stroke="#b0b0b0" stroke-width="0.5"/>
<line x1="127.76" y1="474.36" x2="129.36" y2="474.36" stroke="#b0b0b0" stroke-width="0.5"/>
<line x1="127.76" y1="485.67" x2="129.36" y2="485.67" stroke="#b0b0b0" stroke-width="0.5"/>
<circle cx="128.56" cy="481.01" r="0.75" fill="#fff" stroke="#9a9a9a" stroke-width="0.5"/>
<line x1="130" y1="479.92" x2="130" y2="485.25" stroke="#b0b0b0" stroke-width="0.5"/>
<line x1="129.2" y1="479.92" x2="130.8" y2="479.92" stroke="#b0b0b0" stroke-width="0.5"/>
<line x1="129.2" y1="485.25" x2="130.8" y2="485.25" stroke="#b0b0b0" stroke-width="0.5"/>
<circle cx="130" cy="483.06" r="0.75" fill="#fff" stroke="#9a9a9a" stroke-width="0.5"/>
<line x1="131.45" y1="479.97" x2="131.45" y2="485.7" stroke="#b0b0b0" stroke-width="0.5"/>
<line x1="130.65" y1="479.97" x2="132.25" y2="479.97" stroke="#b0b0b0" stroke-width="0.5"/>
<line x1="130.65" y1="485.7" x2="132.25" y2="485.7" stroke="#b0b0b0" stroke-width="0.5"/>
<circle cx="131.45" cy="483.34" r="0.75" fill="#fff" stroke="#9a9a9a" stroke-width="0.5"/>
<line x1="132.9" y1="479.09" x2="132.9" y2="484.21" stroke="#b0b0b0" stroke-width="0.5"/>
<line x1="132.1" y1="479.09" x2="133.7" y2="479.09" stroke="#b0b0b0" stroke-width="0.5"/>
<line x1="132.1" y1="484.21" x2="133.7" y2="484.21" stroke="#b0b0b0" stroke-width="0.5"/>
<circle cx="132.9" cy="482.11" r="0.75" fill="#fff" stroke="#9a9a9a" stroke-width="0.5"/>
<line x1="134.34" y1="481.74" x2="134.34" y2="485.81" stroke="#b0b0b0" stroke-width="0.5"/>
<line x1="133.54" y1="481.74" x2="135.15" y2="481.74" stroke="#b0b0b0" stroke-width="0.5"/>
<line x1="133.54" y1="485.81" x2="135.15" y2="485.81" stroke="#b0b0b0" stroke-width="0.5"/>
<circle cx="134.34" cy="484.14" r="0.75" fill="#fff" stroke="#9a9a9a" stroke-width="0.5"/>
<line x1="135.79" y1="480.39" x2="135.79" y2="486.2" stroke="#b0b0b0" stroke-width="0.5"/>
<line x1="134.99" y1="480.39" x2="136.59" y2="480.39" stroke="#b0b0b0" stroke-width="0.5"/>
<line x1="134.99" y1="486.2" x2="136.59" y2="486.2" stroke="#b0b0b0" stroke-width="0.5"/>
<circle cx="135.79" cy="483.81" r="0.75" fill="#fff" stroke="#9a9a9a" stroke-width="0.5"/>
<line x1="137.24" y1="480.62" x2="137.24" y2="487.5" stroke="#b0b0b0" stroke-width="0.5"/>
<line x1="136.44" y1="480.62" x2="138.04" y2="480.62" stroke="#b0b0b0" stroke-width="0.5"/>
<line x1="136.44" y1="487.5" x2="138.04" y2="487.5" stroke="#b0b0b0" stroke-width="0.5"/>
<circle cx="137.24" cy="484.67" r="0.75" fill="#fff" stroke="#9a9a9a" stroke-width="0.5"/>
<line x1="138.69" y1="479.33" x2="138.69" y2="488.05" stroke="#b0b0b0" stroke-width="0.5"/>
<line x1="137.89" y1="479.33" x2="139.49" y2="479.33" stroke="#b0b0b0" stroke-width="0.5"/>
<line x1="137.89" y1="488.05" x2="139.49" y2="488.05" stroke="#b0b0b0" stroke-width="0.5"/>
<circle cx="138.69" cy="484.46" r="0.75" fill="#fff" stroke="#9a9a9a" stroke-width="0.5"/>
<line x1="140.13" y1="483.54" x2="140.13" y2="490" stroke="#b0b0b0" stroke-width="0.5"/>
<line x1="139.33" y1="483.54" x2="140.93" y2="483.54" stroke="#b0b0b0" stroke-width="0.5"/>
<line x1="139.33" y1="490" x2="140.93" y2="490" stroke="#b0b0b0" stroke-width="0.5"/>
<circle cx="140.13" cy="487.34" r="0.75" fill="#fff" stroke="#9a9a9a" stroke-width="0.5"/>
<line x1="141.58" y1="483.14" x2="141.58" y2="487.83" stroke="#b0b0b0" stroke-width="0.5"/>
<line x1="140.78" y1="483.14" x2="142.38" y2="483.14" stroke="#b0b0b0" stroke-width="0.5"/>
<line x1="140.78" y1="487.83" x2="142.38" y2="487.83" stroke="#b0b0b0" stroke-width="0.5"/>
<circle cx="141.58" cy="485.9" r="0.75" fill="#fff" stroke="#9a9a9a" stroke-width="0.5"/>
<line x1="143.03" y1="483.04" x2="143.03" y2="487.31" stroke="#b0b0b0" stroke-width="0.5"/>
<line x1="142.23" y1="483.04" x2="143.83" y2="483.04" stroke="#b0b0b0" stroke-width="0.5"/>
<line x1="142.23" y1="487.31" x2="143.83" y2="487.31" stroke="#b0b0b0" stroke-width="0.5"/>
<circle cx="143.03" cy="485.55" r="0.75" fill="#fff" stroke="#9a9a9a" stroke-width="0.5"/>
<line x1="144.47" y1="479.22" x2="144.47" y2="487.11" stroke="#b0b0b0" stroke-width="0.5"/>
<line x1="143.67" y1="479.22" x2="145.27" y2="479.22" stroke="#b0b0b0" stroke-width="0.5"/>
<line x1="143.67" y1="487.11" x2="145.27" y2="487.11" stroke="#b0b0b0" stroke-width="0.5"/>
<circle cx="144.47" cy="483.86" r="0.75" fill="#fff" stroke="#9a9a9a" stroke-width="0.5"/>
<line x1="145.92" y1="479.28" x2="145.92" y2="490.55" stroke="#b0b0b0" stroke-width="0.5"/>
<line x1="145.12" y1="479.28" x2="146.72" y2="479.28" stroke="#b0b0b0" stroke-width="0.5"/>
<line x1="145.12" y1="490.55" x2="146.72" y2="490.55" stroke="#b0b0b0" stroke-width="0.5"/>
<circle cx="145.92" cy="485.91" r="0.75" fill="#fff" stroke="#9a9a9a" stroke-width="0.5"/>
<line x1="147.37" y1="482.16" x2="147.37" y2="487.7" stroke="#b0b0b0" stroke-width="0.5"/>
<line x1="146.57" y1="482.16" x2="148.17" y2="482.16" stroke="#b0b0b0" stroke-width="0.5"/>
<line x1="146.57" y1="487.7" x2="148.17" y2="487.7" stroke="#b0b0b0" stroke-width="0.5"/>
<circle cx="147.37" cy="485.42" r="0.75" fill="#fff" stroke="#9a9a9a" stroke-width="0.5"/>
<line x1="148.81" y1="482.12" x2="148.81" y2="486.15" stroke="#b0b0b0" stroke-width="0.5"/>
<line x1="148.01" y1="482.12" x2="149.62" y2="482.12" stroke="#b0b0b0" stroke-width="0.5"/>
<line x1="148.01" y1="486.15" x2="149.62" y2="486.15" stroke="#b0b0b0" stroke-width="0.5"/>
<circle cx="148.81" cy="484.49" r="0.75" fill="#fff" stroke="#9a9a9a" stroke-width="0.5"/>
<line x1="150.26" y1="484.41" x2="150.26" y2="488.46" stroke="#b0b0b0" stroke-width="0.5"/>
<line x1="149.46" y1="484.41" x2="151.06" y2="484.41" stroke="#b0b0b0" stroke-width="0.5"/>
<line x1="149.46" y1="488.46" x2="151.06" y2="488.46" stroke="#b0b0b0" stroke-width="0.5"/>
<circle cx="150.26" cy="486.79" r="0.75" fill="#fff" stroke="#9a9a9a" stroke-width="0.5"/>
<line x1="151.71" y1="481.22" x2="151.71" y2="493.36" stroke="#b0b0b0" stroke-width="0.5"/>
<line x1="150.91" y1="481.22" x2="152.51" y2="481.22" stroke="#b0b0b0" stroke-width="0.5"/>
<line x1="150.91" y1="493.36" x2="152.51" y2="493.36" stroke="#b0b0b0" stroke-width="0.5"/>
<circle cx="151.71" cy="488.36" r="0.75" fill="#fff" stroke="#9a9a9a" stroke-width="0.5"/>
<line x1="153.16" y1="485.83" x2="153.16" y2="490.4" stroke="#b0b0b0" stroke-width="0.5"/>
<line x1="152.36" y1="485.83" x2="153.96" y2="485.83" stroke="#b0b0b0" stroke-width="0.5"/>
<line x1="152.36" y1="490.4" x2="153.96" y2="490.4" stroke="#b0b0b0" stroke-width="0.5"/>
<circle cx="153.16" cy="488.52" r="0.75" fill="#fff" stroke="#9a9a9a" stroke-width="0.5"/>
<line x1="154.6" y1="484.94" x2="154.6" y2="491.36" stroke="#b0b0b0" stroke-width="0.5"/>
<line x1="153.8" y1="484.94" x2="155.4" y2="484.94" stroke="#b0b0b0" stroke-width="0.5"/>
<line x1="153.8" y1="491.36" x2="155.4" y2="491.36" stroke="#b0b0b0" stroke-width="0.5"/>
<circle cx="154.6" cy="488.71" r="0.75" fill="#fff" stroke="#9a9a9a" stroke-width="0.5"/>
<line x1="156.05" y1="482.88" x2="156.05" y2="489.85" stroke="#b0b0b0" stroke-width="0.5"/>
<line x1="155.25" y1="482.88" x2="156.85" y2="482.88" stroke="#b0b0b0" stroke-width="0.5"/>
<line x1="155.25" y1="489.85" x2="156.85" y2="489.85" stroke="#b0b0b0" stroke-width="0.5"/>
<circle cx="156.05" cy="486.98" r="0.75" fill="#fff" stroke="#9a9a9a" stroke-width="0.5"/>
<line x1="157.5" y1="480.67" x2="157.5" y2="491.78" stroke="#b0b0b0" stroke-width="0.5"/>
<line x1="156.7" y1="480.67" x2="158.3" y2="480.67" stroke="#b0b0b0" stroke-width="0.5"/>
<line x1="156.7" y1="491.78" x2="158.3" y2="491.78" stroke="#b0b0b0" stroke-width="0.5"/>
<circle cx="157.5" cy="487.21" r="0.75" fill="#fff" stroke="#9a9a9a" stroke-width="0.5"/>
<line x1="158.94" y1="485.27" x2="158.94" y2="489.13" stroke="#b0b0b0" stroke-width="0.5"/>
<line x1="158.14" y1="485.27" x2="159.74" y2="485.27" stroke="#b0b0b0" stroke-width="0.5"/>
<line x1="158.14" y1="489.13" x2="159.74" y2="489.13" stroke="#b0b0b0" stroke-width="0.5"/>
<circle cx="158.94" cy="487.54" r="0.75" fill="#fff" stroke="#9a9a9a" stroke-width="0.5"/>
<line x1="160.39" y1="481.19" x2="160.39" y2="486.57" stroke="#b0b0b0" stroke-width="0.5"/>
<line x1="159.59" y1="481.19" x2="161.19" y2="481.19" stroke="#b0b0b0" stroke-width="0.5"/>
<line x1="159.59" y1="486.57" x2="161.19" y2="486.57" stroke="#b0b0b0" stroke-width="0.5"/>
<circle cx="160.39" cy="484.35" r="0.75" fill="#fff" stroke="#9a9a9a" stroke-width="0.5"/>
<line x1="161.84" y1="483.62" x2="161.84" y2="487.36" stroke="#b0b0b0" stroke-width="0.5"/>
<line x1="161.04" y1="483.62" x2="162.64" y2="483.62" stroke="#b0b0b0" stroke-width="0.5"/>
<line x1="161.04" y1="487.36" x2="162.64" y2="487.36" stroke="#b0b0b0" stroke-width="0.5"/>
<circle cx="161.84" cy="485.82" r="0.75" fill="#fff" stroke="#9a9a9a" stroke-width="0.5"/>
<line x1="163.29" y1="485.76" x2="163.29" y2="490.12" stroke="#b0b0b0" stroke-width="0.5"/>
<line x1="162.49" y1="485.76" x2="164.09" y2="485.76" stroke="#b0b0b0" stroke-width="0.5"/>
<line x1="162.49" y1="490.12" x2="164.09" y2="490.12" stroke="#b0b0b0" stroke-width="0.5"/>
<circle cx="163.29" cy="488.32" r="0.75" fill="#fff" stroke="#9a9a9a" stroke-width="0.5"/>
<line x1="164.73" y1="488.27" x2="164.73" y2="492.45" stroke="#b0b0b0" stroke-width="0.5"/>
<line x1="163.93" y1="488.27" x2="165.53" y2="488.27" stroke="#b0b0b0" stroke-width="0.5"/>
<line x1="163.93" y1="492.45" x2="165.53" y2="492.45" stroke="#b0b0b0" stroke-width="0.5"/>
<circle cx="164.73" cy="490.73" r="0.75" fill="#fff" stroke="#9a9a9a" stroke-width="0.5"/>
<line x1="166.18" y1="484.49" x2="166.18" y2="488.3" stroke="#b0b0b0" stroke-width="0.5"/>
<line x1="165.38" y1="484.49" x2="166.98" y2="484.49" stroke="#b0b0b0" stroke-width="0.5"/>
<line x1="165.38" y1="488.3" x2="166.98" y2="488.3" stroke="#b0b0b0" stroke-width="0.5"/>
<circle cx="166.18" cy="486.73" r="0.75" fill="#fff" stroke="#9a9a9a" stroke-width="0.5"/>
<line x1="167.63" y1="482.6" x2="167.63" y2="487.84" stroke="#b0b0b0" stroke-width="0.5"/>
<line x1="166.83" y1="482.6" x2="168.43" y2="482.6" stroke="#b0b0b0" stroke-width="0.5"/>
<line x1="166.83" y1="487.84" x2="168.43" y2="487.84" stroke="#b0b0b0" stroke-width="0.5"/>
<circle cx="167.63" cy="485.68" r="0.75" fill="#fff" stroke="#9a9a9a" stroke-width="0.5"/>
<line x1="169.07" y1="483.48" x2="169.07" y2="495.57" stroke="#b0b0b0" stroke-width="0.5"/>
<line x1="168.27" y1="483.48" x2="169.87" y2="483.48" stroke="#b0b0b0" stroke-width="0.5"/>
<line x1="168.27" y1="495.57" x2="169.87" y2="495.57" stroke="#b0b0b0" stroke-width="0.5"/>
<circle cx="169.07" cy="490.6" r="0.75" fill="#fff" stroke="#9a9a9a" stroke-width="0.5"/>
<line x1="170.52" y1="485.3" x2="170.52" y2="490.88" stroke="#b0b0b0" stroke-width="0.5"/>
<line x1="169.72" y1="485.3" x2="171.32" y2="485.3" stroke="#b0b0b0" stroke-width="0.5"/>
<line x1="169.72" y1="490.88" x2="171.32" y2="490.88" stroke="#b0b0b0" stroke-width="0.5"/>
<circle cx="170.52" cy="488.59" r="0.75" fill="#fff" stroke="#9a9a9a" stroke-width="0.5"/>
<line x1="171.97" y1="483.81" x2="171.97" y2="490.58" stroke="#b0b0b0" stroke-width="0.5"/>
<line x1="171.17" y1="483.81" x2="172.77" y2="483.81" stroke="#b0b0b0" stroke-width="0.5"/>
<line x1="171.17" y1="490.58" x2="172.77" y2="490.58" stroke="#b0b0b0" stroke-width="0.5"/>
<circle cx="171.97" cy="487.8" r="0.75" fill="#fff" stroke="#9a9a9a" stroke-width="0.5"/>
<line x1="173.41" y1="484.61" x2="173.41" y2="490.33" stroke="#b0b0b0" stroke-width="0.5"/>
<line x1="172.61" y1="484.61" x2="174.21" y2="484.61" stroke="#b0b0b0" stroke-width="0.5"/>
<line x1="172.61" y1="490.33" x2="174.21" y2="490.33" stroke="#b0b0b0" stroke-width="0.5"/>
<circle cx="173.41" cy="487.97" r="0.75" fill="#fff" stroke="#9a9a9a" stroke-width="0.5"/>
<line x1="174.86" y1="485.38" x2="174.86" y2="489.51" stroke="#b0b0b0" stroke-width="0.5"/>
<line x1="174.06" y1="485.38" x2="175.66" y2="485.38" stroke="#b0b0b0" stroke-width="0.5"/>
<line x1="174.06" y1="489.51" x2="175.66" y2="489.51" stroke="#b0b0b0" stroke-width="0.5"/>
<circle cx="174.86" cy="487.81" r="0.75" fill="#fff" stroke="#9a9a9a" stroke-width="0.5"/>
<line x1="176.31" y1="485.89" x2="176.31" y2="492.44" stroke="#b0b0b0" stroke-width="0.5"/>
<line x1="175.51" y1="485.89" x2="177.11" y2="485.89" stroke="#b0b0b0" stroke-width="0.5"/>
<line x1="175.51" y1="492.44" x2="177.11" y2="492.44" stroke="#b0b0b0" stroke-width="0.5"/>
<circle cx="176.31" cy="489.74" r="0.75" fill="#fff" stroke="#9a9a9a" stroke-width="0.5"/>
<line x1="177.75" y1="482.59" x2="177.75" y2="489.11" stroke="#b0b0b0" stroke-width="0.5"/>
<line x1="176.95" y1="482.59" x2="178.56" y2="482.59" stroke="#b0b0b0" stroke-width="0.5"/>
<line x1="176.95" y1="489.11" x2="178.56" y2="489.11" stroke="#b0b0b0" stroke-width="0.5"/>
<circle cx="177.75" cy="486.43" r="0.75" fill="#fff" stroke="#9a9a9a" stroke-width="0.5"/>
<line x1="179.2" y1="484.91" x2="179.2" y2="488.93" stroke="#b0b0b0" stroke-width="0.5"/>
<line x1="178.4" y1="484.91" x2="180" y2="484.91" stroke="#b0b0b0" stroke-width="0.5"/>
<line x1="178.4" y1="488.93" x2="180" y2="488.93" stroke="#b0b0b0" stroke-width="0.5"/>
<circle cx="179.2" cy="487.28" r="0.75" fill="#fff" stroke="#9a9a9a" stroke-width="0.5"/>
<line x1="180.65" y1="486.1" x2="180.65" y2="491.69" stroke="#b0b0b0" stroke-width="0.5"/>
<line x1="179.85" y1="486.1" x2="181.45" y2="486.1" stroke="#b0b0b0" stroke-width="0.5"/>
<line x1="179.85" y1="491.69" x2="181.45" y2="491.69" stroke="#b0b0b0" stroke-width="0.5"/>
<circle cx="180.65" cy="489.39" r="0.75" fill="#fff" stroke="#9a9a9a" stroke-width="0.5"/>
<line x1="182.1" y1="484.27" x2="182.1" y2="488.45" stroke="#b0b0b0" stroke-width="0.5"/>
<line x1="181.3" y1="484.27" x2="182.9" y2="484.27" stroke="#b0b0b0" stroke-width="0.5"/>
<line x1="181.3" y1="488.45" x2="182.9" y2="488.45" stroke="#b0b0b0" stroke-width="0.5"/>
<circle cx="182.1" cy="486.73" r="0.75" fill="#fff" stroke="#9a9a9a" stroke-width="0.5"/>
<line x1="183.54" y1="484.91" x2="183.54" y2="489.21" stroke="#b0b0b0" stroke-width="0.5"/>
<line x1="182.74" y1="484.91" x2="184.34" y2="484.91" stroke="#b0b0b0" stroke-width="0.5"/>
<line x1="182.74" y1="489.21" x2="184.34" y2="489.21" stroke="#b0b0b0" stroke-width="0.5"/>
<circle cx="183.54" cy="487.44" r="0.75" fill="#fff" stroke="#9a9a9a" stroke-width="0.5"/>
<line x1="184.99" y1="482.82" x2="184.99" y2="494.36" stroke="#b0b0b0" stroke-width="0.5"/>
<line x1="184.19" y1="482.82" x2="185.79" y2="482.82" stroke="#b0b0b0" stroke-width="0.5"/>
<line x1="184.19" y1="494.36" x2="185.79" y2="494.36" stroke="#b0b0b0" stroke-width="0.5"/>
<circle cx="184.99" cy="489.61" r="0.75" fill="#fff" stroke="#9a9a9a" stroke-width="0.5"/>
<line x1="186.44" y1="484.34" x2="186.44" y2="489.75" stroke="#b0b0b0" stroke-width="0.5"/>
<line x1="185.64" y1="484.34" x2="187.24" y2="484.34" stroke="#b0b0b0" stroke-width="0.5"/>
<line x1="185.64" y1="489.75" x2="187.24" y2="489.75" stroke="#b0b0b0" stroke-width="0.5"/>
<circle cx="186.44" cy="487.52" r="0.75" fill="#fff" stroke="#9a9a9a" stroke-width="0.5"/>
<line x1="187.88" y1="481.63" x2="187.88" y2="485.53" stroke="#b0b0b0" stroke-width="0.5"/>
<line x1="187.08" y1="481.63" x2="188.68" y2="481.63" stroke="#b0b0b0" stroke-width="0.5"/>
<line x1="187.08" y1="485.53" x2="188.68" y2="485.53" stroke="#b0b0b0" stroke-width="0.5"/>
<circle cx="187.88" cy="483.92" r="0.75" fill="#fff" stroke="#9a9a9a" stroke-width="0.5"/>
<line x1="189.33" y1="480.66" x2="189.33" y2="485.16" stroke="#b0b0b0" stroke-width="0.5"/>
<line x1="188.53" y1="480.66" x2="190.13" y2="480.66" stroke="#b0b0b0" stroke-width="0.5"/>
<line x1="188.53" y1="485.16" x2="190.13" y2="485.16" stroke="#b0b0b0" stroke-width="0.5"/>
<circle cx="189.33" cy="483.3" r="0.75" fill="#fff" stroke="#9a9a9a" stroke-width="0.5"/>
<line x1="190.78" y1="483.91" x2="190.78" y2="488.68" stroke="#b0b0b0" stroke-width="0.5"/>
<line x1="189.98" y1="483.91" x2="191.58" y2="483.91" stroke="#b0b0b0" stroke-width="0.5"/>
<line x1="189.98" y1="488.68" x2="191.58" y2="488.68" stroke="#b0b0b0" stroke-width="0.5"/>
<circle cx="190.78" cy="486.72" r="0.75" fill="#fff" stroke="#9a9a9a" stroke-width="0.5"/>
<line x1="192.23" y1="484.8" x2="192.23" y2="489.72" stroke="#b0b0b0" stroke-width="0.5"/>
<line x1="191.43" y1="484.8" x2="193.03" y2="484.8" stroke="#b0b0b0" stroke-width="0.5"/>
<line x1="191.43" y1="489.72" x2="193.03" y2="489.72" stroke="#b0b0b0" stroke-width="0.5"/>
<circle cx="192.23" cy="487.69" r="0.75" fill="#fff" stroke="#9a9a9a" stroke-width="0.5"/>
<line x1="193.67" y1="484.79" x2="193.67" y2="489.08" stroke="#b0b0b0" stroke-width="0.5"/>
<line x1="192.87" y1="484.79" x2="194.47" y2="484.79" stroke="#b0b0b0" stroke-width="0.5"/>
<line x1="192.87" y1="489.08" x2="194.47" y2="489.08" stroke="#b0b0b0" stroke-width="0.5"/>
<circle cx="193.67" cy="487.31" r="0.75" fill="#fff" stroke="#9a9a9a" stroke-width="0.5"/>
<line x1="195.12" y1="484.16" x2="195.12" y2="488.08" stroke="#b0b0b0" stroke-width="0.5"/>
<line x1="194.32" y1="484.16" x2="195.92" y2="484.16" stroke="#b0b0b0" stroke-width="0.5"/>
<line x1="194.32" y1="488.08" x2="195.92" y2="488.08" stroke="#b0b0b0" stroke-width="0.5"/>
<circle cx="195.12" cy="486.47" r="0.75" fill="#fff" stroke="#9a9a9a" stroke-width="0.5"/>
<line x1="196.57" y1="487.41" x2="196.57" y2="491.54" stroke="#b0b0b0" stroke-width="0.5"/>
<line x1="195.77" y1="487.41" x2="197.37" y2="487.41" stroke="#b0b0b0" stroke-width="0.5"/>
<line x1="195.77" y1="491.54" x2="197.37" y2="491.54" stroke="#b0b0b0" stroke-width="0.5"/>
<circle cx="196.57" cy="489.84" r="0.75" fill="#fff" stroke="#9a9a9a" stroke-width="0.5"/>
<line x1="198.01" y1="485.99" x2="198.01" y2="490.72" stroke="#b0b0b0" stroke-width="0.5"/>
<line x1="197.21" y1="485.99" x2="198.81" y2="485.99" stroke="#b0b0b0" stroke-width="0.5"/>
<line x1="197.21" y1="490.72" x2="198.81" y2="490.72" stroke="#b0b0b0" stroke-width="0.5"/>
<circle cx="198.01" cy="488.78" r="0.75" fill="#fff" stroke="#9a9a9a" stroke-width="0.5"/>
<line x1="199.46" y1="486.85" x2="199.46" y2="490.64" stroke="#b0b0b0" stroke-width="0.5"/>
<line x1="198.66" y1="486.85" x2="200.26" y2="486.85" stroke="#b0b0b0" stroke-width="0.5"/>
<line x1="198.66" y1="490.64" x2="200.26" y2="490.64" stroke="#b0b0b0" stroke-width="0.5"/>
<circle cx="199.46" cy="489.08" r="0.75" fill="#fff" stroke="#9a9a9a" stroke-width="0.5"/>
<line x1="200.91" y1="485.53" x2="200.91" y2="489.32" stroke="#b0b0b0" stroke-width="0.5"/>
<line x1="200.11" y1="485.53" x2="201.71" y2="485.53" stroke="#b0b0b0" stroke-width="0.5"/>
<line x1="200.11" y1="489.32" x2="201.71" y2="489.32" stroke="#b0b0b0" stroke-width="0.5"/>
<circle cx="200.91" cy="487.76" r="0.75" fill="#fff" stroke="#9a9a9a" stroke-width="0.5"/>
<line x1="202.35" y1="485.39" x2="202.35" y2="489.68" stroke="#b0b0b0" stroke-width="0.5"/>
<line x1="201.55" y1="485.39" x2="203.15" y2="485.39" stroke="#b0b0b0" stroke-width="0.5"/>
<line x1="201.55" y1="489.68" x2="203.15" y2="489.68" stroke="#b0b0b0" stroke-width="0.5"/>
<circle cx="202.35" cy="487.92" r="0.75" fill="#fff" stroke="#9a9a9a" stroke-width="0.5"/>
<line x1="203.8" y1="483.41" x2="203.8" y2="489.23" stroke="#b0b0b0" stroke-width="0.5"/>
<line x1="203" y1="483.41" x2="204.6" y2="483.41" stroke="#b0b0b0" stroke-width="0.5"/>
<line x1="203" y1="489.23" x2="204.6" y2="489.23" stroke="#b0b0b0" stroke-width="0.5"/>
<circle cx="203.8" cy="486.83" r="0.75" fill="#fff" stroke="#9a9a9a" stroke-width="0.5"/>
<line x1="205.25" y1="484.47" x2="205.25" y2="488.68" stroke="#b0b0b0" stroke-width="0.5"/>
<line x1="204.45" y1="484.47" x2="206.05" y2="484.47" stroke="#b0b0b0" stroke-width="0.5"/>
<line x1="204.45" y1="488.68" x2="206.05" y2="488.68" stroke="#b0b0b0" stroke-width="0.5"/>
<circle cx="205.25" cy="486.95" r="0.75" fill="#fff" stroke="#9a9a9a" stroke-width="0.5"/>
<line x1="206.69" y1="481.64" x2="206.69" y2="490.42" stroke="#b0b0b0" stroke-width="0.5"/>
<line x1="205.89" y1="481.64" x2="207.5" y2="481.64" stroke="#b0b0b0" stroke-width="0.5"/>
<line x1="205.89" y1="490.42" x2="207.5" y2="490.42" stroke="#b0b0b0" stroke-width="0.5"/>
<circle cx="206.69" cy="486.81" r="0.75" fill="#fff" stroke="#9a9a9a" stroke-width="0.5"/>
<line x1="208.14" y1="481.51" x2="208.14" y2="487.8" stroke="#b0b0b0" stroke-width="0.5"/>
<line x1="207.34" y1="481.51" x2="208.94" y2="481.51" stroke="#b0b0b0" stroke-width="0.5"/>
<line x1="207.34" y1="487.8" x2="208.94" y2="487.8" stroke="#b0b0b0" stroke-width="0.5"/>
<circle cx="208.14" cy="485.21" r="0.75" fill="#fff" stroke="#9a9a9a" stroke-width="0.5"/>
<line x1="209.59" y1="480.97" x2="209.59" y2="487.11" stroke="#b0b0b0" stroke-width="0.5"/>
<line x1="208.79" y1="480.97" x2="210.39" y2="480.97" stroke="#b0b0b0" stroke-width="0.5"/>
<line x1="208.79" y1="487.11" x2="210.39" y2="487.11" stroke="#b0b0b0" stroke-width="0.5"/>
<circle cx="209.59" cy="484.58" r="0.75" fill="#fff" stroke="#9a9a9a" stroke-width="0.5"/>
<line x1="211.04" y1="485.71" x2="211.04" y2="490.71" stroke="#b0b0b0" stroke-width="0.5"/>
<line x1="210.24" y1="485.71" x2="211.84" y2="485.71" stroke="#b0b0b0" stroke-width="0.5"/>
<line x1="210.24" y1="490.71" x2="211.84" y2="490.71" stroke="#b0b0b0" stroke-width="0.5"/>
<circle cx="211.04" cy="488.65" r="0.75" fill="#fff" stroke="#9a9a9a" stroke-width="0.5"/>
<line x1="212.48" y1="487.42" x2="212.48" y2="491.16" stroke="#b0b0b0" stroke-width="0.5"/>
<line x1="211.68" y1="487.42" x2="213.28" y2="487.42" stroke="#b0b0b0" stroke-width="0.5"/>
<line x1="211.68" y1="491.16" x2="213.28" y2="491.16" stroke="#b0b0b0" stroke-width="0.5"/>
<circle cx="212.48" cy="489.62" r="0.75" fill="#fff" stroke="#9a9a9a" stroke-width="0.5"/>
<line x1="213.93" y1="486.44" x2="213.93" y2="490.89" stroke="#b0b0b0" stroke-width="0.5"/>
<line x1="213.13" y1="486.44" x2="214.73" y2="486.44" stroke="#b0b0b0" stroke-width="0.5"/>
<line x1="213.13" y1="490.89" x2="214.73" y2="490.89" stroke="#b0b0b0" stroke-width="0.5"/>
<circle cx="213.93" cy="489.06" r="0.75" fill="#fff" stroke="#9a9a9a" stroke-width="0.5"/>
<line x1="215.38" y1="487.77" x2="215.38" y2="492.06" stroke="#b0b0b0" stroke-width="0.5"/>
<line x1="214.58" y1="487.77" x2="216.18" y2="487.77" stroke="#b0b0b0" stroke-width="0.5"/>
<line x1="214.58" y1="492.06" x2="216.18" y2="492.06" stroke="#b0b0b0" stroke-width="0.5"/>
<circle cx="215.38" cy="490.29" r="0.75" fill="#fff" stroke="#9a9a9a" stroke-width="0.5"/>
<line x1="216.82" y1="486.74" x2="216.82" y2="490.85" stroke="#b0b0b0" stroke-width="0.5"/>
<line x1="216.02" y1="486.74" x2="217.62" y2="486.74" stroke="#b0b0b0" stroke-width="0.5"/>
<line x1="216.02" y1="490.85" x2="217.62" y2="490.85" stroke="#b0b0b0" stroke-width="0.5"/>
<circle cx="216.82" cy="489.16" r="0.75" fill="#fff" stroke="#9a9a9a" stroke-width="0.5"/>
<line x1="218.27" y1="485.9" x2="218.27" y2="490.62" stroke="#b0b0b0" stroke-width="0.5"/>
<line x1="217.47" y1="485.9" x2="219.07" y2="485.9" stroke="#b0b0b0" stroke-width="0.5"/>
<line x1="217.47" y1="490.62" x2="219.07" y2="490.62" stroke="#b0b0b0" stroke-width="0.5"/>
<circle cx="218.27" cy="488.68" r="0.75" fill="#fff" stroke="#9a9a9a" stroke-width="0.5"/>
<line x1="219.72" y1="483.49" x2="219.72" y2="490.03" stroke="#b0b0b0" stroke-width="0.5"/>
<line x1="218.92" y1="483.49" x2="220.52" y2="483.49" stroke="#b0b0b0" stroke-width="0.5"/>
<line x1="218.92" y1="490.03" x2="220.52" y2="490.03" stroke="#b0b0b0" stroke-width="0.5"/>
<circle cx="219.72" cy="487.33" r="0.75" fill="#fff" stroke="#9a9a9a" stroke-width="0.5"/>
<line x1="221.17" y1="483.47" x2="221.17" y2="489.23" stroke="#b0b0b0" stroke-width="0.5"/>
<line x1="220.37" y1="483.47" x2="221.97" y2="483.47" stroke="#b0b0b0" stroke-width="0.5"/>
<line x1="220.37" y1="489.23" x2="221.97" y2="489.23" stroke="#b0b0b0" stroke-width="0.5"/>
<circle cx="221.17" cy="486.86" r="0.75" fill="#fff" stroke="#9a9a9a" stroke-width="0.5"/>
<line x1="222.61" y1="487.64" x2="222.61" y2="492.16" stroke="#b0b0b0" stroke-width="0.5"/>
<line x1="221.81" y1="487.64" x2="223.41" y2="487.64" stroke="#b0b0b0" stroke-width="0.5"/>
<line x1="221.81" y1="492.16" x2="223.41" y2="492.16" stroke="#b0b0b0" stroke-width="0.5"/>
<circle cx="222.61" cy="490.3" r="0.75" fill="#fff" stroke="#9a9a9a" stroke-width="0.5"/>
<line x1="224.06" y1="483.01" x2="224.06" y2="488.8" stroke="#b0b0b0" stroke-width="0.5"/>
<line x1="223.26" y1="483.01" x2="224.86" y2="483.01" stroke="#b0b0b0" stroke-width="0.5"/>
<line x1="223.26" y1="488.8" x2="224.86" y2="488.8" stroke="#b0b0b0" stroke-width="0.5"/>
<circle cx="224.06" cy="486.42" r="0.75" fill="#fff" stroke="#9a9a9a" stroke-width="0.5"/>
<line x1="225.51" y1="482.88" x2="225.51" y2="494.43" stroke="#b0b0b0" stroke-width="0.5"/>
<line x1="224.71" y1="482.88" x2="226.31" y2="482.88" stroke="#b0b0b0" stroke-width="0.5"/>
<line x1="224.71" y1="494.43" x2="226.31" y2="494.43" stroke="#b0b0b0" stroke-width="0.5"/>
<circle cx="225.51" cy="489.67" r="0.75" fill="#fff" stroke="#9a9a9a" stroke-width="0.5"/>
<line x1="226.95" y1="487.43" x2="226.95" y2="491.79" stroke="#b0b0b0" stroke-width="0.5"/>
<line x1="226.15" y1="487.43" x2="227.75" y2="487.43" stroke="#b0b0b0" stroke-width="0.5"/>
<line x1="226.15" y1="491.79" x2="227.75" y2="491.79" stroke="#b0b0b0" stroke-width="0.5"/>
<circle cx="226.95" cy="489.99" r="0.75" fill="#fff" stroke="#9a9a9a" stroke-width="0.5"/>
<line x1="228.4" y1="485.54" x2="228.4" y2="492.55" stroke="#b0b0b0" stroke-width="0.5"/>
<line x1="227.6" y1="485.54" x2="229.2" y2="485.54" stroke="#b0b0b0" stroke-width="0.5"/>
<line x1="227.6" y1="492.55" x2="229.2" y2="492.55" stroke="#b0b0b0" stroke-width="0.5"/>
<circle cx="228.4" cy="489.66" r="0.75" fill="#fff" stroke="#9a9a9a" stroke-width="0.5"/>
<line x1="86.59" y1="431.45" x2="86.59" y2="436.26" stroke="#999" stroke-width="0.5"/>
<line x1="85.79" y1="431.45" x2="87.39" y2="431.45" stroke="#999" stroke-width="0.5"/>
<line x1="85.79" y1="436.26" x2="87.39" y2="436.26" stroke="#999" stroke-width="0.5"/>
<circle cx="86.59" cy="434.28" r="0.75" fill="#fff" stroke="#777" stroke-width="0.5"/>
<line x1="88.04" y1="449.3" x2="88.04" y2="459.88" stroke="#999" stroke-width="0.5"/>
<line x1="87.24" y1="449.3" x2="88.84" y2="449.3" stroke="#999" stroke-width="0.5"/>
<line x1="87.24" y1="459.88" x2="88.84" y2="459.88" stroke="#999" stroke-width="0.5"/>
<circle cx="88.04" cy="455.53" r="0.75" fill="#fff" stroke="#777" stroke-width="0.5"/>
<line x1="89.49" y1="460.99" x2="89.49" y2="464.24" stroke="#999" stroke-width="0.5"/>
<line x1="88.69" y1="460.99" x2="90.29" y2="460.99" stroke="#999" stroke-width="0.5"/>
<line x1="88.69" y1="464.24" x2="90.29" y2="464.24" stroke="#999" stroke-width="0.5"/>
<circle cx="89.49" cy="462.9" r="0.75" fill="#fff" stroke="#777" stroke-width="0.5"/>
<line x1="90.94" y1="466.53" x2="90.94" y2="470.27" stroke="#999" stroke-width="0.5"/>
<line x1="90.14" y1="466.53" x2="91.73" y2="466.53" stroke="#999" stroke-width="0.5"/>
<line x1="90.14" y1="470.27" x2="91.73" y2="470.27" stroke="#999" stroke-width="0.5"/>
<circle cx="90.94" cy="468.73" r="0.75" fill="#fff" stroke="#777" stroke-width="0.5"/>
<line x1="92.38" y1="468.58" x2="92.38" y2="471.64" stroke="#999" stroke-width="0.5"/>
<line x1="91.58" y1="468.58" x2="93.18" y2="468.58" stroke="#999" stroke-width="0.5"/>
<line x1="91.58" y1="471.64" x2="93.18" y2="471.64" stroke="#999" stroke-width="0.5"/>
<circle cx="92.38" cy="470.38" r="0.75" fill="#fff" stroke="#777" stroke-width="0.5"/>
<line x1="93.83" y1="471.15" x2="93.83" y2="475.65" stroke="#999" stroke-width="0.5"/>
<line x1="93.03" y1="471.15" x2="94.63" y2="471.15" stroke="#999" stroke-width="0.5"/>
<line x1="93.03" y1="475.65" x2="94.63" y2="475.65" stroke="#999" stroke-width="0.5"/>
<circle cx="93.83" cy="473.8" r="0.75" fill="#fff" stroke="#777" stroke-width="0.5"/>
<line x1="95.28" y1="474.54" x2="95.28" y2="479.26" stroke="#999" stroke-width="0.5"/>
<line x1="94.48" y1="474.54" x2="96.08" y2="474.54" stroke="#999" stroke-width="0.5"/>
<line x1="94.48" y1="479.26" x2="96.08" y2="479.26" stroke="#999" stroke-width="0.5"/>
<circle cx="95.28" cy="477.32" r="0.75" fill="#fff" stroke="#777" stroke-width="0.5"/>
<line x1="96.72" y1="476.22" x2="96.72" y2="480.97" stroke="#999" stroke-width="0.5"/>
<line x1="95.92" y1="476.22" x2="97.52" y2="476.22" stroke="#999" stroke-width="0.5"/>
<line x1="95.92" y1="480.97" x2="97.52" y2="480.97" stroke="#999" stroke-width="0.5"/>
<circle cx="96.72" cy="479.01" r="0.75" fill="#fff" stroke="#777" stroke-width="0.5"/>
<line x1="98.17" y1="478.76" x2="98.17" y2="484.33" stroke="#999" stroke-width="0.5"/>
<line x1="97.37" y1="478.76" x2="98.97" y2="478.76" stroke="#999" stroke-width="0.5"/>
<line x1="97.37" y1="484.33" x2="98.97" y2="484.33" stroke="#999" stroke-width="0.5"/>
<circle cx="98.17" cy="482.04" r="0.75" fill="#fff" stroke="#777" stroke-width="0.5"/>
<line x1="99.62" y1="471.96" x2="99.62" y2="482.55" stroke="#999" stroke-width="0.5"/>
<line x1="98.82" y1="471.96" x2="100.42" y2="471.96" stroke="#999" stroke-width="0.5"/>
<line x1="98.82" y1="482.55" x2="100.42" y2="482.55" stroke="#999" stroke-width="0.5"/>
<circle cx="99.62" cy="478.19" r="0.75" fill="#fff" stroke="#777" stroke-width="0.5"/>
<line x1="101.06" y1="482.47" x2="101.06" y2="485.98" stroke="#999" stroke-width="0.5"/>
<line x1="100.26" y1="482.47" x2="101.86" y2="482.47" stroke="#999" stroke-width="0.5"/>
<line x1="100.26" y1="485.98" x2="101.86" y2="485.98" stroke="#999" stroke-width="0.5"/>
<circle cx="101.06" cy="484.54" r="0.75" fill="#fff" stroke="#777" stroke-width="0.5"/>
<line x1="102.51" y1="477.2" x2="102.51" y2="481.99" stroke="#999" stroke-width="0.5"/>
<line x1="101.71" y1="477.2" x2="103.31" y2="477.2" stroke="#999" stroke-width="0.5"/>
<line x1="101.71" y1="481.99" x2="103.31" y2="481.99" stroke="#999" stroke-width="0.5"/>
<circle cx="102.51" cy="480.01" r="0.75" fill="#fff" stroke="#777" stroke-width="0.5"/>
<line x1="103.96" y1="479.13" x2="103.96" y2="483.82" stroke="#999" stroke-width="0.5"/>
<line x1="103.16" y1="479.13" x2="104.76" y2="479.13" stroke="#999" stroke-width="0.5"/>
<line x1="103.16" y1="483.82" x2="104.76" y2="483.82" stroke="#999" stroke-width="0.5"/>
<circle cx="103.96" cy="481.89" r="0.75" fill="#fff" stroke="#777" stroke-width="0.5"/>
<line x1="105.41" y1="480.74" x2="105.41" y2="485.48" stroke="#999" stroke-width="0.5"/>
<line x1="104.61" y1="480.74" x2="106.2" y2="480.74" stroke="#999" stroke-width="0.5"/>
<line x1="104.61" y1="485.48" x2="106.2" y2="485.48" stroke="#999" stroke-width="0.5"/>
<circle cx="105.41" cy="483.53" r="0.75" fill="#fff" stroke="#777" stroke-width="0.5"/>
<line x1="106.85" y1="482.6" x2="106.85" y2="487.78" stroke="#999" stroke-width="0.5"/>
<line x1="106.05" y1="482.6" x2="107.65" y2="482.6" stroke="#999" stroke-width="0.5"/>
<line x1="106.05" y1="487.78" x2="107.65" y2="487.78" stroke="#999" stroke-width="0.5"/>
<circle cx="106.85" cy="485.64" r="0.75" fill="#fff" stroke="#777" stroke-width="0.5"/>
<line x1="108.3" y1="482.98" x2="108.3" y2="486.15" stroke="#999" stroke-width="0.5"/>
<line x1="107.5" y1="482.98" x2="109.1" y2="482.98" stroke="#999" stroke-width="0.5"/>
<line x1="107.5" y1="486.15" x2="109.1" y2="486.15" stroke="#999" stroke-width="0.5"/>
<circle cx="108.3" cy="484.85" r="0.75" fill="#fff" stroke="#777" stroke-width="0.5"/>
<line x1="109.75" y1="482.04" x2="109.75" y2="487.92" stroke="#999" stroke-width="0.5"/>
<line x1="108.95" y1="482.04" x2="110.55" y2="482.04" stroke="#999" stroke-width="0.5"/>
<line x1="108.95" y1="487.92" x2="110.55" y2="487.92" stroke="#999" stroke-width="0.5"/>
<circle cx="109.75" cy="485.5" r="0.75" fill="#fff" stroke="#777" stroke-width="0.5"/>
<line x1="111.19" y1="483.31" x2="111.19" y2="487.31" stroke="#999" stroke-width="0.5"/>
<line x1="110.39" y1="483.31" x2="111.99" y2="483.31" stroke="#999" stroke-width="0.5"/>
<line x1="110.39" y1="487.31" x2="111.99" y2="487.31" stroke="#999" stroke-width="0.5"/>
<circle cx="111.19" cy="485.66" r="0.75" fill="#fff" stroke="#777" stroke-width="0.5"/>
<line x1="112.64" y1="483.72" x2="112.64" y2="487.5" stroke="#999" stroke-width="0.5"/>
<line x1="111.84" y1="483.72" x2="113.44" y2="483.72" stroke="#999" stroke-width="0.5"/>
<line x1="111.84" y1="487.5" x2="113.44" y2="487.5" stroke="#999" stroke-width="0.5"/>
<circle cx="112.64" cy="485.94" r="0.75" fill="#fff" stroke="#777" stroke-width="0.5"/>
<line x1="114.09" y1="485.06" x2="114.09" y2="489.95" stroke="#999" stroke-width="0.5"/>
<line x1="113.29" y1="485.06" x2="114.89" y2="485.06" stroke="#999" stroke-width="0.5"/>
<line x1="113.29" y1="489.95" x2="114.89" y2="489.95" stroke="#999" stroke-width="0.5"/>
<circle cx="114.09" cy="487.93" r="0.75" fill="#fff" stroke="#777" stroke-width="0.5"/>
<line x1="115.53" y1="482.33" x2="115.53" y2="485.34" stroke="#999" stroke-width="0.5"/>
<line x1="114.73" y1="482.33" x2="116.33" y2="482.33" stroke="#999" stroke-width="0.5"/>
<line x1="114.73" y1="485.34" x2="116.33" y2="485.34" stroke="#999" stroke-width="0.5"/>
<circle cx="115.53" cy="484.1" r="0.75" fill="#fff" stroke="#777" stroke-width="0.5"/>
<line x1="116.98" y1="487" x2="116.98" y2="490" stroke="#999" stroke-width="0.5"/>
<line x1="116.18" y1="487" x2="117.78" y2="487" stroke="#999" stroke-width="0.5"/>
<line x1="116.18" y1="490" x2="117.78" y2="490" stroke="#999" stroke-width="0.5"/>
<circle cx="116.98" cy="488.77" r="0.75" fill="#fff" stroke="#777" stroke-width="0.5"/>
<line x1="118.43" y1="487.54" x2="118.43" y2="491.84" stroke="#999" stroke-width="0.5"/>
<line x1="117.63" y1="487.54" x2="119.23" y2="487.54" stroke="#999" stroke-width="0.5"/>
<line x1="117.63" y1="491.84" x2="119.23" y2="491.84" stroke="#999" stroke-width="0.5"/>
<circle cx="118.43" cy="490.07" r="0.75" fill="#fff" stroke="#777" stroke-width="0.5"/>
<line x1="119.88" y1="485.12" x2="119.88" y2="488.66" stroke="#999" stroke-width="0.5"/>
<line x1="119.08" y1="485.12" x2="120.67" y2="485.12" stroke="#999" stroke-width="0.5"/>
<line x1="119.08" y1="488.66" x2="120.67" y2="488.66" stroke="#999" stroke-width="0.5"/>
<circle cx="119.88" cy="487.2" r="0.75" fill="#fff" stroke="#777" stroke-width="0.5"/>
<line x1="121.32" y1="486.97" x2="121.32" y2="490.13" stroke="#999" stroke-width="0.5"/>
<line x1="120.52" y1="486.97" x2="122.12" y2="486.97" stroke="#999" stroke-width="0.5"/>
<line x1="120.52" y1="490.13" x2="122.12" y2="490.13" stroke="#999" stroke-width="0.5"/>
<circle cx="121.32" cy="488.83" r="0.75" fill="#fff" stroke="#777" stroke-width="0.5"/>
<line x1="122.77" y1="484.65" x2="122.77" y2="489.81" stroke="#999" stroke-width="0.5"/>
<line x1="121.97" y1="484.65" x2="123.57" y2="484.65" stroke="#999" stroke-width="0.5"/>
<line x1="121.97" y1="489.81" x2="123.57" y2="489.81" stroke="#999" stroke-width="0.5"/>
<circle cx="122.77" cy="487.69" r="0.75" fill="#fff" stroke="#777" stroke-width="0.5"/>
<line x1="124.22" y1="486.15" x2="124.22" y2="491.38" stroke="#999" stroke-width="0.5"/>
<line x1="123.42" y1="486.15" x2="125.02" y2="486.15" stroke="#999" stroke-width="0.5"/>
<line x1="123.42" y1="491.38" x2="125.02" y2="491.38" stroke="#999" stroke-width="0.5"/>
<circle cx="124.22" cy="489.22" r="0.75" fill="#fff" stroke="#777" stroke-width="0.5"/>
<line x1="125.66" y1="490.29" x2="125.66" y2="494" stroke="#999" stroke-width="0.5"/>
<line x1="124.86" y1="490.29" x2="126.46" y2="490.29" stroke="#999" stroke-width="0.5"/>
<line x1="124.86" y1="494" x2="126.46" y2="494" stroke="#999" stroke-width="0.5"/>
<circle cx="125.66" cy="492.47" r="0.75" fill="#fff" stroke="#777" stroke-width="0.5"/>
<line x1="127.11" y1="488.12" x2="127.11" y2="491.7" stroke="#999" stroke-width="0.5"/>
<line x1="126.31" y1="488.12" x2="127.91" y2="488.12" stroke="#999" stroke-width="0.5"/>
<line x1="126.31" y1="491.7" x2="127.91" y2="491.7" stroke="#999" stroke-width="0.5"/>
<circle cx="127.11" cy="490.23" r="0.75" fill="#fff" stroke="#777" stroke-width="0.5"/>
<line x1="128.56" y1="489.5" x2="128.56" y2="493.12" stroke="#999" stroke-width="0.5"/>
<line x1="127.76" y1="489.5" x2="129.36" y2="489.5" stroke="#999" stroke-width="0.5"/>
<line x1="127.76" y1="493.12" x2="129.36" y2="493.12" stroke="#999" stroke-width="0.5"/>
<circle cx="128.56" cy="491.63" r="0.75" fill="#fff" stroke="#777" stroke-width="0.5"/>
<line x1="130" y1="488.79" x2="130" y2="492.79" stroke="#999" stroke-width="0.5"/>
<line x1="129.2" y1="488.79" x2="130.8" y2="488.79" stroke="#999" stroke-width="0.5"/>
<line x1="129.2" y1="492.79" x2="130.8" y2="492.79" stroke="#999" stroke-width="0.5"/>
<circle cx="130" cy="491.14" r="0.75" fill="#fff" stroke="#777" stroke-width="0.5"/>
<line x1="131.45" y1="487.5" x2="131.45" y2="490.94" stroke="#999" stroke-width="0.5"/>
<line x1="130.65" y1="487.5" x2="132.25" y2="487.5" stroke="#999" stroke-width="0.5"/>
<line x1="130.65" y1="490.94" x2="132.25" y2="490.94" stroke="#999" stroke-width="0.5"/>
<circle cx="131.45" cy="489.52" r="0.75" fill="#fff" stroke="#777" stroke-width="0.5"/>
<line x1="132.9" y1="488.04" x2="132.9" y2="499.92" stroke="#999" stroke-width="0.5"/>
<line x1="132.1" y1="488.04" x2="133.7" y2="488.04" stroke="#999" stroke-width="0.5"/>
<line x1="132.1" y1="499.92" x2="133.7" y2="499.92" stroke="#999" stroke-width="0.5"/>
<circle cx="132.9" cy="495.02" r="0.75" fill="#fff" stroke="#777" stroke-width="0.5"/>
<line x1="134.34" y1="488.53" x2="134.34" y2="492.49" stroke="#999" stroke-width="0.5"/>
<line x1="133.54" y1="488.53" x2="135.15" y2="488.53" stroke="#999" stroke-width="0.5"/>
<line x1="133.54" y1="492.49" x2="135.15" y2="492.49" stroke="#999" stroke-width="0.5"/>
<circle cx="134.34" cy="490.86" r="0.75" fill="#fff" stroke="#777" stroke-width="0.5"/>
<line x1="135.79" y1="487.25" x2="135.79" y2="493.02" stroke="#999" stroke-width="0.5"/>
<line x1="134.99" y1="487.25" x2="136.59" y2="487.25" stroke="#999" stroke-width="0.5"/>
<line x1="134.99" y1="493.02" x2="136.59" y2="493.02" stroke="#999" stroke-width="0.5"/>
<circle cx="135.79" cy="490.64" r="0.75" fill="#fff" stroke="#777" stroke-width="0.5"/>
<line x1="137.24" y1="491.24" x2="137.24" y2="496.08" stroke="#999" stroke-width="0.5"/>
<line x1="136.44" y1="491.24" x2="138.04" y2="491.24" stroke="#999" stroke-width="0.5"/>
<line x1="136.44" y1="496.08" x2="138.04" y2="496.08" stroke="#999" stroke-width="0.5"/>
<circle cx="137.24" cy="494.09" r="0.75" fill="#fff" stroke="#777" stroke-width="0.5"/>
<line x1="138.69" y1="488.7" x2="138.69" y2="492.21" stroke="#999" stroke-width="0.5"/>
<line x1="137.89" y1="488.7" x2="139.49" y2="488.7" stroke="#999" stroke-width="0.5"/>
<line x1="137.89" y1="492.21" x2="139.49" y2="492.21" stroke="#999" stroke-width="0.5"/>
<circle cx="138.69" cy="490.77" r="0.75" fill="#fff" stroke="#777" stroke-width="0.5"/>
<line x1="140.13" y1="488.1" x2="140.13" y2="491.56" stroke="#999" stroke-width="0.5"/>
<line x1="139.33" y1="488.1" x2="140.93" y2="488.1" stroke="#999" stroke-width="0.5"/>
<line x1="139.33" y1="491.56" x2="140.93" y2="491.56" stroke="#999" stroke-width="0.5"/>
<circle cx="140.13" cy="490.14" r="0.75" fill="#fff" stroke="#777" stroke-width="0.5"/>
<line x1="141.58" y1="490.89" x2="141.58" y2="494.01" stroke="#999" stroke-width="0.5"/>
<line x1="140.78" y1="490.89" x2="142.38" y2="490.89" stroke="#999" stroke-width="0.5"/>
<line x1="140.78" y1="494.01" x2="142.38" y2="494.01" stroke="#999" stroke-width="0.5"/>
<circle cx="141.58" cy="492.73" r="0.75" fill="#fff" stroke="#777" stroke-width="0.5"/>
<line x1="143.03" y1="490.08" x2="143.03" y2="493.73" stroke="#999" stroke-width="0.5"/>
<line x1="142.23" y1="490.08" x2="143.83" y2="490.08" stroke="#999" stroke-width="0.5"/>
<line x1="142.23" y1="493.73" x2="143.83" y2="493.73" stroke="#999" stroke-width="0.5"/>
<circle cx="143.03" cy="492.23" r="0.75" fill="#fff" stroke="#777" stroke-width="0.5"/>
<line x1="144.47" y1="491.11" x2="144.47" y2="494.28" stroke="#999" stroke-width="0.5"/>
<line x1="143.67" y1="491.11" x2="145.27" y2="491.11" stroke="#999" stroke-width="0.5"/>
<line x1="143.67" y1="494.28" x2="145.27" y2="494.28" stroke="#999" stroke-width="0.5"/>
<circle cx="144.47" cy="492.97" r="0.75" fill="#fff" stroke="#777" stroke-width="0.5"/>
<line x1="145.92" y1="483.98" x2="145.92" y2="494.97" stroke="#999" stroke-width="0.5"/>
<line x1="145.12" y1="483.98" x2="146.72" y2="483.98" stroke="#999" stroke-width="0.5"/>
<line x1="145.12" y1="494.97" x2="146.72" y2="494.97" stroke="#999" stroke-width="0.5"/>
<circle cx="145.92" cy="490.44" r="0.75" fill="#fff" stroke="#777" stroke-width="0.5"/>
<line x1="147.37" y1="489.52" x2="147.37" y2="493.15" stroke="#999" stroke-width="0.5"/>
<line x1="146.57" y1="489.52" x2="148.17" y2="489.52" stroke="#999" stroke-width="0.5"/>
<line x1="146.57" y1="493.15" x2="148.17" y2="493.15" stroke="#999" stroke-width="0.5"/>
<circle cx="147.37" cy="491.65" r="0.75" fill="#fff" stroke="#777" stroke-width="0.5"/>
<line x1="148.81" y1="489.13" x2="148.81" y2="495.7" stroke="#999" stroke-width="0.5"/>
<line x1="148.01" y1="489.13" x2="149.62" y2="489.13" stroke="#999" stroke-width="0.5"/>
<line x1="148.01" y1="495.7" x2="149.62" y2="495.7" stroke="#999" stroke-width="0.5"/>
<circle cx="148.81" cy="492.99" r="0.75" fill="#fff" stroke="#777" stroke-width="0.5"/>
<line x1="150.26" y1="488.26" x2="150.26" y2="491.45" stroke="#999" stroke-width="0.5"/>
<line x1="149.46" y1="488.26" x2="151.06" y2="488.26" stroke="#999" stroke-width="0.5"/>
<line x1="149.46" y1="491.45" x2="151.06" y2="491.45" stroke="#999" stroke-width="0.5"/>
<circle cx="150.26" cy="490.14" r="0.75" fill="#fff" stroke="#777" stroke-width="0.5"/>
<line x1="151.71" y1="489.77" x2="151.71" y2="494.07" stroke="#999" stroke-width="0.5"/>
<line x1="150.91" y1="489.77" x2="152.51" y2="489.77" stroke="#999" stroke-width="0.5"/>
<line x1="150.91" y1="494.07" x2="152.51" y2="494.07" stroke="#999" stroke-width="0.5"/>
<circle cx="151.71" cy="492.3" r="0.75" fill="#fff" stroke="#777" stroke-width="0.5"/>
<line x1="153.16" y1="490.48" x2="153.16" y2="496.98" stroke="#999" stroke-width="0.5"/>
<line x1="152.36" y1="490.48" x2="153.96" y2="490.48" stroke="#999" stroke-width="0.5"/>
<line x1="152.36" y1="496.98" x2="153.96" y2="496.98" stroke="#999" stroke-width="0.5"/>
<circle cx="153.16" cy="494.3" r="0.75" fill="#fff" stroke="#777" stroke-width="0.5"/>
<line x1="154.6" y1="490.27" x2="154.6" y2="494.59" stroke="#999" stroke-width="0.5"/>
<line x1="153.8" y1="490.27" x2="155.4" y2="490.27" stroke="#999" stroke-width="0.5"/>
<line x1="153.8" y1="494.59" x2="155.4" y2="494.59" stroke="#999" stroke-width="0.5"/>
<circle cx="154.6" cy="492.81" r="0.75" fill="#fff" stroke="#777" stroke-width="0.5"/>
<line x1="156.05" y1="490.46" x2="156.05" y2="493.6" stroke="#999" stroke-width="0.5"/>
<line x1="155.25" y1="490.46" x2="156.85" y2="490.46" stroke="#999" stroke-width="0.5"/>
<line x1="155.25" y1="493.6" x2="156.85" y2="493.6" stroke="#999" stroke-width="0.5"/>
<circle cx="156.05" cy="492.3" r="0.75" fill="#fff" stroke="#777" stroke-width="0.5"/>
<line x1="157.5" y1="485.36" x2="157.5" y2="496.38" stroke="#999" stroke-width="0.5"/>
<line x1="156.7" y1="485.36" x2="158.3" y2="485.36" stroke="#999" stroke-width="0.5"/>
<line x1="156.7" y1="496.38" x2="158.3" y2="496.38" stroke="#999" stroke-width="0.5"/>
<circle cx="157.5" cy="491.84" r="0.75" fill="#fff" stroke="#777" stroke-width="0.5"/>
<line x1="158.94" y1="487.37" x2="158.94" y2="492.98" stroke="#999" stroke-width="0.5"/>
<line x1="158.14" y1="487.37" x2="159.74" y2="487.37" stroke="#999" stroke-width="0.5"/>
<line x1="158.14" y1="492.98" x2="159.74" y2="492.98" stroke="#999" stroke-width="0.5"/>
<circle cx="158.94" cy="490.67" r="0.75" fill="#fff" stroke="#777" stroke-width="0.5"/>
<line x1="160.39" y1="491.88" x2="160.39" y2="495.96" stroke="#999" stroke-width="0.5"/>
<line x1="159.59" y1="491.88" x2="161.19" y2="491.88" stroke="#999" stroke-width="0.5"/>
<line x1="159.59" y1="495.96" x2="161.19" y2="495.96" stroke="#999" stroke-width="0.5"/>
<circle cx="160.39" cy="494.28" r="0.75" fill="#fff" stroke="#777" stroke-width="0.5"/>
<line x1="161.84" y1="489.18" x2="161.84" y2="495.15" stroke="#999" stroke-width="0.5"/>
<line x1="161.04" y1="489.18" x2="162.64" y2="489.18" stroke="#999" stroke-width="0.5"/>
<line x1="161.04" y1="495.15" x2="162.64" y2="495.15" stroke="#999" stroke-width="0.5"/>
<circle cx="161.84" cy="492.69" r="0.75" fill="#fff" stroke="#777" stroke-width="0.5"/>
<line x1="163.29" y1="487.85" x2="163.29" y2="491.76" stroke="#999" stroke-width="0.5"/>
<line x1="162.49" y1="487.85" x2="164.09" y2="487.85" stroke="#999" stroke-width="0.5"/>
<line x1="162.49" y1="491.76" x2="164.09" y2="491.76" stroke="#999" stroke-width="0.5"/>
<circle cx="163.29" cy="490.15" r="0.75" fill="#fff" stroke="#777" stroke-width="0.5"/>
<line x1="164.73" y1="488.56" x2="164.73" y2="493.09" stroke="#999" stroke-width="0.5"/>
<line x1="163.93" y1="488.56" x2="165.53" y2="488.56" stroke="#999" stroke-width="0.5"/>
<line x1="163.93" y1="493.09" x2="165.53" y2="493.09" stroke="#999" stroke-width="0.5"/>
<circle cx="164.73" cy="491.22" r="0.75" fill="#fff" stroke="#777" stroke-width="0.5"/>
<line x1="166.18" y1="488.53" x2="166.18" y2="492.61" stroke="#999" stroke-width="0.5"/>
<line x1="165.38" y1="488.53" x2="166.98" y2="488.53" stroke="#999" stroke-width="0.5"/>
<line x1="165.38" y1="492.61" x2="166.98" y2="492.61" stroke="#999" stroke-width="0.5"/>
<circle cx="166.18" cy="490.93" r="0.75" fill="#fff" stroke="#777" stroke-width="0.5"/>
<line x1="167.63" y1="489.84" x2="167.63" y2="493.14" stroke="#999" stroke-width="0.5"/>
<line x1="166.83" y1="489.84" x2="168.43" y2="489.84" stroke="#999" stroke-width="0.5"/>
<line x1="166.83" y1="493.14" x2="168.43" y2="493.14" stroke="#999" stroke-width="0.5"/>
<circle cx="167.63" cy="491.78" r="0.75" fill="#fff" stroke="#777" stroke-width="0.5"/>
<line x1="169.07" y1="489.84" x2="169.07" y2="494.84" stroke="#999" stroke-width="0.5"/>
<line x1="168.27" y1="489.84" x2="169.87" y2="489.84" stroke="#999" stroke-width="0.5"/>
<line x1="168.27" y1="494.84" x2="169.87" y2="494.84" stroke="#999" stroke-width="0.5"/>
<circle cx="169.07" cy="492.78" r="0.75" fill="#fff" stroke="#777" stroke-width="0.5"/>
<line x1="170.52" y1="488.45" x2="170.52" y2="493.76" stroke="#999" stroke-width="0.5"/>
<line x1="169.72" y1="488.45" x2="171.32" y2="488.45" stroke="#999" stroke-width="0.5"/>
<line x1="169.72" y1="493.76" x2="171.32" y2="493.76" stroke="#999" stroke-width="0.5"/>
<circle cx="170.52" cy="491.57" r="0.75" fill="#fff" stroke="#777" stroke-width="0.5"/>
<line x1="171.97" y1="486.38" x2="171.97" y2="491.84" stroke="#999" stroke-width="0.5"/>
<line x1="171.17" y1="486.38" x2="172.77" y2="486.38" stroke="#999" stroke-width="0.5"/>
<line x1="171.17" y1="491.84" x2="172.77" y2="491.84" stroke="#999" stroke-width="0.5"/>
<circle cx="171.97" cy="489.59" r="0.75" fill="#fff" stroke="#777" stroke-width="0.5"/>
<line x1="173.41" y1="490.11" x2="173.41" y2="494.37" stroke="#999" stroke-width="0.5"/>
<line x1="172.61" y1="490.11" x2="174.21" y2="490.11" stroke="#999" stroke-width="0.5"/>
<line x1="172.61" y1="494.37" x2="174.21" y2="494.37" stroke="#999" stroke-width="0.5"/>
<circle cx="173.41" cy="492.61" r="0.75" fill="#fff" stroke="#777" stroke-width="0.5"/>
<line x1="174.86" y1="490.81" x2="174.86" y2="494.01" stroke="#999" stroke-width="0.5"/>
<line x1="174.06" y1="490.81" x2="175.66" y2="490.81" stroke="#999" stroke-width="0.5"/>
<line x1="174.06" y1="494.01" x2="175.66" y2="494.01" stroke="#999" stroke-width="0.5"/>
<circle cx="174.86" cy="492.69" r="0.75" fill="#fff" stroke="#777" stroke-width="0.5"/>
<line x1="176.31" y1="492.04" x2="176.31" y2="497.71" stroke="#999" stroke-width="0.5"/>
<line x1="175.51" y1="492.04" x2="177.11" y2="492.04" stroke="#999" stroke-width="0.5"/>
<line x1="175.51" y1="497.71" x2="177.11" y2="497.71" stroke="#999" stroke-width="0.5"/>
<circle cx="176.31" cy="495.38" r="0.75" fill="#fff" stroke="#777" stroke-width="0.5"/>
<line x1="177.75" y1="490.39" x2="177.75" y2="496.22" stroke="#999" stroke-width="0.5"/>
<line x1="176.95" y1="490.39" x2="178.56" y2="490.39" stroke="#999" stroke-width="0.5"/>
<line x1="176.95" y1="496.22" x2="178.56" y2="496.22" stroke="#999" stroke-width="0.5"/>
<circle cx="177.75" cy="493.82" r="0.75" fill="#fff" stroke="#777" stroke-width="0.5"/>
<line x1="179.2" y1="490.57" x2="179.2" y2="493.73" stroke="#999" stroke-width="0.5"/>
<line x1="178.4" y1="490.57" x2="180" y2="490.57" stroke="#999" stroke-width="0.5"/>
<line x1="178.4" y1="493.73" x2="180" y2="493.73" stroke="#999" stroke-width="0.5"/>
<circle cx="179.2" cy="492.43" r="0.75" fill="#fff" stroke="#777" stroke-width="0.5"/>
<line x1="180.65" y1="491.51" x2="180.65" y2="497.53" stroke="#999" stroke-width="0.5"/>
<line x1="179.85" y1="491.51" x2="181.45" y2="491.51" stroke="#999" stroke-width="0.5"/>
<line x1="179.85" y1="497.53" x2="181.45" y2="497.53" stroke="#999" stroke-width="0.5"/>
<circle cx="180.65" cy="495.05" r="0.75" fill="#fff" stroke="#777" stroke-width="0.5"/>
<line x1="182.1" y1="485.33" x2="182.1" y2="489.8" stroke="#999" stroke-width="0.5"/>
<line x1="181.3" y1="485.33" x2="182.9" y2="485.33" stroke="#999" stroke-width="0.5"/>
<line x1="181.3" y1="489.8" x2="182.9" y2="489.8" stroke="#999" stroke-width="0.5"/>
<circle cx="182.1" cy="487.96" r="0.75" fill="#fff" stroke="#777" stroke-width="0.5"/>
<line x1="183.54" y1="484.58" x2="183.54" y2="495.31" stroke="#999" stroke-width="0.5"/>
<line x1="182.74" y1="484.58" x2="184.34" y2="484.58" stroke="#999" stroke-width="0.5"/>
<line x1="182.74" y1="495.31" x2="184.34" y2="495.31" stroke="#999" stroke-width="0.5"/>
<circle cx="183.54" cy="490.89" r="0.75" fill="#fff" stroke="#777" stroke-width="0.5"/>
<line x1="184.99" y1="487.87" x2="184.99" y2="492.62" stroke="#999" stroke-width="0.5"/>
<line x1="184.19" y1="487.87" x2="185.79" y2="487.87" stroke="#999" stroke-width="0.5"/>
<line x1="184.19" y1="492.62" x2="185.79" y2="492.62" stroke="#999" stroke-width="0.5"/>
<circle cx="184.99" cy="490.67" r="0.75" fill="#fff" stroke="#777" stroke-width="0.5"/>
<line x1="186.44" y1="490.85" x2="186.44" y2="495.08" stroke="#999" stroke-width="0.5"/>
<line x1="185.64" y1="490.85" x2="187.24" y2="490.85" stroke="#999" stroke-width="0.5"/>
<line x1="185.64" y1="495.08" x2="187.24" y2="495.08" stroke="#999" stroke-width="0.5"/>
<circle cx="186.44" cy="493.34" r="0.75" fill="#fff" stroke="#777" stroke-width="0.5"/>
<line x1="187.88" y1="489.29" x2="187.88" y2="492.51" stroke="#999" stroke-width="0.5"/>
<line x1="187.08" y1="489.29" x2="188.68" y2="489.29" stroke="#999" stroke-width="0.5"/>
<line x1="187.08" y1="492.51" x2="188.68" y2="492.51" stroke="#999" stroke-width="0.5"/>
<circle cx="187.88" cy="491.19" r="0.75" fill="#fff" stroke="#777" stroke-width="0.5"/>
<line x1="189.33" y1="492.39" x2="189.33" y2="495.86" stroke="#999" stroke-width="0.5"/>
<line x1="188.53" y1="492.39" x2="190.13" y2="492.39" stroke="#999" stroke-width="0.5"/>
<line x1="188.53" y1="495.86" x2="190.13" y2="495.86" stroke="#999" stroke-width="0.5"/>
<circle cx="189.33" cy="494.44" r="0.75" fill="#fff" stroke="#777" stroke-width="0.5"/>
<line x1="190.78" y1="488.08" x2="190.78" y2="495.22" stroke="#999" stroke-width="0.5"/>
<line x1="189.98" y1="488.08" x2="191.58" y2="488.08" stroke="#999" stroke-width="0.5"/>
<line x1="189.98" y1="495.22" x2="191.58" y2="495.22" stroke="#999" stroke-width="0.5"/>
<circle cx="190.78" cy="492.28" r="0.75" fill="#fff" stroke="#777" stroke-width="0.5"/>
<line x1="192.23" y1="492.37" x2="192.23" y2="495.84" stroke="#999" stroke-width="0.5"/>
<line x1="191.43" y1="492.37" x2="193.03" y2="492.37" stroke="#999" stroke-width="0.5"/>
<line x1="191.43" y1="495.84" x2="193.03" y2="495.84" stroke="#999" stroke-width="0.5"/>
<circle cx="192.23" cy="494.41" r="0.75" fill="#fff" stroke="#777" stroke-width="0.5"/>
<line x1="193.67" y1="488.72" x2="193.67" y2="494.55" stroke="#999" stroke-width="0.5"/>
<line x1="192.87" y1="488.72" x2="194.47" y2="488.72" stroke="#999" stroke-width="0.5"/>
<line x1="192.87" y1="494.55" x2="194.47" y2="494.55" stroke="#999" stroke-width="0.5"/>
<circle cx="193.67" cy="492.15" r="0.75" fill="#fff" stroke="#777" stroke-width="0.5"/>
<line x1="195.12" y1="489.73" x2="195.12" y2="495.81" stroke="#999" stroke-width="0.5"/>
<line x1="194.32" y1="489.73" x2="195.92" y2="489.73" stroke="#999" stroke-width="0.5"/>
<line x1="194.32" y1="495.81" x2="195.92" y2="495.81" stroke="#999" stroke-width="0.5"/>
<circle cx="195.12" cy="493.31" r="0.75" fill="#fff" stroke="#777" stroke-width="0.5"/>
<line x1="196.57" y1="491.4" x2="196.57" y2="495.9" stroke="#999" stroke-width="0.5"/>
<line x1="195.77" y1="491.4" x2="197.37" y2="491.4" stroke="#999" stroke-width="0.5"/>
<line x1="195.77" y1="495.9" x2="197.37" y2="495.9" stroke="#999" stroke-width="0.5"/>
<circle cx="196.57" cy="494.05" r="0.75" fill="#fff" stroke="#777" stroke-width="0.5"/>
<line x1="198.01" y1="488.45" x2="198.01" y2="492.5" stroke="#999" stroke-width="0.5"/>
<line x1="197.21" y1="488.45" x2="198.81" y2="488.45" stroke="#999" stroke-width="0.5"/>
<line x1="197.21" y1="492.5" x2="198.81" y2="492.5" stroke="#999" stroke-width="0.5"/>
<circle cx="198.01" cy="490.83" r="0.75" fill="#fff" stroke="#777" stroke-width="0.5"/>
<line x1="199.46" y1="490.08" x2="199.46" y2="493.83" stroke="#999" stroke-width="0.5"/>
<line x1="198.66" y1="490.08" x2="200.26" y2="490.08" stroke="#999" stroke-width="0.5"/>
<line x1="198.66" y1="493.83" x2="200.26" y2="493.83" stroke="#999" stroke-width="0.5"/>
<circle cx="199.46" cy="492.29" r="0.75" fill="#fff" stroke="#777" stroke-width="0.5"/>
<line x1="200.91" y1="491.32" x2="200.91" y2="495.58" stroke="#999" stroke-width="0.5"/>
<line x1="200.11" y1="491.32" x2="201.71" y2="491.32" stroke="#999" stroke-width="0.5"/>
<line x1="200.11" y1="495.58" x2="201.71" y2="495.58" stroke="#999" stroke-width="0.5"/>
<circle cx="200.91" cy="493.83" r="0.75" fill="#fff" stroke="#777" stroke-width="0.5"/>
<line x1="202.35" y1="490.46" x2="202.35" y2="495.88" stroke="#999" stroke-width="0.5"/>
<line x1="201.55" y1="490.46" x2="203.15" y2="490.46" stroke="#999" stroke-width="0.5"/>
<line x1="201.55" y1="495.88" x2="203.15" y2="495.88" stroke="#999" stroke-width="0.5"/>
<circle cx="202.35" cy="493.65" r="0.75" fill="#fff" stroke="#777" stroke-width="0.5"/>
<line x1="203.8" y1="483.6" x2="203.8" y2="494.99" stroke="#999" stroke-width="0.5"/>
<line x1="203" y1="483.6" x2="204.6" y2="483.6" stroke="#999" stroke-width="0.5"/>
<line x1="203" y1="494.99" x2="204.6" y2="494.99" stroke="#999" stroke-width="0.5"/>
<circle cx="203.8" cy="490.3" r="0.75" fill="#fff" stroke="#777" stroke-width="0.5"/>
<line x1="205.25" y1="489.2" x2="205.25" y2="495.19" stroke="#999" stroke-width="0.5"/>
<line x1="204.45" y1="489.2" x2="206.05" y2="489.2" stroke="#999" stroke-width="0.5"/>
<line x1="204.45" y1="495.19" x2="206.05" y2="495.19" stroke="#999" stroke-width="0.5"/>
<circle cx="205.25" cy="492.73" r="0.75" fill="#fff" stroke="#777" stroke-width="0.5"/>
<line x1="206.69" y1="487.7" x2="206.69" y2="491.35" stroke="#999" stroke-width="0.5"/>
<line x1="205.89" y1="487.7" x2="207.5" y2="487.7" stroke="#999" stroke-width="0.5"/>
<line x1="205.89" y1="491.35" x2="207.5" y2="491.35" stroke="#999" stroke-width="0.5"/>
<circle cx="206.69" cy="489.85" r="0.75" fill="#fff" stroke="#777" stroke-width="0.5"/>
<line x1="208.14" y1="490.25" x2="208.14" y2="493.43" stroke="#999" stroke-width="0.5"/>
<line x1="207.34" y1="490.25" x2="208.94" y2="490.25" stroke="#999" stroke-width="0.5"/>
<line x1="207.34" y1="493.43" x2="208.94" y2="493.43" stroke="#999" stroke-width="0.5"/>
<circle cx="208.14" cy="492.12" r="0.75" fill="#fff" stroke="#777" stroke-width="0.5"/>
<line x1="209.59" y1="492.05" x2="209.59" y2="495.17" stroke="#999" stroke-width="0.5"/>
<line x1="208.79" y1="492.05" x2="210.39" y2="492.05" stroke="#999" stroke-width="0.5"/>
<line x1="208.79" y1="495.17" x2="210.39" y2="495.17" stroke="#999" stroke-width="0.5"/>
<circle cx="209.59" cy="493.88" r="0.75" fill="#fff" stroke="#777" stroke-width="0.5"/>
<line x1="211.04" y1="489.17" x2="211.04" y2="494.05" stroke="#999" stroke-width="0.5"/>
<line x1="210.24" y1="489.17" x2="211.84" y2="489.17" stroke="#999" stroke-width="0.5"/>
<line x1="210.24" y1="494.05" x2="211.84" y2="494.05" stroke="#999" stroke-width="0.5"/>
<circle cx="211.04" cy="492.04" r="0.75" fill="#fff" stroke="#777" stroke-width="0.5"/>
<line x1="212.48" y1="485.38" x2="212.48" y2="493.09" stroke="#999" stroke-width="0.5"/>
<line x1="211.68" y1="485.38" x2="213.28" y2="485.38" stroke="#999" stroke-width="0.5"/>
<line x1="211.68" y1="493.09" x2="213.28" y2="493.09" stroke="#999" stroke-width="0.5"/>
<circle cx="212.48" cy="489.92" r="0.75" fill="#fff" stroke="#777" stroke-width="0.5"/>
<line x1="213.93" y1="489.99" x2="213.93" y2="495.03" stroke="#999" stroke-width="0.5"/>
<line x1="213.13" y1="489.99" x2="214.73" y2="489.99" stroke="#999" stroke-width="0.5"/>
<line x1="213.13" y1="495.03" x2="214.73" y2="495.03" stroke="#999" stroke-width="0.5"/>
<circle cx="213.93" cy="492.95" r="0.75" fill="#fff" stroke="#777" stroke-width="0.5"/>
<line x1="215.38" y1="489.96" x2="215.38" y2="495.67" stroke="#999" stroke-width="0.5"/>
<line x1="214.58" y1="489.96" x2="216.18" y2="489.96" stroke="#999" stroke-width="0.5"/>
<line x1="214.58" y1="495.67" x2="216.18" y2="495.67" stroke="#999" stroke-width="0.5"/>
<circle cx="215.38" cy="493.32" r="0.75" fill="#fff" stroke="#777" stroke-width="0.5"/>
<line x1="216.82" y1="489.09" x2="216.82" y2="492.44" stroke="#999" stroke-width="0.5"/>
<line x1="216.02" y1="489.09" x2="217.62" y2="489.09" stroke="#999" stroke-width="0.5"/>
<line x1="216.02" y1="492.44" x2="217.62" y2="492.44" stroke="#999" stroke-width="0.5"/>
<circle cx="216.82" cy="491.06" r="0.75" fill="#fff" stroke="#777" stroke-width="0.5"/>
<line x1="218.27" y1="486.95" x2="218.27" y2="499.65" stroke="#999" stroke-width="0.5"/>
<line x1="217.47" y1="486.95" x2="219.07" y2="486.95" stroke="#999" stroke-width="0.5"/>
<line x1="217.47" y1="499.65" x2="219.07" y2="499.65" stroke="#999" stroke-width="0.5"/>
<circle cx="218.27" cy="494.42" r="0.75" fill="#fff" stroke="#777" stroke-width="0.5"/>
<line x1="219.72" y1="491.26" x2="219.72" y2="495.37" stroke="#999" stroke-width="0.5"/>
<line x1="218.92" y1="491.26" x2="220.52" y2="491.26" stroke="#999" stroke-width="0.5"/>
<line x1="218.92" y1="495.37" x2="220.52" y2="495.37" stroke="#999" stroke-width="0.5"/>
<circle cx="219.72" cy="493.68" r="0.75" fill="#fff" stroke="#777" stroke-width="0.5"/>
<line x1="221.17" y1="490.81" x2="221.17" y2="493.96" stroke="#999" stroke-width="0.5"/>
<line x1="220.37" y1="490.81" x2="221.97" y2="490.81" stroke="#999" stroke-width="0.5"/>
<line x1="220.37" y1="493.96" x2="221.97" y2="493.96" stroke="#999" stroke-width="0.5"/>
<circle cx="221.17" cy="492.66" r="0.75" fill="#fff" stroke="#777" stroke-width="0.5"/>
<line x1="222.61" y1="486.79" x2="222.61" y2="493.35" stroke="#999" stroke-width="0.5"/>
<line x1="221.81" y1="486.79" x2="223.41" y2="486.79" stroke="#999" stroke-width="0.5"/>
<line x1="221.81" y1="493.35" x2="223.41" y2="493.35" stroke="#999" stroke-width="0.5"/>
<circle cx="222.61" cy="490.65" r="0.75" fill="#fff" stroke="#777" stroke-width="0.5"/>
<line x1="224.06" y1="487.16" x2="224.06" y2="491.78" stroke="#999" stroke-width="0.5"/>
<line x1="223.26" y1="487.16" x2="224.86" y2="487.16" stroke="#999" stroke-width="0.5"/>
<line x1="223.26" y1="491.78" x2="224.86" y2="491.78" stroke="#999" stroke-width="0.5"/>
<circle cx="224.06" cy="489.88" r="0.75" fill="#fff" stroke="#777" stroke-width="0.5"/>
<line x1="225.51" y1="489.59" x2="225.51" y2="494.78" stroke="#999" stroke-width="0.5"/>
<line x1="224.71" y1="489.59" x2="226.31" y2="489.59" stroke="#999" stroke-width="0.5"/>
<line x1="224.71" y1="494.78" x2="226.31" y2="494.78" stroke="#999" stroke-width="0.5"/>
<circle cx="225.51" cy="492.65" r="0.75" fill="#fff" stroke="#777" stroke-width="0.5"/>
<line x1="226.95" y1="487.47" x2="226.95" y2="491.51" stroke="#999" stroke-width="0.5"/>
<line x1="226.15" y1="487.47" x2="227.75" y2="487.47" stroke="#999" stroke-width="0.5"/>
<line x1="226.15" y1="491.51" x2="227.75" y2="491.51" stroke="#999" stroke-width="0.5"/>
<circle cx="226.95" cy="489.84" r="0.75" fill="#fff" stroke="#777" stroke-width="0.5"/>
<line x1="228.4" y1="486.24" x2="228.4" y2="491.48" stroke="#999" stroke-width="0.5"/>
<line x1="227.6" y1="486.24" x2="229.2" y2="486.24" stroke="#999" stroke-width="0.5"/>
<line x1="227.6" y1="491.48" x2="229.2" y2="491.48" stroke="#999" stroke-width="0.5"/>
<circle cx="228.4" cy="489.32" r="0.75" fill="#fff" stroke="#777" stroke-width="0.5"/>
<polyline points="85.15,407.1 85.51,412.45 85.87,417.8 86.23,423.15 86.59,428.51 86.96,431.98 87.32,435.46 87.68,438.93 88.04,442.41 88.4,445.88 88.76,449.36 89.13,452.83 89.49,456.31 89.85,458.16 90.21,458.93 90.57,459.69 90.94,460.46 91.3,461.23 91.66,462 92.02,462.77 92.38,463.53 92.74,463.96 93.11,464.39 93.47,464.81 93.83,465.24 94.19,465.66 94.55,466.09 94.91,466.51 95.28,466.94 95.64,467.18 96,467.41 96.36,467.65 96.72,467.89 97.08,468.13 97.45,468.36 97.81,468.6 98.17,468.84 98.53,469.08 98.89,469.31 99.26,469.55 99.62,469.79 99.98,470.02 100.34,470.26 100.7,470.5 101.06,470.74 101.43,470.98 101.79,471.23 102.15,471.47 102.51,471.72 102.87,471.97 103.23,472.22 103.6,472.46 103.96,472.71 104.32,472.96 104.68,473.21 105.04,473.45 105.41,473.7 105.77,473.95 106.13,474.2 106.49,474.44 106.85,474.69 107.21,474.94 107.58,475.19 107.94,475.43 108.3,475.68 108.66,475.93 109.02,476.17 109.38,476.42 109.75,476.67 110.11,476.8 110.47,476.93 110.83,477.06 111.19,477.2 111.55,477.33 111.92,477.46 112.28,477.59 112.64,477.72 113,477.85 113.36,477.98 113.73,478.12 114.09,478.25 114.45,478.38 114.81,478.51 115.17,478.64 115.53,478.77 115.9,478.9 116.26,479.04 116.62,479.17 116.98,479.3 117.34,479.43 117.7,479.56 118.07,479.69 118.43,479.83 118.79,479.96 119.15,480.09 119.51,480.22 119.88,480.35 120.24,480.48 120.6,480.61 120.96,480.72 121.32,480.83 121.68,480.94 122.05,481.05 122.41,481.16 122.77,481.27 123.13,481.38 123.49,481.49 123.85,481.6 124.22,481.71 124.58,481.82 124.94,481.93 125.3,482.04 125.66,482.15 126.02,482.26 126.39,482.37 126.75,482.49 127.11,482.6 127.47,482.71 127.83,482.82 128.2,482.93 128.56,483.04 128.92,483.15 129.28,483.26 129.64,483.37 130,483.48 130.37,483.54 130.73,483.6 131.09,483.66 131.45,483.72 131.81,483.78 132.17,483.85 132.54,483.91 132.9,483.97 133.26,484.03 133.62,484.09 133.98,484.15 134.34,484.21 134.71,484.27 135.07,484.33 135.43,484.39 135.79,484.45 136.15,484.51 136.52,484.58 136.88,484.64 137.24,484.7 137.6,484.76 137.96,484.82 138.32,484.88 138.69,484.94 139.05,485 139.41,485.06 139.77,485.12 140.13,485.18 140.49,485.24 140.86,485.3 141.22,485.37 141.58,485.43 141.94,485.45 142.3,485.48 142.67,485.5 143.03,485.52 143.39,485.55 143.75,485.57 144.11,485.6 144.47,485.62 144.84,485.65 145.2,485.67 145.56,485.69 145.92,485.72 146.28,485.74 146.64,485.77 147.01,485.79 147.37,485.82 147.73,485.84 148.09,485.86 148.45,485.89 148.81,485.91 149.18,485.94 149.54,485.96 149.9,485.99 150.26,486.01 150.62,486.03 150.99,486.06 151.35,486.08 151.71,486.11 152.07,486.13 152.43,486.16 152.79,486.18 153.16,486.2 153.52,486.23 153.88,486.25 154.24,486.28 154.6,486.3 154.96,486.33 155.33,486.35 155.69,486.38 156.05,486.4 156.41,486.42 156.77,486.45 157.14,486.47 157.5,486.5 157.86,486.52 158.22,486.55 158.58,486.57 158.94,486.59 159.31,486.62 159.67,486.64 160.03,486.67 160.39,486.69 160.75,486.72 161.11,486.74 161.48,486.76 161.84,486.79 162.2,486.81 162.56,486.84 162.92,486.86 163.29,486.89 163.65,486.91 164.01,486.93 164.37,486.96 164.73,486.98 165.09,487.01 165.46,487.03 165.82,487.06 166.18,487.08 166.54,487.1 166.9,487.13 167.26,487.15 167.63,487.18 167.99,487.2 168.35,487.23 168.71,487.25 169.07,487.28 169.43,487.3 169.8,487.32 170.16,487.35 170.52,487.37 170.88,487.38 171.24,487.39 171.61,487.4 171.97,487.41 172.33,487.42 172.69,487.42 173.05,487.43 173.41,487.44 173.78,487.45 174.14,487.46 174.5,487.47 174.86,487.47 175.22,487.48 175.58,487.49 175.95,487.5 176.31,487.51 176.67,487.52 177.03,487.53 177.39,487.53 177.75,487.54 178.12,487.55 178.48,487.56 178.84,487.57 179.2,487.58 179.56,487.59 179.93,487.59 180.29,487.6 180.65,487.61 181.01,487.62 181.37,487.63 181.73,487.64 182.1,487.64 182.46,487.65 182.82,487.66 183.18,487.67 183.54,487.68 183.9,487.69 184.27,487.7 184.63,487.7 184.99,487.71 185.35,487.72 185.71,487.73 186.08,487.74 186.44,487.75 186.8,487.76 187.16,487.76 187.52,487.77 187.88,487.78 188.25,487.79 188.61,487.8 188.97,487.81 189.33,487.82 189.69,487.82 190.05,487.83 190.42,487.84 190.78,487.85 191.14,487.86 191.5,487.87 191.86,487.87 192.23,487.88 192.59,487.89 192.95,487.9 193.31,487.91 193.67,487.92 194.03,487.93 194.4,487.93 194.76,487.94 195.12,487.95 195.48,487.96 195.84,487.97 196.2,487.98 196.57,487.99 196.93,487.99 197.29,488 197.65,488.01 198.01,488.02 198.37,488.03 198.74,488.04 199.1,488.05 199.46,488.05 199.82,488.06 200.18,488.06 200.55,488.06 200.91,488.07 201.27,488.07 201.63,488.08 201.99,488.08 202.35,488.08 202.72,488.09 203.08,488.09 203.44,488.09 203.8,488.1 204.16,488.1 204.52,488.1 204.89,488.11 205.25,488.11 205.61,488.12 205.97,488.12 206.33,488.12 206.69,488.13 207.06,488.13 207.42,488.13 207.78,488.14 208.14,488.14 208.5,488.14 208.87,488.15 209.23,488.15 209.59,488.16 209.95,488.16 210.31,488.16 210.67,488.17 211.04,488.17 211.4,488.17 211.76,488.18 212.12,488.18 212.48,488.18 212.84,488.19 213.21,488.19 213.57,488.2 213.93,488.2 214.29,488.2 214.65,488.21 215.02,488.21 215.38,488.21 215.74,488.22 216.1,488.22 216.46,488.23 216.82,488.23 217.19,488.23 217.55,488.24 217.91,488.24 218.27,488.24 218.63,488.25 218.99,488.25 219.36,488.25 219.72,488.26 220.08,488.26 220.44,488.27 220.8,488.27 221.17,488.27 221.53,488.28 221.89,488.28 222.25,488.28 222.61,488.29 222.97,488.29 223.34,488.29 223.7,488.3 224.06,488.3 224.42,488.31 224.78,488.31 225.14,488.31 225.51,488.32 225.87,488.32 226.23,488.32 226.59,488.33 226.95,488.33 227.31,488.33 227.68,488.34 228.04,488.34 228.4,488.35" fill="none" stroke="#8a8a8a" stroke-width="1.3" stroke-linejoin="round"/>
<polyline points="85.15,407.1 85.51,414.4 85.87,421.69 86.23,428.99 86.59,436.29 86.96,440.95 87.32,445.61 87.68,450.28 88.04,454.94 88.4,458.96 88.76,460.41 89.13,461.85 89.49,463.3 89.85,464.75 90.21,466.2 90.57,467.65 90.94,469.09 91.3,470.54 91.66,471.35 92.02,471.99 92.38,472.63 92.74,473.28 93.11,473.92 93.47,474.57 93.83,475.21 94.19,475.6 94.55,476 94.91,476.39 95.28,476.78 95.64,477.17 96,477.57 96.36,477.96 96.72,478.35 97.08,478.75 97.45,479.14 97.81,479.43 98.17,479.65 98.53,479.88 98.89,480.1 99.26,480.33 99.62,480.55 99.98,480.77 100.34,481 100.7,481.22 101.06,481.44 101.43,481.65 101.79,481.83 102.15,482.02 102.51,482.2 102.87,482.39 103.23,482.57 103.6,482.76 103.96,482.94 104.32,483.13 104.68,483.32 105.04,483.5 105.41,483.69 105.77,483.87 106.13,484.06 106.49,484.24 106.85,484.43 107.21,484.61 107.58,484.8 107.94,484.99 108.3,485.17 108.66,485.36 109.02,485.54 109.38,485.73 109.75,485.91 110.11,486.03 110.47,486.14 110.83,486.26 111.19,486.37 111.55,486.49 111.92,486.6 112.28,486.72 112.64,486.83 113,486.95 113.36,487.06 113.73,487.18 114.09,487.29 114.45,487.41 114.81,487.52 115.17,487.64 115.53,487.75 115.9,487.87 116.26,487.98 116.62,488.1 116.98,488.21 117.34,488.33 117.7,488.44 118.07,488.56 118.43,488.67 118.79,488.79 119.15,488.9 119.51,489.02 119.88,489.13 120.24,489.25 120.6,489.34 120.96,489.41 121.32,489.47 121.68,489.53 122.05,489.59 122.41,489.66 122.77,489.72 123.13,489.78 123.49,489.84 123.85,489.91 124.22,489.97 124.58,490.03 124.94,490.1 125.3,490.16 125.66,490.22 126.02,490.28 126.39,490.35 126.75,490.41 127.11,490.47 127.47,490.53 127.83,490.6 128.2,490.66 128.56,490.72 128.92,490.78 129.28,490.85 129.64,490.91 130,490.97 130.37,491 130.73,491.02 131.09,491.05 131.45,491.07 131.81,491.09 132.17,491.12 132.54,491.14 132.9,491.17 133.26,491.19 133.62,491.22 133.98,491.24 134.34,491.26 134.71,491.29 135.07,491.31 135.43,491.34 135.79,491.36 136.15,491.39 136.52,491.41 136.88,491.43 137.24,491.46 137.6,491.48 137.96,491.51 138.32,491.53 138.69,491.56 139.05,491.58 139.41,491.61 139.77,491.63 140.13,491.65 140.49,491.68 140.86,491.7 141.22,491.73 141.58,491.75 141.94,491.76 142.3,491.76 142.67,491.77 143.03,491.77 143.39,491.78 143.75,491.78 144.11,491.79 144.47,491.79 144.84,491.79 145.2,491.8 145.56,491.8 145.92,491.81 146.28,491.81 146.64,491.82 147.01,491.82 147.37,491.83 147.73,491.83 148.09,491.84 148.45,491.84 148.81,491.85 149.18,491.85 149.54,491.86 149.9,491.86 150.26,491.87 150.62,491.87 150.99,491.88 151.35,491.88 151.71,491.89 152.07,491.89 152.43,491.9 152.79,491.9 153.16,491.91 153.52,491.91 153.88,491.92 154.24,491.92 154.6,491.93 154.96,491.93 155.33,491.94 155.69,491.94 156.05,491.95 156.41,491.95 156.77,491.96 157.14,491.96 157.5,491.97 157.86,491.97 158.22,491.97 158.58,491.98 158.94,491.98 159.31,491.99 159.67,491.99 160.03,492 160.39,492 160.75,492.01 161.11,492.01 161.48,492.02 161.84,492.02 162.2,492.03 162.56,492.03 162.92,492.04 163.29,492.04 163.65,492.05 164.01,492.05 164.37,492.06 164.73,492.06 165.09,492.07 165.46,492.07 165.82,492.08 166.18,492.08 166.54,492.09 166.9,492.09 167.26,492.1 167.63,492.1 167.99,492.11 168.35,492.11 168.71,492.12 169.07,492.12 169.43,492.13 169.8,492.13 170.16,492.14 170.52,492.14 170.88,492.14 171.24,492.14 171.61,492.14 171.97,492.14 172.33,492.14 172.69,492.14 173.05,492.14 173.41,492.15 173.78,492.15 174.14,492.15 174.5,492.15 174.86,492.15 175.22,492.15 175.58,492.15 175.95,492.15 176.31,492.15 176.67,492.15 177.03,492.15 177.39,492.15 177.75,492.15 178.12,492.15 178.48,492.15 178.84,492.15 179.2,492.15 179.56,492.16 179.93,492.16 180.29,492.16 180.65,492.16 181.01,492.16 181.37,492.16 181.73,492.16 182.1,492.16 182.46,492.16 182.82,492.16 183.18,492.16 183.54,492.16 183.9,492.16 184.27,492.16 184.63,492.16 184.99,492.16 185.35,492.17 185.71,492.17 186.08,492.17 186.44,492.17 186.8,492.17 187.16,492.17 187.52,492.17 187.88,492.17 188.25,492.17 188.61,492.17 188.97,492.17 189.33,492.17 189.69,492.17 190.05,492.17 190.42,492.17 190.78,492.17 191.14,492.17 191.5,492.18 191.86,492.18 192.23,492.18 192.59,492.18 192.95,492.18 193.31,492.18 193.67,492.18 194.03,492.18 194.4,492.18 194.76,492.18 195.12,492.18 195.48,492.18 195.84,492.18 196.2,492.18 196.57,492.18 196.93,492.18 197.29,492.19 197.65,492.19 198.01,492.19 198.37,492.19 198.74,492.19 199.1,492.19 199.46,492.19 199.82,492.19 200.18,492.19 200.55,492.19 200.91,492.19 201.27,492.19 201.63,492.19 201.99,492.19 202.35,492.19 202.72,492.19 203.08,492.19 203.44,492.2 203.8,492.2 204.16,492.2 204.52,492.2 204.89,492.2 205.25,492.2 205.61,492.2 205.97,492.2 206.33,492.2 206.69,492.2 207.06,492.2 207.42,492.2 207.78,492.2 208.14,492.2 208.5,492.2 208.87,492.2 209.23,492.21 209.59,492.21 209.95,492.21 210.31,492.21 210.67,492.21 211.04,492.21 211.4,492.21 211.76,492.21 212.12,492.21 212.48,492.21 212.84,492.21 213.21,492.21 213.57,492.21 213.93,492.21 214.29,492.21 214.65,492.21 215.02,492.21 215.38,492.22 215.74,492.22 216.1,492.22 216.46,492.22 216.82,492.22 217.19,492.22 217.55,492.22 217.91,492.22 218.27,492.22 218.63,492.22 218.99,492.22 219.36,492.22 219.72,492.22 220.08,492.22 220.44,492.22 220.8,492.22 221.17,492.23 221.53,492.23 221.89,492.23 222.25,492.23 222.61,492.23 222.97,492.23 223.34,492.23 223.7,492.23 224.06,492.23 224.42,492.23 224.78,492.23 225.14,492.23 225.51,492.23 225.87,492.23 226.23,492.23 226.59,492.23 226.95,492.24 227.31,492.24 227.68,492.24 228.04,492.24 228.4,492.24" fill="none" stroke="#000" stroke-width="1.5" stroke-linejoin="round"/>
<text x="249.4" y="391.2" font-size="13.8" font-weight="bold">M</text>
<line x1="269.1" y1="419.5" x2="269.1" y2="504.6" stroke="#555" stroke-width="1"/>
<line x1="269.1" y1="504.6" x2="321" y2="504.6" stroke="#555" stroke-width="1"/>
<line x1="267.6" y1="504.6" x2="269.1" y2="504.6" stroke="#222" stroke-width="0.8"/>
<text x="264.4" y="506.33" font-size="4.8" text-anchor="end" style="stroke:#000;stroke-width:0.16px">0</text>
<line x1="267.6" y1="492.44" x2="269.1" y2="492.44" stroke="#222" stroke-width="0.8"/>
<text x="264.4" y="494.17" font-size="4.8" text-anchor="end" style="stroke:#000;stroke-width:0.16px">1</text>
<line x1="267.6" y1="480.28" x2="269.1" y2="480.28" stroke="#222" stroke-width="0.8"/>
<text x="264.4" y="482.01" font-size="4.8" text-anchor="end" style="stroke:#000;stroke-width:0.16px">2</text>
<line x1="267.6" y1="468.12" x2="269.1" y2="468.12" stroke="#222" stroke-width="0.8"/>
<text x="264.4" y="469.85" font-size="4.8" text-anchor="end" style="stroke:#000;stroke-width:0.16px">3</text>
<line x1="267.6" y1="455.96" x2="269.1" y2="455.96" stroke="#222" stroke-width="0.8"/>
<text x="264.4" y="457.69" font-size="4.8" text-anchor="end" style="stroke:#000;stroke-width:0.16px">4</text>
<line x1="267.6" y1="443.8" x2="269.1" y2="443.8" stroke="#222" stroke-width="0.8"/>
<text x="264.4" y="445.53" font-size="4.8" text-anchor="end" style="stroke:#000;stroke-width:0.16px">5</text>
<line x1="267.6" y1="431.64" x2="269.1" y2="431.64" stroke="#222" stroke-width="0.8"/>
<text x="264.4" y="433.37" font-size="4.8" text-anchor="end" style="stroke:#000;stroke-width:0.16px">6</text>
<line x1="267.6" y1="419.48" x2="269.1" y2="419.48" stroke="#222" stroke-width="0.8"/>
<text x="264.4" y="421.21" font-size="4.8" text-anchor="end" style="stroke:#000;stroke-width:0.16px">7</text>
<line x1="283.8" y1="441.4" x2="283.8" y2="431.2" stroke="#000" stroke-width="1"/>
<line x1="282.1" y1="431.2" x2="285.5" y2="431.2" stroke="#000" stroke-width="1"/>
<rect x="277.1" y="441.9" width="13.4" height="62.7" fill="#fff" stroke="#333" stroke-width="1"/>
<line x1="306.4" y1="454.5" x2="306.4" y2="447.2" stroke="#000" stroke-width="1"/>
<line x1="304.7" y1="447.2" x2="308.1" y2="447.2" stroke="#000" stroke-width="1"/>
<rect x="299.1" y="454.5" width="14.6" height="50.1" fill="#000"/>
<text x="283.1" y="514.2" font-size="7.3" text-anchor="middle">WT</text>
<text x="307" y="514.2" font-size="7.3" text-anchor="middle">KO</text>
<text x="256.7" y="459.2" font-size="8.1" text-anchor="middle" transform="rotate(-90 256.7 459.2)">τfast (s)</text>
<text x="342.6" y="391.2" font-size="13.6" font-weight="bold">N</text>
<line x1="364.4" y1="420" x2="364.4" y2="504" stroke="#555" stroke-width="1"/>
<line x1="364.4" y1="504" x2="414.3" y2="504" stroke="#555" stroke-width="1"/>
<line x1="362.9" y1="504" x2="364.4" y2="504" stroke="#222" stroke-width="0.8"/>
<text x="359" y="505.73" font-size="4.8" text-anchor="end" style="stroke:#000;stroke-width:0.16px">0</text>
<line x1="362.9" y1="486.6" x2="364.4" y2="486.6" stroke="#222" stroke-width="0.8"/>
<text x="359" y="488.33" font-size="4.8" text-anchor="end" style="stroke:#000;stroke-width:0.16px">20</text>
<line x1="362.9" y1="469.2" x2="364.4" y2="469.2" stroke="#222" stroke-width="0.8"/>
<text x="359" y="470.93" font-size="4.8" text-anchor="end" style="stroke:#000;stroke-width:0.16px">40</text>
<line x1="362.9" y1="451.8" x2="364.4" y2="451.8" stroke="#222" stroke-width="0.8"/>
<text x="359" y="453.53" font-size="4.8" text-anchor="end" style="stroke:#000;stroke-width:0.16px">60</text>
<line x1="362.9" y1="434.4" x2="364.4" y2="434.4" stroke="#222" stroke-width="0.8"/>
<text x="359" y="436.13" font-size="4.8" text-anchor="end" style="stroke:#000;stroke-width:0.16px">80</text>
<line x1="378.45" y1="435.3" x2="378.45" y2="422.1" stroke="#000" stroke-width="1"/>
<line x1="376.75" y1="422.1" x2="380.15" y2="422.1" stroke="#000" stroke-width="1"/>
<rect x="372.1" y="435.8" width="12.7" height="68.2" fill="#fff" stroke="#333" stroke-width="1"/>
<line x1="400.75" y1="478.6" x2="400.75" y2="475.4" stroke="#000" stroke-width="1"/>
<line x1="399.05" y1="475.4" x2="402.45" y2="475.4" stroke="#000" stroke-width="1"/>
<rect x="393.9" y="478.6" width="13.7" height="25.4" fill="#000"/>
<text x="378" y="514.2" font-size="7.3" text-anchor="middle">WT</text>
<text x="400.6" y="514.2" font-size="7.3" text-anchor="middle">KO</text>
<text x="350.3" y="456.8" font-size="7.6" text-anchor="middle" transform="rotate(-90 350.3 456.8)">τslow (s)</text>
<line x1="379.1" y1="409.4" x2="405" y2="409.4" stroke="#111" stroke-width="1.3"/>
<polygon points="389.7,400.85 390.36,402.44 392.08,402.58 390.77,403.7 391.17,405.37 389.7,404.48 388.23,405.37 388.63,403.7 387.32,402.58 389.04,402.44" fill="#000"/>
<polygon points="394.5,400.85 395.16,402.44 396.88,402.58 395.57,403.7 395.97,405.37 394.5,404.48 393.03,405.37 393.43,403.7 392.12,402.58 393.84,402.44" fill="#000"/>
</svg>
</body></html>
